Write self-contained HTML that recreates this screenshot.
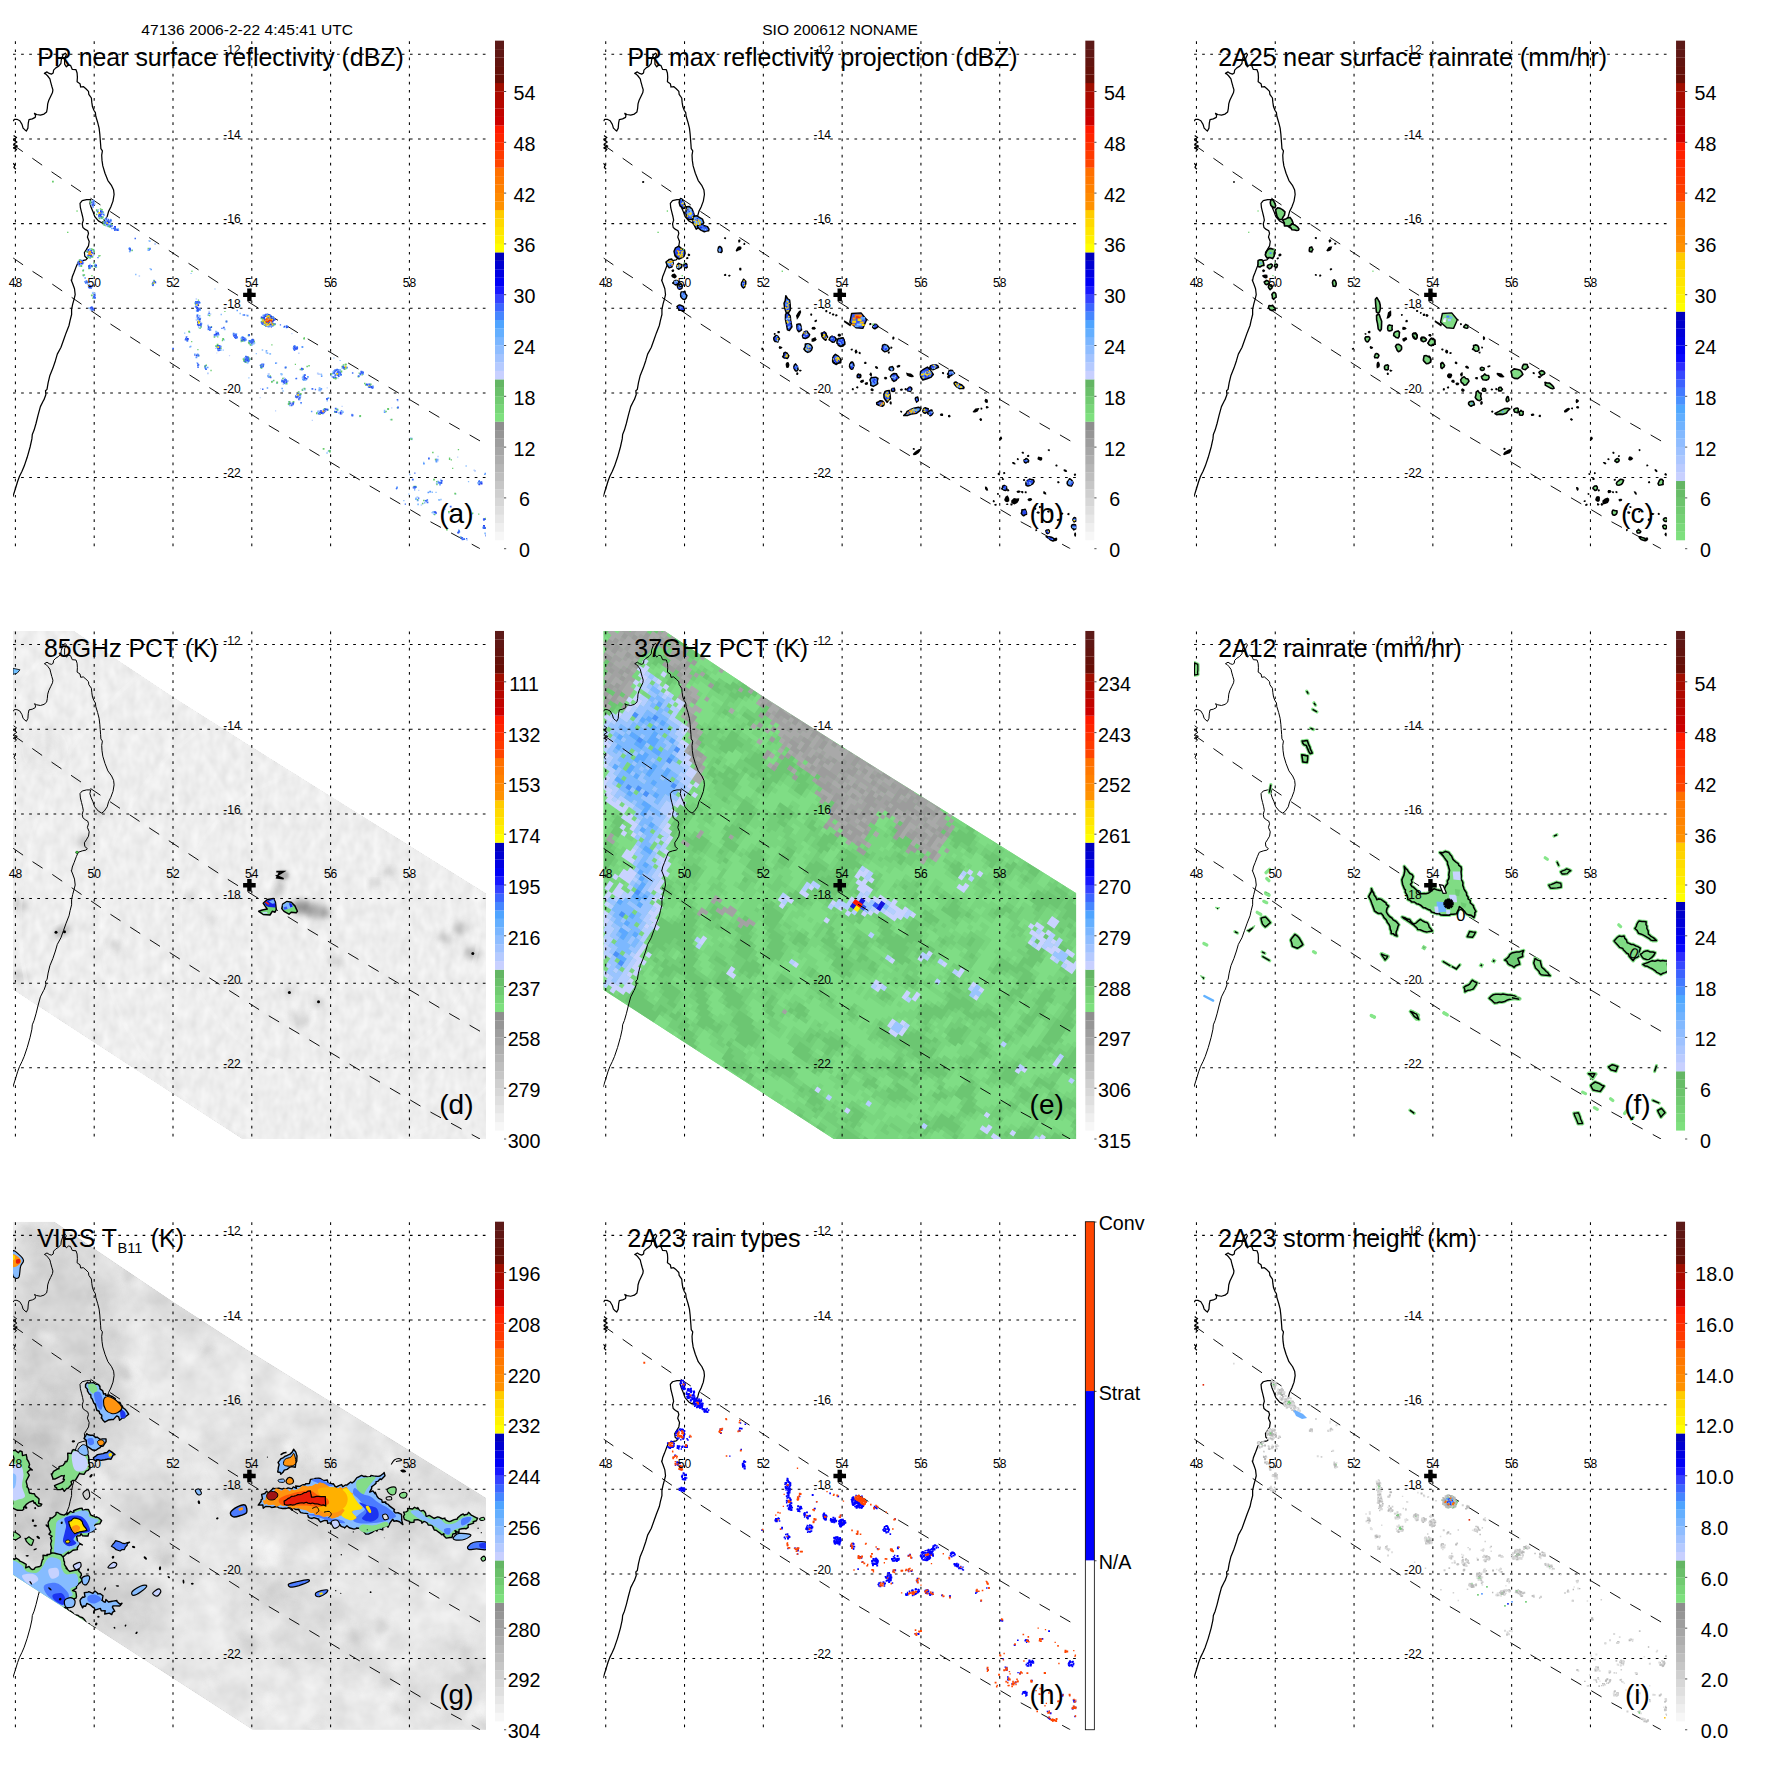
<!DOCTYPE html>
<html><head><meta charset="utf-8"><title>TRMM overpass 47136</title>
<style>
html,body{margin:0;padding:0;background:#fff}
svg{display:block}
text{font-family:"Liberation Sans",Arial,Helvetica,sans-serif;fill:#000}
.ti{font-size:24.9px}
.sub{font-size:14.6px}
.tk{font-size:19.7px}
.ax{font-size:12px}
.pl{font-size:28px}
.hd{font-size:13.9px}
.gr{fill:none;stroke:#000;stroke-width:1.05;stroke-dasharray:2.7 5.4}
.co{fill:none;stroke:#000;stroke-linejoin:round}
.da{fill:none;stroke:#000;stroke-width:0.95}
</style></head><body>
<svg xmlns="http://www.w3.org/2000/svg" width="1771" height="1771" viewBox="0 0 1771 1771">
<rect width="1771" height="1771" fill="#fff"/>
<defs><clipPath id="cp"><rect x="13.0" y="40.7" width="473.0" height="508.0"/></clipPath></defs>

<text class="hd" x="141.3" y="34.7" textLength="211.7" lengthAdjust="spacingAndGlyphs">47136 2006-2-22 4:45:41 UTC</text>
<text class="hd" x="762.2" y="34.7" textLength="155.6" lengthAdjust="spacingAndGlyphs">SIO 200612 NONAME</text>
<g transform="translate(0.00 0.00)">
<g clip-path="url(#cp)">

</g>
<path d="M15.4 41.3V548.7 M94.2 41.3V548.7 M173.0 41.3V548.7 M251.8 41.3V548.7 M330.6 41.3V548.7 M409.4 41.3V548.7" class="gr" stroke-dashoffset="0"/>
<path d="M13.0 54.3H486.0 M13.0 138.9H486.0 M13.0 223.6H486.0 M13.0 308.2H486.0 M13.0 392.9H486.0 M13.0 477.5H486.0" class="gr"/>
<g clip-path="url(#cp)">
<path d="M13.2 121.1 L14.3 119.3 L16.9 119.3 L19.8 120.7 L22.0 124.4 L23.1 128.1 L25.0 129.9 L26.4 131.0 L27.9 128.1 L28.3 122.9 L29.0 119.6 L32.3 118.9 L35.2 117.4 L35.6 115.6 L34.5 113.4 L36.7 114.5 L40.4 115.2 L44.0 114.1 L46.6 111.9 L47.3 108.3 L47.7 103.9 L48.8 100.2 L50.6 96.5 L52.5 92.5 L52.9 89.9 L51.8 86.2 L50.6 81.8 L49.9 78.9 L47.7 76.0 L45.9 74.1 L44.4 73.4 L47.0 71.9 L49.2 73.4 L51.4 74.1 L53.2 73.0 L53.6 70.1 L55.8 67.9 L58.7 66.1 L60.9 63.5 L61.3 59.8 L63.1 54.7 L65.3 53.2 L66.4 54.7 L64.6 58.4 L64.6 64.2 L66.4 66.8 L68.3 65.0 L70.5 65.3 L72.3 69.4 L76.0 69.7 L77.1 73.0 L77.4 77.4 L77.1 81.8 L80.0 83.7 L80.7 87.0 L83.3 86.6 L85.9 88.8 L88.5 91.4 L88.8 94.3 L91.4 98.0 L91.8 102.4 L92.5 106.8 L94.0 110.5 L95.4 112.7 L95.8 116.3 L97.6 122.2 L99.1 128.1 L99.8 134.0 L100.2 139.1 L100.6 144.2 L100.9 148.6 L102.4 150.8 L101.7 155.2 L102.0 160.4 L102.8 165.9 L105.0 173.2 L107.9 180.6 L111.6 185.7 L113.6 190.1 L114.1 194.5 L113.0 201.1 L110.8 207.0 L108.6 211.4 L107.2 216.5 L104.2 220.9 L101.7 222.8 L98.4 220.9 L94.7 216.5 L92.9 211.4 L91.0 207.0 L89.9 203.3 L90.7 199.6 L86.6 199.6 L82.2 200.7 L80.0 203.3 L80.4 207.7 L81.5 212.1 L82.6 216.5 L83.3 220.2 L82.2 223.9 L82.9 227.5 L85.2 229.4 L87.7 230.8 L88.5 233.4 L87.4 237.1 L89.2 241.5 L88.5 245.9 L86.3 249.6 L84.4 252.5 L84.8 256.2 L87.4 258.4 L85.9 259.8 L82.2 260.6 L78.2 262.0 L76.3 266.4 L74.1 272.3 L72.3 276.7 L71.6 280.4 L71.2 280.0 L72.7 283.7 L74.5 288.8 L75.2 294.7 L74.1 299.1 L72.7 304.2 L71.6 309.4 L71.6 314.5 L70.1 320.4 L69.0 325.5 L66.1 332.9 L63.5 340.2 L60.9 347.5 L57.3 354.1 L55.4 360.7 L52.9 368.1 L49.9 375.4 L48.1 382.8 L47.0 389.4 L45.5 390.8 L45.9 394.5 L44.0 399.7 L43.7 400.0 L40.4 406.6 L38.2 414.7 L36.0 423.5 L34.1 430.1 L32.3 434.5 L31.9 438.9 L30.1 447.0 L27.2 457.3 L24.2 466.1 L22.0 471.2 L19.5 476.3 L17.6 481.5 L15.4 488.8 L12.8 496.9 M13.6 135.4 L16.5 137.6 L13.2 139.8 L16.9 142.0 L13.6 144.2 L17.3 146.1 L13.2 147.9 L16.5 149.4 L14.7 151.6 M12.8 163.3 L15.0 165.1 L13.9 167.3 L15.8 169.2" class="co" stroke-width="1.25"/>
<path d="M13.0 144.8 L32.3 158.2 L51.4 171.7 L110.3 211.6 L149.9 238.0 L227.9 289.1 L287.7 326.4 L308.1 339.1 L449.2 423.2 L469.6 434.9 L486.0 444.4" class="da" stroke-dasharray="12.00 11.53"/>
<path d="M13.2 258.0 L32.3 271.2 L52.1 284.0 L110.3 323.9 L149.9 349.6 L189.6 375.0 L229.2 400.2 L268.8 425.5 L309.5 449.6 L369.7 485.9 L409.9 509.5 L430.7 521.9 L471.8 544.2 L480.0 548.7" class="da" stroke-dasharray="11.99 11.52"/>
<g fill="none">
<path stroke="#1C34F0" stroke-width="1.3" d="M91.9 205.2h1.3M92.5 205.3h1.3M90.9 202.6h1.3M100.3 214.5h1.3M101.1 213.8h1.3M99.7 215.8h1.3M106.4 224.8h1.3M109.1 222.4h1.3M106.4 222.9h1.3M106.9 222.4h1.3M114.4 229.2h1.3M88.5 255.2h1.3M87.8 255.6h1.3M89.1 251.6h1.3M81.3 263.8h1.3M78.9 264.4h1.3M78.7 263h1.3M80.8 263.7h1.3M88.2 266.6h1.3M85.7 282.4h1.3M89.5 287.6h1.3M89.8 285.9h1.3M93.5 296.3h1.3M91.8 308.5h1.3M197.1 304.2h1.3M195.4 303.5h1.3M209.5 327.6h1.3M208.3 327.3h1.3M215.8 333.2h1.3M218.6 348.3h1.3M216.9 346.5h1.3M217 349h1.3M196.2 355.8h1.3M195.7 355.2h1.3M233.9 335.3h1.3M247.7 361.3h1.3M248.2 359.8h1.3M303.6 378.3h1.3M336.3 373.3h1.3M343.8 367.3h1.3M366.9 385h1.3M319.1 389.4h1.3M296.1 397h1.3M298.2 395.8h1.3M297.3 396h1.3M291.6 403.2h1.3M291.6 403.7h1.3M326 398.9h1.3M320.1 412.1h1.3M320.6 411h1.3M438.7 482.6h1.3M479.2 483.1h1.3M478.9 483.3h1.3M483.8 527.2h1.3M265.6 319.4h1.3M268.8 314.6h1.3M261.9 324h1.3M270.7 326.8h1.3M272.5 320.5h1.3M270.8 324.5h1.3M274.5 319.5h1.3M266.2 316.4h1.3M272.3 317h1.3M265 322.3h1.3M265.3 325.7h1.3M265.4 316.3h1.3M274.5 324.2h1.3M267.7 324.1h1.3M269.6 318.5h1.3M261.7 317.8h1.3M263 318.2h1.3M263.8 317.6h1.3M272.7 320.1h1.3M269.2 316.6h1.3M266.2 314.9h1.3M271.6 320.4h1.3M263.6 323.1h1.3M268.1 316.4h1.3M265.6 322.4h1.3M268.4 316.1h1.3M271.3 322.2h1.3M267.8 320.5h1.3M264.9 323.8h1.3"/>
<path stroke="#1C34F0" stroke-width="1.8" d="M92.9 203.5h1.8M98.6 214.3h1.8M100 211.2h1.8M98.8 213.4h1.8M106.8 222.6h1.8M106.6 221.1h1.8M114.1 226.9h1.8M89.4 255.7h1.8M88.8 253.4h1.8M90.5 255.7h1.8M87.2 252h1.8M78.7 263.5h1.8M95.2 265.4h1.8M90.4 307.7h1.8M197.4 308.9h1.8M196.6 307.7h1.8M197.1 322.3h1.8M198.6 321.5h1.8M207.8 328.4h1.8M215.8 333.9h1.8M217.6 347.5h1.8M218.9 348.4h1.8M186.9 339h1.8M186.4 338.9h1.8M185.2 339h1.8M242.1 339.9h1.8M246.7 361.2h1.8M247 359.9h1.8M293.9 349h1.8M293.8 347.3h1.8M295.6 348.7h1.8M296.3 347.6h1.8M235.1 335.7h1.8M243 340h1.8M252.6 341.9h1.8M246.4 361.2h1.8M283.8 379.2h1.8M283.7 380.8h1.8M303.1 376.9h1.8M337.5 371.5h1.8M360.6 372.5h1.8M368.8 385.8h1.8M319.4 389.8h1.8M297.2 394.4h1.8M289 403.3h1.8M320.4 413.1h1.8M339.8 412.5h1.8M340 413.6h1.8M339.5 413.4h1.8M435.6 459.6h1.8M480.7 483.5h1.8M484 519.2h1.8M483 525.9h1.8M458.1 531.1h1.8M463 539h1.8M461.1 538h1.8M265.9 321.9h1.8M269.3 316.6h1.8M268.5 322.2h1.8M262.6 320.6h1.8M273.1 319.8h1.8M267.8 323.6h1.8M272.4 323.8h1.8M270.8 318.2h1.8M264.2 316.1h1.8M263.2 317.2h1.8M270.9 324h1.8M272.5 319.1h1.8M264 321.7h1.8M268.9 324.5h1.8M260.8 321.8h1.8M267.3 317.4h1.8M269.5 324.4h1.8M267.6 323.2h1.8M268.8 317.9h1.8M265.9 322.7h1.8M266.6 324h1.8M260.8 317.3h1.8M265.2 316.1h1.8"/>
<path stroke="#1C34F0" stroke-width="1.5" d="M91 202.2h1.5M92.5 203.8h1.5M93.2 203.8h1.5M100.8 212.6h1.5M99.4 212.7h1.5M99.6 215.2h1.5M107.8 221.3h1.5M106.3 224.1h1.5M108 222.5h1.5M90.3 255.7h1.5M90.7 252.5h1.5M91.9 253h1.5M77.6 263.8h1.5M81.4 263.1h1.5M86.7 282.5h1.5M91 307.2h1.5M153.6 282.1h1.5M195.9 303.1h1.5M197.2 305h1.5M197.6 305.3h1.5M198.5 321.7h1.5M197.1 318.1h1.5M207.8 326.7h1.5M213.9 335.2h1.5M216.2 334.3h1.5M216.2 335h1.5M214.7 334.6h1.5M217.1 346h1.5M217.7 347.6h1.5M234.6 335.7h1.5M251.7 341.9h1.5M245.9 359.1h1.5M296.3 347.9h1.5M233.2 335.8h1.5M244.2 339.8h1.5M250.3 340.7h1.5M300.9 368.5h1.5M302 368.9h1.5M283.9 380.2h1.5M282.9 382.1h1.5M283.5 383h1.5M304.6 378h1.5M336.6 374.8h1.5M337.9 374.6h1.5M336.8 372.5h1.5M342.4 367.5h1.5M361.7 373.1h1.5M298.3 398.3h1.5M296.1 397.5h1.5M326.5 399h1.5M319.1 412.5h1.5M322.3 412.3h1.5M323.4 410.7h1.5M320.9 412.8h1.5M323 410.1h1.5M437.8 482.4h1.5M433.5 512h1.5M262.5 322.7h1.5M269.9 316.2h1.5M269.2 316.6h1.5M272 321.7h1.5M268.1 326.6h1.5M269.2 318.4h1.5M271 319.3h1.5M265.2 314.5h1.5M267.5 323.3h1.5M265.8 314.5h1.5M263.7 320h1.5M271.9 320.1h1.5M263.7 323.5h1.5M263.9 319.4h1.5M263.1 318.8h1.5M271.8 324.9h1.5M265.2 326.1h1.5M262 322.3h1.5M263.4 320.4h1.5M263.5 320.9h1.5"/>
<path stroke="#B8D0FF" stroke-width="1.3" d="M93.5 202.2h1.3M100.8 218.7h1.3M101.2 218.6h1.3M109 226h1.3M110.8 220.6h1.3M106.6 217.7h1.3M88.2 257.3h1.3M81.1 260.5h1.3M82.8 276.4h1.3M148.3 240.7h1.3M194.4 302.4h1.3M195.8 317.7h1.3M207.6 325.5h1.3M186.8 336.6h1.3M253 340.1h1.3M245.6 315.1h1.3M235.1 334.6h1.3M280.7 374.9h1.3M306.8 378.6h1.3M321 375.6h1.3M317.9 390.5h1.3M300 395.4h1.3M300.4 403.5h1.3M317.1 411.8h1.3M337.3 410.2h1.3M391.1 407.9h1.3M351.4 414.2h1.3M389.8 419.6h1.3M437.5 460.8h1.3M439.7 484.6h1.3M418.1 490.3h1.3M428.8 491.8h1.3M455.1 494h1.3M423.8 502.9h1.3M439.1 500.3h1.3"/>
<path stroke="#B8D0FF" stroke-width="1.5" d="M97.7 217.4h1.5M108.7 226.7h1.5M109 225.8h1.5M82.7 262.6h1.5M92.4 292.5h1.5M94.3 293.2h1.5M91.9 310.2h1.5M87.9 307.8h1.5M138.6 276.1h1.5M195.6 299.1h1.5M196.3 316.5h1.5M199.4 327.8h1.5M195.9 320.3h1.5M209.8 313.9h1.5M208.4 311.6h1.5M260.9 366.2h1.5M265.5 352.5h1.5M298.1 353.2h1.5M262.7 363.8h1.5M268.2 374h1.5M320.3 374.3h1.5M337.2 378h1.5M301.9 389h1.5M397 400.8h1.5M396.9 399.8h1.5M329.1 451.6h1.5M352.3 414.9h1.5M411.1 439.5h1.5M437.3 456.6h1.5M448.9 459h1.5M473.5 470.3h1.5M440 479.5h1.5M412.5 487.1h1.5M420.6 505.1h1.5M448.2 513.2h1.5M458.4 512h1.5M482.7 519.2h1.5M466.3 539.9h1.5"/>
<path stroke="#B8D0FF" stroke-width="1.8" d="M109.7 225.1h1.8M86.3 256.2h1.8M93.3 251.5h1.8M82.5 275h1.8M154.3 244h1.8M151.8 284.5h1.8M198.9 302.6h1.8M196.7 315h1.8M195.6 319.7h1.8M196.9 325.4h1.8M209.7 330.2h1.8M213.6 336.5h1.8M197.6 356h1.8M207 373.4h1.8M247.9 335.8h1.8M275.4 363h1.8M267.6 374.2h1.8M271.6 381.1h1.8M287 381h1.8M283.3 378.1h1.8M316.9 373.5h1.8M318.1 374.2h1.8M331 376.5h1.8M298.3 392.3h1.8M298.9 399.5h1.8M326.7 409.1h1.8M338.3 413.2h1.8M437.3 459.7h1.8M474.1 470.9h1.8M416.5 497.1h1.8M417.6 498.7h1.8"/>
<path stroke="#B8D0FF" stroke-width="1.2" d="M259.6 397.6h1.2M291.3 333.7h1.2M275 410.9h1.2M457.1 457.1h1.2M304.9 388.5h1.2M326.6 387.9h1.2M311.7 420.3h1.2M341.5 406.4h1.2"/>
<path stroke="#5C9CFF" stroke-width="1.3" d="M92.6 202.6h1.3M105.4 222h1.3M104.1 223.4h1.3M87.5 256.9h1.3M90.2 249.9h1.3M89 265.5h1.3M86.7 281.5h1.3M88.8 284.7h1.3M94.4 297.2h1.3M128.9 251.5h1.3M155 282.8h1.3M196 306.1h1.3M217.4 334h1.3M185.7 338.9h1.3M205 369.4h1.3M232.9 333.8h1.3M244.7 361.7h1.3M246.2 361.6h1.3M245.1 340h1.3M241.8 340.6h1.3M248.4 340.6h1.3M260.3 365.4h1.3M261.1 367.7h1.3M259.6 365.3h1.3M285.2 379.7h1.3M284.5 382.8h1.3M281 381.5h1.3M295.3 378.7h1.3M332.9 371.2h1.3M337.7 372.9h1.3M334.8 378.2h1.3M333.5 378.1h1.3M332.1 376.8h1.3M338.9 370.2h1.3M337.6 371.8h1.3M359.9 374.8h1.3M367.9 387.2h1.3M369.3 387.4h1.3M302.1 390.3h1.3M296.2 394.4h1.3M288.7 404.7h1.3M318.8 414.1h1.3M317.5 411.2h1.3M435.5 460.8h1.3M484.1 474.3h1.3M440.3 480.4h1.3M478.7 480.6h1.3M395.8 488.7h1.3M414 489.8h1.3M431.6 512.7h1.3M444.2 509.1h1.3M471.2 514.3h1.3M461.6 539.2h1.3M273.7 318.9h1.3M270.2 315.6h1.3M266.9 314.2h1.3M271.8 325.6h1.3M263.2 316h1.3M262.1 323.7h1.3M266.1 315.4h1.3M271.3 326.4h1.3M274.3 324.2h1.3"/>
<path stroke="#5C9CFF" stroke-width="1.8" d="M92.5 200.7h1.8M101.4 217.5h1.8M104.5 223.6h1.8M104.6 219.5h1.8M107.2 226h1.8M105.5 220.9h1.8M110.1 224.7h1.8M117.3 230.2h1.8M92.8 250.2h1.8M87.2 255.4h1.8M79.6 260.1h1.8M78.5 265.6h1.8M95.3 266.9h1.8M93 297.9h1.8M128.3 248.7h1.8M148 250.2h1.8M149.1 248.7h1.8M198.9 309.5h1.8M195.9 310.9h1.8M200.5 323.6h1.8M197.2 319.2h1.8M197.2 318.5h1.8M209.1 327.8h1.8M217.7 334.7h1.8M215.2 335.6h1.8M216.1 346.9h1.8M186.5 340.8h1.8M195.5 357.4h1.8M196.7 354.3h1.8M204.5 366.9h1.8M232.7 334.7h1.8M241 338.4h1.8M241.5 337.6h1.8M241.7 337.2h1.8M248.4 358.7h1.8M246.7 362.3h1.8M244.2 359.8h1.8M267.1 376.2h1.8M246.7 315.6h1.8M285.8 325.9h1.8M293.8 345.8h1.8M301.5 347h1.8M235.3 337.7h1.8M235.9 337.7h1.8M245 339.6h1.8M250.8 344.9h1.8M248.6 359.1h1.8M244.4 358.9h1.8M284.3 380.2h1.8M303.2 380h1.8M307 376.9h1.8M301.8 377.7h1.8M332.6 372h1.8M334.2 375.5h1.8M337.7 369.9h1.8M333.1 373.3h1.8M346.2 367.6h1.8M372 386.5h1.8M367.9 386.9h1.8M366.3 384.9h1.8M318.6 389.4h1.8M320.4 388.8h1.8M298.8 394.2h1.8M288.4 401.8h1.8M327.5 398.1h1.8M383.8 412.1h1.8M435.8 460h1.8M435.6 461.7h1.8M423 463.6h1.8M484.6 473.6h1.8M440.5 481.3h1.8M477.5 482.9h1.8M396.2 487.5h1.8M415.1 487.1h1.8M429.3 491.6h1.8M416.8 500.3h1.8M415 498.8h1.8M433.5 511.8h1.8M483.9 528h1.8M457.9 532.4h1.8M262.5 315.7h1.8M268.7 326.1h1.8M262.7 315.3h1.8M272 317.1h1.8M266.1 315.4h1.8M270.7 325.9h1.8M267.1 326.4h1.8M273.8 324.1h1.8M266.7 315.1h1.8M267.7 326.4h1.8"/>
<path stroke="#5C9CFF" stroke-width="1.5" d="M100.9 213.2h1.5M100.4 216.9h1.5M96.9 211.7h1.5M104.7 219.2h1.5M108 224.7h1.5M117.3 229.1h1.5M109.5 226.6h1.5M113.6 227.8h1.5M111.2 228.5h1.5M115.2 229h1.5M87.6 251.8h1.5M87.4 255.4h1.5M88.3 249.7h1.5M77.3 262.9h1.5M94.4 264.4h1.5M84.4 277.9h1.5M84.1 281.8h1.5M92.8 296.6h1.5M129 248h1.5M153.2 280.6h1.5M150.4 269.4h1.5M199 302.8h1.5M197 311.2h1.5M196.7 315.1h1.5M198.7 320.3h1.5M208.5 328.2h1.5M209.6 329.2h1.5M215.8 332.2h1.5M220.2 346.6h1.5M189.9 346.5h1.5M207 367.5h1.5M205 368.2h1.5M241.8 337h1.5M251.1 339.7h1.5M249.8 341.9h1.5M244.6 361.2h1.5M236.5 310.5h1.5M242.5 315h1.5M292.7 348.1h1.5M296.4 346.7h1.5M241.6 338.6h1.5M248.2 342.2h1.5M252.1 343.6h1.5M265.8 350.7h1.5M243.4 361.2h1.5M248.2 359.3h1.5M248 360.7h1.5M248 357.9h1.5M275 363.2h1.5M267.3 376.3h1.5M276.2 383h1.5M281.4 388.6h1.5M266.7 388.1h1.5M305 379.8h1.5M302.1 379.5h1.5M303 375.7h1.5M320.9 376.3h1.5M331.8 373.5h1.5M337.2 374.6h1.5M339.5 373.9h1.5M362.2 374.2h1.5M299.4 395.6h1.5M298.8 395.6h1.5M326.8 409.8h1.5M322.8 409.8h1.5M322.9 412.9h1.5M310.9 411.6h1.5M342.1 412.2h1.5M340.7 410.8h1.5M437.3 481.5h1.5M438.1 482.7h1.5M439.2 484.8h1.5M479.1 481.7h1.5M427.5 492.6h1.5M433.8 514.3h1.5M469.2 519.5h1.5M458 530.2h1.5M463.6 538.9h1.5M272.4 325.8h1.5M265.1 326.1h1.5M273.4 323.8h1.5"/>
<path stroke="#8CC0FF" stroke-width="1.3" d="M90.6 201.2h1.3M102.2 216.6h1.3M101.9 212.4h1.3M99.1 217.1h1.3M109.9 219.3h1.3M111.6 225.2h1.3M90.5 257.2h1.3M92.4 250.8h1.3M80.7 261.4h1.3M82.9 270h1.3M86.7 283.5h1.3M87.7 286.6h1.3M94 293.3h1.3M91.6 306.9h1.3M129.6 251.5h1.3M149.5 268.7h1.3M197.6 301.9h1.3M194.7 306.7h1.3M200.3 327.3h1.3M198.1 327.5h1.3M207.6 314.1h1.3M215.3 348.4h1.3M187 340.4h1.3M184 333.2h1.3M194.3 353.9h1.3M194 354.4h1.3M196.3 362.8h1.3M223.4 340h1.3M223.3 339.3h1.3M235.1 334.3h1.3M250.2 344.6h1.3M253.3 341.4h1.3M252.2 340.2h1.3M248.1 341.7h1.3M265.6 351.2h1.3M260.7 367.4h1.3M282.6 384.1h1.3M284.6 383.9h1.3M302.7 375.2h1.3M302 377h1.3M333.1 371.2h1.3M335.9 370.4h1.3M340.5 372h1.3M338.5 376.3h1.3M370.6 387.8h1.3M368 384.1h1.3M298.7 399.1h1.3M292.7 402.9h1.3M337 410.4h1.3M341.5 413.6h1.3M359.3 416.5h1.3M329.6 450.1h1.3M423 462.3h1.3M465.5 466h1.3M441 483.3h1.3M478.1 481.9h1.3M467.9 481.6h1.3M435.4 492.3h1.3M408.2 494.1h1.3M422.3 503.7h1.3M403.2 500.6h1.3M435.1 513.6h1.3M432.4 512.6h1.3M459 531.9h1.3"/>
<path stroke="#8CC0FF" stroke-width="1.8" d="M90.3 204.3h1.8M93.8 203.9h1.8M102.8 214.5h1.8M103.2 215.2h1.8M103.1 222.1h1.8M105.3 225.5h1.8M110.1 219.9h1.8M116.7 229.3h1.8M89.1 248.9h1.8M88.8 257.3h1.8M91.9 293.2h1.8M89.8 309.5h1.8M148.8 241.2h1.8M199.1 310.1h1.8M195.1 305h1.8M198.4 309.5h1.8M198.7 315.8h1.8M200 323.4h1.8M207.3 329.4h1.8M215.1 331.6h1.8M217.2 349.8h1.8M219.8 350h1.8M197.4 355.6h1.8M223.8 329.4h1.8M235.4 333.9h1.8M235 338.2h1.8M232.7 333.5h1.8M252.8 343.7h1.8M250.9 340.1h1.8M249 341.2h1.8M246.6 362.7h1.8M266.5 353.1h1.8M267 376.4h1.8M283.1 327.1h1.8M293.5 349.4h1.8M243.6 341.1h1.8M249 343.5h1.8M269.3 353.8h1.8M243.6 360h1.8M245.6 356.8h1.8M284.9 367.1h1.8M268.3 376.7h1.8M281 374.4h1.8M280.3 373.9h1.8M304.4 379.8h1.8M330.2 375.4h1.8M339.3 370h1.8M339.7 375.2h1.8M319.3 390.5h1.8M318.7 387.8h1.8M299.5 396.5h1.8M336.3 409.3h1.8M336 409.4h1.8M341.6 411.7h1.8M409.9 438.4h1.8M410.9 438.7h1.8M435.9 483.5h1.8M477.8 483.6h1.8M478.3 484.2h1.8M415.1 498.3h1.8M417.2 504.3h1.8M438.1 499.9h1.8M469 519.8h1.8M482.4 527.5h1.8M484.2 533.3h1.8"/>
<path stroke="#8CC0FF" stroke-width="1.5" d="M92.4 206.2h1.5M98.6 216.9h1.5M96.2 211.1h1.5M97.5 210h1.5M101.9 211.9h1.5M109.2 224.5h1.5M105.2 219.7h1.5M109.9 222.9h1.5M103 224.4h1.5M92.8 254.9h1.5M79.1 265.9h1.5M89.4 264.5h1.5M85.7 280.9h1.5M86.9 284h1.5M88.8 308.3h1.5M131.5 250.2h1.5M147.2 249.9h1.5M152.3 285.5h1.5M135 274.6h1.5M195.2 302.8h1.5M199.7 318.3h1.5M207.5 315.2h1.5M207.2 325.6h1.5M216.9 332.5h1.5M217.1 335.3h1.5M185.6 337.3h1.5M188.9 332.3h1.5M189.1 347h1.5M204.2 367.4h1.5M220.5 314.5h1.5M235.7 337.7h1.5M244.7 338.6h1.5M240.3 338.2h1.5M253.8 342.9h1.5M239.4 313.4h1.5M285.8 327.7h1.5M253.7 343h1.5M261.7 350.1h1.5M248.7 358.8h1.5M243.8 357.7h1.5M246.1 362.1h1.5M246.1 361.9h1.5M282.3 391h1.5M304.2 380.3h1.5M320.7 374.4h1.5M339 371.1h1.5M333.6 376.9h1.5M336 370.2h1.5M341.5 368.2h1.5M304.2 389.7h1.5M299 393.7h1.5M288.9 405.5h1.5M292.6 402.9h1.5M300.5 403h1.5M326.5 400.8h1.5M318.6 411.5h1.5M317 412.2h1.5M338.4 412.7h1.5M383.8 410.4h1.5M327.7 451.2h1.5M326.3 453h1.5M409 474.6h1.5M477.5 483.1h1.5M431.5 492.3h1.5M425.6 500.5h1.5M424 502.7h1.5M440.2 499.6h1.5M432.1 512h1.5M433.2 514.2h1.5M486 519.4h1.5M459.4 536.8h1.5M462.3 538.4h1.5"/>
<path stroke="#8CC0FF" stroke-width="1.2" d="M214.4 289h1.2M248.3 377.8h1.2M190.5 273.5h1.2M255.7 353.7h1.2M339.5 360.5h1.2M222.6 350.2h1.2M333.3 358h1.2"/>
<path stroke="#68CC6C" stroke-width="1.8" d="M89.7 202.6h1.8M98.7 218.3h1.8M101.6 217.6h1.8M102.6 222.6h1.8M103.3 224.6h1.8M93.2 251.4h1.8M91.5 256.9h1.8M85.9 251.6h1.8M87.3 256.8h1.8M80.4 266h1.8M78.8 260.1h1.8M88.1 268.3h1.8M91.2 266.3h1.8M82.2 270.6h1.8M90.9 295.3h1.8M151.7 283.8h1.8M194.5 303.4h1.8M215.2 346.2h1.8M216.7 344.7h1.8M188.2 331.6h1.8M204.1 366.4h1.8M222.2 339h1.8M241.9 340.8h1.8M260.1 366.3h1.8M52 181.7h1.8M303.2 338.6h1.8M240.5 340.2h1.8M247.7 335.3h1.8M243.1 360.4h1.8M242.7 359.2h1.8M244.7 362.1h1.8M260.5 367.9h1.8M271 381.8h1.8M276.3 382.5h1.8M285.7 383.5h1.8M340.5 371.5h1.8M334.7 378.5h1.8M343.7 369.2h1.8M341.4 366.6h1.8M344.6 364.6h1.8M357.6 376.7h1.8M369.8 384.5h1.8M303.5 388.6h1.8M299.8 394h1.8M292.6 401.9h1.8M288.5 401.9h1.8M287.8 404h1.8M334.2 412h1.8M387.3 409h1.8M390.7 419.7h1.8M329 451.5h1.8M328.9 450.9h1.8M322.7 448.9h1.8M359.3 416h1.8M410.5 439.1h1.8M433.1 479.6h1.8M413.4 486.7h1.8M454.3 493.7h1.8M448 511.9h1.8M446 529.7h1.8"/>
<path stroke="#68CC6C" stroke-width="1.3" d="M89.7 201.3h1.3M102.8 212.1h1.3M102.2 217.1h1.3M104.3 225.4h1.3M102.9 219.6h1.3M109 225.8h1.3M109.2 227h1.3M99.3 255.7h1.3M92.1 298.2h1.3M131.4 250.5h1.3M147.6 248.4h1.3M197.8 300.2h1.3M199.4 328.3h1.3M209 315.5h1.3M208.6 315.4h1.3M217.1 336.8h1.3M220.6 348.2h1.3M210.4 370.5h1.3M221.8 340.5h1.3M252.8 339.9h1.3M247.9 342.5h1.3M249.3 358.9h1.3M261.4 366h1.3M261.3 366.8h1.3M269.6 376h1.3M269.7 376.4h1.3M303.7 338h1.3M253.7 341.7h1.3M249 359.7h1.3M285 367.6h1.3M345.4 368.6h1.3M358.5 373.2h1.3M361.5 374.9h1.3M294.9 396.9h1.3M319.6 414.3h1.3M328.4 450.6h1.3M457.8 449.7h1.3M434.8 459.5h1.3M448.9 459.4h1.3M448.9 458.1h1.3M450.7 459.8h1.3M436.3 484.5h1.3M436.1 481.7h1.3M415.1 486.4h1.3M416.9 499.7h1.3M421.9 503.5h1.3M434 514.7h1.3M478.1 514.2h1.3M485.1 518.5h1.3M485.4 528.1h1.3M460.6 537.3h1.3"/>
<path stroke="#68CC6C" stroke-width="1.5" d="M95.9 210h1.5M95.9 214.5h1.5M101.3 209.8h1.5M96.1 210.5h1.5M100.8 218.1h1.5M99.8 209.1h1.5M107.7 226.5h1.5M110.8 224.5h1.5M87.7 257.4h1.5M91 248.9h1.5M92.5 249.8h1.5M89.4 257.9h1.5M93.6 265.8h1.5M94.8 267.2h1.5M98.2 255.9h1.5M82.6 275.2h1.5M83.6 274.9h1.5M153.6 280.8h1.5M200.3 326.8h1.5M210.7 327.1h1.5M213.7 337h1.5M197.8 355.5h1.5M205.5 365.3h1.5M225.7 321.6h1.5M249.8 344.9h1.5M248.1 335.1h1.5M247.6 357.3h1.5M243.8 361.2h1.5M248.2 342.9h1.5M248.6 343.6h1.5M299.6 369.4h1.5M302.5 369.2h1.5M306.4 366.5h1.5M308.3 365.7h1.5M273 380.4h1.5M282.1 378.5h1.5M335.3 378.1h1.5M334.6 378.3h1.5M330.7 374h1.5M332.9 377.9h1.5M345.2 364.6h1.5M342.7 365h1.5M364 383.6h1.5M365 385.1h1.5M301.5 390h1.5M297.8 392.1h1.5M327.1 410.1h1.5M323.7 408.7h1.5M316 413.4h1.5M316 412.9h1.5M336.8 409.4h1.5M387.3 409.1h1.5M385.3 411.4h1.5M396.7 407.7h1.5M432.1 452.5h1.5M423.1 500.5h1.5M471.9 513.2h1.5"/>
<path stroke="#68CC6C" stroke-width="1.2" d="M294.8 364.3h1.2M197.3 349.6h1.2M271.3 344.9h1.2M452.1 468.3h1.2M191.1 341.6h1.2M240.6 341.7h1.2M336.4 409.8h1.2M224.3 311.5h1.2"/>
<path stroke="#2C50F0" stroke-width="1.3" d="M91.8 204.9h1.3M97.3 211.9h1.3M106 224.4h1.3M114.5 228h1.3M109.6 226.1h1.3M116.2 229.9h1.3M113.1 228.5h1.3M90.4 256.5h1.3M94.3 266.4h1.3M85.6 281.1h1.3M152.2 285.4h1.3M208.3 329.3h1.3M219.2 347.7h1.3M186.5 340.5h1.3M185.8 337.1h1.3M252.7 340.7h1.3M251 341.4h1.3M244.5 361.5h1.3M244.3 361.7h1.3M293.1 348.9h1.3M293.5 346.5h1.3M234.1 337.3h1.3M233.2 333.9h1.3M235 334.8h1.3M251.2 342h1.3M249.5 341.1h1.3M251 341.6h1.3M246.2 357.8h1.3M260.1 365.2h1.3M285.9 381.7h1.3M304.4 378.2h1.3M304.2 375.1h1.3M334.9 377.3h1.3M338.2 371.8h1.3M335.8 370.6h1.3M339.5 372.5h1.3M342.5 366.6h1.3M343.3 368.7h1.3M361 371.6h1.3M295.1 396h1.3M299.3 394.9h1.3M295.9 397.1h1.3M292.8 403h1.3M292.5 404.5h1.3M326.7 409.8h1.3M319.8 410.8h1.3M439.3 482.6h1.3M478.3 481.5h1.3M413.6 486.9h1.3M483 519.2h1.3M261.9 318.7h1.3M267.7 315.5h1.3M264 321.7h1.3M264.8 321.4h1.3M265.5 323.9h1.3M270.1 317.9h1.3M269.8 317.6h1.3"/>
<path stroke="#2C50F0" stroke-width="1.5" d="M100.4 216.5h1.5M98.2 216.3h1.5M105.6 218.9h1.5M108 221.4h1.5M104.4 221.9h1.5M88.6 286.7h1.5M94.1 295h1.5M91.9 308h1.5M90 307.9h1.5M91.9 308.1h1.5M129.5 249.9h1.5M152.3 282.6h1.5M196 308.6h1.5M195.3 306.9h1.5M196.6 316h1.5M197.3 322h1.5M197.9 325.6h1.5M210.5 327.2h1.5M217.4 333.8h1.5M217.3 333.1h1.5M234.5 337.5h1.5M251.8 340.2h1.5M252.8 340.5h1.5M283.9 326.4h1.5M283.9 326.4h1.5M241.2 340.4h1.5M243 337.8h1.5M246.1 357.1h1.5M247 357.2h1.5M285.7 382.3h1.5M305.8 378.7h1.5M332.8 377.2h1.5M334.3 371.2h1.5M345 367.3h1.5M368.8 387.2h1.5M326.1 409.5h1.5M441.1 480.7h1.5M480 482.8h1.5M435.4 512.9h1.5M483.5 525.8h1.5M485.2 527.9h1.5M271.1 320.4h1.5M267.1 316.9h1.5M272.2 319.1h1.5M267.8 317.9h1.5M268.5 316.5h1.5M266.8 316.9h1.5"/>
<path stroke="#2C50F0" stroke-width="1.8" d="M109.9 226.3h1.8M116.5 230.1h1.8M87.8 255.2h1.8M90.3 250.8h1.8M87.4 250h1.8M81.2 261h1.8M81.7 263.4h1.8M90.6 265.8h1.8M88.2 265.8h1.8M90.9 286.3h1.8M89 287.5h1.8M93.4 297.1h1.8M92.6 309.4h1.8M91.3 309.7h1.8M129.2 249.2h1.8M154.3 282.2h1.8M196.3 301.9h1.8M197 309.7h1.8M197.1 310.7h1.8M198.1 302.3h1.8M199 319.2h1.8M199.1 325.2h1.8M197 324.3h1.8M199.9 324.1h1.8M217.1 345.8h1.8M243.6 339.8h1.8M244.6 359.6h1.8M286.4 327h1.8M285.9 327.1h1.8M235.5 337.3h1.8M251.9 340.6h1.8M251.7 339.7h1.8M247.2 359.2h1.8M282.5 381.3h1.8M337.4 375.1h1.8M365.9 384.4h1.8M370.5 387h1.8M371.6 387.8h1.8M324.6 409.2h1.8M335.5 412h1.8M440.4 482.8h1.8M478.5 484.4h1.8M414.3 487.2h1.8M434.4 512.1h1.8M483.1 519.6h1.8M483.3 528h1.8M457.2 532.7h1.8M262.9 318.4h1.8M267.5 316.6h1.8M268.5 316.2h1.8"/>
<path stroke="#3C6CF8" stroke-width="1.8" d="M92.6 201.6h1.8M101.1 211.7h1.8M109.5 220.3h1.8M114 230.1h1.8M114.2 229h1.8M88.9 268h1.8M88.8 268h1.8M94.1 297.8h1.8M93.6 295.4h1.8M152.8 282.9h1.8M197.3 302.5h1.8M198.6 309.4h1.8M195 301.9h1.8M200 325.4h1.8M218.7 346h1.8M217.6 350.4h1.8M197.4 355.3h1.8M197.5 364.8h1.8M222.9 327.7h1.8M225.6 321.5h1.8M235.9 337.2h1.8M234.8 334.8h1.8M241.6 337.8h1.8M249.4 341.9h1.8M248.2 335h1.8M245.6 358.7h1.8M247.7 360.8h1.8M172.2 348.7h1.8M234.8 336.8h1.8M250.7 342.7h1.8M251.8 340.8h1.8M245 356.6h1.8M262.5 364.6h1.8M260.3 367.1h1.8M262.2 366.4h1.8M284.6 367.6h1.8M269.7 377.3h1.8M284.8 380.2h1.8M281.5 381.3h1.8M281.5 380.9h1.8M304 375.2h1.8M340.2 374.7h1.8M334.3 370.4h1.8M333.4 373h1.8M333.5 372.9h1.8M334.5 370.2h1.8M337.4 374.2h1.8M336.3 369.7h1.8M342.4 366.6h1.8M362.2 372.4h1.8M361.8 372.9h1.8M359.5 374h1.8M360.5 371.7h1.8M357.8 376.2h1.8M368.5 384.3h1.8M311.5 388.9h1.8M298.9 397.9h1.8M295.3 396.9h1.8M290.6 405.4h1.8M321.8 413.4h1.8M317.8 413.7h1.8M334.8 408.7h1.8M351.5 415.5h1.8M397.1 407.5h1.8M428 458.5h1.8M411.9 479.6h1.8M413.9 487.8h1.8M426.6 502.3h1.8M449.8 506.6h1.8M482.9 527.5h1.8M485.4 535.5h1.8M461.7 539.3h1.8M261.5 323.5h1.8M260.9 322.8h1.8M264 315.4h1.8"/>
<path stroke="#3C6CF8" stroke-width="1.3" d="M92.4 207.2h1.3M102.6 214.3h1.3M103.8 223.4h1.3M111.7 225.8h1.3M87.9 251.8h1.3M77.8 261.3h1.3M90.4 266.7h1.3M97.3 257.7h1.3M88.1 287.7h1.3M93 297h1.3M92.2 309.6h1.3M129.4 248.6h1.3M149.3 249.1h1.3M152.7 284.6h1.3M198.3 302h1.3M196.3 301.9h1.3M196.2 308.7h1.3M198.1 317.4h1.3M209.2 330.3h1.3M194.2 355.1h1.3M197.1 363.5h1.3M204.7 365.8h1.3M204.6 368.1h1.3M221.3 328.4h1.3M233 335.9h1.3M235 338.3h1.3M251.1 340.3h1.3M250.6 341.8h1.3M248.9 340.6h1.3M247.5 359.3h1.3M261.1 364.3h1.3M268.3 377.2h1.3M243.8 315h1.3M286.6 326.7h1.3M279.8 324.8h1.3M294.5 346.8h1.3M293.4 349.1h1.3M293.2 346.7h1.3M294.2 349.3h1.3M234.8 334.4h1.3M246.6 357.8h1.3M261.4 364.1h1.3M281.3 380.2h1.3M371.9 387.5h1.3M314.8 389.5h1.3M298.1 399.6h1.3M291.3 404.9h1.3M300.4 402.7h1.3M326.7 398.6h1.3M326.2 398.7h1.3M323.8 412.3h1.3M414.2 473.2h1.3M439.7 482.7h1.3M438.8 482.5h1.3M480.2 482.4h1.3M395.9 488.5h1.3M412.7 487.8h1.3M418 498.1h1.3M425.8 501h1.3M404.7 504.2h1.3M483.1 519.8h1.3M482.7 527.9h1.3M463.8 539.4h1.3M466 538.7h1.3M272 325.2h1.3M262.4 324.2h1.3"/>
<path stroke="#3C6CF8" stroke-width="1.5" d="M98 215.4h1.5M107.5 219.6h1.5M110 220.9h1.5M81.9 261.7h1.5M88.5 267.2h1.5M85.7 282.2h1.5M85 283.1h1.5M90.5 288.1h1.5M134.5 238.6h1.5M195 303.8h1.5M208.4 313.2h1.5M213.8 334.8h1.5M218.4 345.7h1.5M218.8 350.3h1.5M184.7 339.8h1.5M197.3 367.3h1.5M197.1 365.6h1.5M205.4 369.3h1.5M244.1 338.4h1.5M245.6 360.5h1.5M293.8 350.2h1.5M296 348.9h1.5M243.7 338.8h1.5M252.3 341.2h1.5M301.2 369.8h1.5M301.4 368.7h1.5M285.4 380.2h1.5M285.7 381h1.5M283.9 383h1.5M262 389.3h1.5M303.6 379.1h1.5M295.7 378.5h1.5M335 375.1h1.5M339.6 373.8h1.5M337.3 372.1h1.5M337.9 376.2h1.5M351.9 372.9h1.5M324.7 411h1.5M334 411.5h1.5M351.3 415h1.5M396.7 399.8h1.5M439.7 482.9h1.5M480.8 482h1.5M424.8 500.8h1.5M426.6 500.1h1.5M458.4 531.7h1.5M460.6 537.6h1.5M269.1 315h1.5M272.4 324.6h1.5"/>
<path stroke="#FFE000" stroke-width="1.3" d="M99.4 212.8h1.3M197.7 321.1h1.3M368.5 385.9h1.3"/>
<path stroke="#FFE000" stroke-width="1.8" d="M98.2 212.9h1.8M217.3 347.1h1.8M336.3 373.8h1.8M344.6 366.9h1.8M297.3 394.9h1.8"/>
<path stroke="#FFE000" stroke-width="1.5" d="M106.5 223h1.5M153.3 283.1h1.5M196.2 304.7h1.5M198.6 322.2h1.5M197.9 323h1.5M197.9 322.5h1.5"/>
<path stroke="#FFD800" stroke-width="1.3" d="M88.1 252.1h1.3M266.6 316.3h1.3M265.6 320.1h1.3M262.1 321.6h1.3M267.8 320.7h1.3M266.4 324h1.3M266.7 323.9h1.3M267.4 319.1h1.3M265.2 323.5h1.3M271.1 323.2h1.3M266.3 317h1.3M269 323.5h1.3"/>
<path stroke="#FFD800" stroke-width="1.8" d="M89.1 252.9h1.8M271.6 324.5h1.8M267.9 316.1h1.8M271.3 319.6h1.8M262.5 320.1h1.8M267.6 324.7h1.8M263.9 321.6h1.8M263.9 322h1.8"/>
<path stroke="#FFD800" stroke-width="1.5" d="M79.6 262.1h1.5M267.4 316.4h1.5M269 318.1h1.5M265.9 319.1h1.5M263.6 323h1.5M269.7 319.5h1.5M265.7 325.4h1.5"/>
<path stroke="#FF9C00" stroke-width="1.8" d="M88.1 254.1h1.8M89.3 251.9h1.8M80.1 262.2h1.8M322.4 411.3h1.8"/>
<path stroke="#FF9C00" stroke-width="1.5" d="M88.8 254.1h1.5M90.6 254.6h1.5"/>
<path stroke="#FF9C00" stroke-width="1.3" d="M80.4 262.2h1.3"/>
<path stroke="#FF8C00" stroke-width="1.8" d="M270.4 320h1.8"/>
<path stroke="#FF8C00" stroke-width="1.3" d="M267.3 322.2h1.3"/>
<path stroke="#60C864" stroke-width="1.3" d="M263.7 325.4h1.3M261 321.4h1.3M261.8 318.9h1.3"/>
<path stroke="#60C864" stroke-width="1.5" d="M260.6 318.5h1.5"/>
<path stroke="#60C864" stroke-width="1.8" d="M273.5 324.6h1.8"/>
<path stroke="#F03000" stroke-width="1.5" d="M270.4 320.8h1.5M265.4 319.4h1.5M269 320.2h1.5M266.3 321.5h1.5"/>
<path stroke="#F03000" stroke-width="1.8" d="M267.5 321.1h1.8"/>
<path stroke="#FF5A00" stroke-width="1.3" d="M266.6 318.8h1.3M265.2 321.3h1.3M268.4 319.2h1.3"/>
<path stroke="#FF5A00" stroke-width="1.5" d="M270.6 321.5h1.5M266.2 319.1h1.5M266.1 319.5h1.5"/>
<path stroke="#C8D4FF" stroke-width="1.2" d="M260 388.6h1.2M228.9 355.7h1.2M216.2 353h1.2"/>
</g>
<rect x="76.4" y="210.4" width="1.3" height="1.3" fill="#60D060"/>
<rect x="67.1" y="231.7" width="1.3" height="1.3" fill="#60D060"/>
<rect x="92.5" y="248.9" width="1.3" height="1.3" fill="#60D060"/>
<rect x="191.3" y="270.6" width="1.3" height="1.3" fill="#60D060"/>
<rect x="93.1" y="262.5" width="1.3" height="1.3" fill="#60D060"/>
<rect x="91.3" y="275.0" width="1.3" height="1.3" fill="#60D060"/>
</g>
<g transform="translate(0 0.0)">
<text class="ax" x="15.4" y="286.6" text-anchor="middle">48</text>
<text class="ax" x="94.2" y="286.6" text-anchor="middle">50</text>
<text class="ax" x="173.0" y="286.6" text-anchor="middle">52</text>
<text class="ax" x="251.8" y="286.6" text-anchor="middle">54</text>
<text class="ax" x="330.6" y="286.6" text-anchor="middle">56</text>
<text class="ax" x="409.4" y="286.6" text-anchor="middle">58</text>
<text class="ax" x="240.6" y="54.0" text-anchor="end">-12</text>
<text class="ax" x="240.6" y="138.6" text-anchor="end">-14</text>
<text class="ax" x="240.6" y="223.3" text-anchor="end">-16</text>
<text class="ax" x="240.6" y="307.9" text-anchor="end">-18</text>
<text class="ax" x="240.6" y="392.6" text-anchor="end">-20</text>
<text class="ax" x="240.6" y="477.2" text-anchor="end">-22</text>
<text class="ti" x="37.2" y="65.9">PR near surface reflectivity (dBZ)</text>
<text class="pl" x="456.4" y="522.6" text-anchor="middle">(a)</text>
</g>
<path d="M243.1 294.9h12.6M249.4 288.6v12.6" stroke="#000" stroke-width="4.4"/>
<rect x="495.0" y="531.72" width="9.0" height="8.57" fill="#F7F7F7"/>
<rect x="495.0" y="523.25" width="9.0" height="8.57" fill="#EFEFEF"/>
<rect x="495.0" y="514.78" width="9.0" height="8.57" fill="#E7E7E7"/>
<rect x="495.0" y="506.32" width="9.0" height="8.57" fill="#DFDFDF"/>
<rect x="495.0" y="497.85" width="9.0" height="8.57" fill="#D7D7D7"/>
<rect x="495.0" y="489.38" width="9.0" height="8.57" fill="#CFCFCF"/>
<rect x="495.0" y="480.92" width="9.0" height="8.57" fill="#C6C6C6"/>
<rect x="495.0" y="472.45" width="9.0" height="8.57" fill="#BEBEBE"/>
<rect x="495.0" y="463.98" width="9.0" height="8.57" fill="#B6B6B6"/>
<rect x="495.0" y="455.52" width="9.0" height="8.57" fill="#AEAEAE"/>
<rect x="495.0" y="447.05" width="9.0" height="8.57" fill="#A6A6A6"/>
<rect x="495.0" y="438.58" width="9.0" height="8.57" fill="#9E9E9E"/>
<rect x="495.0" y="430.12" width="9.0" height="8.57" fill="#969696"/>
<rect x="495.0" y="421.65" width="9.0" height="8.57" fill="#8E8E8E"/>
<rect x="495.0" y="413.18" width="9.0" height="8.57" fill="#7EE07E"/>
<rect x="495.0" y="404.72" width="9.0" height="8.57" fill="#78D678"/>
<rect x="495.0" y="396.25" width="9.0" height="8.57" fill="#71CB71"/>
<rect x="495.0" y="387.78" width="9.0" height="8.57" fill="#6AC06A"/>
<rect x="495.0" y="379.32" width="9.0" height="8.57" fill="#64B664"/>
<rect x="495.0" y="370.85" width="9.0" height="8.57" fill="#C8D0FF"/>
<rect x="495.0" y="362.38" width="9.0" height="8.57" fill="#B5CAFF"/>
<rect x="495.0" y="353.92" width="9.0" height="8.57" fill="#A2C3FF"/>
<rect x="495.0" y="345.45" width="9.0" height="8.57" fill="#8FBDFF"/>
<rect x="495.0" y="336.98" width="9.0" height="8.57" fill="#7BB6FF"/>
<rect x="495.0" y="328.52" width="9.0" height="8.57" fill="#64AFFF"/>
<rect x="495.0" y="320.05" width="9.0" height="8.57" fill="#4FA4FF"/>
<rect x="495.0" y="311.58" width="9.0" height="8.57" fill="#4686FF"/>
<rect x="495.0" y="303.12" width="9.0" height="8.57" fill="#3D65FF"/>
<rect x="495.0" y="294.65" width="9.0" height="8.57" fill="#3542FF"/>
<rect x="495.0" y="286.18" width="9.0" height="8.57" fill="#1818FF"/>
<rect x="495.0" y="277.72" width="9.0" height="8.57" fill="#0000F6"/>
<rect x="495.0" y="269.25" width="9.0" height="8.57" fill="#0000E3"/>
<rect x="495.0" y="260.78" width="9.0" height="8.57" fill="#0000D1"/>
<rect x="495.0" y="252.32" width="9.0" height="8.57" fill="#0000BE"/>
<rect x="495.0" y="243.85" width="9.0" height="8.57" fill="#FFFF00"/>
<rect x="495.0" y="235.38" width="9.0" height="8.57" fill="#FFF200"/>
<rect x="495.0" y="226.92" width="9.0" height="8.57" fill="#FFE600"/>
<rect x="495.0" y="218.45" width="9.0" height="8.57" fill="#FFD900"/>
<rect x="495.0" y="209.98" width="9.0" height="8.57" fill="#FFCC00"/>
<rect x="495.0" y="201.52" width="9.0" height="8.57" fill="#FF9200"/>
<rect x="495.0" y="193.05" width="9.0" height="8.57" fill="#FF8A00"/>
<rect x="495.0" y="184.58" width="9.0" height="8.57" fill="#FF8100"/>
<rect x="495.0" y="176.12" width="9.0" height="8.57" fill="#FF7800"/>
<rect x="495.0" y="167.65" width="9.0" height="8.57" fill="#FF7000"/>
<rect x="495.0" y="159.18" width="9.0" height="8.57" fill="#FF4500"/>
<rect x="495.0" y="150.72" width="9.0" height="8.57" fill="#FF3A00"/>
<rect x="495.0" y="142.25" width="9.0" height="8.57" fill="#FF3000"/>
<rect x="495.0" y="133.78" width="9.0" height="8.57" fill="#FF2500"/>
<rect x="495.0" y="125.32" width="9.0" height="8.57" fill="#FF1A00"/>
<rect x="495.0" y="116.85" width="9.0" height="8.57" fill="#CC0000"/>
<rect x="495.0" y="108.38" width="9.0" height="8.57" fill="#C10400"/>
<rect x="495.0" y="99.92" width="9.0" height="8.57" fill="#B60700"/>
<rect x="495.0" y="91.45" width="9.0" height="8.57" fill="#AB0A00"/>
<rect x="495.0" y="82.98" width="9.0" height="8.57" fill="#A00E00"/>
<rect x="495.0" y="74.52" width="9.0" height="8.57" fill="#680E06"/>
<rect x="495.0" y="66.05" width="9.0" height="8.57" fill="#65110A"/>
<rect x="495.0" y="57.58" width="9.0" height="8.57" fill="#62140F"/>
<rect x="495.0" y="49.12" width="9.0" height="8.57" fill="#5F1714"/>
<rect x="495.0" y="40.65" width="9.0" height="8.57" fill="#5C1A18"/>
<path d="M504.0 548.7h2.2" stroke="#000" stroke-width="0.7"/>
<text class="tk" x="524.5" y="557.2" text-anchor="middle">0</text>
<path d="M504.0 497.9h2.2" stroke="#000" stroke-width="0.7"/>
<text class="tk" x="524.5" y="506.4" text-anchor="middle">6</text>
<path d="M504.0 447.1h2.2" stroke="#000" stroke-width="0.7"/>
<text class="tk" x="524.5" y="455.6" text-anchor="middle">12</text>
<path d="M504.0 396.3h2.2" stroke="#000" stroke-width="0.7"/>
<text class="tk" x="524.5" y="404.8" text-anchor="middle">18</text>
<path d="M504.0 345.5h2.2" stroke="#000" stroke-width="0.7"/>
<text class="tk" x="524.5" y="354.0" text-anchor="middle">24</text>
<path d="M504.0 294.7h2.2" stroke="#000" stroke-width="0.7"/>
<text class="tk" x="524.5" y="303.2" text-anchor="middle">30</text>
<path d="M504.0 243.9h2.2" stroke="#000" stroke-width="0.7"/>
<text class="tk" x="524.5" y="252.4" text-anchor="middle">36</text>
<path d="M504.0 193.1h2.2" stroke="#000" stroke-width="0.7"/>
<text class="tk" x="524.5" y="201.6" text-anchor="middle">42</text>
<path d="M504.0 142.3h2.2" stroke="#000" stroke-width="0.7"/>
<text class="tk" x="524.5" y="150.8" text-anchor="middle">48</text>
<path d="M504.0 91.5h2.2" stroke="#000" stroke-width="0.7"/>
<text class="tk" x="524.5" y="100.0" text-anchor="middle">54</text>
</g>
<g transform="translate(590.33 0.00)">
<g clip-path="url(#cp)">

</g>
<path d="M15.4 41.3V548.7 M94.2 41.3V548.7 M173.0 41.3V548.7 M251.8 41.3V548.7 M330.6 41.3V548.7 M409.4 41.3V548.7" class="gr" stroke-dashoffset="0"/>
<path d="M13.0 54.3H486.0 M13.0 138.9H486.0 M13.0 223.6H486.0 M13.0 308.2H486.0 M13.0 392.9H486.0 M13.0 477.5H486.0" class="gr"/>
<g clip-path="url(#cp)">
<path d="M13.2 121.1 L14.3 119.3 L16.9 119.3 L19.8 120.7 L22.0 124.4 L23.1 128.1 L25.0 129.9 L26.4 131.0 L27.9 128.1 L28.3 122.9 L29.0 119.6 L32.3 118.9 L35.2 117.4 L35.6 115.6 L34.5 113.4 L36.7 114.5 L40.4 115.2 L44.0 114.1 L46.6 111.9 L47.3 108.3 L47.7 103.9 L48.8 100.2 L50.6 96.5 L52.5 92.5 L52.9 89.9 L51.8 86.2 L50.6 81.8 L49.9 78.9 L47.7 76.0 L45.9 74.1 L44.4 73.4 L47.0 71.9 L49.2 73.4 L51.4 74.1 L53.2 73.0 L53.6 70.1 L55.8 67.9 L58.7 66.1 L60.9 63.5 L61.3 59.8 L63.1 54.7 L65.3 53.2 L66.4 54.7 L64.6 58.4 L64.6 64.2 L66.4 66.8 L68.3 65.0 L70.5 65.3 L72.3 69.4 L76.0 69.7 L77.1 73.0 L77.4 77.4 L77.1 81.8 L80.0 83.7 L80.7 87.0 L83.3 86.6 L85.9 88.8 L88.5 91.4 L88.8 94.3 L91.4 98.0 L91.8 102.4 L92.5 106.8 L94.0 110.5 L95.4 112.7 L95.8 116.3 L97.6 122.2 L99.1 128.1 L99.8 134.0 L100.2 139.1 L100.6 144.2 L100.9 148.6 L102.4 150.8 L101.7 155.2 L102.0 160.4 L102.8 165.9 L105.0 173.2 L107.9 180.6 L111.6 185.7 L113.6 190.1 L114.1 194.5 L113.0 201.1 L110.8 207.0 L108.6 211.4 L107.2 216.5 L104.2 220.9 L101.7 222.8 L98.4 220.9 L94.7 216.5 L92.9 211.4 L91.0 207.0 L89.9 203.3 L90.7 199.6 L86.6 199.6 L82.2 200.7 L80.0 203.3 L80.4 207.7 L81.5 212.1 L82.6 216.5 L83.3 220.2 L82.2 223.9 L82.9 227.5 L85.2 229.4 L87.7 230.8 L88.5 233.4 L87.4 237.1 L89.2 241.5 L88.5 245.9 L86.3 249.6 L84.4 252.5 L84.8 256.2 L87.4 258.4 L85.9 259.8 L82.2 260.6 L78.2 262.0 L76.3 266.4 L74.1 272.3 L72.3 276.7 L71.6 280.4 L71.2 280.0 L72.7 283.7 L74.5 288.8 L75.2 294.7 L74.1 299.1 L72.7 304.2 L71.6 309.4 L71.6 314.5 L70.1 320.4 L69.0 325.5 L66.1 332.9 L63.5 340.2 L60.9 347.5 L57.3 354.1 L55.4 360.7 L52.9 368.1 L49.9 375.4 L48.1 382.8 L47.0 389.4 L45.5 390.8 L45.9 394.5 L44.0 399.7 L43.7 400.0 L40.4 406.6 L38.2 414.7 L36.0 423.5 L34.1 430.1 L32.3 434.5 L31.9 438.9 L30.1 447.0 L27.2 457.3 L24.2 466.1 L22.0 471.2 L19.5 476.3 L17.6 481.5 L15.4 488.8 L12.8 496.9 M13.6 135.4 L16.5 137.6 L13.2 139.8 L16.9 142.0 L13.6 144.2 L17.3 146.1 L13.2 147.9 L16.5 149.4 L14.7 151.6 M12.8 163.3 L15.0 165.1 L13.9 167.3 L15.8 169.2" class="co" stroke-width="1.25"/>
<path d="M13.0 144.8 L32.3 158.2 L51.4 171.7 L110.3 211.6 L149.9 238.0 L227.9 289.1 L287.7 326.4 L308.1 339.1 L449.2 423.2 L469.6 434.9 L486.0 444.4" class="da" stroke-dasharray="12.00 11.53"/>
<path d="M13.2 258.0 L32.3 271.2 L52.1 284.0 L110.3 323.9 L149.9 349.6 L189.6 375.0 L229.2 400.2 L268.8 425.5 L309.5 449.6 L369.7 485.9 L409.9 509.5 L430.7 521.9 L471.8 544.2 L480.0 548.7" class="da" stroke-dasharray="11.99 11.52"/>
<path d="M93.9 203.0 L95.0 205.9 L94.3 208.2 L92.9 208.6 L91.4 207.2 L89.7 205.9 L88.8 202.6 L89.3 200.1 L90.2 198.6 L91.7 199.3 L92.9 201.1Z" fill="#2C50F0" stroke="#000" stroke-width="1.50" stroke-linejoin="round"/>
<rect x="91.5" y="203.2" width="1.3" height="1.1" fill="#FFD800"/>
<rect x="92.1" y="202.3" width="1.6" height="1.4" fill="#8CC0FF"/>
<path d="M103.0 212.2 L103.9 215.3 L104.0 219.4 L100.8 219.3 L98.1 219.4 L96.1 216.4 L95.5 213.3 L95.8 210.7 L96.1 206.7 L99.1 206.4 L101.7 209.1Z" fill="#5C9CFF" stroke="#000" stroke-width="1.50" stroke-linejoin="round"/>
<rect x="99.0" y="212.6" width="2.3" height="2.0" fill="#FFD800"/>
<rect x="99.6" y="211.3" width="1.6" height="1.4" fill="#8CC0FF"/>
<path d="M112.1 219.1 L113.5 222.8 L111.1 225.5 L108.9 227.1 L105.9 229.1 L104.0 225.4 L102.7 223.0 L102.7 220.5 L102.7 216.8 L105.9 215.7 L109.0 217.3Z" fill="#5C9CFF" stroke="#000" stroke-width="1.50" stroke-linejoin="round"/>
<rect x="105.8" y="219.3" width="2.7" height="2.2" fill="#FFD800"/>
<rect x="105.6" y="221.7" width="1.6" height="1.4" fill="#8CC0FF"/>
<path d="M118.3 230.8 L116.1 231.0 L114.0 231.7 L110.6 230.1 L107.7 227.6 L106.7 225.2 L109.6 225.1 L110.6 223.9 L113.5 225.5 L117.1 226.6 L118.7 229.1Z" fill="#3C6CF8" stroke="#000" stroke-width="1.50" stroke-linejoin="round"/>
<rect x="111.6" y="228.7" width="1.6" height="1.4" fill="#8CC0FF"/>
<path d="M94.7 253.2 L93.7 256.3 L91.3 257.9 L88.7 259.1 L86.3 257.2 L84.5 254.8 L83.7 251.3 L85.2 247.8 L88.5 246.2 L91.3 248.6 L94.1 249.9Z" fill="#2C50F0" stroke="#000" stroke-width="1.50" stroke-linejoin="round"/>
<rect x="87.1" y="253.3" width="2.7" height="2.2" fill="#FFD800"/>
<rect x="87.7" y="251.4" width="2.7" height="2.2" fill="#FF8C00"/>
<rect x="88.3" y="251.2" width="1.6" height="1.4" fill="#8CC0FF"/>
<path d="M82.9 263.2 L82.3 265.0 L81.3 267.1 L78.8 267.8 L77.2 265.8 L76.4 264.1 L75.6 262.0 L77.4 260.7 L78.9 259.4 L81.4 259.0 L82.4 261.3Z" fill="#5C9CFF" stroke="#000" stroke-width="1.50" stroke-linejoin="round"/>
<rect x="79.0" y="262.3" width="2.0" height="1.7" fill="#FFD800"/>
<rect x="78.8" y="262.0" width="2.0" height="1.7" fill="#FF8C00"/>
<rect x="78.6" y="263.2" width="1.6" height="1.4" fill="#8CC0FF"/>
<path d="M91.5 266.3 L91.1 267.5 L89.9 268.2 L88.3 269.3 L86.9 268.1 L86.3 266.9 L86.6 265.7 L87.1 264.6 L88.3 263.3 L90.0 264.2 L91.6 264.8Z" fill="#3C6CF8" stroke="#000" stroke-width="1.50" stroke-linejoin="round"/>
<rect x="88.4" y="266.4" width="1.3" height="1.1" fill="#FFD800"/>
<path d="M96.5 265.7 L96.9 267.1 L95.9 267.9 L94.8 267.5 L94.1 267.0 L93.7 266.1 L93.5 265.1 L93.9 264.1 L94.8 263.8 L95.8 263.5 L96.6 264.4Z" fill="#2C50F0" stroke="#000" stroke-width="1.50" stroke-linejoin="round"/>
<path d="M100.0 255.1 L99.3 256.1 L98.1 256.2 L97.2 255.1 L97.8 253.5 L99.4 254.0Z" fill="#000"/>
<path d="M98.3 258.2 L97.4 259.0 L96.2 259.2 L95.7 258.2 L96.2 257.2 L97.6 257.1Z" fill="#000"/>
<path d="M86.5 276.2 L85.9 277.6 L84.4 278.6 L82.7 277.8 L81.4 276.9 L80.9 275.4 L82.2 274.0 L84.4 273.5 L85.7 275.0Z" fill="#000"/>
<path d="M84.0 270.6 L83.2 271.9 L81.8 272.1 L81.0 270.6 L82.0 269.5 L83.2 269.3Z" fill="#000"/>
<path d="M89.4 282.4 L88.1 283.5 L87.0 284.5 L85.2 284.9 L83.9 283.9 L82.4 283.1 L83.5 282.0 L83.9 280.9 L85.3 280.6 L86.9 280.6 L87.9 281.4Z" fill="#2C50F0" stroke="#000" stroke-width="1.50" stroke-linejoin="round"/>
<path d="M91.9 286.8 L91.5 288.4 L90.2 289.0 L89.1 289.3 L88.1 288.7 L87.4 287.5 L87.0 285.8 L87.7 284.1 L89.2 284.6 L90.5 283.6 L91.6 284.9Z" fill="#5C9CFF" stroke="#000" stroke-width="1.50" stroke-linejoin="round"/>
<path d="M96.6 295.5 L95.9 297.9 L94.5 299.4 L92.8 299.2 L91.5 298.0 L90.4 296.6 L90.3 294.3 L90.9 291.9 L92.8 292.1 L94.6 291.3 L95.1 293.8Z" fill="#5C9CFF" stroke="#000" stroke-width="1.50" stroke-linejoin="round"/>
<rect x="92.6" y="294.6" width="1.6" height="1.4" fill="#8CC0FF"/>
<path d="M94.0 309.8 L93.2 311.3 L90.8 310.2 L88.6 310.2 L88.1 308.2 L86.6 306.5 L87.9 305.5 L89.4 304.9 L91.4 305.7 L93.2 306.7 L93.4 308.2Z" fill="#3C6CF8" stroke="#000" stroke-width="1.50" stroke-linejoin="round"/>
<path d="M131.6 249.5 L131.8 251.2 L130.9 252.6 L129.5 252.1 L128.1 252.0 L127.6 250.3 L128.0 248.8 L128.2 247.2 L129.5 246.5 L130.6 247.1 L131.4 248.2Z" fill="#3C6CF8" stroke="#000" stroke-width="1.50" stroke-linejoin="round"/>
<path d="M150.9 246.8 L151.3 248.2 L150.1 250.0 L148.3 250.6 L146.2 251.8 L145.3 250.5 L146.2 248.7 L147.5 246.8 L149.5 246.3Z" fill="#000"/>
<path d="M150.2 240.8 L149.7 242.3 L148.3 242.7 L147.7 240.8 L148.5 239.6 L149.6 239.5Z" fill="#000"/>
<path d="M155.0 243.9 L154.6 245.0 L153.4 245.0 L152.9 243.9 L153.5 243.0 L154.7 242.7Z" fill="#000"/>
<path d="M135.9 238.1 L135.4 239.2 L134.2 239.0 L133.5 238.1 L134.3 237.2 L135.3 237.2Z" fill="#000"/>
<path d="M155.4 283.7 L154.9 285.4 L154.2 287.1 L153.1 288.0 L151.9 286.8 L151.0 285.0 L151.3 282.5 L152.3 281.3 L153.1 279.2 L154.3 280.2 L155.4 281.2Z" fill="#5C9CFF" stroke="#000" stroke-width="1.50" stroke-linejoin="round"/>
<rect x="152.9" y="283.3" width="1.3" height="1.1" fill="#FFD800"/>
<path d="M151.2 269.1 L150.9 270.5 L149.3 270.4 L148.7 269.1 L149.2 267.7 L150.8 267.7Z" fill="#000"/>
<path d="M136.1 275.0 L135.4 276.1 L134.2 275.9 L133.4 275.0 L134.3 274.1 L135.4 273.8Z" fill="#000"/>
<path d="M140.4 275.6 L139.5 276.4 L138.5 276.7 L137.7 275.6 L138.7 274.8 L139.6 274.8Z" fill="#000"/>
<path d="M199.9 305.1 L200.0 310.0 L198.6 312.2 L197.2 315.1 L195.5 311.6 L194.3 307.9 L193.7 303.3 L194.9 300.6 L195.5 295.7 L197.4 298.9 L199.3 300.1Z" fill="#3C6CF8" stroke="#000" stroke-width="1.50" stroke-linejoin="round"/>
<rect x="195.9" y="304.1" width="1.5" height="1.2" fill="#FFD800"/>
<rect x="196.2" y="307.5" width="1.6" height="1.4" fill="#8CC0FF"/>
<path d="M200.4 321.2 L201.6 326.8 L200.2 328.9 L199.0 330.6 L197.1 329.9 L196.1 324.1 L195.1 319.4 L195.2 314.6 L196.4 312.5 L198.1 313.7 L199.9 316.0Z" fill="#2C50F0" stroke="#000" stroke-width="1.50" stroke-linejoin="round"/>
<rect x="197.7" y="318.1" width="1.3" height="1.1" fill="#FFD800"/>
<rect x="198.4" y="318.1" width="1.6" height="1.4" fill="#8CC0FF"/>
<path d="M209.6 315.3 L208.3 317.4 L206.6 319.8 L206.2 317.6 L205.6 315.7 L207.2 313.1 L208.5 311.2 L210.1 310.1 L210.9 311.9Z" fill="#000"/>
<path d="M210.9 327.8 L211.2 329.9 L209.8 331.0 L208.3 331.7 L207.2 330.0 L206.7 328.6 L206.6 326.9 L206.5 324.4 L208.3 324.0 L209.9 324.1 L210.6 326.1Z" fill="#3C6CF8" stroke="#000" stroke-width="1.50" stroke-linejoin="round"/>
<rect x="209.4" y="327.2" width="1.6" height="1.4" fill="#8CC0FF"/>
<path d="M219.3 334.6 L218.4 336.7 L216.8 337.8 L215.0 338.6 L212.8 338.0 L212.1 335.7 L213.0 333.8 L213.6 332.1 L215.1 331.3 L216.9 331.3 L217.8 333.0Z" fill="#2C50F0" stroke="#000" stroke-width="1.50" stroke-linejoin="round"/>
<rect x="215.1" y="333.4" width="1.7" height="1.4" fill="#FFD800"/>
<rect x="215.6" y="333.7" width="1.6" height="1.4" fill="#8CC0FF"/>
<path d="M222.0 347.6 L221.2 349.9 L219.7 351.6 L217.4 352.4 L215.2 351.1 L213.5 349.1 L214.9 346.7 L215.0 343.9 L217.5 343.8 L219.5 344.2 L221.1 345.5Z" fill="#5C9CFF" stroke="#000" stroke-width="1.50" stroke-linejoin="round"/>
<rect x="217.5" y="346.9" width="1.9" height="1.6" fill="#FFD800"/>
<rect x="219.2" y="346.2" width="1.6" height="1.4" fill="#8CC0FF"/>
<path d="M189.2 338.9 L188.1 340.3 L187.5 342.0 L186.0 341.6 L184.6 341.4 L183.6 339.9 L183.4 337.9 L184.5 336.4 L185.9 335.5 L187.4 336.1 L188.3 337.5Z" fill="#2C50F0" stroke="#000" stroke-width="1.50" stroke-linejoin="round"/>
<rect x="186.4" y="338.6" width="1.3" height="1.1" fill="#FFD800"/>
<path d="M189.8 332.1 L189.0 333.3 L187.3 333.3 L186.9 332.1 L187.5 331.1 L188.9 331.0Z" fill="#000"/>
<path d="M185.4 334.0 L184.9 334.8 L183.8 335.1 L183.3 334.0 L183.8 332.9 L185.0 333.0Z" fill="#000"/>
<path d="M192.3 347.6 L190.8 348.8 L189.1 349.0 L188.3 347.6 L189.0 346.1 L190.8 346.5Z" fill="#000"/>
<path d="M198.5 355.7 L197.9 357.2 L196.9 358.4 L195.3 358.1 L193.8 357.9 L192.3 356.7 L193.5 355.1 L193.4 353.1 L195.1 352.3 L196.8 353.2 L197.5 354.5Z" fill="#2C50F0" stroke="#000" stroke-width="1.50" stroke-linejoin="round"/>
<rect x="195.2" y="355.8" width="1.3" height="1.1" fill="#FFD800"/>
<path d="M199.1 365.0 L198.5 367.5 L197.1 367.9 L196.0 367.8 L195.5 366.0 L195.3 363.9 L196.1 362.6 L197.2 362.0 L198.5 362.5Z" fill="#000"/>
<path d="M207.3 367.5 L207.8 369.5 L206.7 370.9 L205.2 370.9 L204.3 369.5 L203.7 368.3 L203.5 366.7 L204.1 365.1 L205.2 363.9 L206.3 365.4 L207.0 366.2Z" fill="#5C9CFF" stroke="#000" stroke-width="1.50" stroke-linejoin="round"/>
<path d="M211.5 370.6 L210.4 371.4 L209.4 371.5 L208.5 370.6 L209.3 369.7 L210.5 369.8Z" fill="#000"/>
<path d="M208.2 373.7 L207.4 375.0 L206.1 375.1 L205.9 373.7 L206.2 372.6 L207.5 372.3Z" fill="#000"/>
<path d="M225.7 328.4 L224.1 329.8 L222.0 329.6 L221.1 328.4 L221.9 327.1 L224.2 326.8Z" fill="#000"/>
<path d="M226.8 320.9 L226.0 321.8 L224.7 322.2 L223.8 320.9 L224.9 320.0 L226.3 319.5Z" fill="#000"/>
<path d="M221.9 314.7 L221.5 315.8 L220.3 315.7 L219.9 314.7 L220.2 313.6 L221.6 313.5Z" fill="#000"/>
<path d="M225.6 338.4 L226.5 339.5 L225.0 341.0 L223.1 341.8 L221.3 341.7 L221.2 340.3 L221.2 338.8 L223.1 337.9 L225.1 337.0Z" fill="#000"/>
<path d="M236.2 335.1 L237.3 337.2 L235.8 338.1 L235.3 340.2 L233.7 338.4 L232.3 337.6 L231.5 335.7 L231.0 333.2 L232.8 333.0 L233.9 331.8 L235.5 333.0Z" fill="#3C6CF8" stroke="#000" stroke-width="1.50" stroke-linejoin="round"/>
<rect x="233.0" y="336.3" width="1.3" height="1.1" fill="#FFD800"/>
<path d="M245.7 338.9 L244.6 340.2 L243.5 341.4 L241.7 341.7 L240.6 340.5 L238.7 339.8 L239.4 338.3 L240.2 337.0 L241.7 336.0 L243.2 337.2 L244.5 337.7Z" fill="#2C50F0" stroke="#000" stroke-width="1.50" stroke-linejoin="round"/>
<path d="M254.4 342.0 L254.1 344.1 L252.7 346.0 L250.3 346.6 L248.0 345.4 L247.4 343.1 L247.4 341.0 L248.9 339.7 L250.4 338.2 L252.7 338.1 L253.6 340.3Z" fill="#5C9CFF" stroke="#000" stroke-width="1.50" stroke-linejoin="round"/>
<rect x="250.2" y="342.8" width="1.6" height="1.4" fill="#8CC0FF"/>
<path d="M250.6 335.2 L249.8 336.4 L248.4 336.3 L247.9 335.2 L248.5 334.3 L249.7 334.1Z" fill="#000"/>
<path d="M250.5 360.1 L250.4 362.7 L247.8 363.0 L246.0 364.5 L243.8 363.4 L242.3 361.4 L242.4 358.8 L243.7 356.6 L246.0 356.0 L248.1 356.5 L249.5 358.1Z" fill="#2C50F0" stroke="#000" stroke-width="1.50" stroke-linejoin="round"/>
<rect x="245.2" y="358.7" width="1.9" height="1.6" fill="#FFD800"/>
<rect x="247.2" y="360.8" width="1.6" height="1.4" fill="#8CC0FF"/>
<path d="M262.3 365.0 L262.0 366.9 L261.2 368.5 L260.1 367.5 L259.3 366.1 L259.5 364.1 L259.9 362.1 L261.2 361.2 L262.3 362.7Z" fill="#000"/>
<path d="M267.4 352.0 L266.3 353.2 L265.1 353.8 L264.5 352.0 L265.1 350.4 L266.4 350.6Z" fill="#000"/>
<path d="M269.9 376.2 L270.1 377.4 L269.0 377.8 L268.1 377.6 L267.1 377.6 L266.9 376.6 L266.8 375.8 L267.2 374.9 L268.0 374.1 L269.0 374.8 L270.0 375.1Z" fill="#2C50F0" stroke="#000" stroke-width="1.50" stroke-linejoin="round"/>
<path d="M237.2 311.0 L236.7 312.2 L235.3 312.2 L234.8 311.0 L235.5 310.1 L236.6 310.0Z" fill="#000"/>
<path d="M240.7 312.9 L240.2 313.7 L239.1 314.0 L238.6 312.9 L239.3 312.1 L240.3 311.9Z" fill="#000"/>
<path d="M244.1 314.7 L243.4 315.6 L242.3 315.6 L241.4 314.7 L242.1 313.4 L243.6 313.4Z" fill="#000"/>
<path d="M247.4 315.3 L246.5 316.3 L245.2 316.6 L244.8 315.3 L245.4 314.3 L246.6 314.3Z" fill="#000"/>
<path d="M173.1 348.9 L172.6 349.7 L171.2 350.1 L171.0 348.9 L171.2 347.7 L172.8 347.8Z" fill="#000"/>
<path d="M54.1 182.0 L53.2 182.9 L52.1 183.1 L51.8 182.0 L52.2 181.0 L53.3 181.1Z" fill="#000"/>
<path d="M288.0 326.5 L286.7 327.5 L285.7 328.0 L284.6 328.8 L283.3 328.2 L282.3 327.2 L283.0 326.0 L283.4 325.0 L284.6 324.2 L286.1 324.5 L286.9 325.5Z" fill="#2C50F0" stroke="#000" stroke-width="1.50" stroke-linejoin="round"/>
<path d="M281.3 324.0 L280.6 325.1 L279.3 325.2 L278.8 324.0 L279.5 323.1 L280.6 322.9Z" fill="#000"/>
<path d="M304.3 338.1 L303.5 339.5 L302.3 339.8 L301.8 338.1 L302.4 336.7 L303.6 336.5Z" fill="#000"/>
<path d="M299.1 348.3 L298.0 350.3 L296.3 351.3 L294.4 351.8 L292.8 350.7 L291.5 349.3 L292.0 347.4 L292.3 345.2 L294.3 344.4 L296.3 345.2 L297.8 346.4Z" fill="#5C9CFF" stroke="#000" stroke-width="1.50" stroke-linejoin="round"/>
<rect x="293.8" y="347.6" width="1.6" height="1.4" fill="#8CC0FF"/>
<path d="M302.2 347.6 L301.6 348.4 L300.4 348.9 L300.0 347.6 L300.5 346.6 L301.6 346.8Z" fill="#000"/>
<path d="M299.5 352.6 L299.1 353.4 L298.0 353.7 L297.3 352.6 L298.0 351.5 L299.3 351.4Z" fill="#000"/>
<path d="M235.6 334.9 L235.9 336.4 L236.0 337.8 L235.8 339.7 L234.1 339.4 L232.7 337.7 L231.7 336.1 L232.1 334.7 L231.9 332.9 L233.3 333.0 L234.7 333.1Z" fill="#3C6CF8" stroke="#000" stroke-width="1.50" stroke-linejoin="round"/>
<rect x="233.8" y="336.0" width="1.3" height="1.1" fill="#FFD800"/>
<path d="M245.8 339.6 L244.8 340.7 L244.0 341.9 L242.3 342.2 L241.0 341.2 L240.0 340.2 L239.7 338.8 L240.6 337.5 L242.3 337.4 L244.2 336.9 L245.3 338.2Z" fill="#5C9CFF" stroke="#000" stroke-width="1.50" stroke-linejoin="round"/>
<path d="M254.1 342.0 L254.5 344.4 L252.1 344.9 L250.2 346.3 L248.8 344.4 L246.6 343.3 L246.7 340.8 L247.8 338.6 L250.3 338.5 L252.7 337.8 L253.8 340.1Z" fill="#3C6CF8" stroke="#000" stroke-width="1.50" stroke-linejoin="round"/>
<rect x="249.7" y="341.1" width="1.6" height="1.4" fill="#8CC0FF"/>
<path d="M250.7 335.2 L249.9 336.6 L248.1 336.4 L247.1 335.2 L248.0 333.8 L249.9 333.8Z" fill="#000"/>
<path d="M266.8 351.4 L266.4 352.9 L265.1 352.7 L264.2 351.4 L265.0 349.7 L266.4 349.6Z" fill="#000"/>
<path d="M270.4 353.0 L270.1 354.2 L268.9 353.9 L268.2 353.0 L268.7 351.8 L270.0 352.0Z" fill="#000"/>
<path d="M262.6 349.5 L261.9 350.5 L260.7 350.6 L260.1 349.5 L260.9 348.7 L262.0 348.4Z" fill="#000"/>
<path d="M248.5 357.9 L250.6 359.9 L249.4 362.2 L247.5 363.5 L245.4 362.7 L242.9 362.7 L242.6 360.1 L242.4 358.0 L243.3 356.1 L245.1 354.3 L247.5 355.8Z" fill="#3C6CF8" stroke="#000" stroke-width="1.50" stroke-linejoin="round"/>
<rect x="246.2" y="358.1" width="1.9" height="1.6" fill="#FFD800"/>
<rect x="244.4" y="360.2" width="1.6" height="1.4" fill="#8CC0FF"/>
<path d="M263.7 365.4 L263.1 367.1 L262.4 369.1 L261.0 369.3 L259.9 368.1 L259.2 366.4 L259.4 364.5 L260.2 363.2 L261.1 362.4 L262.3 362.0 L263.2 363.6Z" fill="#3C6CF8" stroke="#000" stroke-width="1.50" stroke-linejoin="round"/>
<path d="M276.4 362.9 L275.7 364.1 L274.3 364.1 L273.5 362.9 L274.4 361.8 L275.7 361.7Z" fill="#000"/>
<path d="M287.9 368.5 L286.4 368.9 L284.9 368.0 L284.6 366.6 L285.9 365.9 L287.5 367.0Z" fill="#000"/>
<path d="M303.4 368.8 L303.0 370.0 L301.9 370.5 L300.9 370.5 L299.8 370.2 L298.8 369.4 L298.8 368.1 L299.6 367.1 L300.8 366.9 L302.1 366.6 L302.8 367.7Z" fill="#5C9CFF" stroke="#000" stroke-width="1.50" stroke-linejoin="round"/>
<path d="M310.1 365.5 L309.6 367.0 L307.2 367.7 L306.3 366.9 L306.4 365.7 L308.7 364.8Z" fill="#000"/>
<path d="M271.3 375.6 L270.9 377.6 L269.2 378.2 L267.6 378.0 L266.6 376.5 L267.2 374.9 L267.9 373.8 L269.1 373.7 L270.6 373.8Z" fill="#000"/>
<path d="M273.8 381.2 L272.7 382.4 L270.6 383.0 L269.5 381.2 L271.1 380.0 L273.1 379.5Z" fill="#000"/>
<path d="M277.7 383.7 L277.0 384.8 L275.3 385.1 L274.1 383.7 L275.4 382.3 L277.3 382.0Z" fill="#000"/>
<path d="M281.6 374.3 L281.4 376.7 L280.0 376.0 L279.2 374.3 L280.0 372.6 L281.2 372.7Z" fill="#000"/>
<path d="M286.9 381.2 L287.4 383.7 L285.4 385.2 L283.0 386.4 L280.4 385.2 L280.5 382.2 L279.6 379.9 L280.9 377.7 L283.2 377.4 L285.4 377.2 L287.6 378.5Z" fill="#5C9CFF" stroke="#000" stroke-width="1.50" stroke-linejoin="round"/>
<rect x="284.0" y="381.3" width="1.6" height="1.4" fill="#8CC0FF"/>
<path d="M283.6 389.9 L282.6 391.3 L281.2 391.1 L280.0 389.9 L281.0 388.2 L282.5 388.5Z" fill="#000"/>
<path d="M268.1 387.4 L267.6 388.5 L266.5 388.2 L265.5 387.4 L266.3 386.4 L267.6 386.3Z" fill="#000"/>
<path d="M263.6 389.3 L263.2 390.3 L262.0 390.3 L261.3 389.3 L261.9 388.1 L263.2 388.2Z" fill="#000"/>
<path d="M308.6 377.5 L306.7 378.9 L305.7 380.3 L303.6 381.4 L301.8 379.9 L301.4 378.2 L300.1 376.4 L301.5 374.6 L303.6 373.5 L306.1 373.7 L307.0 375.8Z" fill="#2C50F0" stroke="#000" stroke-width="1.50" stroke-linejoin="round"/>
<rect x="303.1" y="376.3" width="1.6" height="1.4" fill="#8CC0FF"/>
<path d="M297.0 378.1 L296.3 379.2 L294.6 379.5 L293.5 378.1 L294.5 376.7 L296.2 377.0Z" fill="#000"/>
<path d="M323.5 377.0 L321.3 377.2 L319.0 376.8 L316.5 375.6 L316.2 374.2 L315.6 372.6 L318.2 373.2 L320.6 373.6 L322.9 375.2Z" fill="#000"/>
<path d="M341.1 371.8 L343.0 374.5 L340.4 377.4 L336.7 378.8 L332.5 380.0 L330.5 377.2 L330.0 374.5 L330.3 371.5 L333.2 369.3 L337.1 367.1 L339.8 369.6Z" fill="#2C50F0" stroke="#000" stroke-width="1.50" stroke-linejoin="round"/>
<rect x="334.3" y="372.8" width="2.8" height="2.3" fill="#FFD800"/>
<rect x="335.0" y="374.8" width="1.6" height="1.4" fill="#8CC0FF"/>
<path d="M347.4 365.6 L348.2 367.3 L345.9 368.4 L344.3 369.1 L342.4 369.7 L341.0 368.8 L339.4 367.5 L340.3 365.6 L342.7 364.9 L344.4 364.7 L345.9 364.9Z" fill="#2C50F0" stroke="#000" stroke-width="1.50" stroke-linejoin="round"/>
<rect x="344.4" y="366.3" width="1.3" height="1.1" fill="#FFD800"/>
<rect x="343.3" y="367.5" width="1.6" height="1.4" fill="#8CC0FF"/>
<path d="M364.2 373.1 L362.7 374.1 L361.7 374.9 L360.2 376.0 L358.3 375.4 L357.2 374.0 L358.4 372.5 L358.6 371.0 L360.2 370.2 L362.2 370.5 L362.7 372.1Z" fill="#3C6CF8" stroke="#000" stroke-width="1.50" stroke-linejoin="round"/>
<path d="M359.9 376.8 L359.2 378.2 L357.3 378.3 L356.6 376.8 L357.5 375.7 L359.0 375.8Z" fill="#000"/>
<path d="M353.9 373.1 L353.3 374.3 L352.2 373.9 L351.5 373.1 L352.0 372.0 L353.2 372.1Z" fill="#000"/>
<path d="M373.3 388.5 L371.0 388.2 L369.4 388.7 L366.4 386.9 L364.7 385.1 L363.8 383.6 L364.0 382.5 L365.5 382.0 L368.4 383.8 L371.5 385.0 L373.7 387.2Z" fill="#3C6CF8" stroke="#000" stroke-width="1.50" stroke-linejoin="round"/>
<rect x="366.1" y="384.8" width="1.3" height="1.1" fill="#FFD800"/>
<rect x="366.8" y="386.1" width="1.6" height="1.4" fill="#8CC0FF"/>
<path d="M304.4 389.9 L304.3 390.8 L303.6 391.3 L302.7 391.4 L301.7 391.3 L301.1 390.4 L301.2 389.4 L301.9 388.6 L302.7 388.4 L303.8 388.1 L304.2 389.1Z" fill="#2C50F0" stroke="#000" stroke-width="1.50" stroke-linejoin="round"/>
<path d="M312.6 389.5 L311.8 390.7 L310.2 390.7 L309.5 389.5 L310.5 388.7 L311.8 388.4Z" fill="#000"/>
<path d="M316.8 389.3 L316.1 390.7 L314.9 390.2 L314.0 389.3 L314.8 388.1 L315.9 388.2Z" fill="#000"/>
<path d="M321.6 389.3 L320.7 390.3 L320.2 391.6 L318.9 391.0 L317.6 391.1 L317.3 389.8 L317.2 388.7 L318.0 388.0 L318.8 387.3 L320.1 387.1 L321.2 387.9Z" fill="#2C50F0" stroke="#000" stroke-width="1.50" stroke-linejoin="round"/>
<path d="M299.9 396.1 L300.1 398.8 L298.5 399.8 L296.8 402.3 L295.2 400.0 L293.7 397.8 L293.5 394.3 L294.8 391.4 L296.9 390.7 L299.0 390.4 L299.6 393.9Z" fill="#3C6CF8" stroke="#000" stroke-width="1.50" stroke-linejoin="round"/>
<rect x="297.2" y="394.8" width="1.7" height="1.4" fill="#FFD800"/>
<rect x="296.4" y="394.6" width="1.6" height="1.4" fill="#8CC0FF"/>
<path d="M294.0 403.5 L293.6 405.0 L292.3 406.3 L290.1 405.7 L288.4 405.3 L286.5 404.4 L286.3 402.6 L288.4 401.7 L290.0 400.7 L292.1 400.9 L293.3 402.2Z" fill="#2C50F0" stroke="#000" stroke-width="1.50" stroke-linejoin="round"/>
<rect x="289.0" y="402.8" width="1.3" height="1.1" fill="#FFD800"/>
<rect x="290.1" y="402.7" width="1.3" height="1.1" fill="#FF8C00"/>
<rect x="290.5" y="403.4" width="1.6" height="1.4" fill="#8CC0FF"/>
<path d="M301.5 402.9 L301.1 404.6 L299.9 404.5 L299.1 402.9 L299.9 401.2 L301.0 401.4Z" fill="#000"/>
<path d="M327.8 399.2 L328.0 400.7 L327.1 401.0 L326.3 402.2 L325.8 400.7 L325.2 399.9 L325.0 398.4 L325.6 397.4 L326.4 397.2 L327.2 396.9 L327.7 398.0Z" fill="#3C6CF8" stroke="#000" stroke-width="1.50" stroke-linejoin="round"/>
<path d="M330.6 408.3 L329.7 410.6 L326.3 413.2 L321.5 413.9 L317.5 415.4 L313.4 415.6 L316.0 413.0 L316.8 411.4 L319.9 409.8 L323.6 408.3 L328.2 407.3Z" fill="#5C9CFF" stroke="#000" stroke-width="1.50" stroke-linejoin="round"/>
<rect x="321.4" y="410.8" width="1.3" height="1.1" fill="#FFD800"/>
<rect x="318.8" y="410.6" width="1.3" height="1.1" fill="#FF8C00"/>
<rect x="323.8" y="411.5" width="1.6" height="1.4" fill="#8CC0FF"/>
<path d="M311.9 411.6 L311.6 412.7 L310.5 412.5 L309.7 411.6 L310.4 410.5 L311.5 410.9Z" fill="#000"/>
<path d="M337.6 410.4 L337.0 411.5 L336.2 412.4 L334.8 413.3 L333.3 412.6 L332.4 411.2 L332.9 409.7 L333.5 408.4 L334.9 407.8 L336.2 408.3 L337.9 408.7Z" fill="#3C6CF8" stroke="#000" stroke-width="1.50" stroke-linejoin="round"/>
<rect x="335.2" y="410.4" width="1.3" height="1.1" fill="#FFD800"/>
<path d="M342.7 412.9 L342.0 414.0 L341.2 415.1 L339.8 415.8 L338.9 414.4 L337.4 413.7 L337.2 412.0 L338.8 411.2 L339.9 410.3 L341.5 410.0 L342.0 411.7Z" fill="#3C6CF8" stroke="#000" stroke-width="1.50" stroke-linejoin="round"/>
<path d="M352.8 414.7 L352.3 415.9 L350.5 415.9 L349.9 414.7 L350.5 413.6 L352.4 413.5Z" fill="#000"/>
<path d="M360.1 416.0 L359.4 416.8 L358.4 416.8 L357.9 416.0 L358.3 415.0 L359.5 414.8Z" fill="#000"/>
<path d="M389.1 407.9 L388.3 409.7 L387.3 411.5 L384.9 412.6 L383.3 412.6 L382.2 412.0 L383.5 410.2 L385.1 408.4 L387.1 408.2Z" fill="#000"/>
<path d="M392.2 408.5 L391.8 409.6 L390.5 409.7 L390.1 408.5 L390.5 407.4 L391.6 407.7Z" fill="#000"/>
<path d="M398.6 407.3 L397.5 408.3 L395.8 408.6 L395.4 407.3 L395.8 405.9 L397.4 406.3Z" fill="#000"/>
<path d="M397.7 401.1 L397.1 403.1 L395.3 402.7 L394.1 401.1 L395.0 398.8 L397.0 399.2Z" fill="#000"/>
<path d="M391.8 419.7 L391.2 420.8 L389.8 420.9 L389.5 419.7 L389.9 418.6 L391.2 418.5Z" fill="#000"/>
<path d="M330.8 449.0 L330.0 451.0 L328.4 453.1 L325.4 455.1 L323.2 455.2 L322.4 454.1 L324.3 452.0 L326.3 450.4 L328.7 449.1Z" fill="#000"/>
<path d="M324.6 448.9 L324.0 449.9 L323.0 449.7 L322.2 448.9 L323.0 448.1 L323.9 448.1Z" fill="#000"/>
<path d="M411.7 438.3 L410.9 439.4 L409.9 439.6 L409.3 438.3 L409.8 436.7 L411.1 436.6Z" fill="#000"/>
<path d="M352.9 414.9 L352.3 415.9 L350.8 415.7 L349.4 414.9 L350.5 413.7 L352.3 413.9Z" fill="#000"/>
<path d="M360.0 416.3 L359.4 417.4 L358.1 417.3 L357.7 416.3 L357.9 414.9 L359.5 414.9Z" fill="#000"/>
<path d="M391.3 419.4 L391.0 420.6 L389.8 420.2 L388.9 419.4 L389.7 418.3 L390.9 418.5Z" fill="#000"/>
<path d="M411.3 438.8 L410.7 440.3 L409.6 440.3 L408.8 438.8 L409.7 437.4 L410.9 436.9Z" fill="#000"/>
<path d="M459.7 450.1 L459.1 451.2 L458.1 450.9 L457.2 450.1 L458.0 449.3 L459.1 449.2Z" fill="#000"/>
<path d="M433.8 452.8 L433.0 454.1 L431.9 453.6 L431.2 452.8 L431.7 451.8 L433.0 451.7Z" fill="#000"/>
<path d="M439.2 456.0 L438.4 457.1 L437.2 456.9 L436.5 456.0 L437.2 455.0 L438.4 454.8Z" fill="#000"/>
<path d="M428.7 459.2 L427.9 460.2 L426.9 460.0 L426.4 459.2 L426.8 458.1 L427.9 458.2Z" fill="#000"/>
<path d="M438.3 460.5 L438.1 461.9 L436.6 462.0 L435.6 463.0 L434.3 462.4 L433.8 461.2 L433.7 459.9 L434.9 459.3 L435.7 458.5 L436.7 458.9 L437.5 459.5Z" fill="#5C9CFF" stroke="#000" stroke-width="1.50" stroke-linejoin="round"/>
<path d="M425.4 464.2 L424.0 464.6 L422.1 463.8 L421.8 462.1 L423.5 461.9 L424.8 462.9Z" fill="#000"/>
<path d="M452.0 458.7 L451.6 460.2 L449.9 460.7 L448.5 460.1 L447.3 459.4 L447.2 458.0 L448.0 456.6 L449.9 456.9 L451.7 457.2Z" fill="#000"/>
<path d="M467.3 465.5 L466.8 466.5 L465.6 466.5 L464.9 465.5 L465.6 464.5 L466.7 464.6Z" fill="#000"/>
<path d="M476.9 471.7 L475.1 471.9 L473.3 470.9 L473.3 469.6 L474.5 469.3 L476.2 470.0Z" fill="#000"/>
<path d="M485.8 474.5 L485.3 475.7 L484.0 475.9 L483.6 474.5 L484.2 473.4 L485.2 473.6Z" fill="#000"/>
<path d="M409.8 474.1 L409.1 475.4 L407.9 475.1 L407.2 474.1 L407.7 472.8 L409.1 472.7Z" fill="#000"/>
<path d="M415.1 473.2 L414.3 474.1 L413.2 474.3 L412.9 473.2 L413.1 472.0 L414.4 472.1Z" fill="#000"/>
<path d="M413.9 479.0 L413.1 480.1 L411.8 480.1 L411.3 479.0 L411.9 478.0 L412.9 478.2Z" fill="#000"/>
<path d="M435.0 479.9 L434.3 481.0 L433.1 480.9 L432.6 479.9 L433.1 479.0 L434.2 479.0Z" fill="#000"/>
<path d="M443.2 479.8 L443.8 481.7 L442.4 483.9 L440.1 485.2 L437.6 486.1 L435.7 485.2 L435.5 483.4 L435.9 481.7 L437.4 480.3 L439.3 479.0 L441.0 479.6Z" fill="#2C50F0" stroke="#000" stroke-width="1.50" stroke-linejoin="round"/>
<rect x="438.8" y="481.9" width="1.6" height="1.4" fill="#8CC0FF"/>
<path d="M482.8 482.7 L482.0 484.4 L481.1 486.1 L479.4 485.7 L477.8 485.2 L476.8 483.6 L477.0 481.7 L478.2 480.6 L479.3 478.7 L480.9 479.9 L482.0 481.0Z" fill="#5C9CFF" stroke="#000" stroke-width="1.50" stroke-linejoin="round"/>
<rect x="480.8" y="481.4" width="1.6" height="1.4" fill="#8CC0FF"/>
<path d="M469.4 482.2 L468.6 483.3 L467.4 483.2 L466.8 482.2 L467.4 481.1 L468.5 481.3Z" fill="#000"/>
<path d="M397.2 488.1 L397.9 490.6 L396.2 490.8 L394.7 489.1 L394.6 486.5 L396.2 486.7Z" fill="#000"/>
<path d="M416.2 488.1 L416.8 489.5 L415.4 490.4 L413.9 490.3 L412.9 489.5 L411.4 488.8 L412.4 487.6 L412.3 486.1 L413.8 485.3 L415.3 486.1 L416.2 486.9Z" fill="#2C50F0" stroke="#000" stroke-width="1.50" stroke-linejoin="round"/>
<path d="M418.8 490.3 L418.4 491.3 L417.2 491.4 L416.9 490.3 L417.2 489.2 L418.5 489.2Z" fill="#000"/>
<path d="M430.6 491.7 L429.0 492.8 L427.4 493.0 L426.0 491.7 L427.5 490.5 L429.1 490.5Z" fill="#000"/>
<path d="M433.2 492.1 L432.6 493.4 L431.4 493.0 L430.4 492.1 L431.2 491.0 L432.5 491.1Z" fill="#000"/>
<path d="M436.4 492.1 L436.2 493.3 L434.9 493.2 L434.1 492.1 L435.0 491.3 L436.0 491.2Z" fill="#000"/>
<path d="M455.5 492.5 L456.1 494.5 L454.8 494.5 L453.1 493.8 L452.8 491.6 L454.1 491.2Z" fill="#000"/>
<path d="M408.7 493.9 L408.1 495.1 L407.0 494.8 L406.6 493.9 L406.9 493.0 L408.0 493.1Z" fill="#000"/>
<path d="M419.0 498.9 L418.9 501.3 L417.0 502.3 L415.1 501.7 L413.8 500.1 L414.5 498.1 L415.4 496.6 L417.1 495.3 L418.3 497.1Z" fill="#000"/>
<path d="M428.9 498.2 L428.6 500.6 L427.0 503.0 L424.1 504.5 L422.2 503.8 L420.9 502.8 L420.9 500.5 L423.6 498.1 L426.1 498.6Z" fill="#000"/>
<path d="M418.2 504.3 L417.5 505.1 L416.5 505.1 L415.4 504.3 L416.5 503.6 L417.5 503.5Z" fill="#000"/>
<path d="M422.4 504.3 L421.8 505.6 L420.3 505.6 L420.0 504.3 L420.4 503.2 L421.5 503.5Z" fill="#000"/>
<path d="M441.9 499.8 L440.4 501.0 L438.6 501.2 L437.0 499.8 L438.3 498.2 L440.9 498.0Z" fill="#000"/>
<path d="M404.6 501.2 L404.0 502.2 L402.8 502.2 L402.3 501.2 L402.8 500.1 L404.0 500.2Z" fill="#000"/>
<path d="M406.4 504.8 L405.9 505.7 L404.6 505.7 L403.7 504.8 L404.7 504.0 L405.9 503.8Z" fill="#000"/>
<path d="M436.1 512.5 L436.2 514.4 L434.6 514.9 L433.3 515.8 L432.0 514.8 L430.9 513.4 L431.5 511.7 L431.6 509.7 L433.3 509.7 L434.9 509.3 L435.6 511.0Z" fill="#2C50F0" stroke="#000" stroke-width="1.50" stroke-linejoin="round"/>
<path d="M449.6 512.5 L448.7 513.7 L446.9 513.5 L446.0 512.5 L447.0 511.6 L448.5 511.4Z" fill="#000"/>
<path d="M446.0 508.9 L445.5 509.8 L444.4 509.8 L443.9 508.9 L444.5 508.0 L445.7 507.6Z" fill="#000"/>
<path d="M450.9 507.0 L450.1 508.1 L448.8 508.2 L448.5 507.0 L448.9 506.0 L450.1 506.0Z" fill="#000"/>
<path d="M459.4 511.6 L458.8 512.8 L457.5 512.4 L456.6 511.6 L457.5 510.6 L458.8 510.5Z" fill="#000"/>
<path d="M473.2 513.8 L472.0 514.7 L470.1 515.0 L469.4 513.8 L470.2 512.8 L472.2 512.6Z" fill="#000"/>
<path d="M479.3 514.0 L478.8 515.2 L477.3 514.9 L476.8 514.0 L477.4 513.2 L478.8 512.8Z" fill="#000"/>
<path d="M469.8 519.7 L468.9 520.8 L467.0 521.0 L466.2 519.7 L467.4 518.9 L468.8 518.6Z" fill="#000"/>
<path d="M486.3 519.7 L486.4 520.9 L485.1 521.2 L483.9 522.0 L483.1 520.9 L482.6 520.1 L482.6 519.3 L483.1 518.5 L483.9 517.4 L485.3 517.9 L486.2 518.7Z" fill="#3C6CF8" stroke="#000" stroke-width="1.50" stroke-linejoin="round"/>
<rect x="483.1" y="519.6" width="1.3" height="1.1" fill="#FFD800"/>
<path d="M486.4 526.9 L486.3 528.5 L484.8 529.0 L483.4 529.9 L482.5 528.5 L481.4 527.6 L481.1 526.1 L481.9 524.7 L483.5 524.5 L484.8 524.8 L486.2 525.4Z" fill="#3C6CF8" stroke="#000" stroke-width="1.50" stroke-linejoin="round"/>
<path d="M486.0 534.6 L485.5 536.7 L484.1 536.2 L483.8 534.6 L484.1 532.8 L485.5 532.5Z" fill="#000"/>
<path d="M459.1 531.4 L458.9 532.2 L458.4 533.1 L457.3 533.7 L456.2 533.0 L455.9 531.9 L455.4 530.8 L456.4 530.1 L457.4 530.0 L458.4 529.8 L458.9 530.6Z" fill="#3C6CF8" stroke="#000" stroke-width="1.50" stroke-linejoin="round"/>
<rect x="457.4" y="530.7" width="1.3" height="1.1" fill="#FFD800"/>
<path d="M465.0 540.4 L463.8 540.5 L462.7 541.0 L459.9 539.7 L458.3 538.3 L455.8 536.7 L457.8 536.7 L459.1 536.7 L461.2 537.2 L463.2 538.4 L464.3 539.4Z" fill="#2C50F0" stroke="#000" stroke-width="1.50" stroke-linejoin="round"/>
<path d="M467.1 539.1 L466.3 540.9 L464.6 540.4 L463.2 539.1 L464.6 537.9 L466.3 537.4Z" fill="#000"/>
<path d="M447.0 530.1 L446.5 531.1 L445.2 531.3 L445.0 530.1 L445.4 529.3 L446.4 529.2Z" fill="#000"/>
<path fill="none" stroke="#2C50F0" stroke-width="1.4" d="M92.1 202.3h1.5M91.6 204.0h1.5M90.5 203.2h1.5M101.8 212.2h1.5M96.8 215.0h1.5M95.3 213.0h1.5M98.2 211.3h1.5M106.3 220.8h1.5M104.3 219.8h1.5M103.4 221.3h1.5M106.2 220.8h1.5M103.6 224.5h1.5M115.1 230.0h1.5M111.7 225.5h1.5M109.4 227.8h1.5M111.0 228.1h1.5M111.2 229.2h1.5M91.1 255.9h1.5M91.7 255.9h1.5M88.7 255.6h1.5M89.7 253.4h1.5M90.1 252.7h1.5M80.0 262.7h1.5M86.7 265.6h1.5M87.5 287.9h1.5M92.5 293.7h1.5M91.5 296.1h1.5M90.4 309.1h1.5M88.1 307.8h1.5M152.5 283.0h1.5M196.1 303.5h1.5M197.4 301.3h1.5M198.1 322.8h1.5M196.1 324.8h1.5M195.5 318.8h1.5M199.5 325.2h1.5M199.3 322.2h1.5M207.0 327.1h1.5M209.3 328.0h1.5M207.0 328.8h1.5M207.0 327.6h1.5M214.6 335.6h1.5M214.7 333.4h1.5M219.3 348.4h1.5M218.2 350.3h1.5M217.7 350.3h1.5M216.4 348.2h1.5M185.4 340.1h1.5M185.2 338.5h1.5M194.0 356.9h1.5M204.8 368.1h1.5M233.7 337.4h1.5M241.0 340.2h1.5M240.9 337.3h1.5M248.4 344.0h1.5M251.2 341.5h1.5M244.7 362.2h1.5M244.5 360.0h1.5M267.6 376.3h1.5M232.6 334.0h1.5M242.6 338.3h1.5M241.0 339.2h1.5M242.2 339.8h1.5M239.9 339.5h1.5M251.2 341.4h1.5M246.3 357.1h1.5M300.3 369.7h1.5M283.4 380.0h1.5M283.5 379.9h1.5M282.3 378.9h1.5M285.3 380.3h1.5M284.0 379.5h1.5M302.7 378.8h1.5M304.3 376.4h1.5M303.1 378.6h1.5M302.8 376.8h1.5M336.1 376.3h1.5M333.6 373.5h1.5M330.0 375.2h1.5M332.1 371.3h1.5M335.9 370.4h1.5M332.1 377.0h1.5M337.9 372.3h1.5M342.6 365.3h1.5M343.6 365.3h1.5M341.4 367.4h1.5M358.5 372.4h1.5M366.9 383.8h1.5M301.7 389.2h1.5M295.8 399.0h1.5M295.7 398.4h1.5M295.6 397.5h1.5M296.6 393.6h1.5M288.8 402.7h1.5M322.0 412.5h1.5M320.1 409.9h1.5M324.5 411.8h1.5M434.7 461.3h1.5M433.8 460.6h1.5M438.2 483.6h1.5M439.7 481.6h1.5M478.1 481.9h1.5M481.0 481.9h1.5M479.9 484.5h1.5M433.4 512.4h1.5M434.1 511.2h1.5M433.4 511.1h1.5M434.6 513.0h1.5M484.4 526.9h1.5M455.9 531.5h1.5M458.0 538.1h1.5M457.8 537.4h1.5"/>
<path fill="none" stroke="#5C9CFF" stroke-width="1.4" d="M90.2 199.9h1.5M90.4 203.6h1.5M96.9 216.9h1.5M97.3 214.2h1.5M105.9 222.3h1.5M106.2 218.3h1.5M111.3 228.9h1.5M114.8 227.4h1.5M90.2 253.4h1.5M91.2 251.5h1.5M80.4 263.4h1.5M81.0 265.1h1.5M89.1 266.2h1.5M94.1 266.3h1.5M86.2 282.0h1.5M88.5 287.1h1.5M93.2 295.9h1.5M91.9 297.2h1.5M91.2 294.4h1.5M91.4 293.3h1.5M92.6 297.2h1.5M128.6 248.9h1.5M129.2 249.6h1.5M127.9 249.9h1.5M151.8 283.5h1.5M196.6 300.5h1.5M196.9 301.5h1.5M195.4 306.0h1.5M196.3 305.1h1.5M196.5 300.5h1.5M195.2 304.2h1.5M197.7 321.6h1.5M198.2 326.5h1.5M196.5 322.3h1.5M215.2 332.1h1.5M185.7 336.8h1.5M206.1 366.7h1.5M235.2 337.1h1.5M240.1 338.5h1.5M250.7 342.4h1.5M249.9 344.5h1.5M245.2 360.7h1.5M247.3 357.6h1.5M284.7 325.5h1.5M282.6 326.6h1.5M293.2 346.7h1.5M295.1 346.1h1.5M241.2 338.4h1.5M252.0 342.0h1.5M250.2 340.2h1.5M249.2 342.4h1.5M248.9 340.8h1.5M243.4 358.6h1.5M247.8 359.7h1.5M261.9 366.4h1.5M260.1 364.9h1.5M280.8 381.0h1.5M284.4 381.4h1.5M333.1 377.0h1.5M339.0 375.7h1.5M332.1 372.1h1.5M339.8 372.9h1.5M341.5 368.5h1.5M362.2 373.2h1.5M361.9 373.9h1.5M368.4 387.1h1.5M325.6 399.6h1.5M322.6 410.0h1.5M338.5 414.3h1.5M340.5 412.7h1.5M439.3 480.6h1.5M439.4 483.5h1.5M478.4 481.3h1.5M478.7 482.7h1.5M412.6 488.6h1.5M414.4 487.0h1.5M483.1 519.7h1.5M481.8 527.2h1.5M483.3 527.5h1.5M461.2 539.4h1.5"/>
<path fill="none" stroke="#8CC0FF" stroke-width="1.4" d="M91.9 202.3h1.5M98.9 210.0h1.5M98.8 215.9h1.5M99.6 209.8h1.5M104.6 221.8h1.5M107.3 224.3h1.5M108.8 223.0h1.5M103.6 218.6h1.5M105.5 223.6h1.5M103.2 220.7h1.5M103.8 220.5h1.5M110.8 227.1h1.5M114.4 229.8h1.5M91.0 252.8h1.5M79.4 260.8h1.5M81.2 263.3h1.5M86.4 267.2h1.5M84.0 283.1h1.5M85.7 281.2h1.5M83.9 281.5h1.5M89.5 286.7h1.5M89.9 308.1h1.5M128.5 251.0h1.5M195.4 309.0h1.5M198.2 318.7h1.5M197.5 327.2h1.5M195.4 319.3h1.5M196.4 318.5h1.5M197.0 322.9h1.5M207.6 328.4h1.5M208.7 326.7h1.5M212.9 336.2h1.5M217.4 347.4h1.5M216.9 344.9h1.5M215.9 349.9h1.5M186.4 340.7h1.5M195.5 355.5h1.5M251.3 340.1h1.5M248.6 342.7h1.5M246.0 357.5h1.5M292.7 348.6h1.5M248.1 342.0h1.5M249.3 343.0h1.5M242.4 358.7h1.5M260.2 365.0h1.5M300.7 369.8h1.5M284.2 378.8h1.5M300.9 377.2h1.5M303.8 378.0h1.5M301.8 377.5h1.5M304.3 376.4h1.5M338.7 371.8h1.5M330.8 374.0h1.5M334.4 372.3h1.5M332.7 374.1h1.5M337.8 372.6h1.5M332.5 374.8h1.5M334.1 373.5h1.5M343.6 365.5h1.5M358.8 372.5h1.5M361.2 372.2h1.5M370.6 387.1h1.5M369.3 387.0h1.5M318.9 390.0h1.5M295.4 395.0h1.5M289.4 405.3h1.5M322.7 409.3h1.5M322.4 409.5h1.5M341.0 412.1h1.5M435.9 481.7h1.5M439.1 484.0h1.5M478.7 480.7h1.5M484.1 527.6h1.5"/>
<path fill="none" stroke="#FFD800" stroke-width="1.4" d="M93.0 205.8h1.5M91.2 203.5h1.5M91.7 203.6h1.5M96.4 216.3h1.5M96.9 209.3h1.5M96.1 209.5h1.5M101.3 217.2h1.5M99.5 213.2h1.5M97.0 214.1h1.5M98.9 214.4h1.5M99.5 213.3h1.5M107.7 220.9h1.5M103.1 220.4h1.5M109.2 222.0h1.5M108.9 224.7h1.5M103.4 224.0h1.5M104.9 225.3h1.5M105.5 221.7h1.5M108.5 223.0h1.5M105.6 224.2h1.5M89.1 256.8h1.5M88.0 254.8h1.5M91.2 254.9h1.5M91.6 251.4h1.5M90.4 254.1h1.5M91.0 256.7h1.5M87.1 251.6h1.5M89.7 255.4h1.5M91.2 251.8h1.5M90.0 249.3h1.5M89.7 252.6h1.5M87.7 252.6h1.5M90.9 254.2h1.5M80.9 261.4h1.5M77.2 262.2h1.5M79.9 262.3h1.5M77.4 262.4h1.5M88.9 265.3h1.5M86.3 265.8h1.5M153.0 281.0h1.5M153.7 285.5h1.5M194.7 307.6h1.5M196.9 306.9h1.5M196.1 310.9h1.5M196.3 301.7h1.5M197.0 310.6h1.5M197.9 303.4h1.5M196.3 307.8h1.5M196.6 305.0h1.5M196.7 322.5h1.5M197.7 316.7h1.5M196.1 321.2h1.5M199.0 321.5h1.5M214.9 332.9h1.5M213.0 332.7h1.5M215.2 348.9h1.5M217.6 346.4h1.5M217.9 349.7h1.5M186.6 338.7h1.5M195.8 356.5h1.5M195.8 354.9h1.5M194.8 356.4h1.5M233.4 335.6h1.5M234.9 338.0h1.5M233.5 334.9h1.5M247.5 360.2h1.5M244.3 358.8h1.5M247.9 360.3h1.5M246.0 360.9h1.5M246.4 357.8h1.5M233.8 337.6h1.5M232.8 334.5h1.5M232.3 336.6h1.5M246.5 360.8h1.5M247.7 358.5h1.5M245.9 360.5h1.5M242.7 359.6h1.5M335.0 373.8h1.5M332.2 377.5h1.5M330.6 374.8h1.5M338.3 370.8h1.5M336.8 374.1h1.5M339.1 373.8h1.5M336.0 375.6h1.5M331.2 374.9h1.5M336.2 372.0h1.5M332.2 373.9h1.5M337.4 374.4h1.5M342.3 365.4h1.5M369.6 387.4h1.5M364.6 383.8h1.5M367.3 384.5h1.5M366.0 385.7h1.5M370.1 386.8h1.5M294.8 394.8h1.5M296.9 399.8h1.5M295.2 395.8h1.5M296.1 392.5h1.5M295.0 394.5h1.5M296.6 396.6h1.5M297.0 396.7h1.5M298.0 394.7h1.5M290.4 404.2h1.5M292.5 403.8h1.5M319.8 410.5h1.5M323.0 412.3h1.5M319.5 411.3h1.5M320.3 412.5h1.5M325.1 410.1h1.5M321.7 409.7h1.5M333.2 409.4h1.5M333.2 411.4h1.5M483.3 520.6h1.5"/>
<path fill="none" stroke="#1C34F0" stroke-width="1.4" d="M100.0 217.5h1.5M102.2 214.3h1.5M96.6 209.9h1.5M98.0 217.3h1.5M96.7 209.4h1.5M97.3 217.2h1.5M106.4 218.7h1.5M109.9 227.2h1.5M114.8 227.6h1.5M110.6 227.4h1.5M86.0 253.0h1.5M89.1 252.8h1.5M79.4 265.5h1.5M95.1 265.7h1.5M88.8 287.9h1.5M90.5 308.9h1.5M91.9 309.3h1.5M88.1 307.0h1.5M152.7 282.3h1.5M152.4 284.7h1.5M196.3 309.5h1.5M195.7 306.7h1.5M199.3 321.6h1.5M207.0 328.6h1.5M214.1 332.1h1.5M216.6 335.6h1.5M212.6 335.3h1.5M218.3 348.5h1.5M203.5 367.7h1.5M205.9 366.1h1.5M233.0 333.3h1.5M242.8 340.1h1.5M242.2 337.3h1.5M248.3 343.7h1.5M250.9 342.9h1.5M248.5 341.0h1.5M251.8 339.9h1.5M244.6 361.4h1.5M284.2 325.4h1.5M294.6 349.4h1.5M292.5 346.8h1.5M292.8 348.9h1.5M292.0 348.1h1.5M295.0 348.8h1.5M234.1 337.2h1.5M251.6 340.2h1.5M250.4 342.4h1.5M249.8 341.2h1.5M243.4 359.1h1.5M243.7 360.3h1.5M243.2 358.2h1.5M247.5 360.7h1.5M260.6 367.7h1.5M260.9 367.1h1.5M283.5 382.7h1.5M282.5 381.4h1.5M282.7 381.7h1.5M282.2 381.0h1.5M283.6 379.3h1.5M306.1 378.0h1.5M334.5 376.0h1.5M336.0 373.1h1.5M341.1 366.1h1.5M318.4 388.2h1.5M317.2 390.0h1.5M289.4 404.1h1.5M325.9 400.3h1.5M317.9 412.7h1.5M335.8 410.3h1.5M336.2 410.9h1.5M339.5 414.0h1.5M437.6 480.3h1.5M436.7 481.3h1.5M439.4 481.6h1.5M481.0 483.4h1.5M413.8 486.7h1.5M433.4 513.1h1.5M457.2 532.6h1.5M459.9 539.1h1.5"/>
<path fill="none" stroke="#FF8C00" stroke-width="1.4" d="M86.6 250.6h1.5M79.3 261.3h1.5M81.1 264.6h1.5M292.1 402.8h1.5M289.7 405.4h1.5M319.1 410.8h1.5M317.0 413.0h1.5M322.8 412.5h1.5"/>
<path d="M254.0 320.2 L261.0 324.6 L260.0 326.5 L253.5 322.0Z" fill="#000"/>
<path d="M261.3 313.5 L270.7 312.9 L276.3 319.7 L272.5 328.4 L265.7 327.8 L259.5 322.2Z" fill="#3458F4" stroke="#000" stroke-width="1.4" stroke-linejoin="round"/>
<rect x="264.3" y="314.5" width="7.0" height="3.0" fill="#FF7800"/>
<rect x="265.8" y="316.0" width="5.0" height="2.6" fill="#F03000"/>
<rect x="267.3" y="318.5" width="4.0" height="2.5" fill="#FFD800"/>
<rect x="261.8" y="320.5" width="4.0" height="2.4" fill="#FFD800"/>
<rect x="269.3" y="321.5" width="4.0" height="2.2" fill="#FFC000"/>
<rect x="270.3" y="317.0" width="4.5" height="2.6" fill="#5CA4FF"/>
<rect x="266.3" y="323.5" width="5.0" height="2.2" fill="#8CC4FF"/>
<rect x="262.3" y="317.5" width="3.0" height="2.2" fill="#FF9000"/>
<rect x="271.3" y="324.0" width="3.0" height="2.0" fill="#FFD800"/>
<rect x="261.3" y="323.5" width="3.5" height="2.0" fill="#FF9800"/>
<rect x="268.3" y="315.0" width="3.0" height="1.6" fill="#FF9800"/>
<rect x="264.3" y="325.3" width="4.0" height="1.8" fill="#5CA4FF"/>
<rect x="76.4" y="210.4" width="1.3" height="1.3" fill="#60D060"/>
<rect x="67.1" y="231.7" width="1.3" height="1.3" fill="#60D060"/>
<rect x="92.5" y="248.9" width="1.3" height="1.3" fill="#60D060"/>
<rect x="191.3" y="270.6" width="1.3" height="1.3" fill="#60D060"/>
<rect x="93.1" y="262.5" width="1.3" height="1.3" fill="#60D060"/>
<rect x="91.3" y="275.0" width="1.3" height="1.3" fill="#60D060"/>
<rect x="282" y="323.5" width="1.8" height="1.5" fill="#60D060"/>
</g>
<g transform="translate(0 0.0)">
<text class="ax" x="15.4" y="286.6" text-anchor="middle">48</text>
<text class="ax" x="94.2" y="286.6" text-anchor="middle">50</text>
<text class="ax" x="173.0" y="286.6" text-anchor="middle">52</text>
<text class="ax" x="251.8" y="286.6" text-anchor="middle">54</text>
<text class="ax" x="330.6" y="286.6" text-anchor="middle">56</text>
<text class="ax" x="409.4" y="286.6" text-anchor="middle">58</text>
<text class="ax" x="240.6" y="54.0" text-anchor="end">-12</text>
<text class="ax" x="240.6" y="138.6" text-anchor="end">-14</text>
<text class="ax" x="240.6" y="223.3" text-anchor="end">-16</text>
<text class="ax" x="240.6" y="307.9" text-anchor="end">-18</text>
<text class="ax" x="240.6" y="392.6" text-anchor="end">-20</text>
<text class="ax" x="240.6" y="477.2" text-anchor="end">-22</text>
<text class="ti" x="37.2" y="65.9">PR max reflectivity projection (dBZ)</text>
<text class="pl" x="456.4" y="522.6" text-anchor="middle">(b)</text>
</g>
<path d="M243.1 294.9h12.6M249.4 288.6v12.6" stroke="#000" stroke-width="4.4"/>
<rect x="495.0" y="531.72" width="9.0" height="8.57" fill="#F7F7F7"/>
<rect x="495.0" y="523.25" width="9.0" height="8.57" fill="#EFEFEF"/>
<rect x="495.0" y="514.78" width="9.0" height="8.57" fill="#E7E7E7"/>
<rect x="495.0" y="506.32" width="9.0" height="8.57" fill="#DFDFDF"/>
<rect x="495.0" y="497.85" width="9.0" height="8.57" fill="#D7D7D7"/>
<rect x="495.0" y="489.38" width="9.0" height="8.57" fill="#CFCFCF"/>
<rect x="495.0" y="480.92" width="9.0" height="8.57" fill="#C6C6C6"/>
<rect x="495.0" y="472.45" width="9.0" height="8.57" fill="#BEBEBE"/>
<rect x="495.0" y="463.98" width="9.0" height="8.57" fill="#B6B6B6"/>
<rect x="495.0" y="455.52" width="9.0" height="8.57" fill="#AEAEAE"/>
<rect x="495.0" y="447.05" width="9.0" height="8.57" fill="#A6A6A6"/>
<rect x="495.0" y="438.58" width="9.0" height="8.57" fill="#9E9E9E"/>
<rect x="495.0" y="430.12" width="9.0" height="8.57" fill="#969696"/>
<rect x="495.0" y="421.65" width="9.0" height="8.57" fill="#8E8E8E"/>
<rect x="495.0" y="413.18" width="9.0" height="8.57" fill="#7EE07E"/>
<rect x="495.0" y="404.72" width="9.0" height="8.57" fill="#78D678"/>
<rect x="495.0" y="396.25" width="9.0" height="8.57" fill="#71CB71"/>
<rect x="495.0" y="387.78" width="9.0" height="8.57" fill="#6AC06A"/>
<rect x="495.0" y="379.32" width="9.0" height="8.57" fill="#64B664"/>
<rect x="495.0" y="370.85" width="9.0" height="8.57" fill="#C8D0FF"/>
<rect x="495.0" y="362.38" width="9.0" height="8.57" fill="#B5CAFF"/>
<rect x="495.0" y="353.92" width="9.0" height="8.57" fill="#A2C3FF"/>
<rect x="495.0" y="345.45" width="9.0" height="8.57" fill="#8FBDFF"/>
<rect x="495.0" y="336.98" width="9.0" height="8.57" fill="#7BB6FF"/>
<rect x="495.0" y="328.52" width="9.0" height="8.57" fill="#64AFFF"/>
<rect x="495.0" y="320.05" width="9.0" height="8.57" fill="#4FA4FF"/>
<rect x="495.0" y="311.58" width="9.0" height="8.57" fill="#4686FF"/>
<rect x="495.0" y="303.12" width="9.0" height="8.57" fill="#3D65FF"/>
<rect x="495.0" y="294.65" width="9.0" height="8.57" fill="#3542FF"/>
<rect x="495.0" y="286.18" width="9.0" height="8.57" fill="#1818FF"/>
<rect x="495.0" y="277.72" width="9.0" height="8.57" fill="#0000F6"/>
<rect x="495.0" y="269.25" width="9.0" height="8.57" fill="#0000E3"/>
<rect x="495.0" y="260.78" width="9.0" height="8.57" fill="#0000D1"/>
<rect x="495.0" y="252.32" width="9.0" height="8.57" fill="#0000BE"/>
<rect x="495.0" y="243.85" width="9.0" height="8.57" fill="#FFFF00"/>
<rect x="495.0" y="235.38" width="9.0" height="8.57" fill="#FFF200"/>
<rect x="495.0" y="226.92" width="9.0" height="8.57" fill="#FFE600"/>
<rect x="495.0" y="218.45" width="9.0" height="8.57" fill="#FFD900"/>
<rect x="495.0" y="209.98" width="9.0" height="8.57" fill="#FFCC00"/>
<rect x="495.0" y="201.52" width="9.0" height="8.57" fill="#FF9200"/>
<rect x="495.0" y="193.05" width="9.0" height="8.57" fill="#FF8A00"/>
<rect x="495.0" y="184.58" width="9.0" height="8.57" fill="#FF8100"/>
<rect x="495.0" y="176.12" width="9.0" height="8.57" fill="#FF7800"/>
<rect x="495.0" y="167.65" width="9.0" height="8.57" fill="#FF7000"/>
<rect x="495.0" y="159.18" width="9.0" height="8.57" fill="#FF4500"/>
<rect x="495.0" y="150.72" width="9.0" height="8.57" fill="#FF3A00"/>
<rect x="495.0" y="142.25" width="9.0" height="8.57" fill="#FF3000"/>
<rect x="495.0" y="133.78" width="9.0" height="8.57" fill="#FF2500"/>
<rect x="495.0" y="125.32" width="9.0" height="8.57" fill="#FF1A00"/>
<rect x="495.0" y="116.85" width="9.0" height="8.57" fill="#CC0000"/>
<rect x="495.0" y="108.38" width="9.0" height="8.57" fill="#C10400"/>
<rect x="495.0" y="99.92" width="9.0" height="8.57" fill="#B60700"/>
<rect x="495.0" y="91.45" width="9.0" height="8.57" fill="#AB0A00"/>
<rect x="495.0" y="82.98" width="9.0" height="8.57" fill="#A00E00"/>
<rect x="495.0" y="74.52" width="9.0" height="8.57" fill="#680E06"/>
<rect x="495.0" y="66.05" width="9.0" height="8.57" fill="#65110A"/>
<rect x="495.0" y="57.58" width="9.0" height="8.57" fill="#62140F"/>
<rect x="495.0" y="49.12" width="9.0" height="8.57" fill="#5F1714"/>
<rect x="495.0" y="40.65" width="9.0" height="8.57" fill="#5C1A18"/>
<path d="M504.0 548.7h2.2" stroke="#000" stroke-width="0.7"/>
<text class="tk" x="524.5" y="557.2" text-anchor="middle">0</text>
<path d="M504.0 497.9h2.2" stroke="#000" stroke-width="0.7"/>
<text class="tk" x="524.5" y="506.4" text-anchor="middle">6</text>
<path d="M504.0 447.1h2.2" stroke="#000" stroke-width="0.7"/>
<text class="tk" x="524.5" y="455.6" text-anchor="middle">12</text>
<path d="M504.0 396.3h2.2" stroke="#000" stroke-width="0.7"/>
<text class="tk" x="524.5" y="404.8" text-anchor="middle">18</text>
<path d="M504.0 345.5h2.2" stroke="#000" stroke-width="0.7"/>
<text class="tk" x="524.5" y="354.0" text-anchor="middle">24</text>
<path d="M504.0 294.7h2.2" stroke="#000" stroke-width="0.7"/>
<text class="tk" x="524.5" y="303.2" text-anchor="middle">30</text>
<path d="M504.0 243.9h2.2" stroke="#000" stroke-width="0.7"/>
<text class="tk" x="524.5" y="252.4" text-anchor="middle">36</text>
<path d="M504.0 193.1h2.2" stroke="#000" stroke-width="0.7"/>
<text class="tk" x="524.5" y="201.6" text-anchor="middle">42</text>
<path d="M504.0 142.3h2.2" stroke="#000" stroke-width="0.7"/>
<text class="tk" x="524.5" y="150.8" text-anchor="middle">48</text>
<path d="M504.0 91.5h2.2" stroke="#000" stroke-width="0.7"/>
<text class="tk" x="524.5" y="100.0" text-anchor="middle">54</text>
</g>
<g transform="translate(1181.05 0.00)">
<g clip-path="url(#cp)">

</g>
<path d="M15.4 41.3V548.7 M94.2 41.3V548.7 M173.0 41.3V548.7 M251.8 41.3V548.7 M330.6 41.3V548.7 M409.4 41.3V548.7" class="gr" stroke-dashoffset="0"/>
<path d="M13.0 54.3H486.0 M13.0 138.9H486.0 M13.0 223.6H486.0 M13.0 308.2H486.0 M13.0 392.9H486.0 M13.0 477.5H486.0" class="gr"/>
<g clip-path="url(#cp)">
<path d="M13.2 121.1 L14.3 119.3 L16.9 119.3 L19.8 120.7 L22.0 124.4 L23.1 128.1 L25.0 129.9 L26.4 131.0 L27.9 128.1 L28.3 122.9 L29.0 119.6 L32.3 118.9 L35.2 117.4 L35.6 115.6 L34.5 113.4 L36.7 114.5 L40.4 115.2 L44.0 114.1 L46.6 111.9 L47.3 108.3 L47.7 103.9 L48.8 100.2 L50.6 96.5 L52.5 92.5 L52.9 89.9 L51.8 86.2 L50.6 81.8 L49.9 78.9 L47.7 76.0 L45.9 74.1 L44.4 73.4 L47.0 71.9 L49.2 73.4 L51.4 74.1 L53.2 73.0 L53.6 70.1 L55.8 67.9 L58.7 66.1 L60.9 63.5 L61.3 59.8 L63.1 54.7 L65.3 53.2 L66.4 54.7 L64.6 58.4 L64.6 64.2 L66.4 66.8 L68.3 65.0 L70.5 65.3 L72.3 69.4 L76.0 69.7 L77.1 73.0 L77.4 77.4 L77.1 81.8 L80.0 83.7 L80.7 87.0 L83.3 86.6 L85.9 88.8 L88.5 91.4 L88.8 94.3 L91.4 98.0 L91.8 102.4 L92.5 106.8 L94.0 110.5 L95.4 112.7 L95.8 116.3 L97.6 122.2 L99.1 128.1 L99.8 134.0 L100.2 139.1 L100.6 144.2 L100.9 148.6 L102.4 150.8 L101.7 155.2 L102.0 160.4 L102.8 165.9 L105.0 173.2 L107.9 180.6 L111.6 185.7 L113.6 190.1 L114.1 194.5 L113.0 201.1 L110.8 207.0 L108.6 211.4 L107.2 216.5 L104.2 220.9 L101.7 222.8 L98.4 220.9 L94.7 216.5 L92.9 211.4 L91.0 207.0 L89.9 203.3 L90.7 199.6 L86.6 199.6 L82.2 200.7 L80.0 203.3 L80.4 207.7 L81.5 212.1 L82.6 216.5 L83.3 220.2 L82.2 223.9 L82.9 227.5 L85.2 229.4 L87.7 230.8 L88.5 233.4 L87.4 237.1 L89.2 241.5 L88.5 245.9 L86.3 249.6 L84.4 252.5 L84.8 256.2 L87.4 258.4 L85.9 259.8 L82.2 260.6 L78.2 262.0 L76.3 266.4 L74.1 272.3 L72.3 276.7 L71.6 280.4 L71.2 280.0 L72.7 283.7 L74.5 288.8 L75.2 294.7 L74.1 299.1 L72.7 304.2 L71.6 309.4 L71.6 314.5 L70.1 320.4 L69.0 325.5 L66.1 332.9 L63.5 340.2 L60.9 347.5 L57.3 354.1 L55.4 360.7 L52.9 368.1 L49.9 375.4 L48.1 382.8 L47.0 389.4 L45.5 390.8 L45.9 394.5 L44.0 399.7 L43.7 400.0 L40.4 406.6 L38.2 414.7 L36.0 423.5 L34.1 430.1 L32.3 434.5 L31.9 438.9 L30.1 447.0 L27.2 457.3 L24.2 466.1 L22.0 471.2 L19.5 476.3 L17.6 481.5 L15.4 488.8 L12.8 496.9 M13.6 135.4 L16.5 137.6 L13.2 139.8 L16.9 142.0 L13.6 144.2 L17.3 146.1 L13.2 147.9 L16.5 149.4 L14.7 151.6 M12.8 163.3 L15.0 165.1 L13.9 167.3 L15.8 169.2" class="co" stroke-width="1.25"/>
<path d="M13.0 144.8 L32.3 158.2 L51.4 171.7 L110.3 211.6 L149.9 238.0 L227.9 289.1 L287.7 326.4 L308.1 339.1 L449.2 423.2 L469.6 434.9 L486.0 444.4" class="da" stroke-dasharray="12.00 11.53"/>
<path d="M13.2 258.0 L32.3 271.2 L52.1 284.0 L110.3 323.9 L149.9 349.6 L189.6 375.0 L229.2 400.2 L268.8 425.5 L309.5 449.6 L369.7 485.9 L409.9 509.5 L430.7 521.9 L471.8 544.2 L480.0 548.7" class="da" stroke-dasharray="11.99 11.52"/>
<path d="M93.7 203.1 L94.6 205.6 L94.0 207.5 L92.8 207.9 L91.5 206.7 L89.9 205.6 L89.2 202.8 L89.6 200.6 L90.4 199.3 L91.7 199.9 L92.8 201.4Z" fill="#78D47C" stroke="#000" stroke-width="1.60" stroke-linejoin="round"/>
<path d="M103.9 211.8 L103.4 215.1 L102.1 216.9 L100.9 219.5 L98.1 219.4 L96.0 216.5 L95.3 213.3 L94.5 209.7 L96.6 207.8 L99.2 208.4 L101.4 209.6Z" fill="#78D47C" stroke="#000" stroke-width="1.60" stroke-linejoin="round"/>
<path d="M110.8 219.9 L111.9 222.7 L111.0 225.4 L109.2 227.8 L106.3 225.8 L103.4 226.0 L103.3 222.9 L101.6 220.1 L104.5 219.1 L106.3 218.1 L109.0 217.4Z" fill="#78D47C" stroke="#000" stroke-width="1.60" stroke-linejoin="round"/>
<path d="M117.4 230.3 L115.6 230.5 L113.6 230.0 L110.9 229.8 L109.7 227.7 L107.9 225.7 L109.7 225.2 L110.6 223.8 L113.7 224.9 L116.3 226.8 L117.9 228.9Z" fill="#80DC84" stroke="#000" stroke-width="1.60" stroke-linejoin="round"/>
<path d="M93.1 253.2 L93.2 255.9 L91.6 258.6 L88.9 257.5 L85.8 257.9 L84.2 254.9 L85.3 251.9 L86.7 249.7 L88.8 248.4 L91.2 248.9 L94.2 249.8Z" fill="#78D47C" stroke="#000" stroke-width="1.60" stroke-linejoin="round"/>
<rect x="88.6" y="252.4" width="1.8" height="1.6" fill="#5C9CFF"/>
<path d="M82.5 263.2 L82.9 265.4 L80.7 265.8 L78.9 267.0 L76.7 266.4 L77.0 263.9 L76.9 262.4 L77.1 260.4 L79.0 259.7 L81.0 259.9 L82.1 261.5Z" fill="#80DC84" stroke="#000" stroke-width="1.60" stroke-linejoin="round"/>
<rect x="78.7" y="262.4" width="1.8" height="1.6" fill="#5C9CFF"/>
<path d="M91.0 266.3 L90.6 267.3 L89.8 268.1 L88.3 268.9 L87.2 267.8 L86.2 266.9 L86.5 265.7 L87.4 264.9 L88.5 264.6 L90.1 264.0 L91.3 264.9Z" fill="#78D47C" stroke="#000" stroke-width="1.60" stroke-linejoin="round"/>
<path d="M96.3 265.7 L96.0 266.4 L95.7 267.4 L94.8 267.7 L94.1 266.9 L93.2 266.3 L93.8 265.2 L93.9 264.1 L94.8 264.2 L95.6 264.1 L96.3 264.6Z" fill="#80DC84" stroke="#000" stroke-width="1.60" stroke-linejoin="round"/>
<path d="M100.7 255.1 L99.4 256.3 L97.9 256.5 L97.2 255.1 L98.0 253.8 L99.6 253.5Z" fill="#000"/>
<path d="M97.9 258.2 L97.5 259.1 L96.1 259.4 L95.4 258.2 L96.4 257.4 L97.5 257.3Z" fill="#000"/>
<path d="M86.5 276.2 L86.4 277.9 L84.4 278.5 L82.7 277.8 L81.6 276.8 L80.9 275.4 L82.7 274.7 L84.2 274.4 L86.2 274.7Z" fill="#000"/>
<path d="M84.2 270.6 L83.3 272.0 L81.8 272.3 L81.0 270.6 L82.0 269.3 L83.1 269.5Z" fill="#000"/>
<path d="M88.1 282.4 L88.2 283.6 L86.8 284.1 L85.2 284.7 L84.0 283.8 L83.6 282.9 L83.1 281.9 L84.3 281.3 L85.3 280.4 L86.7 280.8 L87.5 281.6Z" fill="#80DC84" stroke="#000" stroke-width="1.60" stroke-linejoin="round"/>
<path d="M91.1 286.8 L90.9 288.0 L90.1 288.7 L89.1 289.7 L88.2 288.5 L87.4 287.5 L87.4 286.0 L88.0 284.7 L89.2 284.8 L90.1 285.0 L90.9 285.5Z" fill="#80DC84" stroke="#000" stroke-width="1.60" stroke-linejoin="round"/>
<path d="M95.0 295.5 L95.1 297.2 L94.0 297.9 L92.7 299.3 L91.4 298.1 L91.3 296.2 L90.8 294.5 L91.7 293.2 L92.8 292.3 L94.0 292.9 L94.8 294.0Z" fill="#80DC84" stroke="#000" stroke-width="1.60" stroke-linejoin="round"/>
<path d="M94.0 309.8 L92.2 309.9 L90.9 310.6 L89.0 309.8 L87.8 308.3 L87.6 306.9 L88.0 305.5 L89.9 305.9 L91.5 305.3 L92.7 306.9 L94.2 308.3Z" fill="#78D47C" stroke="#000" stroke-width="1.60" stroke-linejoin="round"/>
<path d="M131.9 249.5 L131.1 250.6 L130.7 251.9 L129.6 251.6 L128.4 251.5 L128.2 250.1 L128.4 249.0 L128.6 247.8 L129.6 247.3 L130.7 246.9 L131.2 248.3Z" fill="#78D47C" stroke="#000" stroke-width="1.60" stroke-linejoin="round"/>
<path d="M151.3 246.5 L150.5 248.4 L150.1 250.0 L148.3 251.1 L146.4 251.5 L145.2 250.6 L146.4 248.7 L147.6 247.0 L149.5 246.4Z" fill="#000"/>
<path d="M150.4 240.8 L149.6 242.1 L148.3 242.7 L147.4 240.8 L148.4 239.3 L149.7 239.4Z" fill="#000"/>
<path d="M155.5 243.9 L154.5 244.7 L153.6 244.7 L153.1 243.9 L153.4 242.8 L154.7 242.8Z" fill="#000"/>
<path d="M136.0 238.1 L135.4 239.2 L134.3 238.9 L133.5 238.1 L134.2 237.0 L135.4 237.0Z" fill="#000"/>
<path d="M155.2 283.7 L154.9 285.4 L154.1 286.4 L153.2 286.3 L152.2 286.2 L151.8 284.5 L151.4 282.6 L152.0 280.6 L153.1 279.8 L154.2 280.6 L154.8 282.0Z" fill="#78D47C" stroke="#000" stroke-width="1.60" stroke-linejoin="round"/>
<path d="M151.3 269.1 L150.6 270.1 L149.2 270.5 L148.6 269.1 L149.5 268.2 L150.6 268.2Z" fill="#000"/>
<path d="M135.8 275.0 L135.4 276.0 L134.3 275.8 L133.6 275.0 L134.2 273.9 L135.4 273.9Z" fill="#000"/>
<path d="M140.4 275.6 L139.7 276.6 L138.4 276.7 L138.1 275.6 L138.5 274.6 L139.7 274.6Z" fill="#000"/>
<path d="M199.2 305.2 L199.3 308.9 L198.5 311.9 L197.1 313.2 L195.4 312.1 L194.9 307.3 L194.6 303.9 L194.3 299.2 L195.8 297.6 L197.3 300.2 L198.4 302.0Z" fill="#78D47C" stroke="#000" stroke-width="1.60" stroke-linejoin="round"/>
<path d="M200.6 321.2 L200.5 325.1 L200.3 329.2 L199.0 331.0 L197.2 329.0 L196.5 323.6 L195.6 319.8 L195.5 315.5 L196.8 314.5 L198.1 314.2 L199.3 317.8Z" fill="#80DC84" stroke="#000" stroke-width="1.60" stroke-linejoin="round"/>
<path d="M210.2 315.5 L208.3 317.7 L206.9 318.6 L205.4 318.8 L206.3 315.5 L206.9 312.4 L208.5 311.2 L210.0 310.3 L210.2 312.6Z" fill="#000"/>
<path d="M210.9 327.8 L211.2 329.9 L209.7 330.7 L208.3 330.9 L207.0 330.4 L206.6 328.6 L206.7 327.0 L207.2 325.4 L208.4 324.9 L209.5 325.3 L211.2 325.6Z" fill="#80DC84" stroke="#000" stroke-width="1.60" stroke-linejoin="round"/>
<path d="M218.2 334.6 L218.1 336.5 L217.0 338.1 L215.1 337.6 L214.0 336.5 L212.6 335.6 L212.8 333.7 L213.6 332.2 L215.1 331.5 L217.0 330.9 L218.5 332.4Z" fill="#80DC84" stroke="#000" stroke-width="1.60" stroke-linejoin="round"/>
<path d="M220.6 347.6 L220.5 349.3 L219.3 350.7 L217.4 351.7 L216.0 350.1 L215.4 348.4 L214.4 346.5 L215.5 344.6 L217.5 344.2 L219.0 345.2 L220.3 346.1Z" fill="#78D47C" stroke="#000" stroke-width="1.60" stroke-linejoin="round"/>
<path d="M188.9 338.9 L187.9 340.2 L187.3 341.4 L186.0 342.0 L184.8 341.0 L184.2 339.7 L183.9 338.1 L184.8 336.8 L186.1 336.9 L187.2 336.6 L188.5 337.3Z" fill="#80DC84" stroke="#000" stroke-width="1.60" stroke-linejoin="round"/>
<path d="M189.5 332.1 L189.0 333.3 L187.4 333.3 L186.6 332.1 L187.4 331.0 L189.0 330.8Z" fill="#000"/>
<path d="M185.7 334.0 L184.9 334.8 L184.0 334.8 L183.4 334.0 L183.8 332.9 L184.9 333.2Z" fill="#000"/>
<path d="M192.2 347.6 L191.0 349.1 L189.3 348.8 L188.6 347.6 L189.0 346.0 L190.9 346.4Z" fill="#000"/>
<path d="M197.9 355.7 L197.3 356.8 L196.7 358.0 L195.3 357.8 L193.8 357.8 L193.4 356.4 L193.9 355.2 L194.3 354.1 L195.3 353.5 L196.5 353.8 L197.4 354.6Z" fill="#80DC84" stroke="#000" stroke-width="1.60" stroke-linejoin="round"/>
<path d="M198.9 365.0 L198.3 367.3 L197.1 367.7 L195.8 368.5 L195.4 366.0 L195.5 364.1 L196.0 362.3 L197.2 361.6 L198.4 362.7Z" fill="#000"/>
<path d="M207.1 367.5 L207.3 369.1 L206.4 369.9 L205.3 369.7 L204.1 369.8 L203.5 368.4 L203.4 366.6 L204.2 365.4 L205.3 365.3 L206.5 364.8 L207.5 365.8Z" fill="#80DC84" stroke="#000" stroke-width="1.60" stroke-linejoin="round"/>
<path d="M211.6 370.6 L210.6 371.6 L209.1 371.8 L208.3 370.6 L209.1 369.5 L210.4 369.9Z" fill="#000"/>
<path d="M207.9 373.7 L207.4 375.0 L206.2 375.0 L205.5 373.7 L206.2 372.5 L207.3 372.8Z" fill="#000"/>
<path d="M225.7 328.4 L224.1 329.8 L221.6 330.0 L221.1 328.4 L221.6 326.7 L224.1 327.0Z" fill="#000"/>
<path d="M227.0 320.9 L226.2 322.2 L224.6 322.3 L224.2 320.9 L224.9 320.0 L226.1 319.8Z" fill="#000"/>
<path d="M221.8 314.7 L221.4 315.7 L220.2 315.9 L219.8 314.7 L220.4 313.9 L221.3 314.0Z" fill="#000"/>
<path d="M225.9 338.2 L226.2 339.5 L224.6 340.6 L223.1 341.8 L221.9 341.2 L221.5 340.2 L221.1 338.7 L223.1 337.7 L225.1 337.0Z" fill="#000"/>
<path d="M236.2 335.1 L236.0 336.7 L235.8 338.0 L234.9 338.9 L233.6 338.8 L232.2 337.6 L231.6 335.7 L231.8 333.9 L232.9 333.3 L234.0 332.9 L235.2 333.7Z" fill="#78D47C" stroke="#000" stroke-width="1.60" stroke-linejoin="round"/>
<path d="M244.8 338.9 L243.9 339.9 L243.5 341.3 L241.9 340.8 L240.3 340.8 L239.9 339.5 L239.8 338.3 L240.7 337.4 L241.9 337.2 L243.2 337.2 L244.0 338.0Z" fill="#80DC84" stroke="#000" stroke-width="1.60" stroke-linejoin="round"/>
<path d="M254.0 342.0 L253.0 343.4 L252.4 345.3 L250.4 345.4 L248.7 344.6 L247.0 343.2 L248.3 341.3 L249.1 339.9 L250.4 338.4 L252.5 338.6 L253.6 340.3Z" fill="#80DC84" stroke="#000" stroke-width="1.60" stroke-linejoin="round"/>
<path d="M250.1 335.2 L249.9 336.6 L248.5 336.2 L247.8 335.2 L248.4 334.1 L249.7 334.0Z" fill="#000"/>
<path d="M249.7 360.1 L249.6 362.1 L247.6 362.5 L246.2 363.1 L244.9 362.2 L243.2 361.1 L243.1 359.0 L244.5 357.5 L246.2 357.3 L248.2 356.3 L249.4 358.1Z" fill="#78D47C" stroke="#000" stroke-width="1.60" stroke-linejoin="round"/>
<path d="M263.1 365.0 L262.0 366.8 L261.1 368.1 L259.9 368.2 L259.4 366.0 L258.8 363.7 L260.0 362.4 L261.2 361.3 L262.1 363.0Z" fill="#000"/>
<path d="M267.0 352.0 L266.4 353.3 L265.1 353.6 L264.3 352.0 L265.2 350.6 L266.6 350.2Z" fill="#000"/>
<path d="M269.7 376.2 L269.7 377.1 L268.9 377.5 L268.1 377.5 L267.5 377.2 L267.1 376.6 L266.7 375.7 L267.3 375.1 L268.1 375.0 L269.1 374.5 L269.7 375.3Z" fill="#80DC84" stroke="#000" stroke-width="1.60" stroke-linejoin="round"/>
<path d="M237.4 311.0 L236.5 311.9 L235.4 312.1 L234.9 311.0 L235.4 310.0 L236.6 310.0Z" fill="#000"/>
<path d="M240.8 312.9 L240.2 313.6 L239.0 314.1 L238.8 312.9 L239.2 311.9 L240.3 311.9Z" fill="#000"/>
<path d="M244.3 314.7 L243.6 316.0 L242.1 315.9 L241.5 314.7 L242.3 313.7 L243.6 313.4Z" fill="#000"/>
<path d="M247.6 315.3 L246.7 316.7 L245.2 316.7 L244.3 315.3 L245.2 314.0 L246.6 314.3Z" fill="#000"/>
<path d="M173.1 348.9 L172.5 349.6 L171.4 349.8 L170.6 348.9 L171.4 348.0 L172.9 347.7Z" fill="#000"/>
<path d="M53.9 182.0 L53.3 182.9 L52.3 182.8 L51.8 182.0 L52.3 181.2 L53.4 181.0Z" fill="#000"/>
<path d="M286.8 326.5 L286.9 327.6 L285.9 328.3 L284.7 328.0 L283.8 327.7 L282.6 327.1 L283.1 326.1 L283.9 325.4 L284.6 324.4 L285.7 325.0 L286.9 325.5Z" fill="#80DC84" stroke="#000" stroke-width="1.60" stroke-linejoin="round"/>
<path d="M281.0 324.0 L280.6 325.1 L279.3 325.2 L278.8 324.0 L279.4 323.0 L280.4 323.3Z" fill="#000"/>
<path d="M304.2 338.1 L303.6 339.7 L302.2 340.3 L301.7 338.1 L302.2 336.0 L303.5 336.7Z" fill="#000"/>
<path d="M297.8 348.3 L297.8 350.2 L296.3 351.3 L294.5 351.3 L293.3 350.1 L291.5 349.3 L292.7 347.6 L292.5 345.5 L294.4 344.9 L296.2 345.3 L297.4 346.6Z" fill="#80DC84" stroke="#000" stroke-width="1.60" stroke-linejoin="round"/>
<path d="M302.1 347.6 L301.6 348.6 L300.5 348.6 L300.1 347.6 L300.4 346.4 L301.6 346.7Z" fill="#000"/>
<path d="M299.5 352.6 L299.2 353.6 L298.0 353.6 L297.3 352.6 L298.1 351.8 L299.3 351.5Z" fill="#000"/>
<path d="M235.5 335.0 L236.1 336.4 L235.8 337.5 L235.3 338.7 L234.1 338.9 L233.1 337.1 L231.8 336.0 L231.5 334.3 L232.3 333.4 L233.5 333.7 L234.7 333.2Z" fill="#80DC84" stroke="#000" stroke-width="1.60" stroke-linejoin="round"/>
<path d="M245.4 339.6 L244.8 340.7 L243.6 341.3 L242.3 341.7 L241.2 341.1 L240.4 340.1 L240.6 339.0 L240.6 337.6 L242.4 337.5 L243.6 337.9 L244.4 338.7Z" fill="#80DC84" stroke="#000" stroke-width="1.60" stroke-linejoin="round"/>
<path d="M253.5 342.0 L254.2 344.2 L251.8 344.3 L250.3 345.7 L248.3 344.9 L246.9 343.2 L248.1 341.2 L248.8 339.8 L250.2 338.3 L251.9 339.5 L253.8 340.1Z" fill="#80DC84" stroke="#000" stroke-width="1.60" stroke-linejoin="round"/>
<path d="M250.7 335.2 L249.7 336.4 L248.2 336.3 L247.0 335.2 L248.0 333.9 L249.6 334.3Z" fill="#000"/>
<path d="M267.2 351.4 L266.5 353.2 L265.0 353.1 L264.0 351.4 L264.9 349.5 L266.3 350.0Z" fill="#000"/>
<path d="M270.9 353.0 L269.9 353.9 L268.9 353.9 L268.0 353.0 L268.9 352.2 L270.0 352.0Z" fill="#000"/>
<path d="M262.6 349.5 L261.9 350.4 L260.8 350.4 L260.0 349.5 L260.7 348.5 L262.0 348.4Z" fill="#000"/>
<path d="M249.0 357.6 L249.8 359.9 L249.2 362.1 L247.5 363.4 L245.3 363.7 L243.6 361.9 L242.3 360.2 L242.6 358.1 L243.1 355.8 L245.3 355.6 L247.1 356.5Z" fill="#78D47C" stroke="#000" stroke-width="1.60" stroke-linejoin="round"/>
<path d="M263.5 365.4 L262.9 367.0 L262.0 367.5 L261.1 368.6 L260.0 367.9 L259.8 366.1 L259.9 364.7 L260.1 363.2 L261.1 363.1 L262.1 363.0 L262.7 364.1Z" fill="#78D47C" stroke="#000" stroke-width="1.60" stroke-linejoin="round"/>
<path d="M276.5 362.9 L275.8 364.3 L274.4 364.0 L273.5 362.9 L274.2 361.5 L275.7 361.7Z" fill="#000"/>
<path d="M287.9 368.5 L286.4 368.8 L284.6 368.1 L284.0 366.2 L285.9 365.4 L287.8 366.9Z" fill="#000"/>
<path d="M303.2 368.8 L302.9 369.9 L301.8 370.2 L300.9 370.4 L299.9 370.1 L299.3 369.3 L299.3 368.2 L300.1 367.6 L300.9 367.3 L301.7 367.5 L302.8 367.7Z" fill="#80DC84" stroke="#000" stroke-width="1.60" stroke-linejoin="round"/>
<path d="M309.5 365.7 L309.2 366.8 L307.3 367.4 L306.0 367.0 L306.7 365.8 L308.5 365.3Z" fill="#000"/>
<path d="M271.3 375.6 L270.2 377.0 L269.2 378.2 L267.7 377.9 L266.4 376.6 L266.4 374.6 L267.6 373.2 L269.1 373.5 L270.7 373.7Z" fill="#000"/>
<path d="M273.7 381.2 L273.2 383.1 L270.9 382.6 L270.0 381.2 L271.0 379.8 L273.0 379.7Z" fill="#000"/>
<path d="M278.4 383.7 L277.3 385.3 L275.2 385.2 L274.2 383.7 L275.5 382.5 L277.1 382.4Z" fill="#000"/>
<path d="M281.8 374.3 L281.3 376.2 L279.8 376.6 L278.9 374.3 L280.1 372.8 L281.4 372.0Z" fill="#000"/>
<path d="M287.9 381.2 L286.6 383.1 L285.3 384.8 L283.1 385.3 L281.8 383.5 L280.2 382.3 L279.6 379.9 L281.0 377.9 L283.1 376.8 L284.8 378.5 L286.9 379.0Z" fill="#78D47C" stroke="#000" stroke-width="1.60" stroke-linejoin="round"/>
<path d="M283.8 389.9 L282.8 391.8 L280.9 391.7 L279.9 389.9 L281.0 388.2 L282.4 388.7Z" fill="#000"/>
<path d="M268.2 387.4 L267.7 388.6 L266.4 388.4 L265.7 387.4 L266.5 386.6 L267.6 386.2Z" fill="#000"/>
<path d="M264.0 389.3 L263.3 390.5 L261.9 390.5 L261.7 389.3 L262.0 388.3 L263.3 388.0Z" fill="#000"/>
<path d="M308.1 377.5 L307.3 379.3 L305.5 380.1 L303.8 380.0 L302.0 379.7 L300.9 378.3 L300.3 376.4 L302.3 375.5 L303.6 373.9 L305.3 375.3 L307.5 375.5Z" fill="#78D47C" stroke="#000" stroke-width="1.60" stroke-linejoin="round"/>
<path d="M297.1 378.1 L296.4 379.4 L294.8 379.2 L293.7 378.1 L294.8 377.0 L296.3 376.9Z" fill="#000"/>
<path d="M323.6 377.0 L321.6 377.5 L319.0 377.3 L316.6 375.5 L315.4 373.9 L315.9 372.8 L318.1 373.0 L320.6 373.6 L322.1 375.2Z" fill="#000"/>
<path d="M340.7 372.0 L341.8 374.4 L339.4 376.6 L336.7 378.6 L333.4 378.4 L331.0 376.9 L330.7 374.4 L329.9 371.3 L333.0 368.9 L336.7 369.5 L339.2 370.2Z" fill="#80DC84" stroke="#000" stroke-width="1.60" stroke-linejoin="round"/>
<path d="M346.4 366.0 L347.3 367.2 L345.7 368.3 L344.4 369.6 L342.6 369.2 L341.2 368.6 L341.2 367.3 L341.6 366.0 L342.5 364.4 L344.5 364.2 L346.2 364.6Z" fill="#80DC84" stroke="#000" stroke-width="1.60" stroke-linejoin="round"/>
<path d="M363.8 373.1 L363.0 374.3 L361.6 374.7 L360.3 375.8 L359.3 374.5 L358.8 373.6 L357.9 372.4 L359.0 371.4 L360.3 370.6 L361.9 371.0 L363.1 371.8Z" fill="#78D47C" stroke="#000" stroke-width="1.60" stroke-linejoin="round"/>
<path d="M360.2 376.8 L359.2 378.2 L357.5 377.9 L356.6 376.8 L357.6 375.9 L358.9 375.8Z" fill="#000"/>
<path d="M353.9 373.1 L353.4 374.3 L352.1 374.1 L351.3 373.1 L352.0 372.0 L353.2 372.2Z" fill="#000"/>
<path d="M373.0 388.3 L371.6 388.8 L369.1 387.9 L366.8 386.6 L364.2 385.1 L364.3 383.8 L363.9 382.4 L366.3 383.0 L368.6 383.1 L370.9 385.1 L372.4 386.8Z" fill="#78D47C" stroke="#000" stroke-width="1.60" stroke-linejoin="round"/>
<path d="M304.7 389.9 L304.6 390.9 L303.5 391.1 L302.8 391.2 L302.0 391.0 L301.2 390.4 L301.7 389.5 L301.8 388.5 L302.8 388.6 L303.6 388.4 L304.4 388.9Z" fill="#80DC84" stroke="#000" stroke-width="1.60" stroke-linejoin="round"/>
<path d="M312.1 389.5 L311.6 390.3 L310.3 390.6 L309.5 389.5 L310.3 388.5 L311.6 388.7Z" fill="#000"/>
<path d="M316.8 389.3 L315.9 390.3 L314.9 390.3 L314.1 389.3 L314.7 387.8 L315.9 388.3Z" fill="#000"/>
<path d="M321.4 389.3 L320.6 390.2 L319.9 391.1 L318.9 390.8 L317.7 390.9 L317.4 389.8 L317.6 388.8 L317.8 387.7 L318.8 387.3 L320.0 387.3 L320.4 388.4Z" fill="#78D47C" stroke="#000" stroke-width="1.60" stroke-linejoin="round"/>
<path d="M299.6 396.1 L300.4 399.1 L298.8 400.8 L297.0 400.2 L295.5 399.3 L294.2 397.5 L294.9 395.0 L295.1 392.1 L296.9 390.7 L298.3 392.9 L300.2 393.3Z" fill="#78D47C" stroke="#000" stroke-width="1.60" stroke-linejoin="round"/>
<path d="M293.2 403.5 L293.3 404.9 L291.6 405.3 L290.0 406.3 L288.5 405.3 L287.6 404.2 L287.5 402.9 L288.4 401.7 L290.1 401.4 L292.0 401.2 L292.7 402.5Z" fill="#80DC84" stroke="#000" stroke-width="1.60" stroke-linejoin="round"/>
<rect x="289.7" y="402.7" width="1.8" height="1.6" fill="#5C9CFF"/>
<path d="M301.9 402.9 L301.0 404.4 L299.7 405.1 L299.0 402.9 L299.9 401.2 L301.1 401.0Z" fill="#000"/>
<path d="M327.8 399.2 L327.9 400.6 L327.1 401.1 L326.3 401.7 L325.5 401.2 L325.1 399.9 L325.3 398.6 L325.7 397.7 L326.3 396.5 L327.2 396.8 L327.5 398.2Z" fill="#78D47C" stroke="#000" stroke-width="1.60" stroke-linejoin="round"/>
<path d="M328.9 409.0 L326.7 411.0 L325.5 412.9 L321.5 414.4 L319.0 414.1 L315.5 414.6 L313.9 413.5 L317.9 411.4 L320.2 410.1 L323.4 408.6 L326.8 408.2Z" fill="#78D47C" stroke="#000" stroke-width="1.60" stroke-linejoin="round"/>
<rect x="320.8" y="410.8" width="1.8" height="1.6" fill="#5C9CFF"/>
<path d="M312.4 411.6 L311.7 412.8 L310.5 412.5 L310.0 411.6 L310.5 410.7 L311.7 410.5Z" fill="#000"/>
<path d="M337.1 410.4 L337.2 411.6 L336.4 412.8 L335.0 412.2 L333.7 412.1 L333.1 411.0 L332.7 409.6 L333.8 408.7 L334.9 408.2 L336.4 408.0 L337.3 409.0Z" fill="#80DC84" stroke="#000" stroke-width="1.60" stroke-linejoin="round"/>
<path d="M342.0 412.9 L342.2 414.1 L341.3 415.3 L339.9 415.3 L338.5 414.9 L338.4 413.4 L337.8 412.1 L339.0 411.4 L339.9 410.3 L340.9 411.3 L342.2 411.6Z" fill="#80DC84" stroke="#000" stroke-width="1.60" stroke-linejoin="round"/>
<path d="M352.6 414.7 L352.2 415.8 L350.6 415.8 L349.6 414.7 L350.6 413.7 L352.4 413.5Z" fill="#000"/>
<path d="M359.9 416.0 L359.3 416.8 L358.3 417.0 L357.8 416.0 L358.1 414.7 L359.6 414.8Z" fill="#000"/>
<path d="M388.7 408.2 L388.8 409.6 L386.8 411.2 L385.0 412.5 L383.4 412.5 L382.8 411.7 L383.5 410.2 L385.2 408.8 L387.3 407.8Z" fill="#000"/>
<path d="M392.0 408.5 L391.7 409.5 L390.7 409.3 L389.7 408.5 L390.6 407.5 L391.8 407.5Z" fill="#000"/>
<path d="M398.2 407.3 L397.6 408.6 L395.9 408.6 L394.8 407.3 L395.9 406.1 L397.5 406.2Z" fill="#000"/>
<path d="M398.1 401.1 L396.8 402.5 L395.1 403.2 L394.5 401.1 L395.1 398.9 L396.9 399.5Z" fill="#000"/>
<path d="M391.7 419.7 L391.0 420.5 L390.1 420.5 L389.5 419.7 L389.9 418.5 L391.1 418.7Z" fill="#000"/>
<path d="M330.5 449.3 L330.7 450.7 L328.7 453.2 L325.7 454.3 L323.0 455.3 L322.0 454.3 L323.3 452.0 L326.2 450.2 L328.8 449.0Z" fill="#000"/>
<path d="M324.8 448.9 L324.0 449.8 L322.9 449.9 L322.2 448.9 L322.8 447.7 L324.0 448.0Z" fill="#000"/>
<path d="M411.7 438.3 L410.9 439.5 L409.9 439.5 L409.3 438.3 L409.8 436.8 L411.0 436.8Z" fill="#000"/>
<path d="M353.6 414.9 L352.2 415.7 L350.6 415.9 L349.8 414.9 L350.7 414.0 L352.5 413.7Z" fill="#000"/>
<path d="M359.7 416.3 L359.3 417.2 L358.2 417.1 L357.4 416.3 L358.0 415.1 L359.2 415.3Z" fill="#000"/>
<path d="M391.7 419.4 L390.9 420.5 L389.8 420.3 L388.9 419.4 L389.6 418.2 L390.8 418.5Z" fill="#000"/>
<path d="M411.7 438.8 L410.7 440.2 L409.6 440.4 L409.0 438.8 L409.4 436.7 L410.8 437.3Z" fill="#000"/>
<path d="M459.6 450.1 L459.0 451.0 L457.9 451.3 L457.6 450.1 L457.8 449.0 L459.1 449.2Z" fill="#000"/>
<path d="M433.5 452.8 L433.0 454.0 L431.8 453.7 L431.2 452.8 L431.7 451.8 L432.9 451.8Z" fill="#000"/>
<path d="M438.8 456.0 L438.4 457.1 L437.2 456.9 L436.8 456.0 L437.3 455.3 L438.4 455.0Z" fill="#000"/>
<path d="M428.6 459.2 L428.0 460.3 L426.9 460.0 L426.1 459.2 L426.8 458.2 L427.9 458.2Z" fill="#000"/>
<path d="M438.1 460.5 L437.5 461.5 L436.7 462.1 L435.7 462.5 L434.9 461.7 L433.8 461.1 L434.2 460.0 L435.0 459.5 L435.7 458.7 L436.9 458.5 L437.9 459.3Z" fill="#78D47C" stroke="#000" stroke-width="1.60" stroke-linejoin="round"/>
<path d="M425.3 464.1 L424.0 464.6 L422.6 463.6 L421.7 462.0 L423.5 462.0 L425.0 462.8Z" fill="#000"/>
<path d="M452.2 458.7 L451.0 459.8 L449.9 460.5 L448.3 460.4 L447.1 459.4 L447.4 458.1 L448.0 456.6 L450.0 456.4 L451.2 457.5Z" fill="#000"/>
<path d="M467.5 465.5 L466.7 466.3 L465.6 466.6 L465.2 465.5 L465.6 464.4 L466.7 464.6Z" fill="#000"/>
<path d="M476.6 471.5 L475.2 472.2 L473.7 470.8 L473.4 469.6 L474.5 469.1 L475.9 470.1Z" fill="#000"/>
<path d="M485.9 474.5 L485.4 475.8 L484.2 475.6 L483.2 474.5 L484.0 473.1 L485.3 473.4Z" fill="#000"/>
<path d="M409.4 474.1 L408.9 475.0 L407.9 475.1 L407.2 474.1 L407.9 473.1 L408.8 473.2Z" fill="#000"/>
<path d="M414.9 473.2 L414.3 474.1 L413.2 474.2 L412.8 473.2 L413.2 472.1 L414.3 472.3Z" fill="#000"/>
<path d="M413.9 479.0 L413.0 480.1 L411.8 480.1 L411.0 479.0 L411.7 477.8 L413.1 477.9Z" fill="#000"/>
<path d="M435.0 479.9 L434.1 480.7 L433.2 480.8 L432.4 479.9 L433.1 479.0 L434.4 478.7Z" fill="#000"/>
<path d="M442.6 480.2 L442.0 481.9 L441.3 483.3 L439.9 484.6 L437.9 485.2 L436.0 485.0 L435.3 483.5 L436.1 481.8 L437.8 480.7 L439.3 479.4 L441.1 479.5Z" fill="#80DC84" stroke="#000" stroke-width="1.60" stroke-linejoin="round"/>
<path d="M481.9 482.7 L482.1 484.4 L480.6 484.7 L479.5 485.0 L477.8 485.2 L477.0 483.6 L477.7 482.0 L478.3 480.7 L479.3 479.3 L481.1 479.4 L482.2 480.8Z" fill="#80DC84" stroke="#000" stroke-width="1.60" stroke-linejoin="round"/>
<path d="M469.0 482.2 L468.6 483.2 L467.4 483.3 L467.1 482.2 L467.4 481.2 L468.7 481.1Z" fill="#000"/>
<path d="M397.6 488.0 L397.5 490.1 L396.2 491.1 L395.2 488.9 L395.0 487.1 L396.2 486.9Z" fill="#000"/>
<path d="M416.3 488.1 L416.1 489.1 L415.3 490.1 L413.9 490.4 L413.0 489.4 L411.9 488.7 L412.1 487.5 L412.9 486.7 L413.9 486.0 L415.4 485.9 L416.2 486.9Z" fill="#80DC84" stroke="#000" stroke-width="1.60" stroke-linejoin="round"/>
<path d="M418.9 490.3 L418.4 491.3 L417.2 491.5 L416.5 490.3 L417.2 489.2 L418.4 489.4Z" fill="#000"/>
<path d="M430.6 491.7 L429.1 492.9 L427.2 493.2 L426.4 491.7 L427.1 489.9 L429.4 490.0Z" fill="#000"/>
<path d="M433.1 492.1 L432.5 493.3 L431.3 493.1 L430.8 492.1 L431.4 491.3 L432.4 491.2Z" fill="#000"/>
<path d="M436.5 492.1 L436.1 493.3 L435.0 493.0 L434.1 492.1 L434.9 491.1 L436.0 491.2Z" fill="#000"/>
<path d="M455.3 492.5 L455.9 494.3 L454.9 495.0 L453.6 493.6 L452.6 491.4 L454.1 491.2Z" fill="#000"/>
<path d="M408.6 493.9 L408.0 494.8 L406.9 494.9 L406.5 493.9 L406.8 492.8 L407.9 493.2Z" fill="#000"/>
<path d="M418.9 498.9 L418.6 501.0 L417.0 501.9 L415.3 501.3 L414.1 500.0 L414.6 498.1 L415.3 496.5 L417.0 496.0 L418.8 496.7Z" fill="#000"/>
<path d="M428.1 498.7 L428.2 500.6 L426.9 503.0 L424.2 503.9 L421.7 504.4 L421.3 502.6 L421.4 500.6 L423.8 498.6 L426.6 497.6Z" fill="#000"/>
<path d="M418.5 504.3 L417.7 505.5 L416.2 505.6 L415.9 504.3 L416.2 503.1 L417.6 503.4Z" fill="#000"/>
<path d="M422.2 504.3 L421.6 505.4 L420.3 505.7 L419.5 504.3 L420.3 503.1 L421.6 503.4Z" fill="#000"/>
<path d="M441.3 499.8 L440.5 501.1 L438.4 501.4 L437.2 499.8 L438.7 498.7 L440.4 498.7Z" fill="#000"/>
<path d="M404.9 501.2 L403.9 502.1 L403.0 501.9 L402.3 501.2 L403.0 500.4 L404.1 500.0Z" fill="#000"/>
<path d="M406.7 504.8 L406.0 505.8 L404.4 506.0 L404.1 504.8 L404.6 503.9 L406.0 503.6Z" fill="#000"/>
<path d="M436.0 512.5 L435.5 513.8 L434.5 514.7 L433.3 515.2 L431.9 514.9 L431.1 513.4 L431.1 511.6 L431.9 510.0 L433.4 510.4 L434.4 510.7 L435.9 510.8Z" fill="#80DC84" stroke="#000" stroke-width="1.60" stroke-linejoin="round"/>
<path d="M449.4 512.5 L448.7 513.8 L446.7 513.7 L446.2 512.5 L446.7 511.2 L448.4 511.5Z" fill="#000"/>
<path d="M446.4 508.9 L445.4 509.7 L444.5 509.7 L444.0 508.9 L444.5 508.0 L445.6 507.7Z" fill="#000"/>
<path d="M450.5 507.0 L450.0 508.0 L448.9 508.0 L448.1 507.0 L448.8 505.9 L450.0 506.2Z" fill="#000"/>
<path d="M459.2 511.6 L458.7 512.6 L457.6 512.4 L457.1 511.6 L457.6 510.7 L458.7 510.6Z" fill="#000"/>
<path d="M473.6 513.8 L472.2 515.0 L470.0 515.1 L469.0 513.8 L470.2 512.7 L472.0 512.9Z" fill="#000"/>
<path d="M479.0 514.0 L478.5 514.8 L477.2 515.1 L476.5 514.0 L477.1 512.8 L478.5 513.3Z" fill="#000"/>
<path d="M470.0 519.7 L468.7 520.6 L467.1 520.9 L466.5 519.7 L467.1 518.6 L469.0 518.5Z" fill="#000"/>
<path d="M486.7 519.7 L486.1 520.7 L485.2 521.5 L484.0 521.4 L483.1 520.8 L482.5 520.1 L482.3 519.2 L483.0 518.5 L484.0 517.9 L485.2 518.0 L486.3 518.6Z" fill="#78D47C" stroke="#000" stroke-width="1.60" stroke-linejoin="round"/>
<path d="M486.0 526.9 L485.3 527.9 L484.8 529.0 L483.6 528.7 L482.5 528.4 L482.2 527.4 L481.7 526.3 L482.4 525.3 L483.5 525.0 L484.6 525.2 L485.3 526.0Z" fill="#80DC84" stroke="#000" stroke-width="1.60" stroke-linejoin="round"/>
<path d="M485.7 534.6 L485.4 536.6 L484.2 535.9 L483.5 534.6 L484.0 532.7 L485.4 532.8Z" fill="#000"/>
<path d="M459.7 531.4 L459.3 532.5 L458.3 532.9 L457.4 533.0 L456.3 532.9 L455.9 532.0 L455.7 530.9 L456.7 530.4 L457.3 529.4 L458.2 530.2 L458.8 530.7Z" fill="#80DC84" stroke="#000" stroke-width="1.60" stroke-linejoin="round"/>
<path d="M465.2 540.5 L464.1 540.7 L462.2 540.2 L460.1 539.6 L459.1 538.4 L458.3 537.6 L458.3 536.9 L459.3 536.8 L461.2 537.6 L463.6 538.3 L464.4 539.5Z" fill="#78D47C" stroke="#000" stroke-width="1.60" stroke-linejoin="round"/>
<path d="M467.3 539.1 L466.3 540.8 L464.6 540.3 L464.0 539.1 L464.5 537.7 L466.4 537.3Z" fill="#000"/>
<path d="M446.7 530.1 L446.4 530.9 L445.2 531.3 L444.9 530.1 L445.3 529.1 L446.6 528.9Z" fill="#000"/>
<path d="M254.0 320.2 L261.0 324.6 L260.0 326.5 L253.5 322.0Z" fill="#000"/>
<path d="M261.3 313.5 L270.7 312.9 L276.3 319.7 L272.5 328.4 L265.7 327.8 L259.5 322.2Z" fill="#80DC84" stroke="#000" stroke-width="1.4" stroke-linejoin="round"/>
<rect x="265.3" y="315.5" width="3.0" height="2.2" fill="#4C84FF"/>
<rect x="268.8" y="316.5" width="2.5" height="2.0" fill="#6CB0FF"/>
<rect x="266.8" y="319.0" width="3.0" height="2.2" fill="#9CC8FF"/>
<rect x="262.8" y="318.0" width="2.5" height="2.0" fill="#C8D4FF"/>
<rect x="262.1" y="319.5" width="2.6" height="2.6" fill="#fff"/>
<rect x="88.5" y="252.4" width="1.8" height="1.6" fill="#4C84FF"/>
<rect x="76.4" y="210.4" width="1.2" height="1.2" fill="#60D060"/>
<rect x="67.1" y="231.7" width="1.2" height="1.2" fill="#60D060"/>
<rect x="92.5" y="248.9" width="1.2" height="1.2" fill="#60D060"/>
<rect x="191.3" y="270.6" width="1.2" height="1.2" fill="#60D060"/>
<rect x="93.1" y="262.5" width="1.2" height="1.2" fill="#60D060"/>
<rect x="91.3" y="275.0" width="1.2" height="1.2" fill="#60D060"/>
</g>
<g transform="translate(0 0.0)">
<text class="ax" x="15.4" y="286.6" text-anchor="middle">48</text>
<text class="ax" x="94.2" y="286.6" text-anchor="middle">50</text>
<text class="ax" x="173.0" y="286.6" text-anchor="middle">52</text>
<text class="ax" x="251.8" y="286.6" text-anchor="middle">54</text>
<text class="ax" x="330.6" y="286.6" text-anchor="middle">56</text>
<text class="ax" x="409.4" y="286.6" text-anchor="middle">58</text>
<text class="ax" x="240.6" y="54.0" text-anchor="end">-12</text>
<text class="ax" x="240.6" y="138.6" text-anchor="end">-14</text>
<text class="ax" x="240.6" y="223.3" text-anchor="end">-16</text>
<text class="ax" x="240.6" y="307.9" text-anchor="end">-18</text>
<text class="ax" x="240.6" y="392.6" text-anchor="end">-20</text>
<text class="ax" x="240.6" y="477.2" text-anchor="end">-22</text>
<text class="ti" x="37.2" y="65.9">2A25 near surface rainrate (mm/hr)</text>
<text class="pl" x="456.4" y="522.6" text-anchor="middle">(c)</text>
</g>
<path d="M243.1 294.9h12.6M249.4 288.6v12.6" stroke="#000" stroke-width="4.4"/>
<rect x="495.0" y="531.72" width="9.0" height="8.57" fill="#7EE07E"/>
<rect x="495.0" y="523.25" width="9.0" height="8.57" fill="#7AD97A"/>
<rect x="495.0" y="514.78" width="9.0" height="8.57" fill="#75D275"/>
<rect x="495.0" y="506.32" width="9.0" height="8.57" fill="#71CB71"/>
<rect x="495.0" y="497.85" width="9.0" height="8.57" fill="#6DC46D"/>
<rect x="495.0" y="489.38" width="9.0" height="8.57" fill="#68BD68"/>
<rect x="495.0" y="480.92" width="9.0" height="8.57" fill="#64B664"/>
<rect x="495.0" y="472.45" width="9.0" height="8.57" fill="#C8D0FF"/>
<rect x="495.0" y="463.98" width="9.0" height="8.57" fill="#BACBFF"/>
<rect x="495.0" y="455.52" width="9.0" height="8.57" fill="#ACC7FF"/>
<rect x="495.0" y="447.05" width="9.0" height="8.57" fill="#9EC2FF"/>
<rect x="495.0" y="438.58" width="9.0" height="8.57" fill="#90BDFF"/>
<rect x="495.0" y="430.12" width="9.0" height="8.57" fill="#82B9FF"/>
<rect x="495.0" y="421.65" width="9.0" height="8.57" fill="#71B3FF"/>
<rect x="495.0" y="413.18" width="9.0" height="8.57" fill="#61AEFF"/>
<rect x="495.0" y="404.72" width="9.0" height="8.57" fill="#50A8FF"/>
<rect x="495.0" y="396.25" width="9.0" height="8.57" fill="#4991FF"/>
<rect x="495.0" y="387.78" width="9.0" height="8.57" fill="#437AFF"/>
<rect x="495.0" y="379.32" width="9.0" height="8.57" fill="#3C62FF"/>
<rect x="495.0" y="370.85" width="9.0" height="8.57" fill="#3648FF"/>
<rect x="495.0" y="362.38" width="9.0" height="8.57" fill="#2D2DFF"/>
<rect x="495.0" y="353.92" width="9.0" height="8.57" fill="#0909FF"/>
<rect x="495.0" y="345.45" width="9.0" height="8.57" fill="#0000F5"/>
<rect x="495.0" y="336.98" width="9.0" height="8.57" fill="#0000E7"/>
<rect x="495.0" y="328.52" width="9.0" height="8.57" fill="#0000D9"/>
<rect x="495.0" y="320.05" width="9.0" height="8.57" fill="#0000CC"/>
<rect x="495.0" y="311.58" width="9.0" height="8.57" fill="#0000BE"/>
<rect x="495.0" y="303.12" width="9.0" height="8.57" fill="#FFFF00"/>
<rect x="495.0" y="294.65" width="9.0" height="8.57" fill="#FFF600"/>
<rect x="495.0" y="286.18" width="9.0" height="8.57" fill="#FFEE00"/>
<rect x="495.0" y="277.72" width="9.0" height="8.57" fill="#FFE600"/>
<rect x="495.0" y="269.25" width="9.0" height="8.57" fill="#FFDD00"/>
<rect x="495.0" y="260.78" width="9.0" height="8.57" fill="#FFD400"/>
<rect x="495.0" y="252.32" width="9.0" height="8.57" fill="#FFCC00"/>
<rect x="495.0" y="243.85" width="9.0" height="8.57" fill="#FF9200"/>
<rect x="495.0" y="235.38" width="9.0" height="8.57" fill="#FF8B00"/>
<rect x="495.0" y="226.92" width="9.0" height="8.57" fill="#FF8400"/>
<rect x="495.0" y="218.45" width="9.0" height="8.57" fill="#FF7E00"/>
<rect x="495.0" y="209.98" width="9.0" height="8.57" fill="#FF7700"/>
<rect x="495.0" y="201.52" width="9.0" height="8.57" fill="#FF7000"/>
<rect x="495.0" y="193.05" width="9.0" height="8.57" fill="#FF4500"/>
<rect x="495.0" y="184.58" width="9.0" height="8.57" fill="#FF3E00"/>
<rect x="495.0" y="176.12" width="9.0" height="8.57" fill="#FF3700"/>
<rect x="495.0" y="167.65" width="9.0" height="8.57" fill="#FF3000"/>
<rect x="495.0" y="159.18" width="9.0" height="8.57" fill="#FF2800"/>
<rect x="495.0" y="150.72" width="9.0" height="8.57" fill="#FF2100"/>
<rect x="495.0" y="142.25" width="9.0" height="8.57" fill="#FF1A00"/>
<rect x="495.0" y="133.78" width="9.0" height="8.57" fill="#CC0000"/>
<rect x="495.0" y="125.32" width="9.0" height="8.57" fill="#C50200"/>
<rect x="495.0" y="116.85" width="9.0" height="8.57" fill="#BD0500"/>
<rect x="495.0" y="108.38" width="9.0" height="8.57" fill="#B60700"/>
<rect x="495.0" y="99.92" width="9.0" height="8.57" fill="#AF0900"/>
<rect x="495.0" y="91.45" width="9.0" height="8.57" fill="#A70C00"/>
<rect x="495.0" y="82.98" width="9.0" height="8.57" fill="#A00E00"/>
<rect x="495.0" y="74.52" width="9.0" height="8.57" fill="#680E06"/>
<rect x="495.0" y="66.05" width="9.0" height="8.57" fill="#65110A"/>
<rect x="495.0" y="57.58" width="9.0" height="8.57" fill="#62140F"/>
<rect x="495.0" y="49.12" width="9.0" height="8.57" fill="#5F1714"/>
<rect x="495.0" y="40.65" width="9.0" height="8.57" fill="#5C1A18"/>
<path d="M504.0 548.7h2.2" stroke="#000" stroke-width="0.7"/>
<text class="tk" x="524.5" y="557.2" text-anchor="middle">0</text>
<path d="M504.0 497.9h2.2" stroke="#000" stroke-width="0.7"/>
<text class="tk" x="524.5" y="506.4" text-anchor="middle">6</text>
<path d="M504.0 447.1h2.2" stroke="#000" stroke-width="0.7"/>
<text class="tk" x="524.5" y="455.6" text-anchor="middle">12</text>
<path d="M504.0 396.3h2.2" stroke="#000" stroke-width="0.7"/>
<text class="tk" x="524.5" y="404.8" text-anchor="middle">18</text>
<path d="M504.0 345.5h2.2" stroke="#000" stroke-width="0.7"/>
<text class="tk" x="524.5" y="354.0" text-anchor="middle">24</text>
<path d="M504.0 294.7h2.2" stroke="#000" stroke-width="0.7"/>
<text class="tk" x="524.5" y="303.2" text-anchor="middle">30</text>
<path d="M504.0 243.9h2.2" stroke="#000" stroke-width="0.7"/>
<text class="tk" x="524.5" y="252.4" text-anchor="middle">36</text>
<path d="M504.0 193.1h2.2" stroke="#000" stroke-width="0.7"/>
<text class="tk" x="524.5" y="201.6" text-anchor="middle">42</text>
<path d="M504.0 142.3h2.2" stroke="#000" stroke-width="0.7"/>
<text class="tk" x="524.5" y="150.8" text-anchor="middle">48</text>
<path d="M504.0 91.5h2.2" stroke="#000" stroke-width="0.7"/>
<text class="tk" x="524.5" y="100.0" text-anchor="middle">54</text>
</g>
<g transform="translate(0.00 590.30)">
<g clip-path="url(#cp)">
<defs><filter id="bld" x="-50%" y="-50%" width="200%" height="200%"><feGaussianBlur stdDeviation="3"/></filter><filter id="bsd" x="-50%" y="-50%" width="200%" height="200%"><feGaussianBlur stdDeviation="1.4"/></filter><filter id="bbd" x="-50%" y="-50%" width="200%" height="200%"><feGaussianBlur stdDeviation="12"/></filter><filter id="nzd" x="0" y="0" width="100%" height="100%" color-interpolation-filters="sRGB"><feTurbulence type="fractalNoise" baseFrequency="0.11 0.07" numOctaves="2" seed="4" result="n"/><feColorMatrix in="n" type="matrix" values="1 0 0 0 0 1 0 0 0 0 1 0 0 0 0 0 0 0 0 1" result="g"/><feComposite in="SourceGraphic" in2="g" operator="arithmetic" k1="0" k2="1" k3="0.100" k4="-0.047" result="c"/><feComposite in="c" in2="SourceGraphic" operator="in"/></filter><clipPath id="swd"><path d="M13.0 40.7 L74.3 40.7 L173.4 106.6 L251.9 156.5 L486.0 303.0 L486.0 548.7 L242.0 548.7 L13.0 399.5Z"/></clipPath></defs>
<g filter="url(#nzd)"><g clip-path="url(#swd)">
<path d="M13.0 40.7 L74.3 40.7 L173.4 106.6 L251.9 156.5 L486.0 303.0 L486.0 548.7 L242.0 548.7 L13.0 399.5Z" fill="#EDEDED"/>
<ellipse cx="313.0" cy="320.0" rx="18.0" ry="7.0" fill="#9C9C9C" transform="rotate(12 313.0 320.0)" filter="url(#bld)" opacity="0.90"/>
<ellipse cx="300.0" cy="316.0" rx="10.0" ry="6.0" fill="#8A8A8A" filter="url(#bld)" opacity="0.70"/>
<ellipse cx="279.0" cy="299.0" rx="4.0" ry="10.0" fill="#B8B8B8" transform="rotate(8 279.0 299.0)" filter="url(#bld)" opacity="0.90"/>
<ellipse cx="283.0" cy="285.0" rx="6.0" ry="5.0" fill="#A8A8A8" filter="url(#bsd)" opacity="0.90"/>
<ellipse cx="62.0" cy="341.0" rx="9.0" ry="4.0" fill="#A8A8A8" transform="rotate(-20 62.0 341.0)" filter="url(#bld)" opacity="0.90"/>
<ellipse cx="20.0" cy="315.0" rx="8.0" ry="6.0" fill="#C4C4C4" filter="url(#bld)" opacity="0.90"/>
<ellipse cx="472.0" cy="363.0" rx="8.0" ry="5.0" fill="#B0B0B0" transform="rotate(20 472.0 363.0)" filter="url(#bld)" opacity="0.90"/>
<ellipse cx="460.0" cy="338.0" rx="7.0" ry="7.0" fill="#C0C0C0" filter="url(#bld)" opacity="0.90"/>
<ellipse cx="445.0" cy="348.0" rx="8.0" ry="5.0" fill="#C4C4C4" transform="rotate(30 445.0 348.0)" filter="url(#bld)" opacity="0.90"/>
<ellipse cx="289.0" cy="402.0" rx="5.0" ry="4.0" fill="#C0C0C0" filter="url(#bld)" opacity="0.90"/>
<ellipse cx="318.0" cy="412.0" rx="5.0" ry="4.0" fill="#B8B8B8" filter="url(#bld)" opacity="0.90"/>
<ellipse cx="85.0" cy="252.0" rx="6.0" ry="7.0" fill="#C4C4C4" filter="url(#bld)" opacity="0.90"/>
<ellipse cx="100.0" cy="222.0" rx="7.0" ry="5.0" fill="#C8C8C8" filter="url(#bld)" opacity="0.90"/>
<ellipse cx="116.0" cy="355.0" rx="6.0" ry="5.0" fill="#CCCCCC" filter="url(#bld)" opacity="0.90"/>
<ellipse cx="20.0" cy="385.0" rx="8.0" ry="6.0" fill="#C8C8C8" filter="url(#bld)" opacity="0.90"/>
<ellipse cx="388.0" cy="282.0" rx="6.0" ry="4.0" fill="#C8C8C8" filter="url(#bld)" opacity="0.90"/>
<ellipse cx="376.0" cy="293.0" rx="5.0" ry="3.0" fill="#C8C8C8" filter="url(#bld)" opacity="0.90"/>
<ellipse cx="335.0" cy="370.0" rx="7.0" ry="6.0" fill="#D0D0D0" filter="url(#bld)" opacity="0.90"/>
<ellipse cx="300.0" cy="430.0" rx="10.0" ry="8.0" fill="#D6D6D6" filter="url(#bld)" opacity="0.90"/>
<ellipse cx="45.0" cy="160.0" rx="14.0" ry="12.0" fill="#DDDDDD" filter="url(#bbd)" opacity="0.90"/>
<ellipse cx="190.0" cy="306.0" rx="5.0" ry="4.0" fill="#D0D0D0" filter="url(#bld)" opacity="0.90"/>
<ellipse cx="210.0" cy="330.0" rx="5.0" ry="4.0" fill="#D2D2D2" filter="url(#bld)" opacity="0.90"/>
<circle cx="330" cy="330" r="150" fill="none" stroke="#F2F2F2" stroke-width="4" opacity="0.4"/>
<circle cx="330" cy="330" r="230" fill="none" stroke="#F2F2F2" stroke-width="4" opacity="0.4"/>
<circle cx="330" cy="330" r="310" fill="none" stroke="#F2F2F2" stroke-width="4" opacity="0.4"/>
<circle cx="330" cy="330" r="390" fill="none" stroke="#F2F2F2" stroke-width="4" opacity="0.4"/>
</g></g>
</g>
<path d="M15.4 41.3V548.7 M94.2 41.3V548.7 M173.0 41.3V548.7 M251.8 41.3V548.7 M330.6 41.3V548.7 M409.4 41.3V548.7" class="gr" stroke-dashoffset="0"/>
<path d="M13.0 54.3H486.0 M13.0 138.9H486.0 M13.0 223.6H486.0 M13.0 308.2H486.0 M13.0 392.9H486.0 M13.0 477.5H486.0" class="gr"/>
<g clip-path="url(#cp)">
<path d="M13.2 121.1 L14.3 119.3 L16.9 119.3 L19.8 120.7 L22.0 124.4 L23.1 128.1 L25.0 129.9 L26.4 131.0 L27.9 128.1 L28.3 122.9 L29.0 119.6 L32.3 118.9 L35.2 117.4 L35.6 115.6 L34.5 113.4 L36.7 114.5 L40.4 115.2 L44.0 114.1 L46.6 111.9 L47.3 108.3 L47.7 103.9 L48.8 100.2 L50.6 96.5 L52.5 92.5 L52.9 89.9 L51.8 86.2 L50.6 81.8 L49.9 78.9 L47.7 76.0 L45.9 74.1 L44.4 73.4 L47.0 71.9 L49.2 73.4 L51.4 74.1 L53.2 73.0 L53.6 70.1 L55.8 67.9 L58.7 66.1 L60.9 63.5 L61.3 59.8 L63.1 54.7 L65.3 53.2 L66.4 54.7 L64.6 58.4 L64.6 64.2 L66.4 66.8 L68.3 65.0 L70.5 65.3 L72.3 69.4 L76.0 69.7 L77.1 73.0 L77.4 77.4 L77.1 81.8 L80.0 83.7 L80.7 87.0 L83.3 86.6 L85.9 88.8 L88.5 91.4 L88.8 94.3 L91.4 98.0 L91.8 102.4 L92.5 106.8 L94.0 110.5 L95.4 112.7 L95.8 116.3 L97.6 122.2 L99.1 128.1 L99.8 134.0 L100.2 139.1 L100.6 144.2 L100.9 148.6 L102.4 150.8 L101.7 155.2 L102.0 160.4 L102.8 165.9 L105.0 173.2 L107.9 180.6 L111.6 185.7 L113.6 190.1 L114.1 194.5 L113.0 201.1 L110.8 207.0 L108.6 211.4 L107.2 216.5 L104.2 220.9 L101.7 222.8 L98.4 220.9 L94.7 216.5 L92.9 211.4 L91.0 207.0 L89.9 203.3 L90.7 199.6 L86.6 199.6 L82.2 200.7 L80.0 203.3 L80.4 207.7 L81.5 212.1 L82.6 216.5 L83.3 220.2 L82.2 223.9 L82.9 227.5 L85.2 229.4 L87.7 230.8 L88.5 233.4 L87.4 237.1 L89.2 241.5 L88.5 245.9 L86.3 249.6 L84.4 252.5 L84.8 256.2 L87.4 258.4 L85.9 259.8 L82.2 260.6 L78.2 262.0 L76.3 266.4 L74.1 272.3 L72.3 276.7 L71.6 280.4 L71.2 280.0 L72.7 283.7 L74.5 288.8 L75.2 294.7 L74.1 299.1 L72.7 304.2 L71.6 309.4 L71.6 314.5 L70.1 320.4 L69.0 325.5 L66.1 332.9 L63.5 340.2 L60.9 347.5 L57.3 354.1 L55.4 360.7 L52.9 368.1 L49.9 375.4 L48.1 382.8 L47.0 389.4 L45.5 390.8 L45.9 394.5 L44.0 399.7 L43.7 400.0 L40.4 406.6 L38.2 414.7 L36.0 423.5 L34.1 430.1 L32.3 434.5 L31.9 438.9 L30.1 447.0 L27.2 457.3 L24.2 466.1 L22.0 471.2 L19.5 476.3 L17.6 481.5 L15.4 488.8 L12.8 496.9 M13.6 135.4 L16.5 137.6 L13.2 139.8 L16.9 142.0 L13.6 144.2 L17.3 146.1 L13.2 147.9 L16.5 149.4 L14.7 151.6 M12.8 163.3 L15.0 165.1 L13.9 167.3 L15.8 169.2" class="co" stroke-width="1.00"/>
<path d="M13.0 144.8 L32.3 158.2 L51.4 171.7 L110.3 211.6 L149.9 238.0 L227.9 289.1 L287.7 326.4 L308.1 339.1 L449.2 423.2 L469.6 434.9 L486.0 444.4" class="da" stroke-dasharray="12.00 11.53"/>
<path d="M13.2 258.0 L32.3 271.2 L52.1 284.0 L110.3 323.9 L149.9 349.6 L189.6 375.0 L229.2 400.2 L268.8 425.5 L309.5 449.6 L369.7 485.9 L409.9 509.5 L430.7 521.9 L471.8 544.2 L480.0 548.7" class="da" stroke-dasharray="11.99 11.52"/>
<path d="M263.2 312.9 L267.3 309.3 L273.6 308.2 L275.4 312.0 L276.3 319.2 L275.0 321.9 L272.3 321.0 L270.0 324.7 L263.2 324.2 L258.7 321.0 L262.3 319.7 L267.3 318.8 L265.0 315.6Z" fill="#74D878" stroke="#000" stroke-width="1.50" stroke-linejoin="round"/>
<path d="M264.3 312.5 L267.8 310.0 L273.6 308.8 L275.2 312.9 L275.4 317.2 L268.7 316.7 L265.8 315.4Z" fill="#1020E8"/>
<path d="M268.7 311.1 L273.6 309.3 L274.8 312.9 L272.3 313.4Z" fill="#70B0FF"/>
<path d="M264.9 312.0 L266.4 311.3 L269.6 313.6 L268.2 314.5Z" fill="#FF2000"/>
<path d="M262.3 321.9 L266.9 321.5 L267.8 323.3 L263.2 323.3Z" fill="#C8D4FF"/>
<path d="M281.8 318.3 L282.7 313.8 L286.7 311.3 L291.2 312.0 L294.9 315.6 L297.4 321.0 L296.2 322.4 L291.2 321.9 L289.0 323.9 L284.0 321.0Z" fill="#74D878" stroke="#000" stroke-width="1.50" stroke-linejoin="round"/>
<path d="M282.7 314.7 L286.7 312.0 L291.1 312.6 L293.1 316.5 L289.4 318.5 L283.6 319.4Z" fill="#80B8FF"/>
<path d="M289.0 312.9 L291.2 312.9 L292.9 316.3 L290.3 317.2Z" fill="#1020E8"/>
<path d="M283.6 317.0 L286.7 316.1 L287.6 318.8 L284.0 319.4Z" fill="#3858F8"/>
<path d="M276.3 281.3 L283.6 281.3 L276.8 285.4 L283.6 288.5 L276.8 287.6 L279.5 282.2" fill="none" stroke="#000" stroke-width="1.6"/>
<circle cx="289.4" cy="402.3" r="1.5" fill="#000"/>
<circle cx="318.5" cy="411.5" r="1.5" fill="#000"/>
<circle cx="64.5" cy="341.5" r="1.5" fill="#000"/>
<circle cx="56.0" cy="342.0" r="1.5" fill="#000"/>
<circle cx="472.8" cy="363.2" r="1.5" fill="#000"/>
<circle cx="77.0" cy="262.0" r="1.5" fill="#000"/>
<circle cx="77" cy="262" r="1.2" fill="#40C040"/>
<path d="M13.0 78.0 L20.0 79.5 L17.0 83.0 L13.0 84.0Z" fill="#70C0FF" stroke="#000" stroke-width="0.80" stroke-linejoin="round"/>
</g>
<g transform="translate(0 0.9)">
<text class="ax" x="15.4" y="286.6" text-anchor="middle">48</text>
<text class="ax" x="94.2" y="286.6" text-anchor="middle">50</text>
<text class="ax" x="173.0" y="286.6" text-anchor="middle">52</text>
<text class="ax" x="251.8" y="286.6" text-anchor="middle">54</text>
<text class="ax" x="330.6" y="286.6" text-anchor="middle">56</text>
<text class="ax" x="409.4" y="286.6" text-anchor="middle">58</text>
<text class="ax" x="240.6" y="54.0" text-anchor="end">-12</text>
<text class="ax" x="240.6" y="138.6" text-anchor="end">-14</text>
<text class="ax" x="240.6" y="223.3" text-anchor="end">-16</text>
<text class="ax" x="240.6" y="307.9" text-anchor="end">-18</text>
<text class="ax" x="240.6" y="392.6" text-anchor="end">-20</text>
<text class="ax" x="240.6" y="477.2" text-anchor="end">-22</text>
<text class="ti" x="44.0" y="65.9">85GHz PCT (K)</text>
<text class="pl" x="456.4" y="522.6" text-anchor="middle">(d)</text>
</g>
<path d="M243.1 294.9h12.6M249.4 288.6v12.6" stroke="#000" stroke-width="4.4"/>
<rect x="495.0" y="531.72" width="9.0" height="8.57" fill="#F7F7F7"/>
<rect x="495.0" y="523.25" width="9.0" height="8.57" fill="#EFEFEF"/>
<rect x="495.0" y="514.78" width="9.0" height="8.57" fill="#E7E7E7"/>
<rect x="495.0" y="506.32" width="9.0" height="8.57" fill="#DFDFDF"/>
<rect x="495.0" y="497.85" width="9.0" height="8.57" fill="#D7D7D7"/>
<rect x="495.0" y="489.38" width="9.0" height="8.57" fill="#CFCFCF"/>
<rect x="495.0" y="480.92" width="9.0" height="8.57" fill="#C6C6C6"/>
<rect x="495.0" y="472.45" width="9.0" height="8.57" fill="#BEBEBE"/>
<rect x="495.0" y="463.98" width="9.0" height="8.57" fill="#B6B6B6"/>
<rect x="495.0" y="455.52" width="9.0" height="8.57" fill="#AEAEAE"/>
<rect x="495.0" y="447.05" width="9.0" height="8.57" fill="#A6A6A6"/>
<rect x="495.0" y="438.58" width="9.0" height="8.57" fill="#9E9E9E"/>
<rect x="495.0" y="430.12" width="9.0" height="8.57" fill="#969696"/>
<rect x="495.0" y="421.65" width="9.0" height="8.57" fill="#8E8E8E"/>
<rect x="495.0" y="413.18" width="9.0" height="8.57" fill="#7EE07E"/>
<rect x="495.0" y="404.72" width="9.0" height="8.57" fill="#78D678"/>
<rect x="495.0" y="396.25" width="9.0" height="8.57" fill="#71CB71"/>
<rect x="495.0" y="387.78" width="9.0" height="8.57" fill="#6AC06A"/>
<rect x="495.0" y="379.32" width="9.0" height="8.57" fill="#64B664"/>
<rect x="495.0" y="370.85" width="9.0" height="8.57" fill="#C8D0FF"/>
<rect x="495.0" y="362.38" width="9.0" height="8.57" fill="#B5CAFF"/>
<rect x="495.0" y="353.92" width="9.0" height="8.57" fill="#A2C3FF"/>
<rect x="495.0" y="345.45" width="9.0" height="8.57" fill="#8FBDFF"/>
<rect x="495.0" y="336.98" width="9.0" height="8.57" fill="#7BB6FF"/>
<rect x="495.0" y="328.52" width="9.0" height="8.57" fill="#64AFFF"/>
<rect x="495.0" y="320.05" width="9.0" height="8.57" fill="#4FA4FF"/>
<rect x="495.0" y="311.58" width="9.0" height="8.57" fill="#4686FF"/>
<rect x="495.0" y="303.12" width="9.0" height="8.57" fill="#3D65FF"/>
<rect x="495.0" y="294.65" width="9.0" height="8.57" fill="#3542FF"/>
<rect x="495.0" y="286.18" width="9.0" height="8.57" fill="#1818FF"/>
<rect x="495.0" y="277.72" width="9.0" height="8.57" fill="#0000F6"/>
<rect x="495.0" y="269.25" width="9.0" height="8.57" fill="#0000E3"/>
<rect x="495.0" y="260.78" width="9.0" height="8.57" fill="#0000D1"/>
<rect x="495.0" y="252.32" width="9.0" height="8.57" fill="#0000BE"/>
<rect x="495.0" y="243.85" width="9.0" height="8.57" fill="#FFFF00"/>
<rect x="495.0" y="235.38" width="9.0" height="8.57" fill="#FFF200"/>
<rect x="495.0" y="226.92" width="9.0" height="8.57" fill="#FFE600"/>
<rect x="495.0" y="218.45" width="9.0" height="8.57" fill="#FFD900"/>
<rect x="495.0" y="209.98" width="9.0" height="8.57" fill="#FFCC00"/>
<rect x="495.0" y="201.52" width="9.0" height="8.57" fill="#FF9200"/>
<rect x="495.0" y="193.05" width="9.0" height="8.57" fill="#FF8A00"/>
<rect x="495.0" y="184.58" width="9.0" height="8.57" fill="#FF8100"/>
<rect x="495.0" y="176.12" width="9.0" height="8.57" fill="#FF7800"/>
<rect x="495.0" y="167.65" width="9.0" height="8.57" fill="#FF7000"/>
<rect x="495.0" y="159.18" width="9.0" height="8.57" fill="#FF4500"/>
<rect x="495.0" y="150.72" width="9.0" height="8.57" fill="#FF3A00"/>
<rect x="495.0" y="142.25" width="9.0" height="8.57" fill="#FF3000"/>
<rect x="495.0" y="133.78" width="9.0" height="8.57" fill="#FF2500"/>
<rect x="495.0" y="125.32" width="9.0" height="8.57" fill="#FF1A00"/>
<rect x="495.0" y="116.85" width="9.0" height="8.57" fill="#CC0000"/>
<rect x="495.0" y="108.38" width="9.0" height="8.57" fill="#C10400"/>
<rect x="495.0" y="99.92" width="9.0" height="8.57" fill="#B60700"/>
<rect x="495.0" y="91.45" width="9.0" height="8.57" fill="#AB0A00"/>
<rect x="495.0" y="82.98" width="9.0" height="8.57" fill="#A00E00"/>
<rect x="495.0" y="74.52" width="9.0" height="8.57" fill="#680E06"/>
<rect x="495.0" y="66.05" width="9.0" height="8.57" fill="#65110A"/>
<rect x="495.0" y="57.58" width="9.0" height="8.57" fill="#62140F"/>
<rect x="495.0" y="49.12" width="9.0" height="8.57" fill="#5F1714"/>
<rect x="495.0" y="40.65" width="9.0" height="8.57" fill="#5C1A18"/>
<path d="M504.0 548.7h2.2" stroke="#000" stroke-width="0.7"/>
<text class="tk" x="524.1" y="557.8" text-anchor="middle">300</text>
<path d="M504.0 497.9h2.2" stroke="#000" stroke-width="0.7"/>
<text class="tk" x="524.1" y="507.0" text-anchor="middle">279</text>
<path d="M504.0 447.1h2.2" stroke="#000" stroke-width="0.7"/>
<text class="tk" x="524.1" y="456.2" text-anchor="middle">258</text>
<path d="M504.0 396.3h2.2" stroke="#000" stroke-width="0.7"/>
<text class="tk" x="524.1" y="405.4" text-anchor="middle">237</text>
<path d="M504.0 345.5h2.2" stroke="#000" stroke-width="0.7"/>
<text class="tk" x="524.1" y="354.6" text-anchor="middle">216</text>
<path d="M504.0 294.7h2.2" stroke="#000" stroke-width="0.7"/>
<text class="tk" x="524.1" y="303.8" text-anchor="middle">195</text>
<path d="M504.0 243.9h2.2" stroke="#000" stroke-width="0.7"/>
<text class="tk" x="524.1" y="253.0" text-anchor="middle">174</text>
<path d="M504.0 193.1h2.2" stroke="#000" stroke-width="0.7"/>
<text class="tk" x="524.1" y="202.2" text-anchor="middle">153</text>
<path d="M504.0 142.3h2.2" stroke="#000" stroke-width="0.7"/>
<text class="tk" x="524.1" y="151.4" text-anchor="middle">132</text>
<path d="M504.0 91.5h2.2" stroke="#000" stroke-width="0.7"/>
<text class="tk" x="524.1" y="100.6" text-anchor="middle">111</text>
</g>
<g transform="translate(590.33 590.30)">
<g clip-path="url(#cp)">
<defs><clipPath id="swe"><path d="M13.0 40.7 L74.3 40.7 L173.4 106.6 L251.9 156.5 L486.0 303.0 L486.0 548.7 L243.5 548.7 L13.0 399.5Z"/></clipPath></defs>
<path d="M13.0 40.7 L74.3 40.7 L173.4 106.6 L251.9 156.5 L486.0 303.0 L486.0 548.7 L243.5 548.7 L13.0 399.5Z" fill="#7CDA81"/>
<g clip-path="url(#swe)"><g transform="rotate(35.0)" fill="none" stroke-width="4.80">
<path stroke="#A2A2A2" d="M515.5 -31.7h4.8M340 -22.7h4.8M349 -22.7h4.8M389.5 -22.7h18.2M277 -18.2h4.8M317.5 -18.2h9.2M331 -18.2h4.8M358 -18.2h13.8M376 -18.2h9.2M389.5 -18.2h9.2M407.5 -18.2h4.8M416.5 -18.2h4.8M425.5 -18.2h4.8M128.5 -13.7h4.8M187 -13.7h4.8M218.5 -13.7h9.2M245.5 -13.7h4.8M259 -13.7h4.8M268 -13.7h4.8M277 -13.7h4.8M295 -13.7h4.8M304 -13.7h9.2M317.5 -13.7h9.2M335.5 -13.7h4.8M344.5 -13.7h4.8M362.5 -13.7h4.8M385 -13.7h4.8M394 -13.7h4.8M416.5 -13.7h9.2M430 -13.7h4.8M92.5 -9.2h4.8M128.5 -9.2h4.8M151 -9.2h4.8M187 -9.2h4.8M200.5 -9.2h9.2M250 -9.2h9.2M272.5 -9.2h4.8M304 -9.2h9.2M322 -9.2h4.8M340 -9.2h4.8M349 -9.2h18.2M376 -9.2h4.8M407.5 -9.2h4.8M416.5 -9.2h9.2M430 -9.2h4.8M79 -4.7h4.8M88 -4.7h9.2M101.5 -4.7h4.8M178 -4.7h4.8M218.5 -4.7h4.8M227.5 -4.7h4.8M236.5 -4.7h4.8M250 -4.7h4.8M263.5 -4.7h4.8M272.5 -4.7h4.8M308.5 -4.7h9.2M326.5 -4.7h4.8M344.5 -4.7h4.8M371.5 -4.7h4.8M88 -0.2h4.8M97 -0.2h4.8M115 -0.2h4.8M223 -0.2h18.2M254.5 -0.2h4.8M272.5 -0.2h4.8M281.5 -0.2h4.8M290.5 -0.2h4.8M299.5 -0.2h13.8M322 -0.2h22.8M349 -0.2h4.8M358 -0.2h9.2M385 -0.2h4.8M398.5 -0.2h9.2M412 -0.2h4.8M421 -0.2h4.8M83.5 4.3h9.2M101.5 4.3h4.8M137.5 4.3h4.8M223 4.3h4.8M250 4.3h9.2M268 4.3h4.8M277 4.3h4.8M286 4.3h4.8M299.5 4.3h9.2M313 4.3h4.8M326.5 4.3h4.8M340 4.3h4.8M358 4.3h4.8M385 4.3h4.8M394 4.3h9.2M407.5 4.3h4.8M56.5 8.8h4.8M65.5 8.8h4.8M83.5 8.8h4.8M97 8.8h4.8M115 8.8h4.8M133 8.8h4.8M241 8.8h9.2M268 8.8h4.8M299.5 8.8h9.2M317.5 8.8h4.8M331 8.8h4.8M353.5 8.8h13.8M380.5 8.8h4.8M403 8.8h9.2M416.5 8.8h4.8M430 8.8h4.8M439 8.8h4.8M47.5 13.3h13.8M79 13.3h4.8M110.5 13.3h4.8M128.5 13.3h4.8M245.5 13.3h4.8M268 13.3h4.8M286 13.3h4.8M308.5 13.3h4.8M340 13.3h4.8M358 13.3h4.8M398.5 13.3h4.8M407.5 13.3h4.8M70 17.8h4.8M245.5 17.8h4.8M259 17.8h4.8M286 17.8h4.8M299.5 17.8h9.2M317.5 17.8h9.2M335.5 17.8h4.8M344.5 17.8h4.8M358 17.8h4.8M367 17.8h4.8M416.5 17.8h13.8M52 22.3h4.8M61 22.3h4.8M70 22.3h4.8M128.5 22.3h4.8M155.5 22.3h4.8M268 22.3h4.8M277 22.3h9.2M295 22.3h9.2M308.5 22.3h13.8M326.5 22.3h4.8M340 22.3h9.2M362.5 22.3h4.8M61 26.8h4.8M128.5 26.8h4.8M137.5 26.8h4.8M290.5 26.8h4.8M313 26.8h4.8M326.5 26.8h4.8M335.5 26.8h9.2M353.5 26.8h9.2M425.5 26.8h4.8M47.5 31.3h4.8M56.5 31.3h4.8M70 31.3h4.8M137.5 31.3h9.2M322 31.3h9.2M335.5 31.3h4.8M344.5 31.3h4.8M358 31.3h4.8M407.5 31.3h4.8M38.5 35.8h4.8M47.5 35.8h4.8M65.5 35.8h4.8M250 35.8h4.8M299.5 35.8h9.2M326.5 35.8h22.8M362.5 35.8h4.8M56.5 40.3h9.2M74.5 40.3h4.8M308.5 40.3h4.8M344.5 40.3h9.2M56.5 44.8h4.8M70 44.8h4.8M79 44.8h4.8M151 44.8h4.8M335.5 44.8h4.8M61 49.3h9.2M79 49.3h9.2M326.5 49.3h4.8M358 49.3h13.8M56.5 53.8h4.8M65.5 53.8h9.2M79 53.8h4.8M155.5 53.8h4.8M164.5 53.8h4.8M326.5 53.8h9.2M358 53.8h4.8M52 58.3h4.8M65.5 58.3h4.8M79 58.3h4.8M160 58.3h13.8M65.5 62.8h4.8M79 62.8h4.8M56.5 67.3h4.8M65.5 67.3h4.8M74.5 67.3h4.8M88 67.3h4.8M169 67.3h4.8M169 71.8h9.2M187 71.8h4.8M83.5 76.3h4.8M187 76.3h4.8M178 80.8h4.8M191.5 80.8h4.8M254.5 121.3h4.8M227.5 134.8h4.8M227.5 139.3h4.8M218.5 152.8h9.2M277 179.8h9.2M295 179.8h9.2M317.5 179.8h9.2M277 184.3h4.8M290.5 184.3h13.8M308.5 184.3h13.8M155.5 188.8h4.8M286 188.8h9.2M313 188.8h4.8M155.5 193.3h9.2M272.5 197.8h9.2M272.5 202.3h4.8M398.5 233.8h4.8"/>
<path stroke="#73CE79" d="M520 -31.7h9.2M556 -31.7h4.8M430 -27.2h4.8M475 -27.2h4.8M511 -27.2h4.8M547 -27.2h4.8M556 -27.2h9.2M569.5 -27.2h4.8M344.5 -22.7h4.8M479.5 -22.7h9.2M511 -22.7h9.2M542.5 -22.7h9.2M565 -22.7h4.8M290.5 -18.2h4.8M430 -18.2h18.2M479.5 -18.2h9.2M506.5 -18.2h9.2M520 -18.2h9.2M547 -18.2h13.8M565 -18.2h4.8M583 -18.2h4.8M101.5 -13.7h13.8M151 -13.7h4.8M178 -13.7h4.8M425.5 -13.7h4.8M457 -13.7h4.8M470.5 -13.7h9.2M515.5 -13.7h4.8M524.5 -13.7h4.8M542.5 -13.7h4.8M565 -13.7h4.8M79 -9.2h4.8M124 -9.2h4.8M173.5 -9.2h4.8M457 -9.2h9.2M470.5 -9.2h4.8M488.5 -9.2h4.8M520 -9.2h4.8M565 -9.2h9.2M587.5 -9.2h4.8M70 -4.7h4.8M434.5 -4.7h4.8M448 -4.7h9.2M461.5 -4.7h4.8M479.5 -4.7h4.8M493 -4.7h13.8M533.5 -4.7h4.8M556 -4.7h9.2M569.5 -4.7h4.8M578.5 -4.7h9.2M592 -4.7h4.8M70 -0.2h4.8M92.5 -0.2h4.8M119.5 -0.2h4.8M137.5 -0.2h4.8M155.5 -0.2h9.2M173.5 -0.2h4.8M205 -0.2h4.8M439 -0.2h4.8M551.5 -0.2h4.8M569.5 -0.2h13.8M587.5 -0.2h9.2M97 4.3h4.8M133 4.3h4.8M146.5 4.3h9.2M160 4.3h13.8M205 4.3h4.8M214 4.3h4.8M542.5 4.3h4.8M551.5 4.3h4.8M574 4.3h9.2M587.5 4.3h4.8M52 8.8h4.8M128.5 8.8h4.8M164.5 8.8h4.8M173.5 8.8h9.2M196 8.8h22.8M497.5 8.8h9.2M520 8.8h4.8M547 8.8h9.2M574 8.8h4.8M587.5 8.8h9.2M88 13.3h4.8M133 13.3h4.8M173.5 13.3h4.8M236.5 13.3h4.8M452.5 13.3h4.8M461.5 13.3h4.8M484 13.3h9.2M533.5 13.3h4.8M551.5 13.3h4.8M565 13.3h9.2M592 13.3h4.8M173.5 17.8h9.2M236.5 17.8h4.8M250 17.8h4.8M443.5 17.8h9.2M484 17.8h18.2M520 17.8h9.2M533.5 17.8h4.8M587.5 17.8h13.8M83.5 22.3h9.2M110.5 22.3h4.8M173.5 22.3h4.8M182.5 22.3h9.2M200.5 22.3h4.8M232 22.3h4.8M380.5 22.3h4.8M412 22.3h4.8M452.5 22.3h4.8M493 22.3h4.8M529 22.3h9.2M34 26.8h4.8M88 26.8h4.8M110.5 26.8h4.8M119.5 26.8h4.8M173.5 26.8h4.8M196 26.8h9.2M268 26.8h4.8M277 26.8h4.8M286 26.8h4.8M385 26.8h4.8M430 26.8h4.8M493 26.8h4.8M529 26.8h13.8M605.5 26.8h4.8M200.5 31.3h4.8M214 31.3h4.8M250 31.3h4.8M272.5 31.3h4.8M286 31.3h9.2M299.5 31.3h4.8M362.5 31.3h9.2M380.5 31.3h4.8M389.5 31.3h4.8M403 31.3h4.8M412 31.3h13.8M511 31.3h4.8M520 31.3h4.8M538 31.3h13.8M205 35.8h18.2M227.5 35.8h4.8M268 35.8h4.8M290.5 35.8h4.8M367 35.8h4.8M394 35.8h4.8M403 35.8h4.8M412 35.8h9.2M511 35.8h9.2M538 35.8h4.8M547 35.8h4.8M614.5 35.8h4.8M178 40.3h13.8M214 40.3h13.8M263.5 40.3h4.8M277 40.3h4.8M313 40.3h4.8M367 40.3h4.8M398.5 40.3h4.8M412 40.3h9.2M542.5 40.3h4.8M578.5 40.3h4.8M601 40.3h27.2M173.5 44.8h13.8M191.5 44.8h4.8M209.5 44.8h9.2M223 44.8h4.8M241 44.8h4.8M263.5 44.8h4.8M277 44.8h4.8M308.5 44.8h9.2M367 44.8h4.8M398.5 44.8h9.2M452.5 44.8h4.8M461.5 44.8h13.8M479.5 44.8h4.8M493 44.8h4.8M614.5 44.8h4.8M623.5 44.8h4.8M164.5 49.3h9.2M178 49.3h13.8M250 49.3h4.8M394 49.3h9.2M434.5 49.3h4.8M452.5 49.3h9.2M470.5 49.3h4.8M484 49.3h9.2M497.5 49.3h4.8M556 49.3h13.8M605.5 49.3h4.8M47.5 53.8h9.2M173.5 53.8h13.8M191.5 53.8h4.8M218.5 53.8h22.8M371.5 53.8h4.8M380.5 53.8h4.8M389.5 53.8h4.8M430 53.8h4.8M470.5 53.8h4.8M488.5 53.8h4.8M614.5 53.8h4.8M623.5 53.8h4.8M178 58.3h22.8M218.5 58.3h9.2M232 58.3h4.8M241 58.3h4.8M259 58.3h4.8M308.5 58.3h9.2M380.5 58.3h4.8M421 58.3h18.2M569.5 58.3h9.2M56.5 62.8h4.8M200.5 62.8h4.8M218.5 62.8h4.8M227.5 62.8h4.8M250 62.8h4.8M259 62.8h4.8M286 62.8h4.8M308.5 62.8h4.8M322 62.8h4.8M362.5 62.8h18.2M421 62.8h4.8M430 62.8h9.2M484 62.8h9.2M506.5 62.8h18.2M551.5 62.8h4.8M560.5 62.8h4.8M583 62.8h4.8M601 62.8h4.8M637 62.8h4.8M196 67.3h4.8M209.5 67.3h4.8M227.5 67.3h4.8M254.5 67.3h4.8M295 67.3h4.8M308.5 67.3h4.8M322 67.3h4.8M344.5 67.3h4.8M353.5 67.3h4.8M371.5 67.3h4.8M398.5 67.3h4.8M416.5 67.3h4.8M430 67.3h9.2M443.5 67.3h4.8M461.5 67.3h4.8M506.5 67.3h4.8M515.5 67.3h9.2M569.5 67.3h4.8M610 67.3h4.8M623.5 67.3h4.8M196 71.8h4.8M218.5 71.8h4.8M227.5 71.8h4.8M277 71.8h4.8M317.5 71.8h13.8M340 71.8h4.8M353.5 71.8h9.2M394 71.8h9.2M434.5 71.8h13.8M479.5 71.8h4.8M502 71.8h9.2M515.5 71.8h9.2M560.5 71.8h13.8M583 71.8h4.8M596.5 71.8h4.8M628 71.8h4.8M637 71.8h4.8M196 76.3h4.8M205 76.3h4.8M290.5 76.3h4.8M317.5 76.3h4.8M326.5 76.3h4.8M353.5 76.3h4.8M398.5 76.3h4.8M457 76.3h4.8M470.5 76.3h4.8M493 76.3h4.8M502 76.3h22.8M556 76.3h4.8M628 76.3h4.8M641.5 76.3h4.8M70 80.8h4.8M88 80.8h4.8M209.5 80.8h9.2M245.5 80.8h9.2M272.5 80.8h13.8M295 80.8h9.2M317.5 80.8h4.8M326.5 80.8h9.2M358 80.8h4.8M371.5 80.8h9.2M385 80.8h4.8M403 80.8h4.8M461.5 80.8h9.2M475 80.8h4.8M488.5 80.8h13.8M515.5 80.8h4.8M524.5 80.8h4.8M542.5 80.8h4.8M583 80.8h4.8M596.5 80.8h4.8M610 80.8h4.8M628 80.8h4.8M70 85.3h4.8M200.5 85.3h4.8M214 85.3h31.8M259 85.3h4.8M277 85.3h13.8M295 85.3h9.2M335.5 85.3h4.8M358 85.3h4.8M371.5 85.3h9.2M461.5 85.3h4.8M484 85.3h4.8M493 85.3h4.8M515.5 85.3h13.8M601 85.3h4.8M623.5 85.3h4.8M641.5 85.3h4.8M214 89.8h18.2M277 89.8h13.8M299.5 89.8h13.8M335.5 89.8h18.2M358 89.8h4.8M371.5 89.8h9.2M385 89.8h4.8M448 89.8h4.8M461.5 89.8h4.8M488.5 89.8h4.8M524.5 89.8h4.8M578.5 89.8h4.8M592 89.8h4.8M601 89.8h4.8M614.5 89.8h13.8M218.5 94.3h9.2M232 94.3h4.8M281.5 94.3h4.8M304 94.3h13.8M335.5 94.3h4.8M353.5 94.3h9.2M385 94.3h4.8M448 94.3h4.8M569.5 94.3h4.8M601 94.3h4.8M623.5 94.3h4.8M245.5 98.8h9.2M304 98.8h4.8M349 98.8h9.2M380.5 98.8h9.2M430 98.8h4.8M452.5 98.8h4.8M511 98.8h9.2M569.5 98.8h13.8M596.5 98.8h4.8M641.5 98.8h4.8M655 98.8h4.8M83.5 103.3h4.8M250 103.3h13.8M308.5 103.3h4.8M349 103.3h4.8M416.5 103.3h9.2M466 103.3h4.8M569.5 103.3h13.8M596.5 103.3h4.8M610 103.3h4.8M655 103.3h4.8M218.5 107.8h4.8M250 107.8h4.8M259 107.8h4.8M281.5 107.8h4.8M317.5 107.8h4.8M335.5 107.8h9.2M353.5 107.8h4.8M425.5 107.8h4.8M443.5 107.8h4.8M461.5 107.8h13.8M488.5 107.8h4.8M511 107.8h4.8M520 107.8h4.8M578.5 107.8h4.8M601 107.8h9.2M637 107.8h4.8M646 107.8h13.8M88 112.3h4.8M317.5 112.3h4.8M340 112.3h9.2M358 112.3h4.8M367 112.3h13.8M430 112.3h4.8M466 112.3h4.8M475 112.3h4.8M524.5 112.3h4.8M538 112.3h4.8M560.5 112.3h9.2M596.5 112.3h4.8M628 112.3h9.2M641.5 112.3h9.2M205 116.8h13.8M223 116.8h9.2M281.5 116.8h4.8M290.5 116.8h4.8M308.5 116.8h9.2M358 116.8h4.8M367 116.8h4.8M398.5 116.8h9.2M434.5 116.8h4.8M466 116.8h4.8M515.5 116.8h9.2M533.5 116.8h18.2M560.5 116.8h4.8M578.5 116.8h4.8M601 116.8h9.2M637 116.8h4.8M668.5 116.8h9.2M200.5 121.3h13.8M223 121.3h9.2M259 121.3h4.8M295 121.3h4.8M308.5 121.3h4.8M349 121.3h13.8M371.5 121.3h4.8M380.5 121.3h4.8M389.5 121.3h18.2M443.5 121.3h4.8M475 121.3h9.2M524.5 121.3h13.8M551.5 121.3h9.2M569.5 121.3h13.8M596.5 121.3h4.8M655 121.3h4.8M677.5 121.3h4.8M209.5 125.8h4.8M277 125.8h4.8M299.5 125.8h4.8M317.5 125.8h4.8M353.5 125.8h4.8M385 125.8h4.8M412 125.8h22.8M439 125.8h4.8M475 125.8h13.8M502 125.8h4.8M520 125.8h4.8M551.5 125.8h4.8M565 125.8h18.2M592 125.8h4.8M601 125.8h4.8M637 125.8h4.8M659.5 125.8h4.8M209.5 130.3h4.8M272.5 130.3h4.8M299.5 130.3h4.8M317.5 130.3h13.8M353.5 130.3h9.2M385 130.3h4.8M412 130.3h4.8M421 130.3h4.8M461.5 130.3h4.8M475 130.3h4.8M484 130.3h9.2M497.5 130.3h9.2M524.5 130.3h4.8M542.5 130.3h4.8M560.5 130.3h4.8M574 130.3h4.8M619 130.3h4.8M628 130.3h9.2M655 130.3h9.2M209.5 134.8h4.8M254.5 134.8h9.2M317.5 134.8h9.2M353.5 134.8h4.8M385 134.8h4.8M430 134.8h4.8M448 134.8h4.8M466 134.8h4.8M475 134.8h4.8M538 134.8h4.8M551.5 134.8h4.8M560.5 134.8h4.8M569.5 134.8h9.2M655 134.8h9.2M223 139.3h4.8M241 139.3h4.8M259 139.3h4.8M313 139.3h13.8M344.5 139.3h4.8M380.5 139.3h9.2M416.5 139.3h18.2M479.5 139.3h4.8M493 139.3h4.8M524.5 139.3h4.8M533.5 139.3h4.8M547 139.3h4.8M619 139.3h4.8M650.5 139.3h9.2M686.5 139.3h9.2M209.5 143.8h4.8M223 143.8h4.8M241 143.8h4.8M254.5 143.8h9.2M286 143.8h18.2M380.5 143.8h4.8M398.5 143.8h4.8M416.5 143.8h4.8M425.5 143.8h4.8M439 143.8h4.8M448 143.8h4.8M470.5 143.8h4.8M484 143.8h4.8M515.5 143.8h4.8M533.5 143.8h4.8M547 143.8h9.2M560.5 143.8h4.8M574 143.8h4.8M583 143.8h4.8M614.5 143.8h4.8M664 143.8h9.2M677.5 143.8h4.8M695.5 143.8h4.8M200.5 148.3h4.8M209.5 148.3h4.8M241 148.3h4.8M259 148.3h4.8M295 148.3h4.8M340 148.3h4.8M380.5 148.3h4.8M389.5 148.3h4.8M403 148.3h13.8M434.5 148.3h9.2M542.5 148.3h9.2M560.5 148.3h4.8M574 148.3h4.8M587.5 148.3h4.8M610 148.3h9.2M650.5 148.3h4.8M209.5 152.8h4.8M227.5 152.8h4.8M236.5 152.8h4.8M268 152.8h4.8M290.5 152.8h9.2M322 152.8h4.8M331 152.8h13.8M380.5 152.8h4.8M421 152.8h31.8M506.5 152.8h4.8M524.5 152.8h4.8M542.5 152.8h4.8M560.5 152.8h4.8M578.5 152.8h4.8M592 152.8h4.8M646 152.8h4.8M664 152.8h4.8M686.5 152.8h18.2M119.5 157.3h4.8M209.5 157.3h4.8M227.5 157.3h9.2M241 157.3h4.8M268 157.3h4.8M290.5 157.3h9.2M371.5 157.3h4.8M394 157.3h13.8M430 157.3h9.2M542.5 157.3h4.8M578.5 157.3h13.8M605.5 157.3h9.2M641.5 157.3h9.2M686.5 157.3h4.8M214 161.8h4.8M232 161.8h13.8M268 161.8h4.8M322 161.8h4.8M349 161.8h9.2M362.5 161.8h4.8M376 161.8h4.8M403 161.8h9.2M430 161.8h4.8M466 161.8h4.8M479.5 161.8h4.8M511 161.8h9.2M524.5 161.8h4.8M547 161.8h4.8M578.5 161.8h9.2M601 161.8h4.8M610 161.8h4.8M628 161.8h4.8M650.5 161.8h4.8M668.5 161.8h4.8M682 161.8h4.8M700 161.8h4.8M232 166.3h9.2M250 166.3h4.8M272.5 166.3h4.8M317.5 166.3h4.8M326.5 166.3h4.8M344.5 166.3h4.8M358 166.3h9.2M466 166.3h4.8M475 166.3h4.8M520 166.3h4.8M529 166.3h4.8M574 166.3h4.8M583 166.3h4.8M605.5 166.3h18.2M637 166.3h4.8M650.5 166.3h13.8M668.5 166.3h4.8M677.5 166.3h4.8M704.5 166.3h4.8M146.5 170.8h4.8M218.5 170.8h4.8M250 170.8h4.8M268 170.8h13.8M344.5 170.8h13.8M362.5 170.8h4.8M371.5 170.8h9.2M416.5 170.8h9.2M524.5 170.8h4.8M542.5 170.8h4.8M569.5 170.8h4.8M605.5 170.8h9.2M637 170.8h13.8M668.5 170.8h9.2M709 170.8h4.8M250 175.3h4.8M268 175.3h4.8M335.5 175.3h4.8M376 175.3h4.8M434.5 175.3h4.8M515.5 175.3h4.8M538 175.3h9.2M569.5 175.3h9.2M583 175.3h4.8M605.5 175.3h4.8M641.5 175.3h4.8M664 175.3h13.8M695.5 175.3h4.8M151 179.8h4.8M241 179.8h13.8M340 179.8h4.8M362.5 179.8h4.8M511 179.8h4.8M533.5 179.8h9.2M556 179.8h9.2M583 179.8h9.2M668.5 179.8h4.8M700 179.8h4.8M245.5 184.3h4.8M254.5 184.3h4.8M281.5 184.3h9.2M344.5 184.3h4.8M362.5 184.3h4.8M394 184.3h4.8M403 184.3h4.8M551.5 184.3h13.8M587.5 184.3h4.8M596.5 184.3h4.8M637 184.3h9.2M668.5 184.3h4.8M682 184.3h9.2M236.5 188.8h9.2M277 188.8h4.8M308.5 188.8h4.8M326.5 188.8h4.8M394 188.8h4.8M403 188.8h9.2M452.5 188.8h4.8M488.5 188.8h4.8M538 188.8h4.8M547 188.8h4.8M556 188.8h4.8M565 188.8h4.8M587.5 188.8h4.8M628 188.8h9.2M664 188.8h4.8M227.5 193.3h9.2M245.5 193.3h9.2M277 193.3h4.8M304 193.3h9.2M349 193.3h4.8M412 193.3h9.2M457 193.3h4.8M484 193.3h4.8M520 193.3h9.2M601 193.3h4.8M628 193.3h9.2M659.5 193.3h4.8M164.5 197.8h4.8M236.5 197.8h4.8M254.5 197.8h9.2M290.5 197.8h9.2M304 197.8h4.8M317.5 197.8h4.8M335.5 197.8h4.8M349 197.8h4.8M407.5 197.8h9.2M421 197.8h9.2M461.5 197.8h4.8M484 197.8h4.8M502 197.8h18.2M524.5 197.8h9.2M538 197.8h4.8M565 197.8h4.8M605.5 197.8h4.8M628 197.8h9.2M673 197.8h4.8M151 202.3h4.8M169 202.3h4.8M241 202.3h4.8M250 202.3h13.8M268 202.3h4.8M286 202.3h9.2M299.5 202.3h4.8M317.5 202.3h4.8M340 202.3h4.8M421 202.3h4.8M430 202.3h9.2M457 202.3h4.8M484 202.3h9.2M497.5 202.3h9.2M515.5 202.3h9.2M542.5 202.3h4.8M551.5 202.3h9.2M565 202.3h9.2M583 202.3h4.8M596.5 202.3h4.8M610 202.3h13.8M628 202.3h4.8M637 202.3h4.8M650.5 202.3h4.8M155.5 206.8h4.8M173.5 206.8h4.8M232 206.8h4.8M272.5 206.8h4.8M286 206.8h9.2M340 206.8h9.2M389.5 206.8h4.8M412 206.8h4.8M484 206.8h4.8M515.5 206.8h4.8M524.5 206.8h4.8M542.5 206.8h9.2M574 206.8h13.8M596.5 206.8h4.8M655 206.8h13.8M173.5 211.3h4.8M317.5 211.3h9.2M340 211.3h4.8M353.5 211.3h4.8M385 211.3h9.2M547 211.3h4.8M610 211.3h4.8M646 211.3h13.8M232 215.8h4.8M277 215.8h4.8M308.5 215.8h4.8M326.5 215.8h13.8M376 215.8h13.8M511 215.8h9.2M538 215.8h4.8M601 215.8h9.2M650.5 215.8h4.8M164.5 220.3h4.8M173.5 220.3h4.8M259 220.3h4.8M326.5 220.3h13.8M353.5 220.3h4.8M403 220.3h4.8M416.5 220.3h4.8M502 220.3h4.8M533.5 220.3h4.8M547 220.3h4.8M574 220.3h4.8M601 220.3h4.8M632.5 220.3h4.8M178 224.8h4.8M254.5 224.8h4.8M281.5 224.8h4.8M308.5 224.8h13.8M331 224.8h9.2M344.5 224.8h4.8M371.5 224.8h13.8M398.5 224.8h9.2M434.5 224.8h4.8M448 224.8h13.8M470.5 224.8h4.8M479.5 224.8h9.2M502 224.8h4.8M511 224.8h4.8M520 224.8h13.8M601 224.8h9.2M628 224.8h13.8M308.5 229.3h4.8M326.5 229.3h4.8M340 229.3h4.8M376 229.3h4.8M385 229.3h4.8M407.5 229.3h4.8M416.5 229.3h9.2M439 229.3h13.8M466 229.3h4.8M479.5 229.3h4.8M493 229.3h9.2M506.5 229.3h4.8M529 229.3h4.8M547 229.3h13.8M610 229.3h4.8M178 233.8h4.8M290.5 233.8h4.8M308.5 233.8h22.8M358 233.8h4.8M371.5 233.8h4.8M385 233.8h4.8M430 233.8h9.2M443.5 233.8h4.8M466 233.8h4.8M497.5 233.8h4.8M533.5 233.8h4.8M583 233.8h4.8M610 233.8h4.8M182.5 238.3h4.8M268 238.3h4.8M295 238.3h4.8M317.5 238.3h9.2M353.5 238.3h9.2M398.5 238.3h4.8M430 238.3h4.8M439 238.3h4.8M452.5 238.3h4.8M461.5 238.3h4.8M484 238.3h4.8M497.5 238.3h13.8M547 238.3h4.8M574 238.3h4.8M583 238.3h4.8M596.5 238.3h13.8M268 242.8h13.8M322 242.8h4.8M344.5 242.8h4.8M353.5 242.8h9.2M380.5 242.8h4.8M430 242.8h4.8M439 242.8h4.8M452.5 242.8h4.8M461.5 242.8h4.8M488.5 242.8h4.8M502 242.8h4.8M524.5 242.8h9.2M542.5 242.8h4.8M574 242.8h4.8M583 242.8h4.8M592 242.8h4.8M263.5 247.3h9.2M322 247.3h4.8M358 247.3h4.8M389.5 247.3h13.8M421 247.3h22.8M457 247.3h9.2M488.5 247.3h4.8M511 247.3h4.8M520 247.3h18.2M574 247.3h4.8M587.5 247.3h4.8M187 251.8h4.8M245.5 251.8h4.8M268 251.8h4.8M281.5 251.8h4.8M304 251.8h18.2M326.5 251.8h13.8M362.5 251.8h4.8M394 251.8h13.8M421 251.8h9.2M443.5 251.8h4.8M457 251.8h4.8M488.5 251.8h4.8M520 251.8h4.8M533.5 251.8h4.8M569.5 251.8h9.2M259 256.3h4.8M268 256.3h22.8M340 256.3h4.8M362.5 256.3h9.2M421 256.3h9.2M448 256.3h4.8M457 256.3h4.8M470.5 256.3h4.8M479.5 256.3h9.2M569.5 256.3h9.2M583 256.3h4.8M259 260.8h4.8M277 260.8h4.8M295 260.8h4.8M344.5 260.8h4.8M353.5 260.8h9.2M448 260.8h9.2M488.5 260.8h4.8M569.5 260.8h4.8M259 265.3h4.8M268 265.3h4.8M286 265.3h4.8M299.5 265.3h4.8M308.5 265.3h4.8M326.5 265.3h4.8M358 265.3h4.8M385 265.3h9.2M551.5 265.3h13.8M574 265.3h9.2M268 269.8h4.8M286 269.8h4.8M313 269.8h4.8M394 269.8h4.8M506.5 269.8h18.2M547 269.8h4.8M574 269.8h4.8M268 274.3h9.2M281.5 274.3h9.2M313 274.3h9.2M362.5 274.3h9.2M394 274.3h4.8M425.5 274.3h9.2M506.5 274.3h4.8M524.5 274.3h4.8M547 274.3h9.2M569.5 274.3h4.8M277 278.8h9.2M304 278.8h4.8M340 278.8h4.8M353.5 278.8h9.2M371.5 278.8h4.8M394 278.8h4.8M421 278.8h4.8M443.5 278.8h4.8M511 278.8h4.8M560.5 278.8h4.8M259 283.3h4.8M281.5 283.3h4.8M304 283.3h4.8M326.5 283.3h4.8M349 283.3h4.8M358 283.3h4.8M443.5 283.3h4.8M457 283.3h9.2M475 283.3h9.2M493 283.3h4.8M511 283.3h4.8M524.5 283.3h4.8M286 287.8h4.8M304 287.8h4.8M331 287.8h4.8M358 287.8h4.8M371.5 287.8h4.8M434.5 287.8h22.8M461.5 287.8h9.2M484 287.8h4.8M497.5 287.8h4.8M506.5 287.8h4.8M515.5 287.8h4.8M290.5 292.3h9.2M313 292.3h4.8M344.5 292.3h4.8M353.5 292.3h13.8M376 292.3h18.2M425.5 292.3h4.8M457 292.3h9.2M479.5 292.3h4.8M493 292.3h13.8M515.5 292.3h18.2M542.5 292.3h4.8M263.5 296.8h13.8M290.5 296.8h18.2M317.5 296.8h4.8M331 296.8h9.2M362.5 296.8h9.2M380.5 296.8h18.2M470.5 296.8h9.2M484 296.8h4.8M493 296.8h22.8M277 301.3h4.8M290.5 301.3h4.8M304 301.3h4.8M317.5 301.3h4.8M335.5 301.3h4.8M385 301.3h9.2M403 301.3h4.8M484 301.3h4.8M511 301.3h4.8M290.5 305.8h4.8M299.5 305.8h4.8M313 305.8h9.2M326.5 305.8h4.8M340 305.8h4.8M403 305.8h4.8M466 305.8h9.2M493 305.8h9.2M511 305.8h4.8M259 310.3h4.8M313 310.3h13.8M398.5 310.3h4.8M412 310.3h4.8M421 310.3h4.8M466 310.3h4.8M475 310.3h9.2M515.5 310.3h4.8M254.5 314.8h9.2M403 314.8h4.8M439 314.8h4.8M448 314.8h9.2M461.5 314.8h4.8M241 319.3h4.8M250 319.3h13.8M331 319.3h4.8M353.5 319.3h4.8"/>
<path stroke="#7FDD85" d="M529 -31.7h9.2M560.5 -31.7h9.2M457 -27.2h13.8M484 -27.2h9.2M533.5 -27.2h9.2M574 -27.2h4.8M367 -22.7h9.2M380.5 -22.7h4.8M457 -22.7h18.2M502 -22.7h4.8M533.5 -22.7h9.2M461.5 -18.2h9.2M493 -18.2h4.8M533.5 -18.2h9.2M133 -13.7h4.8M155.5 -13.7h18.2M133 -9.2h9.2M155.5 -9.2h13.8M196 -9.2h4.8M511 -9.2h4.8M128.5 -4.7h18.2M151 -4.7h18.2M196 -4.7h4.8M466 -4.7h9.2M511 -4.7h9.2M524.5 -4.7h9.2M128.5 -0.2h4.8M146.5 -0.2h9.2M191.5 -0.2h13.8M452.5 -0.2h4.8M466 -0.2h13.8M484 -0.2h9.2M506.5 -0.2h27.2M565 -0.2h4.8M187 4.3h18.2M227.5 4.3h4.8M457 4.3h31.8M524.5 4.3h18.2M187 8.8h4.8M223 8.8h4.8M232 8.8h4.8M434.5 8.8h4.8M448 8.8h4.8M461.5 8.8h4.8M470.5 8.8h9.2M511 8.8h4.8M529 8.8h4.8M142 13.3h13.8M187 13.3h4.8M227.5 13.3h4.8M367 13.3h4.8M376 13.3h4.8M434.5 13.3h9.2M466 13.3h4.8M475 13.3h4.8M502 13.3h4.8M515.5 13.3h4.8M529 13.3h4.8M556 13.3h4.8M601 13.3h4.8M43 17.8h4.8M137.5 17.8h18.2M160 17.8h13.8M191.5 17.8h4.8M223 17.8h4.8M362.5 17.8h4.8M371.5 17.8h4.8M439 17.8h4.8M502 17.8h18.2M601 17.8h9.2M101.5 22.3h9.2M133 22.3h4.8M151 22.3h4.8M160 22.3h4.8M209.5 22.3h4.8M223 22.3h9.2M367 22.3h9.2M439 22.3h9.2M470.5 22.3h13.8M502 22.3h13.8M542.5 22.3h9.2M605.5 22.3h4.8M97 26.8h9.2M124 26.8h4.8M151 26.8h18.2M182.5 26.8h4.8M205 26.8h18.2M227.5 26.8h4.8M241 26.8h4.8M367 26.8h13.8M439 26.8h13.8M466 26.8h9.2M479.5 26.8h9.2M497.5 26.8h9.2M542.5 26.8h4.8M551.5 26.8h4.8M38.5 31.3h4.8M92.5 31.3h9.2M106 31.3h4.8M124 31.3h9.2M151 31.3h22.8M178 31.3h13.8M223 31.3h4.8M245.5 31.3h4.8M434.5 31.3h36.2M479.5 31.3h13.8M524.5 31.3h9.2M551.5 31.3h9.2M110.5 35.8h4.8M124 35.8h9.2M146.5 35.8h4.8M160 35.8h13.8M182.5 35.8h4.8M241 35.8h9.2M389.5 35.8h4.8M430 35.8h49.8M484 35.8h9.2M502 35.8h4.8M520 35.8h13.8M556 35.8h4.8M583 35.8h4.8M38.5 40.3h9.2M155.5 40.3h18.2M295 40.3h9.2M389.5 40.3h4.8M425.5 40.3h22.8M457 40.3h13.8M488.5 40.3h4.8M497.5 40.3h9.2M520 40.3h18.2M583 40.3h18.2M133 44.8h4.8M160 44.8h9.2M295 44.8h13.8M317.5 44.8h4.8M385 44.8h4.8M416.5 44.8h18.2M443.5 44.8h4.8M506.5 44.8h31.8M583 44.8h18.2M92.5 49.3h4.8M142 49.3h4.8M209.5 49.3h9.2M268 49.3h9.2M290.5 49.3h13.8M317.5 49.3h9.2M416.5 49.3h13.8M443.5 49.3h4.8M506.5 49.3h4.8M520 49.3h22.8M583 49.3h18.2M88 53.8h4.8M97 53.8h4.8M142 53.8h13.8M205 53.8h13.8M263.5 53.8h40.8M317.5 53.8h9.2M340 53.8h4.8M407.5 53.8h13.8M443.5 53.8h9.2M457 53.8h4.8M502 53.8h13.8M520 53.8h31.8M578.5 53.8h18.2M92.5 58.3h4.8M205 58.3h13.8M268 58.3h18.2M295 58.3h9.2M349 58.3h4.8M398.5 58.3h4.8M407.5 58.3h13.8M443.5 58.3h22.8M493 58.3h9.2M506.5 58.3h4.8M529 58.3h13.8M556 58.3h4.8M587.5 58.3h13.8M92.5 62.8h4.8M160 62.8h4.8M209.5 62.8h4.8M232 62.8h4.8M263.5 62.8h22.8M299.5 62.8h4.8M326.5 62.8h4.8M349 62.8h9.2M385 62.8h31.8M443.5 62.8h22.8M493 62.8h13.8M529 62.8h9.2M587.5 62.8h9.2M97 67.3h4.8M160 67.3h4.8M182.5 67.3h4.8M232 67.3h9.2M263.5 67.3h13.8M299.5 67.3h9.2M380.5 67.3h13.8M403 67.3h13.8M493 67.3h9.2M529 67.3h13.8M592 67.3h4.8M641.5 67.3h4.8M92.5 71.8h4.8M232 71.8h18.2M254.5 71.8h22.8M349 71.8h4.8M407.5 71.8h9.2M421 71.8h4.8M488.5 71.8h4.8M524.5 71.8h18.2M619 71.8h4.8M191.5 76.3h4.8M236.5 76.3h13.8M259 76.3h18.2M299.5 76.3h9.2M344.5 76.3h9.2M407.5 76.3h9.2M425.5 76.3h13.8M443.5 76.3h4.8M529 76.3h13.8M565 76.3h4.8M587.5 76.3h4.8M614.5 76.3h9.2M646 76.3h4.8M236.5 80.8h9.2M259 80.8h9.2M304 80.8h4.8M344.5 80.8h9.2M407.5 80.8h18.2M430 80.8h4.8M511 80.8h4.8M529 80.8h13.8M556 80.8h18.2M614.5 80.8h9.2M646 80.8h9.2M317.5 85.3h9.2M344.5 85.3h9.2M407.5 85.3h4.8M470.5 85.3h13.8M502 85.3h9.2M529 85.3h18.2M560.5 85.3h4.8M646 85.3h13.8M200.5 89.8h9.2M268 89.8h4.8M322 89.8h9.2M403 89.8h4.8M475 89.8h9.2M497.5 89.8h18.2M529 89.8h18.2M556 89.8h13.8M587.5 89.8h4.8M646 89.8h13.8M200.5 94.3h9.2M241 94.3h4.8M295 94.3h4.8M322 94.3h4.8M443.5 94.3h4.8M475 94.3h4.8M497.5 94.3h18.2M533.5 94.3h18.2M556 94.3h9.2M587.5 94.3h13.8M614.5 94.3h4.8M641.5 94.3h13.8M200.5 98.8h13.8M272.5 98.8h4.8M317.5 98.8h13.8M439 98.8h13.8M497.5 98.8h13.8M533.5 98.8h31.8M583 98.8h9.2M614.5 98.8h9.2M646 98.8h4.8M209.5 103.3h9.2M232 103.3h13.8M263.5 103.3h18.2M299.5 103.3h4.8M322 103.3h13.8M443.5 103.3h9.2M506.5 103.3h4.8M529 103.3h4.8M551.5 103.3h13.8M587.5 103.3h9.2M614.5 103.3h9.2M196 107.8h4.8M236.5 107.8h9.2M272.5 107.8h9.2M295 107.8h9.2M322 107.8h13.8M380.5 107.8h9.2M497.5 107.8h9.2M551.5 107.8h22.8M587.5 107.8h9.2M614.5 107.8h9.2M223 112.3h4.8M232 112.3h13.8M268 112.3h13.8M290.5 112.3h13.8M322 112.3h18.2M412 112.3h18.2M493 112.3h18.2M551.5 112.3h9.2M583 112.3h13.8M614.5 112.3h9.2M92.5 116.8h4.8M196 116.8h4.8M232 116.8h13.8M268 116.8h9.2M299.5 116.8h4.8M326.5 116.8h13.8M389.5 116.8h4.8M412 116.8h22.8M488.5 116.8h18.2M511 116.8h4.8M587.5 116.8h9.2M610 116.8h13.8M641.5 116.8h4.8M97 121.3h4.8M236.5 121.3h9.2M268 121.3h9.2M299.5 121.3h9.2M331 121.3h9.2M407.5 121.3h18.2M488.5 121.3h9.2M511 121.3h4.8M610 121.3h13.8M646 121.3h4.8M214 125.8h4.8M227.5 125.8h22.8M268 125.8h4.8M331 125.8h9.2M362.5 125.8h9.2M488.5 125.8h9.2M506.5 125.8h13.8M610 125.8h4.8M641.5 125.8h13.8M664 125.8h9.2M214 130.3h9.2M236.5 130.3h13.8M308.5 130.3h4.8M362.5 130.3h18.2M398.5 130.3h4.8M434.5 130.3h18.2M578.5 130.3h9.2M605.5 130.3h9.2M637 130.3h18.2M664 130.3h18.2M214 134.8h13.8M241 134.8h13.8M268 134.8h9.2M362.5 134.8h18.2M398.5 134.8h13.8M497.5 134.8h27.2M578.5 134.8h18.2M605.5 134.8h9.2M628 134.8h22.8M664 134.8h18.2M115 139.3h4.8M196 139.3h4.8M214 139.3h9.2M268 139.3h18.2M304 139.3h4.8M358 139.3h22.8M403 139.3h13.8M452.5 139.3h13.8M497.5 139.3h22.8M556 139.3h4.8M587.5 139.3h27.2M628 139.3h18.2M668.5 139.3h9.2M196 143.8h4.8M272.5 143.8h13.8M304 143.8h4.8M313 143.8h4.8M344.5 143.8h9.2M362.5 143.8h4.8M371.5 143.8h4.8M403 143.8h13.8M452.5 143.8h4.8M488.5 143.8h9.2M502 143.8h9.2M538 143.8h4.8M592 143.8h13.8M632.5 143.8h9.2M115 148.3h4.8M272.5 148.3h18.2M304 148.3h4.8M313 148.3h4.8M326.5 148.3h4.8M344.5 148.3h4.8M358 148.3h18.2M457 148.3h4.8M466 148.3h4.8M479.5 148.3h9.2M493 148.3h4.8M502 148.3h4.8M538 148.3h4.8M601 148.3h4.8M628 148.3h13.8M245.5 152.8h18.2M272.5 152.8h18.2M308.5 152.8h9.2M344.5 152.8h4.8M353.5 152.8h27.2M457 152.8h9.2M470.5 152.8h18.2M497.5 152.8h9.2M538 152.8h4.8M569.5 152.8h9.2M632.5 152.8h13.8M659.5 152.8h4.8M124 157.3h4.8M155.5 157.3h9.2M250 157.3h18.2M272.5 157.3h13.8M308.5 157.3h4.8M344.5 157.3h4.8M362.5 157.3h4.8M376 157.3h4.8M452.5 157.3h4.8M484 157.3h22.8M529 157.3h4.8M592 157.3h4.8M632.5 157.3h4.8M659.5 157.3h4.8M124 161.8h4.8M155.5 161.8h4.8M227.5 161.8h4.8M254.5 161.8h13.8M277 161.8h22.8M317.5 161.8h4.8M389.5 161.8h4.8M439 161.8h18.2M484 161.8h4.8M493 161.8h9.2M533.5 161.8h4.8M542.5 161.8h4.8M560.5 161.8h4.8M592 161.8h4.8M691 161.8h9.2M128.5 166.3h18.2M209.5 166.3h4.8M254.5 166.3h9.2M281.5 166.3h22.8M385 166.3h18.2M407.5 166.3h4.8M439 166.3h18.2M461.5 166.3h4.8M484 166.3h13.8M511 166.3h4.8M556 166.3h9.2M592 166.3h9.2M628 166.3h4.8M682 166.3h22.8M128.5 170.8h18.2M223 170.8h4.8M254.5 170.8h9.2M286 170.8h9.2M299.5 170.8h4.8M385 170.8h27.2M439 170.8h9.2M452.5 170.8h4.8M479.5 170.8h13.8M502 170.8h4.8M511 170.8h9.2M551.5 170.8h18.2M592 170.8h13.8M623.5 170.8h13.8M677.5 170.8h27.2M133 175.3h13.8M169 175.3h4.8M209.5 175.3h4.8M223 175.3h13.8M254.5 175.3h13.8M281.5 175.3h22.8M326.5 175.3h9.2M398.5 175.3h31.8M443.5 175.3h4.8M452.5 175.3h4.8M461.5 175.3h31.8M497.5 175.3h4.8M551.5 175.3h13.8M592 175.3h9.2M614.5 175.3h22.8M646 175.3h13.8M677.5 175.3h9.2M709 175.3h4.8M137.5 179.8h13.8M178 179.8h4.8M223 179.8h18.2M259 179.8h9.2M286 179.8h9.2M304 179.8h4.8M326.5 179.8h13.8M371.5 179.8h9.2M385 179.8h4.8M403 179.8h31.8M439 179.8h49.8M551.5 179.8h4.8M569.5 179.8h4.8M601 179.8h31.8M650.5 179.8h13.8M673 179.8h13.8M142 184.3h9.2M164.5 184.3h18.2M227.5 184.3h9.2M259 184.3h18.2M331 184.3h9.2M376 184.3h13.8M412 184.3h72.2M574 184.3h4.8M605.5 184.3h22.8M646 184.3h18.2M142 188.8h9.2M164.5 188.8h18.2M227.5 188.8h4.8M259 188.8h18.2M295 188.8h9.2M335.5 188.8h9.2M385 188.8h4.8M416.5 188.8h36.2M466 188.8h13.8M574 188.8h13.8M605.5 188.8h22.8M646 188.8h13.8M677.5 188.8h4.8M146.5 193.3h4.8M169 193.3h4.8M187 193.3h4.8M254.5 193.3h4.8M263.5 193.3h13.8M335.5 193.3h13.8M371.5 193.3h22.8M398.5 193.3h4.8M434.5 193.3h13.8M466 193.3h13.8M574 193.3h13.8M605.5 193.3h18.2M641.5 193.3h18.2M245.5 197.8h4.8M268 197.8h4.8M340 197.8h4.8M371.5 197.8h31.8M439 197.8h13.8M466 197.8h4.8M569.5 197.8h13.8M610 197.8h9.2M641.5 197.8h9.2M677.5 197.8h4.8M182.5 202.3h4.8M277 202.3h4.8M344.5 202.3h9.2M362.5 202.3h13.8M394 202.3h13.8M466 202.3h4.8M475 202.3h4.8M533.5 202.3h9.2M574 202.3h4.8M641.5 202.3h4.8M178 206.8h4.8M187 206.8h4.8M250 206.8h4.8M308.5 206.8h9.2M349 206.8h4.8M358 206.8h13.8M394 206.8h13.8M416.5 206.8h9.2M457 206.8h27.2M493 206.8h4.8M502 206.8h13.8M529 206.8h4.8M556 206.8h9.2M587.5 206.8h9.2M619 206.8h13.8M182.5 211.3h4.8M250 211.3h9.2M281.5 211.3h4.8M304 211.3h4.8M358 211.3h13.8M394 211.3h18.2M416.5 211.3h99.2M551.5 211.3h18.2M587.5 211.3h9.2M619 211.3h13.8M245.5 215.8h13.8M286 215.8h13.8M367 215.8h9.2M394 215.8h4.8M412 215.8h94.8M551.5 215.8h13.8M587.5 215.8h13.8M614.5 215.8h13.8M187 220.3h4.8M196 220.3h4.8M241 220.3h13.8M286 220.3h4.8M295 220.3h9.2M358 220.3h9.2M389.5 220.3h9.2M421 220.3h18.2M443.5 220.3h9.2M470.5 220.3h9.2M488.5 220.3h13.8M560.5 220.3h4.8M578.5 220.3h18.2M610 220.3h18.2M245.5 224.8h4.8M295 224.8h4.8M358 224.8h4.8M389.5 224.8h4.8M425.5 224.8h4.8M443.5 224.8h4.8M493 224.8h4.8M578.5 224.8h9.2M614.5 224.8h13.8M286 229.3h4.8M295 229.3h4.8M389.5 229.3h9.2M425.5 229.3h4.8M470.5 229.3h4.8M520 229.3h9.2M560.5 229.3h13.8M578.5 229.3h4.8M614.5 229.3h13.8M299.5 233.8h9.2M362.5 233.8h4.8M407.5 233.8h4.8M416.5 233.8h13.8M470.5 233.8h9.2M515.5 233.8h13.8M560.5 233.8h22.8M619 233.8h9.2M299.5 238.3h13.8M344.5 238.3h9.2M403 238.3h27.2M470.5 238.3h9.2M520 238.3h4.8M556 238.3h13.8M619 238.3h4.8M304 242.8h13.8M367 242.8h13.8M403 242.8h13.8M466 242.8h13.8M556 242.8h13.8M596.5 242.8h4.8M277 247.3h4.8M308.5 247.3h9.2M367 247.3h18.2M412 247.3h4.8M448 247.3h9.2M470.5 247.3h13.8M493 247.3h9.2M547 247.3h13.8M565 247.3h9.2M592 247.3h18.2M277 251.8h4.8M371.5 251.8h22.8M412 251.8h4.8M470.5 251.8h9.2M511 251.8h9.2M538 251.8h31.8M592 251.8h13.8M245.5 256.3h4.8M326.5 256.3h13.8M376 256.3h9.2M412 256.3h9.2M475 256.3h4.8M506.5 256.3h4.8M520 256.3h13.8M538 256.3h13.8M331 260.8h9.2M394 260.8h36.2M466 260.8h9.2M506.5 260.8h9.2M524.5 260.8h9.2M542.5 260.8h4.8M196 265.3h4.8M250 265.3h4.8M331 265.3h18.2M398.5 265.3h36.2M466 265.3h18.2M488.5 265.3h22.8M515.5 265.3h18.2M542.5 265.3h4.8M254.5 269.8h4.8M290.5 269.8h9.2M335.5 269.8h18.2M403 269.8h36.2M443.5 269.8h63.2M538 269.8h4.8M565 269.8h4.8M263.5 274.3h4.8M340 274.3h9.2M403 274.3h22.8M443.5 274.3h27.2M475 274.3h27.2M538 274.3h4.8M205 278.8h4.8M254.5 278.8h4.8M263.5 278.8h4.8M272.5 278.8h4.8M448 278.8h18.2M479.5 278.8h4.8M488.5 278.8h4.8M497.5 278.8h9.2M529 278.8h13.8M263.5 283.3h13.8M317.5 283.3h4.8M394 283.3h4.8M502 283.3h4.8M529 283.3h18.2M268 287.8h13.8M322 287.8h9.2M389.5 287.8h4.8M398.5 287.8h9.2M533.5 287.8h13.8M272.5 292.3h9.2M322 292.3h9.2M398.5 292.3h13.8M434.5 292.3h18.2M218.5 296.8h4.8M286 296.8h4.8M344.5 296.8h9.2M403 296.8h4.8M416.5 296.8h40.8M461.5 296.8h9.2M223 301.3h4.8M344.5 301.3h13.8M412 301.3h49.8M488.5 301.3h4.8M250 305.8h4.8M344.5 305.8h31.8M425.5 305.8h13.8M448 305.8h4.8M484 305.8h9.2M232 310.3h4.8M299.5 310.3h13.8M349 310.3h31.8M425.5 310.3h13.8M452.5 310.3h4.8M506.5 310.3h4.8M232 314.8h4.8M299.5 314.8h13.8M322 314.8h4.8M353.5 314.8h27.2M421 314.8h13.8M299.5 319.3h31.8"/>
<path stroke="#79D67F" d="M538 -31.7h18.2M569.5 -31.7h4.8M434.5 -27.2h9.2M452.5 -27.2h4.8M470.5 -27.2h4.8M479.5 -27.2h4.8M493 -27.2h18.2M529 -27.2h4.8M542.5 -27.2h4.8M551.5 -27.2h4.8M565 -27.2h4.8M362.5 -22.7h4.8M385 -22.7h4.8M412 -22.7h9.2M425.5 -22.7h18.2M452.5 -22.7h4.8M475 -22.7h4.8M488.5 -22.7h13.8M506.5 -22.7h4.8M529 -22.7h4.8M574 -22.7h4.8M421 -18.2h4.8M457 -18.2h4.8M470.5 -18.2h9.2M488.5 -18.2h4.8M497.5 -18.2h4.8M515.5 -18.2h4.8M529 -18.2h4.8M542.5 -18.2h4.8M137.5 -13.7h13.8M434.5 -13.7h4.8M461.5 -13.7h9.2M493 -13.7h4.8M506.5 -13.7h9.2M529 -13.7h13.8M88 -9.2h4.8M142 -9.2h9.2M169 -9.2h4.8M466 -9.2h4.8M493 -9.2h9.2M506.5 -9.2h4.8M515.5 -9.2h4.8M524.5 -9.2h13.8M124 -4.7h4.8M146.5 -4.7h4.8M191.5 -4.7h4.8M475 -4.7h4.8M488.5 -4.7h4.8M506.5 -4.7h4.8M520 -4.7h4.8M565 -4.7h4.8M587.5 -4.7h4.8M133 -0.2h4.8M142 -0.2h4.8M187 -0.2h4.8M434.5 -0.2h4.8M448 -0.2h4.8M457 -0.2h9.2M479.5 -0.2h4.8M493 -0.2h13.8M533.5 -0.2h4.8M556 -0.2h9.2M56.5 4.3h4.8M124 4.3h9.2M182.5 4.3h4.8M218.5 4.3h4.8M434.5 4.3h22.8M488.5 4.3h9.2M506.5 4.3h18.2M556 4.3h9.2M583 4.3h4.8M596.5 4.3h4.8M88 8.8h9.2M137.5 8.8h13.8M169 8.8h4.8M182.5 8.8h4.8M191.5 8.8h4.8M218.5 8.8h4.8M443.5 8.8h4.8M452.5 8.8h9.2M466 8.8h4.8M484 8.8h13.8M506.5 8.8h4.8M515.5 8.8h4.8M524.5 8.8h4.8M533.5 8.8h13.8M556 8.8h9.2M583 8.8h4.8M596.5 8.8h9.2M43 13.3h4.8M83.5 13.3h4.8M92.5 13.3h4.8M137.5 13.3h4.8M155.5 13.3h18.2M178 13.3h9.2M191.5 13.3h4.8M209.5 13.3h4.8M218.5 13.3h4.8M232 13.3h4.8M443.5 13.3h9.2M479.5 13.3h4.8M493 13.3h9.2M506.5 13.3h9.2M520 13.3h9.2M538 13.3h13.8M560.5 13.3h4.8M574 13.3h18.2M596.5 13.3h4.8M83.5 17.8h4.8M133 17.8h4.8M155.5 17.8h4.8M187 17.8h4.8M196 17.8h9.2M214 17.8h9.2M227.5 17.8h4.8M241 17.8h4.8M272.5 17.8h4.8M376 17.8h9.2M470.5 17.8h4.8M479.5 17.8h4.8M529 17.8h4.8M538 17.8h18.2M565 17.8h4.8M578.5 17.8h4.8M79 22.3h4.8M97 22.3h4.8M146.5 22.3h4.8M164.5 22.3h9.2M191.5 22.3h9.2M205 22.3h4.8M214 22.3h9.2M236.5 22.3h9.2M250 22.3h4.8M263.5 22.3h4.8M376 22.3h4.8M425.5 22.3h4.8M448 22.3h4.8M484 22.3h9.2M497.5 22.3h4.8M515.5 22.3h4.8M538 22.3h4.8M556 22.3h4.8M610 22.3h4.8M38.5 26.8h4.8M79 26.8h4.8M92.5 26.8h4.8M169 26.8h4.8M178 26.8h4.8M187 26.8h9.2M232 26.8h9.2M245.5 26.8h4.8M380.5 26.8h4.8M416.5 26.8h4.8M434.5 26.8h4.8M452.5 26.8h13.8M488.5 26.8h4.8M506.5 26.8h9.2M524.5 26.8h4.8M547 26.8h4.8M614.5 26.8h4.8M34 31.3h4.8M79 31.3h9.2M101.5 31.3h4.8M110.5 31.3h4.8M119.5 31.3h4.8M173.5 31.3h4.8M191.5 31.3h9.2M205 31.3h9.2M218.5 31.3h4.8M227.5 31.3h9.2M295 31.3h4.8M371.5 31.3h9.2M385 31.3h4.8M430 31.3h4.8M493 31.3h18.2M533.5 31.3h4.8M614.5 31.3h4.8M34 35.8h4.8M119.5 35.8h4.8M173.5 35.8h9.2M187 35.8h9.2M223 35.8h4.8M295 35.8h4.8M376 35.8h13.8M398.5 35.8h4.8M407.5 35.8h4.8M421 35.8h9.2M479.5 35.8h4.8M493 35.8h9.2M506.5 35.8h4.8M533.5 35.8h4.8M542.5 35.8h4.8M551.5 35.8h4.8M578.5 35.8h4.8M596.5 35.8h4.8M83.5 40.3h4.8M101.5 40.3h4.8M115 40.3h4.8M128.5 40.3h4.8M173.5 40.3h4.8M191.5 40.3h4.8M241 40.3h4.8M268 40.3h9.2M290.5 40.3h4.8M304 40.3h4.8M371.5 40.3h18.2M394 40.3h4.8M421 40.3h4.8M448 40.3h9.2M470.5 40.3h18.2M493 40.3h4.8M506.5 40.3h13.8M538 40.3h4.8M547 40.3h13.8M43 44.8h4.8M83.5 44.8h9.2M142 44.8h4.8M169 44.8h4.8M187 44.8h4.8M218.5 44.8h4.8M268 44.8h9.2M290.5 44.8h4.8M371.5 44.8h13.8M389.5 44.8h9.2M412 44.8h4.8M434.5 44.8h9.2M448 44.8h4.8M457 44.8h4.8M484 44.8h9.2M497.5 44.8h9.2M538 44.8h27.2M601 44.8h9.2M619 44.8h4.8M128.5 49.3h4.8M173.5 49.3h4.8M218.5 49.3h4.8M263.5 49.3h4.8M277 49.3h13.8M304 49.3h13.8M331 49.3h4.8M376 49.3h18.2M403 49.3h13.8M430 49.3h4.8M439 49.3h4.8M448 49.3h4.8M466 49.3h4.8M502 49.3h4.8M511 49.3h9.2M542.5 49.3h13.8M578.5 49.3h4.8M601 49.3h4.8M614.5 49.3h9.2M101.5 53.8h9.2M133 53.8h4.8M187 53.8h4.8M259 53.8h4.8M304 53.8h13.8M367 53.8h4.8M376 53.8h4.8M385 53.8h4.8M394 53.8h13.8M421 53.8h9.2M439 53.8h4.8M452.5 53.8h4.8M461.5 53.8h9.2M493 53.8h9.2M515.5 53.8h4.8M551.5 53.8h13.8M596.5 53.8h18.2M619 53.8h4.8M119.5 58.3h4.8M200.5 58.3h4.8M245.5 58.3h4.8M263.5 58.3h4.8M286 58.3h9.2M304 58.3h4.8M317.5 58.3h9.2M331 58.3h9.2M344.5 58.3h4.8M358 58.3h9.2M385 58.3h13.8M403 58.3h4.8M439 58.3h4.8M466 58.3h4.8M488.5 58.3h4.8M502 58.3h4.8M511 58.3h18.2M542.5 58.3h13.8M560.5 58.3h4.8M578.5 58.3h9.2M601 58.3h27.2M182.5 62.8h18.2M205 62.8h4.8M214 62.8h4.8M223 62.8h4.8M236.5 62.8h13.8M290.5 62.8h9.2M304 62.8h4.8M317.5 62.8h4.8M331 62.8h4.8M344.5 62.8h4.8M358 62.8h4.8M380.5 62.8h4.8M416.5 62.8h4.8M466 62.8h18.2M524.5 62.8h4.8M538 62.8h13.8M556 62.8h4.8M596.5 62.8h4.8M610 62.8h18.2M142 67.3h4.8M164.5 67.3h4.8M178 67.3h4.8M187 67.3h9.2M205 67.3h4.8M241 67.3h9.2M259 67.3h4.8M326.5 67.3h4.8M349 67.3h4.8M376 67.3h4.8M394 67.3h4.8M421 67.3h9.2M448 67.3h13.8M466 67.3h27.2M502 67.3h4.8M524.5 67.3h4.8M542.5 67.3h4.8M587.5 67.3h4.8M596.5 67.3h4.8M614.5 67.3h9.2M637 67.3h4.8M191.5 71.8h4.8M200.5 71.8h13.8M250 71.8h4.8M295 71.8h22.8M344.5 71.8h4.8M403 71.8h4.8M416.5 71.8h4.8M425.5 71.8h9.2M448 71.8h9.2M475 71.8h4.8M484 71.8h4.8M493 71.8h9.2M542.5 71.8h4.8M587.5 71.8h9.2M614.5 71.8h4.8M623.5 71.8h4.8M641.5 71.8h9.2M124 76.3h4.8M142 76.3h4.8M232 76.3h4.8M250 76.3h9.2M277 76.3h4.8M295 76.3h4.8M308.5 76.3h9.2M322 76.3h4.8M376 76.3h4.8M403 76.3h4.8M416.5 76.3h9.2M439 76.3h4.8M448 76.3h9.2M475 76.3h18.2M497.5 76.3h4.8M524.5 76.3h4.8M542.5 76.3h4.8M560.5 76.3h4.8M569.5 76.3h4.8M592 76.3h9.2M610 76.3h4.8M623.5 76.3h4.8M65.5 80.8h4.8M92.5 80.8h4.8M106 80.8h4.8M196 80.8h4.8M232 80.8h4.8M254.5 80.8h4.8M268 80.8h4.8M308.5 80.8h9.2M322 80.8h4.8M340 80.8h4.8M353.5 80.8h4.8M434.5 80.8h4.8M452.5 80.8h9.2M470.5 80.8h4.8M479.5 80.8h9.2M502 80.8h9.2M551.5 80.8h4.8M574 80.8h4.8M587.5 80.8h9.2M623.5 80.8h4.8M88 85.3h4.8M115 85.3h4.8M182.5 85.3h4.8M196 85.3h4.8M205 85.3h4.8M263.5 85.3h13.8M290.5 85.3h4.8M304 85.3h13.8M326.5 85.3h9.2M340 85.3h4.8M353.5 85.3h4.8M380.5 85.3h4.8M403 85.3h4.8M448 85.3h4.8M466 85.3h4.8M497.5 85.3h4.8M511 85.3h4.8M547 85.3h13.8M565 85.3h9.2M587.5 85.3h13.8M614.5 85.3h9.2M146.5 89.8h4.8M169 89.8h4.8M209.5 89.8h4.8M232 89.8h13.8M263.5 89.8h4.8M272.5 89.8h4.8M290.5 89.8h9.2M313 89.8h9.2M331 89.8h4.8M353.5 89.8h4.8M380.5 89.8h4.8M443.5 89.8h4.8M466 89.8h9.2M484 89.8h4.8M493 89.8h4.8M515.5 89.8h9.2M547 89.8h9.2M569.5 89.8h4.8M583 89.8h4.8M596.5 89.8h4.8M641.5 89.8h4.8M137.5 94.3h4.8M209.5 94.3h9.2M236.5 94.3h4.8M263.5 94.3h18.2M286 94.3h9.2M299.5 94.3h4.8M317.5 94.3h4.8M326.5 94.3h9.2M380.5 94.3h4.8M439 94.3h4.8M470.5 94.3h4.8M479.5 94.3h18.2M515.5 94.3h18.2M551.5 94.3h4.8M565 94.3h4.8M583 94.3h4.8M610 94.3h4.8M619 94.3h4.8M655 94.3h4.8M83.5 98.8h4.8M151 98.8h4.8M191.5 98.8h4.8M214 98.8h31.8M263.5 98.8h9.2M277 98.8h27.2M331 98.8h4.8M389.5 98.8h4.8M421 98.8h9.2M434.5 98.8h4.8M470.5 98.8h9.2M488.5 98.8h9.2M524.5 98.8h9.2M565 98.8h4.8M592 98.8h4.8M610 98.8h4.8M623.5 98.8h4.8M650.5 98.8h4.8M92.5 103.3h4.8M196 103.3h13.8M218.5 103.3h13.8M245.5 103.3h4.8M281.5 103.3h18.2M304 103.3h4.8M317.5 103.3h4.8M376 103.3h13.8M439 103.3h4.8M452.5 103.3h4.8M470.5 103.3h4.8M493 103.3h4.8M511 103.3h4.8M524.5 103.3h4.8M533.5 103.3h4.8M565 103.3h4.8M583 103.3h4.8M623.5 103.3h4.8M641.5 103.3h13.8M88 107.8h4.8M97 107.8h4.8M124 107.8h4.8M173.5 107.8h4.8M205 107.8h13.8M223 107.8h13.8M245.5 107.8h4.8M263.5 107.8h9.2M286 107.8h9.2M304 107.8h4.8M376 107.8h4.8M412 107.8h13.8M493 107.8h4.8M506.5 107.8h4.8M524.5 107.8h13.8M574 107.8h4.8M583 107.8h4.8M596.5 107.8h4.8M610 107.8h4.8M623.5 107.8h4.8M641.5 107.8h4.8M668.5 107.8h4.8M128.5 112.3h4.8M196 112.3h27.2M227.5 112.3h4.8M245.5 112.3h4.8M263.5 112.3h4.8M281.5 112.3h9.2M304 112.3h4.8M362.5 112.3h4.8M470.5 112.3h4.8M488.5 112.3h4.8M511 112.3h4.8M529 112.3h9.2M569.5 112.3h13.8M610 112.3h4.8M623.5 112.3h4.8M668.5 112.3h9.2M119.5 116.8h4.8M187 116.8h4.8M200.5 116.8h4.8M218.5 116.8h4.8M263.5 116.8h4.8M277 116.8h4.8M295 116.8h4.8M304 116.8h4.8M317.5 116.8h9.2M340 116.8h4.8M362.5 116.8h4.8M470.5 116.8h18.2M506.5 116.8h4.8M551.5 116.8h9.2M583 116.8h4.8M596.5 116.8h4.8M623.5 116.8h4.8M646 116.8h4.8M128.5 121.3h4.8M214 121.3h9.2M232 121.3h4.8M245.5 121.3h4.8M263.5 121.3h4.8M277 121.3h4.8M313 121.3h18.2M340 121.3h4.8M362.5 121.3h9.2M385 121.3h4.8M430 121.3h4.8M484 121.3h4.8M497.5 121.3h9.2M515.5 121.3h9.2M583 121.3h13.8M601 121.3h9.2M637 121.3h9.2M668.5 121.3h9.2M97 125.8h9.2M128.5 125.8h4.8M218.5 125.8h9.2M272.5 125.8h4.8M304 125.8h13.8M322 125.8h9.2M340 125.8h4.8M358 125.8h4.8M371.5 125.8h13.8M389.5 125.8h22.8M434.5 125.8h4.8M443.5 125.8h13.8M470.5 125.8h4.8M497.5 125.8h4.8M583 125.8h9.2M605.5 125.8h4.8M614.5 125.8h9.2M655 125.8h4.8M677.5 125.8h4.8M101.5 130.3h4.8M191.5 130.3h4.8M223 130.3h13.8M250 130.3h4.8M268 130.3h4.8M277 130.3h9.2M304 130.3h4.8M313 130.3h4.8M331 130.3h9.2M380.5 130.3h4.8M389.5 130.3h9.2M403 130.3h9.2M430 130.3h4.8M466 130.3h9.2M479.5 130.3h4.8M493 130.3h4.8M506.5 130.3h18.2M565 130.3h9.2M587.5 130.3h9.2M601 130.3h4.8M614.5 130.3h4.8M682 130.3h9.2M106 134.8h4.8M133 134.8h4.8M232 134.8h9.2M263.5 134.8h4.8M277 134.8h9.2M299.5 134.8h18.2M326.5 134.8h9.2M358 134.8h4.8M389.5 134.8h9.2M412 134.8h4.8M434.5 134.8h13.8M452.5 134.8h13.8M470.5 134.8h4.8M493 134.8h4.8M524.5 134.8h4.8M542.5 134.8h9.2M556 134.8h4.8M565 134.8h4.8M601 134.8h4.8M614.5 134.8h13.8M650.5 134.8h4.8M682 134.8h9.2M110.5 139.3h4.8M151 139.3h4.8M209.5 139.3h4.8M245.5 139.3h9.2M263.5 139.3h4.8M286 139.3h18.2M308.5 139.3h4.8M326.5 139.3h4.8M349 139.3h9.2M394 139.3h9.2M434.5 139.3h18.2M466 139.3h13.8M520 139.3h4.8M538 139.3h9.2M551.5 139.3h4.8M560.5 139.3h27.2M614.5 139.3h4.8M623.5 139.3h4.8M646 139.3h4.8M664 139.3h4.8M677.5 139.3h9.2M115 143.8h4.8M133 143.8h4.8M214 143.8h9.2M245.5 143.8h9.2M268 143.8h4.8M308.5 143.8h4.8M317.5 143.8h13.8M340 143.8h4.8M353.5 143.8h9.2M367 143.8h4.8M376 143.8h4.8M385 143.8h4.8M421 143.8h4.8M457 143.8h13.8M475 143.8h9.2M511 143.8h4.8M542.5 143.8h4.8M565 143.8h9.2M578.5 143.8h4.8M587.5 143.8h4.8M605.5 143.8h9.2M641.5 143.8h4.8M673 143.8h4.8M214 148.3h4.8M245.5 148.3h13.8M263.5 148.3h9.2M299.5 148.3h4.8M308.5 148.3h4.8M317.5 148.3h9.2M331 148.3h4.8M349 148.3h9.2M376 148.3h4.8M385 148.3h4.8M421 148.3h9.2M452.5 148.3h4.8M461.5 148.3h4.8M470.5 148.3h9.2M506.5 148.3h4.8M533.5 148.3h4.8M565 148.3h9.2M592 148.3h9.2M605.5 148.3h4.8M641.5 148.3h4.8M655 148.3h9.2M691 148.3h9.2M214 152.8h4.8M241 152.8h4.8M263.5 152.8h4.8M299.5 152.8h9.2M317.5 152.8h4.8M349 152.8h4.8M385 152.8h4.8M452.5 152.8h4.8M466 152.8h4.8M529 152.8h9.2M565 152.8h4.8M596.5 152.8h13.8M628 152.8h4.8M650.5 152.8h9.2M146.5 157.3h4.8M214 157.3h13.8M236.5 157.3h4.8M245.5 157.3h4.8M286 157.3h4.8M299.5 157.3h9.2M313 157.3h9.2M349 157.3h13.8M367 157.3h4.8M380.5 157.3h13.8M439 157.3h13.8M470.5 157.3h13.8M506.5 157.3h4.8M524.5 157.3h4.8M533.5 157.3h9.2M565 157.3h13.8M596.5 157.3h9.2M628 157.3h4.8M637 157.3h4.8M650.5 157.3h9.2M664 157.3h4.8M691 157.3h9.2M128.5 161.8h4.8M164.5 161.8h4.8M187 161.8h4.8M196 161.8h4.8M209.5 161.8h4.8M218.5 161.8h9.2M245.5 161.8h9.2M272.5 161.8h4.8M299.5 161.8h18.2M344.5 161.8h4.8M358 161.8h4.8M380.5 161.8h9.2M394 161.8h9.2M434.5 161.8h4.8M488.5 161.8h4.8M502 161.8h9.2M529 161.8h4.8M538 161.8h4.8M565 161.8h13.8M587.5 161.8h4.8M596.5 161.8h4.8M632.5 161.8h4.8M655 161.8h13.8M686.5 161.8h4.8M146.5 166.3h9.2M200.5 166.3h4.8M214 166.3h18.2M263.5 166.3h9.2M277 166.3h4.8M304 166.3h13.8M322 166.3h4.8M349 166.3h9.2M380.5 166.3h4.8M403 166.3h4.8M434.5 166.3h4.8M457 166.3h4.8M479.5 166.3h4.8M497.5 166.3h13.8M515.5 166.3h4.8M533.5 166.3h22.8M565 166.3h9.2M587.5 166.3h4.8M601 166.3h4.8M623.5 166.3h4.8M632.5 166.3h4.8M664 166.3h4.8M160 170.8h9.2M196 170.8h4.8M214 170.8h4.8M227.5 170.8h4.8M263.5 170.8h4.8M281.5 170.8h4.8M295 170.8h4.8M304 170.8h27.2M358 170.8h4.8M380.5 170.8h4.8M412 170.8h4.8M430 170.8h9.2M448 170.8h4.8M457 170.8h22.8M493 170.8h9.2M506.5 170.8h4.8M520 170.8h4.8M529 170.8h9.2M547 170.8h4.8M583 170.8h9.2M614.5 170.8h9.2M650.5 170.8h18.2M704.5 170.8h4.8M713.5 170.8h4.8M146.5 175.3h4.8M164.5 175.3h4.8M182.5 175.3h4.8M196 175.3h4.8M205 175.3h4.8M218.5 175.3h4.8M236.5 175.3h4.8M272.5 175.3h9.2M304 175.3h22.8M358 175.3h18.2M380.5 175.3h18.2M430 175.3h4.8M439 175.3h4.8M448 175.3h4.8M457 175.3h4.8M493 175.3h4.8M511 175.3h4.8M547 175.3h4.8M565 175.3h4.8M587.5 175.3h4.8M601 175.3h4.8M610 175.3h4.8M637 175.3h4.8M659.5 175.3h4.8M686.5 175.3h9.2M700 175.3h9.2M169 179.8h9.2M254.5 179.8h4.8M268 179.8h9.2M308.5 179.8h4.8M367 179.8h4.8M380.5 179.8h4.8M389.5 179.8h13.8M434.5 179.8h4.8M488.5 179.8h4.8M547 179.8h4.8M565 179.8h4.8M574 179.8h9.2M592 179.8h9.2M632.5 179.8h4.8M646 179.8h4.8M664 179.8h4.8M686.5 179.8h4.8M704.5 179.8h4.8M151 184.3h4.8M205 184.3h4.8M223 184.3h4.8M236.5 184.3h9.2M250 184.3h4.8M304 184.3h4.8M326.5 184.3h4.8M340 184.3h4.8M367 184.3h9.2M389.5 184.3h4.8M407.5 184.3h4.8M484 184.3h9.2M547 184.3h4.8M565 184.3h9.2M578.5 184.3h9.2M601 184.3h4.8M628 184.3h9.2M664 184.3h4.8M673 184.3h9.2M151 188.8h4.8M160 188.8h4.8M209.5 188.8h4.8M232 188.8h4.8M250 188.8h9.2M304 188.8h4.8M331 188.8h4.8M344.5 188.8h4.8M367 188.8h9.2M389.5 188.8h4.8M412 188.8h4.8M457 188.8h9.2M479.5 188.8h4.8M493 188.8h4.8M569.5 188.8h4.8M601 188.8h4.8M637 188.8h9.2M659.5 188.8h4.8M673 188.8h4.8M151 193.3h4.8M164.5 193.3h4.8M173.5 193.3h4.8M223 193.3h4.8M236.5 193.3h9.2M259 193.3h4.8M295 193.3h9.2M331 193.3h4.8M367 193.3h4.8M394 193.3h4.8M403 193.3h4.8M421 193.3h13.8M448 193.3h4.8M461.5 193.3h4.8M479.5 193.3h4.8M569.5 193.3h4.8M623.5 193.3h4.8M637 193.3h4.8M673 193.3h4.8M682 193.3h4.8M151 197.8h4.8M169 197.8h9.2M227.5 197.8h4.8M241 197.8h4.8M250 197.8h4.8M263.5 197.8h4.8M281.5 197.8h4.8M299.5 197.8h4.8M308.5 197.8h9.2M344.5 197.8h4.8M362.5 197.8h9.2M403 197.8h4.8M434.5 197.8h4.8M470.5 197.8h13.8M520 197.8h4.8M533.5 197.8h4.8M583 197.8h4.8M619 197.8h9.2M650.5 197.8h9.2M173.5 202.3h9.2M187 202.3h9.2M245.5 202.3h4.8M281.5 202.3h4.8M304 202.3h13.8M353.5 202.3h9.2M376 202.3h18.2M407.5 202.3h13.8M425.5 202.3h4.8M439 202.3h18.2M461.5 202.3h4.8M470.5 202.3h4.8M479.5 202.3h4.8M493 202.3h4.8M506.5 202.3h9.2M524.5 202.3h9.2M560.5 202.3h4.8M578.5 202.3h4.8M632.5 202.3h4.8M646 202.3h4.8M182.5 206.8h4.8M236.5 206.8h13.8M254.5 206.8h4.8M277 206.8h9.2M295 206.8h13.8M317.5 206.8h4.8M353.5 206.8h4.8M371.5 206.8h4.8M407.5 206.8h4.8M425.5 206.8h31.8M488.5 206.8h4.8M497.5 206.8h4.8M533.5 206.8h9.2M551.5 206.8h4.8M565 206.8h4.8M614.5 206.8h4.8M632.5 206.8h18.2M178 211.3h4.8M223 211.3h4.8M236.5 211.3h13.8M277 211.3h4.8M286 211.3h18.2M308.5 211.3h9.2M371.5 211.3h4.8M412 211.3h4.8M515.5 211.3h4.8M529 211.3h13.8M569.5 211.3h4.8M583 211.3h4.8M596.5 211.3h4.8M614.5 211.3h4.8M637 211.3h9.2M173.5 215.8h13.8M241 215.8h4.8M259 215.8h4.8M281.5 215.8h4.8M299.5 215.8h9.2M313 215.8h13.8M358 215.8h9.2M389.5 215.8h4.8M398.5 215.8h13.8M506.5 215.8h4.8M565 215.8h4.8M578.5 215.8h9.2M610 215.8h4.8M637 215.8h4.8M178 220.3h4.8M191.5 220.3h4.8M205 220.3h4.8M227.5 220.3h4.8M254.5 220.3h4.8M281.5 220.3h4.8M304 220.3h22.8M367 220.3h22.8M398.5 220.3h4.8M439 220.3h4.8M452.5 220.3h18.2M479.5 220.3h9.2M538 220.3h9.2M551.5 220.3h9.2M565 220.3h9.2M596.5 220.3h4.8M605.5 220.3h4.8M628 220.3h4.8M637 220.3h13.8M169 224.8h4.8M182.5 224.8h9.2M196 224.8h9.2M241 224.8h4.8M250 224.8h4.8M299.5 224.8h9.2M322 224.8h9.2M353.5 224.8h4.8M362.5 224.8h9.2M385 224.8h4.8M394 224.8h4.8M421 224.8h4.8M430 224.8h4.8M439 224.8h4.8M475 224.8h4.8M488.5 224.8h4.8M497.5 224.8h4.8M515.5 224.8h4.8M533.5 224.8h45.2M587.5 224.8h9.2M610 224.8h4.8M173.5 229.3h9.2M187 229.3h4.8M241 229.3h4.8M299.5 229.3h9.2M335.5 229.3h4.8M344.5 229.3h27.2M398.5 229.3h4.8M430 229.3h9.2M475 229.3h4.8M502 229.3h4.8M511 229.3h9.2M574 229.3h4.8M583 229.3h4.8M628 229.3h4.8M173.5 233.8h4.8M187 233.8h4.8M295 233.8h4.8M340 233.8h18.2M367 233.8h4.8M376 233.8h4.8M389.5 233.8h9.2M403 233.8h4.8M412 233.8h4.8M479.5 233.8h4.8M502 233.8h13.8M529 233.8h4.8M556 233.8h4.8M614.5 233.8h4.8M191.5 238.3h4.8M218.5 238.3h4.8M313 238.3h4.8M335.5 238.3h9.2M362.5 238.3h18.2M389.5 238.3h9.2M443.5 238.3h9.2M466 238.3h4.8M479.5 238.3h4.8M515.5 238.3h4.8M524.5 238.3h4.8M551.5 238.3h4.8M569.5 238.3h4.8M578.5 238.3h4.8M614.5 238.3h4.8M182.5 242.8h4.8M299.5 242.8h4.8M317.5 242.8h4.8M349 242.8h4.8M362.5 242.8h4.8M394 242.8h9.2M416.5 242.8h13.8M443.5 242.8h9.2M479.5 242.8h9.2M493 242.8h9.2M520 242.8h4.8M547 242.8h9.2M569.5 242.8h4.8M601 242.8h18.2M182.5 247.3h9.2M214 247.3h4.8M227.5 247.3h4.8M272.5 247.3h4.8M281.5 247.3h4.8M299.5 247.3h9.2M317.5 247.3h4.8M362.5 247.3h4.8M385 247.3h4.8M403 247.3h9.2M416.5 247.3h4.8M443.5 247.3h4.8M466 247.3h4.8M484 247.3h4.8M502 247.3h4.8M515.5 247.3h4.8M538 247.3h9.2M560.5 247.3h4.8M191.5 251.8h9.2M236.5 251.8h4.8M272.5 251.8h4.8M322 251.8h4.8M367 251.8h4.8M407.5 251.8h4.8M416.5 251.8h4.8M448 251.8h9.2M461.5 251.8h9.2M479.5 251.8h4.8M493 251.8h18.2M524.5 251.8h9.2M578.5 251.8h4.8M587.5 251.8h4.8M250 256.3h4.8M263.5 256.3h4.8M322 256.3h4.8M371.5 256.3h4.8M385 256.3h27.2M461.5 256.3h9.2M493 256.3h13.8M511 256.3h9.2M533.5 256.3h4.8M551.5 256.3h18.2M578.5 256.3h4.8M587.5 256.3h9.2M191.5 260.8h4.8M263.5 260.8h9.2M322 260.8h9.2M340 260.8h4.8M380.5 260.8h13.8M475 260.8h13.8M493 260.8h13.8M515.5 260.8h4.8M533.5 260.8h9.2M547 260.8h22.8M574 260.8h18.2M290.5 265.3h9.2M304 265.3h4.8M349 265.3h9.2M394 265.3h4.8M434.5 265.3h22.8M461.5 265.3h4.8M484 265.3h4.8M511 265.3h4.8M533.5 265.3h9.2M547 265.3h4.8M565 265.3h9.2M200.5 269.8h4.8M250 269.8h4.8M259 269.8h9.2M272.5 269.8h4.8M299.5 269.8h13.8M331 269.8h4.8M353.5 269.8h9.2M398.5 269.8h4.8M439 269.8h4.8M524.5 269.8h13.8M542.5 269.8h4.8M551.5 269.8h13.8M569.5 269.8h4.8M205 274.3h4.8M218.5 274.3h4.8M259 274.3h4.8M290.5 274.3h22.8M335.5 274.3h4.8M349 274.3h13.8M398.5 274.3h4.8M434.5 274.3h9.2M470.5 274.3h4.8M502 274.3h4.8M529 274.3h9.2M542.5 274.3h4.8M556 274.3h13.8M232 278.8h4.8M259 278.8h4.8M268 278.8h4.8M308.5 278.8h18.2M344.5 278.8h9.2M362.5 278.8h9.2M398.5 278.8h22.8M466 278.8h4.8M475 278.8h4.8M493 278.8h4.8M524.5 278.8h4.8M542.5 278.8h18.2M209.5 283.3h4.8M277 283.3h4.8M308.5 283.3h9.2M322 283.3h4.8M362.5 283.3h13.8M389.5 283.3h4.8M398.5 283.3h18.2M448 283.3h9.2M484 283.3h9.2M497.5 283.3h4.8M506.5 283.3h4.8M547 283.3h13.8M232 287.8h4.8M250 287.8h4.8M259 287.8h9.2M281.5 287.8h4.8M308.5 287.8h13.8M362.5 287.8h9.2M376 287.8h13.8M394 287.8h4.8M407.5 287.8h9.2M488.5 287.8h9.2M502 287.8h4.8M524.5 287.8h9.2M547 287.8h4.8M223 292.3h4.8M241 292.3h4.8M254.5 292.3h18.2M281.5 292.3h9.2M308.5 292.3h4.8M317.5 292.3h4.8M331 292.3h4.8M349 292.3h4.8M367 292.3h4.8M394 292.3h4.8M412 292.3h4.8M421 292.3h4.8M430 292.3h4.8M452.5 292.3h4.8M466 292.3h4.8M488.5 292.3h4.8M506.5 292.3h9.2M533.5 292.3h4.8M223 296.8h4.8M259 296.8h4.8M277 296.8h9.2M308.5 296.8h4.8M326.5 296.8h4.8M340 296.8h4.8M353.5 296.8h9.2M371.5 296.8h4.8M398.5 296.8h4.8M407.5 296.8h9.2M457 296.8h4.8M488.5 296.8h4.8M227.5 301.3h4.8M281.5 301.3h9.2M331 301.3h4.8M340 301.3h4.8M358 301.3h18.2M407.5 301.3h4.8M461.5 301.3h22.8M493 301.3h18.2M304 305.8h9.2M412 305.8h13.8M439 305.8h9.2M452.5 305.8h13.8M475 305.8h9.2M502 305.8h9.2M344.5 310.3h4.8M403 310.3h4.8M416.5 310.3h4.8M439 310.3h13.8M457 310.3h9.2M484 310.3h9.2M502 310.3h4.8M511 310.3h4.8M241 314.8h4.8M250 314.8h4.8M313 314.8h9.2M326.5 314.8h4.8M349 314.8h4.8M380.5 314.8h22.8M407.5 314.8h13.8M434.5 314.8h4.8M457 314.8h4.8M236.5 319.3h4.8M263.5 319.3h4.8M358 319.3h4.8"/>
<path stroke="#6CC672" d="M443.5 -27.2h9.2M515.5 -27.2h13.8M443.5 -22.7h9.2M520 -22.7h9.2M551.5 -22.7h13.8M569.5 -22.7h4.8M578.5 -22.7h4.8M254.5 -18.2h4.8M268 -18.2h9.2M281.5 -18.2h9.2M295 -18.2h4.8M448 -18.2h9.2M502 -18.2h4.8M560.5 -18.2h4.8M569.5 -18.2h13.8M115 -13.7h13.8M191.5 -13.7h4.8M439 -13.7h18.2M479.5 -13.7h13.8M497.5 -13.7h9.2M520 -13.7h4.8M547 -13.7h18.2M569.5 -13.7h18.2M97 -9.2h27.2M178 -9.2h9.2M191.5 -9.2h4.8M434.5 -9.2h22.8M475 -9.2h13.8M502 -9.2h4.8M538 -9.2h27.2M574 -9.2h13.8M74.5 -4.7h4.8M115 -4.7h9.2M169 -4.7h9.2M182.5 -4.7h9.2M209.5 -4.7h4.8M425.5 -4.7h4.8M439 -4.7h9.2M457 -4.7h4.8M484 -4.7h4.8M538 -4.7h18.2M574 -4.7h4.8M164.5 -0.2h9.2M178 -0.2h9.2M209.5 -0.2h4.8M443.5 -0.2h4.8M538 -0.2h13.8M583 -0.2h4.8M142 4.3h4.8M155.5 4.3h4.8M173.5 4.3h9.2M497.5 4.3h9.2M547 4.3h4.8M592 4.3h4.8M155.5 8.8h9.2M578.5 8.8h4.8M97 13.3h9.2M196 13.3h13.8M385 13.3h4.8M457 13.3h4.8M88 17.8h13.8M115 17.8h4.8M205 17.8h4.8M452.5 17.8h13.8M34 22.3h4.8M92.5 22.3h4.8M115 22.3h9.2M178 22.3h4.8M259 22.3h4.8M290.5 22.3h4.8M385 22.3h4.8M398.5 22.3h9.2M457 22.3h9.2M520 22.3h9.2M569.5 22.3h4.8M587.5 22.3h9.2M115 26.8h4.8M254.5 26.8h13.8M272.5 26.8h4.8M281.5 26.8h4.8M394 26.8h13.8M421 26.8h4.8M515.5 26.8h9.2M601 26.8h4.8M115 31.3h4.8M254.5 31.3h9.2M277 31.3h9.2M394 31.3h9.2M515.5 31.3h4.8M565 31.3h4.8M196 35.8h9.2M232 35.8h4.8M254.5 35.8h13.8M277 35.8h13.8M317.5 35.8h4.8M574 35.8h4.8M619 35.8h4.8M196 40.3h18.2M227.5 40.3h13.8M254.5 40.3h9.2M281.5 40.3h9.2M317.5 40.3h4.8M403 40.3h9.2M560.5 40.3h18.2M196 44.8h13.8M227.5 44.8h13.8M245.5 44.8h18.2M281.5 44.8h9.2M407.5 44.8h4.8M475 44.8h4.8M565 44.8h18.2M610 44.8h4.8M52 49.3h4.8M191.5 49.3h18.2M223 49.3h27.2M254.5 49.3h9.2M461.5 49.3h4.8M475 49.3h9.2M493 49.3h4.8M569.5 49.3h9.2M610 49.3h4.8M623.5 49.3h9.2M196 53.8h9.2M241 53.8h18.2M434.5 53.8h4.8M475 53.8h13.8M565 53.8h13.8M628 53.8h9.2M56.5 58.3h4.8M173.5 58.3h4.8M227.5 58.3h4.8M236.5 58.3h4.8M250 58.3h9.2M376 58.3h4.8M470.5 58.3h18.2M565 58.3h4.8M628 58.3h9.2M178 62.8h4.8M254.5 62.8h4.8M313 62.8h4.8M335.5 62.8h9.2M425.5 62.8h4.8M439 62.8h4.8M565 62.8h18.2M605.5 62.8h4.8M628 62.8h9.2M61 67.3h4.8M83.5 67.3h4.8M200.5 67.3h4.8M214 67.3h13.8M250 67.3h4.8M277 67.3h18.2M313 67.3h9.2M331 67.3h13.8M358 67.3h13.8M439 67.3h4.8M511 67.3h4.8M547 67.3h22.8M574 67.3h13.8M601 67.3h9.2M628 67.3h9.2M61 71.8h4.8M70 71.8h9.2M214 71.8h4.8M223 71.8h4.8M281.5 71.8h13.8M331 71.8h9.2M362.5 71.8h18.2M457 71.8h18.2M511 71.8h4.8M547 71.8h13.8M574 71.8h9.2M601 71.8h13.8M632.5 71.8h4.8M88 76.3h4.8M200.5 76.3h4.8M209.5 76.3h22.8M281.5 76.3h9.2M331 76.3h13.8M358 76.3h18.2M461.5 76.3h9.2M547 76.3h9.2M574 76.3h13.8M601 76.3h9.2M632.5 76.3h9.2M79 80.8h9.2M200.5 80.8h9.2M218.5 80.8h13.8M286 80.8h9.2M335.5 80.8h4.8M362.5 80.8h9.2M394 80.8h9.2M520 80.8h4.8M547 80.8h4.8M578.5 80.8h4.8M601 80.8h9.2M632.5 80.8h13.8M83.5 85.3h4.8M209.5 85.3h4.8M245.5 85.3h13.8M362.5 85.3h9.2M452.5 85.3h9.2M488.5 85.3h4.8M574 85.3h13.8M605.5 85.3h9.2M628 85.3h13.8M74.5 89.8h13.8M245.5 89.8h18.2M362.5 89.8h9.2M452.5 89.8h9.2M574 89.8h4.8M605.5 89.8h9.2M628 89.8h13.8M79 94.3h4.8M227.5 94.3h4.8M245.5 94.3h18.2M340 94.3h13.8M362.5 94.3h18.2M389.5 94.3h4.8M452.5 94.3h18.2M574 94.3h9.2M605.5 94.3h4.8M628 94.3h13.8M659.5 94.3h4.8M79 98.8h4.8M254.5 98.8h9.2M308.5 98.8h9.2M335.5 98.8h13.8M358 98.8h22.8M457 98.8h13.8M479.5 98.8h9.2M601 98.8h9.2M628 98.8h13.8M659.5 98.8h9.2M313 103.3h4.8M335.5 103.3h13.8M353.5 103.3h22.8M425.5 103.3h13.8M457 103.3h9.2M475 103.3h9.2M488.5 103.3h4.8M601 103.3h9.2M628 103.3h13.8M659.5 103.3h9.2M254.5 107.8h4.8M308.5 107.8h9.2M344.5 107.8h9.2M358 107.8h18.2M403 107.8h4.8M430 107.8h13.8M448 107.8h13.8M475 107.8h4.8M515.5 107.8h4.8M628 107.8h9.2M659.5 107.8h9.2M250 112.3h13.8M308.5 112.3h9.2M394 112.3h4.8M403 112.3h9.2M434.5 112.3h31.8M484 112.3h4.8M515.5 112.3h9.2M601 112.3h9.2M637 112.3h4.8M655 112.3h13.8M245.5 116.8h18.2M286 116.8h4.8M353.5 116.8h4.8M371.5 116.8h4.8M407.5 116.8h4.8M439 116.8h27.2M524.5 116.8h9.2M565 116.8h13.8M628 116.8h9.2M655 116.8h13.8M677.5 116.8h4.8M250 121.3h4.8M281.5 121.3h13.8M434.5 121.3h9.2M448 121.3h27.2M538 121.3h13.8M560.5 121.3h9.2M623.5 121.3h13.8M659.5 121.3h9.2M196 125.8h13.8M250 125.8h18.2M281.5 125.8h18.2M457 125.8h13.8M524.5 125.8h27.2M556 125.8h9.2M596.5 125.8h4.8M623.5 125.8h13.8M682 125.8h4.8M196 130.3h13.8M254.5 130.3h13.8M286 130.3h13.8M340 130.3h13.8M416.5 130.3h4.8M425.5 130.3h4.8M529 130.3h13.8M547 130.3h13.8M596.5 130.3h4.8M623.5 130.3h4.8M200.5 134.8h9.2M286 134.8h13.8M335.5 134.8h18.2M416.5 134.8h13.8M479.5 134.8h13.8M529 134.8h9.2M200.5 139.3h9.2M232 139.3h9.2M254.5 139.3h4.8M389.5 139.3h4.8M484 139.3h9.2M529 139.3h4.8M659.5 139.3h4.8M200.5 143.8h9.2M227.5 143.8h13.8M263.5 143.8h4.8M389.5 143.8h9.2M430 143.8h9.2M443.5 143.8h4.8M520 143.8h13.8M556 143.8h4.8M619 143.8h4.8M646 143.8h18.2M682 143.8h13.8M205 148.3h4.8M218.5 148.3h22.8M290.5 148.3h4.8M394 148.3h9.2M416.5 148.3h4.8M430 148.3h4.8M443.5 148.3h9.2M511 148.3h22.8M551.5 148.3h9.2M578.5 148.3h9.2M619 148.3h4.8M646 148.3h4.8M664 148.3h27.2M205 152.8h4.8M232 152.8h4.8M326.5 152.8h4.8M389.5 152.8h31.8M511 152.8h13.8M547 152.8h13.8M583 152.8h9.2M610 152.8h18.2M668.5 152.8h18.2M322 157.3h22.8M407.5 157.3h22.8M511 157.3h13.8M547 157.3h18.2M614.5 157.3h13.8M668.5 157.3h18.2M700 157.3h9.2M326.5 161.8h18.2M367 161.8h9.2M412 161.8h18.2M470.5 161.8h9.2M520 161.8h4.8M551.5 161.8h9.2M605.5 161.8h4.8M614.5 161.8h13.8M637 161.8h13.8M673 161.8h9.2M704.5 161.8h9.2M241 166.3h9.2M331 166.3h13.8M367 166.3h13.8M412 166.3h22.8M470.5 166.3h4.8M524.5 166.3h4.8M578.5 166.3h4.8M641.5 166.3h9.2M673 166.3h4.8M709 166.3h4.8M151 170.8h9.2M232 170.8h18.2M331 170.8h13.8M367 170.8h4.8M425.5 170.8h4.8M538 170.8h4.8M574 170.8h9.2M151 175.3h9.2M241 175.3h9.2M340 175.3h18.2M520 175.3h18.2M578.5 175.3h4.8M155.5 179.8h9.2M313 179.8h4.8M344.5 179.8h18.2M515.5 179.8h18.2M542.5 179.8h4.8M637 179.8h9.2M691 179.8h9.2M155.5 184.3h9.2M322 184.3h4.8M349 184.3h13.8M398.5 184.3h4.8M511 184.3h36.2M592 184.3h4.8M691 184.3h9.2M245.5 188.8h4.8M281.5 188.8h4.8M317.5 188.8h9.2M349 188.8h18.2M398.5 188.8h4.8M484 188.8h4.8M506.5 188.8h31.8M542.5 188.8h4.8M551.5 188.8h4.8M560.5 188.8h4.8M592 188.8h9.2M668.5 188.8h4.8M686.5 188.8h9.2M281.5 193.3h13.8M313 193.3h18.2M353.5 193.3h13.8M407.5 193.3h4.8M452.5 193.3h4.8M488.5 193.3h31.8M529 193.3h40.8M587.5 193.3h13.8M664 193.3h9.2M155.5 197.8h9.2M232 197.8h4.8M286 197.8h4.8M322 197.8h13.8M353.5 197.8h9.2M416.5 197.8h4.8M430 197.8h4.8M452.5 197.8h9.2M488.5 197.8h13.8M542.5 197.8h22.8M587.5 197.8h18.2M637 197.8h4.8M659.5 197.8h13.8M155.5 202.3h13.8M227.5 202.3h13.8M263.5 202.3h4.8M295 202.3h4.8M322 202.3h18.2M547 202.3h4.8M587.5 202.3h9.2M601 202.3h9.2M659.5 202.3h13.8M160 206.8h13.8M259 206.8h13.8M322 206.8h18.2M376 206.8h13.8M520 206.8h4.8M569.5 206.8h4.8M601 206.8h13.8M650.5 206.8h4.8M160 211.3h13.8M259 211.3h18.2M326.5 211.3h13.8M344.5 211.3h9.2M376 211.3h9.2M520 211.3h9.2M542.5 211.3h4.8M574 211.3h9.2M601 211.3h9.2M659.5 211.3h4.8M160 215.8h13.8M236.5 215.8h4.8M263.5 215.8h13.8M340 215.8h18.2M520 215.8h18.2M542.5 215.8h9.2M569.5 215.8h9.2M169 220.3h4.8M263.5 220.3h18.2M340 220.3h13.8M407.5 220.3h9.2M506.5 220.3h27.2M173.5 224.8h4.8M259 224.8h22.8M340 224.8h4.8M349 224.8h4.8M407.5 224.8h13.8M461.5 224.8h9.2M506.5 224.8h4.8M596.5 224.8h4.8M245.5 229.3h40.8M313 229.3h13.8M371.5 229.3h4.8M380.5 229.3h4.8M403 229.3h4.8M412 229.3h4.8M452.5 229.3h13.8M484 229.3h9.2M533.5 229.3h13.8M587.5 229.3h22.8M632.5 229.3h4.8M245.5 233.8h45.2M380.5 233.8h4.8M439 233.8h4.8M448 233.8h18.2M484 233.8h13.8M538 233.8h18.2M587.5 233.8h22.8M178 238.3h4.8M250 238.3h18.2M272.5 238.3h22.8M326.5 238.3h9.2M380.5 238.3h9.2M434.5 238.3h4.8M457 238.3h4.8M488.5 238.3h9.2M511 238.3h4.8M529 238.3h18.2M587.5 238.3h9.2M610 238.3h4.8M245.5 242.8h22.8M281.5 242.8h18.2M326.5 242.8h18.2M385 242.8h9.2M434.5 242.8h4.8M457 242.8h4.8M506.5 242.8h13.8M533.5 242.8h9.2M578.5 242.8h4.8M587.5 242.8h4.8M245.5 247.3h18.2M286 247.3h13.8M326.5 247.3h31.8M506.5 247.3h4.8M583 247.3h4.8M250 251.8h18.2M286 251.8h18.2M340 251.8h22.8M430 251.8h13.8M484 251.8h4.8M583 251.8h4.8M254.5 256.3h4.8M290.5 256.3h31.8M344.5 256.3h18.2M430 256.3h18.2M452.5 256.3h4.8M488.5 256.3h4.8M250 260.8h9.2M272.5 260.8h4.8M281.5 260.8h13.8M299.5 260.8h22.8M349 260.8h4.8M362.5 260.8h18.2M430 260.8h18.2M457 260.8h9.2M263.5 265.3h4.8M272.5 265.3h13.8M313 265.3h13.8M362.5 265.3h22.8M457 265.3h4.8M277 269.8h9.2M317.5 269.8h13.8M362.5 269.8h31.8M277 274.3h4.8M322 274.3h13.8M371.5 274.3h22.8M511 274.3h13.8M286 278.8h18.2M326.5 278.8h13.8M376 278.8h18.2M425.5 278.8h18.2M515.5 278.8h9.2M286 283.3h18.2M331 283.3h18.2M353.5 283.3h4.8M376 283.3h13.8M416.5 283.3h27.2M466 283.3h9.2M515.5 283.3h9.2M290.5 287.8h13.8M335.5 287.8h22.8M416.5 287.8h18.2M457 287.8h4.8M470.5 287.8h13.8M511 287.8h4.8M520 287.8h4.8M299.5 292.3h9.2M335.5 292.3h9.2M371.5 292.3h4.8M416.5 292.3h4.8M470.5 292.3h9.2M484 292.3h4.8M538 292.3h4.8M313 296.8h4.8M322 296.8h4.8M376 296.8h4.8M479.5 296.8h4.8M515.5 296.8h22.8M263.5 301.3h13.8M295 301.3h9.2M308.5 301.3h9.2M322 301.3h9.2M376 301.3h9.2M394 301.3h9.2M515.5 301.3h18.2M263.5 305.8h27.2M295 305.8h4.8M322 305.8h4.8M331 305.8h9.2M376 305.8h27.2M407.5 305.8h4.8M515.5 305.8h13.8M263.5 310.3h36.2M326.5 310.3h18.2M380.5 310.3h18.2M407.5 310.3h4.8M470.5 310.3h4.8M493 310.3h9.2M263.5 314.8h36.2M331 314.8h18.2M443.5 314.8h4.8M466 314.8h18.2M245.5 319.3h4.8M268 319.3h31.8M335.5 319.3h18.2"/>
<path stroke="#A9A9A9" d="M353.5 -22.7h9.2M421 -22.7h4.8M259 -18.2h9.2M299.5 -18.2h4.8M308.5 -18.2h4.8M335.5 -18.2h9.2M353.5 -18.2h4.8M398.5 -18.2h9.2M412 -18.2h4.8M182.5 -13.7h4.8M196 -13.7h4.8M209.5 -13.7h9.2M227.5 -13.7h9.2M281.5 -13.7h4.8M290.5 -13.7h4.8M299.5 -13.7h4.8M326.5 -13.7h9.2M349 -13.7h9.2M376 -13.7h4.8M412 -13.7h4.8M83.5 -9.2h4.8M214 -9.2h9.2M236.5 -9.2h4.8M245.5 -9.2h4.8M259 -9.2h4.8M268 -9.2h4.8M281.5 -9.2h22.8M317.5 -9.2h4.8M331 -9.2h4.8M344.5 -9.2h4.8M371.5 -9.2h4.8M389.5 -9.2h9.2M403 -9.2h4.8M412 -9.2h4.8M83.5 -4.7h4.8M97 -4.7h4.8M106 -4.7h4.8M200.5 -4.7h4.8M214 -4.7h4.8M232 -4.7h4.8M241 -4.7h9.2M254.5 -4.7h9.2M268 -4.7h4.8M281.5 -4.7h22.8M322 -4.7h4.8M331 -4.7h9.2M358 -4.7h9.2M398.5 -4.7h4.8M407.5 -4.7h13.8M65.5 -0.2h4.8M74.5 -0.2h9.2M101.5 -0.2h4.8M218.5 -0.2h4.8M245.5 -0.2h9.2M268 -0.2h4.8M277 -0.2h4.8M286 -0.2h4.8M344.5 -0.2h4.8M353.5 -0.2h4.8M389.5 -0.2h9.2M430 -0.2h4.8M61 4.3h9.2M74.5 4.3h4.8M92.5 4.3h4.8M115 4.3h4.8M232 4.3h18.2M259 4.3h4.8M272.5 4.3h4.8M295 4.3h4.8M317.5 4.3h9.2M331 4.3h9.2M349 4.3h4.8M367 4.3h4.8M376 4.3h9.2M403 4.3h4.8M412 4.3h9.2M425.5 4.3h9.2M61 8.8h4.8M79 8.8h4.8M101.5 8.8h13.8M124 8.8h4.8M236.5 8.8h4.8M259 8.8h4.8M272.5 8.8h4.8M281.5 8.8h4.8M290.5 8.8h9.2M308.5 8.8h4.8M322 8.8h4.8M340 8.8h4.8M376 8.8h4.8M385 8.8h4.8M394 8.8h9.2M425.5 8.8h4.8M65.5 13.3h4.8M74.5 13.3h4.8M106 13.3h4.8M119.5 13.3h9.2M223 13.3h4.8M241 13.3h4.8M250 13.3h4.8M263.5 13.3h4.8M281.5 13.3h4.8M317.5 13.3h4.8M326.5 13.3h13.8M362.5 13.3h4.8M380.5 13.3h4.8M394 13.3h4.8M416.5 13.3h4.8M425.5 13.3h9.2M38.5 17.8h4.8M47.5 17.8h4.8M56.5 17.8h13.8M124 17.8h9.2M182.5 17.8h4.8M209.5 17.8h4.8M254.5 17.8h4.8M263.5 17.8h9.2M277 17.8h4.8M308.5 17.8h9.2M326.5 17.8h4.8M340 17.8h4.8M353.5 17.8h4.8M394 17.8h4.8M407.5 17.8h9.2M434.5 17.8h4.8M38.5 22.3h13.8M56.5 22.3h4.8M65.5 22.3h4.8M137.5 22.3h9.2M245.5 22.3h4.8M272.5 22.3h4.8M286 22.3h4.8M322 22.3h4.8M331 22.3h9.2M358 22.3h4.8M394 22.3h4.8M407.5 22.3h4.8M421 22.3h4.8M434.5 22.3h4.8M43 26.8h4.8M52 26.8h9.2M65.5 26.8h9.2M142 26.8h9.2M223 26.8h4.8M331 26.8h4.8M344.5 26.8h4.8M61 31.3h4.8M74.5 31.3h4.8M133 31.3h4.8M241 31.3h4.8M268 31.3h4.8M304 31.3h13.8M331 31.3h4.8M353.5 31.3h4.8M425.5 31.3h4.8M56.5 35.8h9.2M70 35.8h4.8M133 35.8h4.8M142 35.8h4.8M151 35.8h9.2M313 35.8h4.8M349 35.8h4.8M371.5 35.8h4.8M47.5 40.3h9.2M65.5 40.3h9.2M79 40.3h4.8M146.5 40.3h9.2M245.5 40.3h4.8M326.5 40.3h13.8M353.5 40.3h9.2M61 44.8h9.2M322 44.8h4.8M340 44.8h4.8M362.5 44.8h4.8M47.5 49.3h4.8M74.5 49.3h4.8M146.5 49.3h4.8M160 49.3h4.8M335.5 49.3h4.8M349 49.3h4.8M371.5 49.3h4.8M83.5 53.8h4.8M160 53.8h4.8M169 53.8h4.8M335.5 53.8h4.8M61 58.3h4.8M70 58.3h9.2M83.5 58.3h9.2M353.5 58.3h4.8M61 62.8h4.8M70 62.8h4.8M83.5 62.8h9.2M164.5 62.8h9.2M173.5 67.3h4.8M83.5 71.8h9.2M65.5 76.3h4.8M74.5 76.3h4.8M169 76.3h4.8M182.5 76.3h4.8M79 85.3h4.8M191.5 85.3h4.8M191.5 89.8h9.2M191.5 94.3h9.2"/>
<path stroke="#9C9C9C" d="M376 -22.7h4.8M407.5 -22.7h4.8M250 -18.2h4.8M304 -18.2h4.8M313 -18.2h4.8M326.5 -18.2h4.8M344.5 -18.2h9.2M371.5 -18.2h4.8M385 -18.2h4.8M173.5 -13.7h4.8M200.5 -13.7h9.2M236.5 -13.7h9.2M250 -13.7h9.2M263.5 -13.7h4.8M272.5 -13.7h4.8M286 -13.7h4.8M313 -13.7h4.8M340 -13.7h4.8M358 -13.7h4.8M367 -13.7h9.2M380.5 -13.7h4.8M389.5 -13.7h4.8M398.5 -13.7h13.8M209.5 -9.2h4.8M223 -9.2h13.8M241 -9.2h4.8M263.5 -9.2h4.8M277 -9.2h4.8M313 -9.2h4.8M326.5 -9.2h4.8M335.5 -9.2h4.8M367 -9.2h4.8M380.5 -9.2h9.2M398.5 -9.2h4.8M425.5 -9.2h4.8M110.5 -4.7h4.8M205 -4.7h4.8M223 -4.7h4.8M277 -4.7h4.8M304 -4.7h4.8M317.5 -4.7h4.8M340 -4.7h4.8M349 -4.7h9.2M367 -4.7h4.8M376 -4.7h22.8M403 -4.7h4.8M421 -4.7h4.8M430 -4.7h4.8M83.5 -0.2h4.8M106 -0.2h9.2M124 -0.2h4.8M214 -0.2h4.8M241 -0.2h4.8M259 -0.2h9.2M295 -0.2h4.8M313 -0.2h9.2M367 -0.2h18.2M407.5 -0.2h4.8M416.5 -0.2h4.8M425.5 -0.2h4.8M70 4.3h4.8M79 4.3h4.8M106 4.3h9.2M119.5 4.3h4.8M209.5 4.3h4.8M263.5 4.3h4.8M281.5 4.3h4.8M290.5 4.3h4.8M308.5 4.3h4.8M344.5 4.3h4.8M353.5 4.3h4.8M362.5 4.3h4.8M371.5 4.3h4.8M389.5 4.3h4.8M421 4.3h4.8M70 8.8h9.2M119.5 8.8h4.8M151 8.8h4.8M227.5 8.8h4.8M250 8.8h9.2M263.5 8.8h4.8M277 8.8h4.8M286 8.8h4.8M313 8.8h4.8M326.5 8.8h4.8M335.5 8.8h4.8M344.5 8.8h9.2M367 8.8h9.2M389.5 8.8h4.8M412 8.8h4.8M421 8.8h4.8M61 13.3h4.8M70 13.3h4.8M115 13.3h4.8M214 13.3h4.8M254.5 13.3h9.2M272.5 13.3h9.2M290.5 13.3h18.2M313 13.3h4.8M322 13.3h4.8M344.5 13.3h13.8M371.5 13.3h4.8M389.5 13.3h4.8M403 13.3h4.8M412 13.3h4.8M421 13.3h4.8M52 17.8h4.8M74.5 17.8h9.2M101.5 17.8h13.8M119.5 17.8h4.8M232 17.8h4.8M281.5 17.8h4.8M290.5 17.8h9.2M331 17.8h4.8M349 17.8h4.8M385 17.8h9.2M398.5 17.8h9.2M430 17.8h4.8M74.5 22.3h4.8M124 22.3h4.8M254.5 22.3h4.8M304 22.3h4.8M349 22.3h9.2M389.5 22.3h4.8M416.5 22.3h4.8M430 22.3h4.8M47.5 26.8h4.8M74.5 26.8h4.8M133 26.8h4.8M250 26.8h4.8M295 26.8h18.2M317.5 26.8h9.2M349 26.8h4.8M362.5 26.8h4.8M389.5 26.8h4.8M407.5 26.8h9.2M43 31.3h4.8M52 31.3h4.8M65.5 31.3h4.8M146.5 31.3h4.8M236.5 31.3h4.8M263.5 31.3h4.8M317.5 31.3h4.8M340 31.3h4.8M349 31.3h4.8M43 35.8h4.8M52 35.8h4.8M74.5 35.8h9.2M137.5 35.8h4.8M236.5 35.8h4.8M272.5 35.8h4.8M308.5 35.8h4.8M322 35.8h4.8M353.5 35.8h9.2M142 40.3h4.8M250 40.3h4.8M322 40.3h4.8M340 40.3h4.8M362.5 40.3h4.8M47.5 44.8h9.2M74.5 44.8h4.8M146.5 44.8h4.8M155.5 44.8h4.8M326.5 44.8h9.2M344.5 44.8h18.2M56.5 49.3h4.8M70 49.3h4.8M151 49.3h9.2M340 49.3h9.2M353.5 49.3h4.8M61 53.8h4.8M74.5 53.8h4.8M344.5 53.8h13.8M362.5 53.8h4.8M326.5 58.3h4.8M340 58.3h4.8M367 58.3h9.2M74.5 62.8h4.8M173.5 62.8h4.8M70 67.3h4.8M79 67.3h4.8M65.5 71.8h4.8M79 71.8h4.8M178 71.8h9.2M70 76.3h4.8M79 76.3h4.8M92.5 76.3h4.8M173.5 76.3h9.2M74.5 80.8h4.8M182.5 80.8h9.2M74.5 85.3h4.8M187 85.3h4.8"/>
<path stroke="#C9D3FF" d="M565 4.3h9.2M479.5 8.8h4.8M565 8.8h9.2M470.5 13.3h4.8M556 17.8h9.2M569.5 17.8h4.8M466 22.3h4.8M551.5 22.3h4.8M565 22.3h4.8M578.5 22.3h4.8M596.5 22.3h9.2M83.5 26.8h4.8M106 26.8h4.8M475 26.8h4.8M556 26.8h18.2M583 26.8h9.2M610 26.8h4.8M88 31.3h4.8M470.5 31.3h9.2M569.5 31.3h4.8M578.5 31.3h9.2M601 31.3h13.8M83.5 35.8h9.2M106 35.8h4.8M115 35.8h4.8M560.5 35.8h4.8M569.5 35.8h4.8M587.5 35.8h4.8M605.5 35.8h9.2M88 40.3h9.2M119.5 40.3h4.8M133 40.3h9.2M92.5 44.8h4.8M137.5 44.8h4.8M88 49.3h4.8M92.5 53.8h4.8M97 58.3h4.8M151 58.3h9.2M97 62.8h9.2M155.5 62.8h4.8M92.5 67.3h4.8M101.5 67.3h4.8M97 71.8h4.8M160 71.8h9.2M385 71.8h4.8M97 76.3h4.8M380.5 76.3h9.2M394 76.3h4.8M173.5 80.8h4.8M380.5 80.8h4.8M389.5 80.8h4.8M425.5 80.8h4.8M439 80.8h4.8M448 80.8h4.8M92.5 85.3h4.8M173.5 85.3h9.2M385 85.3h18.2M412 85.3h9.2M425.5 85.3h18.2M182.5 89.8h9.2M389.5 89.8h9.2M407.5 89.8h9.2M434.5 89.8h9.2M83.5 94.3h9.2M182.5 94.3h9.2M398.5 94.3h9.2M425.5 94.3h13.8M196 98.8h4.8M416.5 98.8h4.8M520 98.8h4.8M191.5 103.3h4.8M389.5 103.3h4.8M412 103.3h4.8M484 103.3h4.8M502 103.3h4.8M520 103.3h4.8M538 103.3h4.8M547 103.3h4.8M200.5 107.8h4.8M407.5 107.8h4.8M92.5 112.3h9.2M479.5 112.3h4.8M547 112.3h4.8M97 116.8h9.2M191.5 116.8h4.8M349 116.8h4.8M376 116.8h4.8M385 116.8h4.8M394 116.8h4.8M650.5 116.8h4.8M191.5 121.3h9.2M650.5 121.3h4.8M106 125.8h4.8M191.5 125.8h4.8M344.5 125.8h9.2M457 130.3h4.8M110.5 134.8h4.8M191.5 134.8h4.8M380.5 134.8h4.8M191.5 139.3h4.8M335.5 139.3h9.2M110.5 143.8h4.8M119.5 143.8h4.8M331 143.8h4.8M497.5 143.8h4.8M628 143.8h4.8M119.5 148.3h4.8M196 148.3h4.8M335.5 148.3h4.8M488.5 148.3h4.8M497.5 148.3h4.8M623.5 148.3h4.8M119.5 152.8h13.8M196 152.8h9.2M488.5 152.8h4.8M128.5 157.3h9.2M142 157.3h4.8M151 157.3h4.8M205 157.3h4.8M457 157.3h9.2M133 161.8h22.8M160 161.8h4.8M205 161.8h4.8M461.5 161.8h4.8M155.5 166.3h18.2M169 170.8h4.8M209.5 170.8h4.8M160 175.3h4.8M173.5 175.3h4.8M214 175.3h4.8M502 175.3h4.8M164.5 179.8h4.8M209.5 179.8h13.8M493 179.8h4.8M506.5 179.8h4.8M214 184.3h9.2M493 184.3h4.8M506.5 184.3h4.8M182.5 188.8h4.8M218.5 188.8h9.2M380.5 188.8h4.8M497.5 188.8h9.2M682 188.8h4.8M178 193.3h9.2M218.5 193.3h4.8M178 197.8h13.8M223 197.8h4.8M223 202.3h4.8M623.5 202.3h4.8M655 202.3h4.8M191.5 206.8h9.2M223 206.8h9.2M187 211.3h13.8M232 211.3h4.8M632.5 211.3h4.8M187 215.8h13.8M227.5 215.8h4.8M628 215.8h9.2M641.5 215.8h9.2M182.5 220.3h4.8M232 220.3h9.2M290.5 220.3h4.8M191.5 224.8h4.8M236.5 224.8h4.8M290.5 224.8h4.8M182.5 229.3h4.8M191.5 229.3h9.2M232 229.3h9.2M331 229.3h4.8M182.5 233.8h4.8M191.5 233.8h9.2M236.5 233.8h9.2M331 233.8h9.2M187 238.3h4.8M241 238.3h9.2M187 242.8h4.8M236.5 242.8h4.8M191.5 247.3h4.8M191.5 256.3h9.2M196 260.8h9.2M245.5 260.8h4.8M200.5 265.3h4.8M245.5 265.3h4.8M254.5 265.3h4.8M245.5 269.8h4.8M245.5 274.3h13.8M209.5 278.8h4.8M250 278.8h4.8M470.5 278.8h4.8M506.5 278.8h4.8M214 283.3h4.8M250 283.3h9.2M214 287.8h4.8M254.5 287.8h4.8M214 292.3h9.2M250 292.3h4.8M254.5 296.8h4.8M254.5 301.3h9.2M223 305.8h13.8M254.5 305.8h9.2M227.5 310.3h4.8M241 310.3h18.2M245.5 314.8h4.8"/>
<path stroke="#B4CEFF" d="M466 17.8h4.8M475 17.8h4.8M574 17.8h4.8M583 17.8h4.8M560.5 22.3h4.8M574 22.3h4.8M583 22.3h4.8M574 26.8h9.2M560.5 31.3h4.8M574 31.3h4.8M92.5 35.8h4.8M101.5 35.8h4.8M565 35.8h4.8M592 35.8h4.8M601 35.8h4.8M97 40.3h4.8M110.5 40.3h4.8M124 40.3h4.8M97 44.8h4.8M119.5 44.8h4.8M128.5 44.8h4.8M97 49.3h9.2M133 49.3h9.2M137.5 53.8h4.8M101.5 58.3h9.2M137.5 58.3h13.8M106 62.8h4.8M151 62.8h4.8M151 67.3h9.2M101.5 71.8h4.8M155.5 71.8h4.8M380.5 71.8h4.8M389.5 71.8h4.8M101.5 76.3h4.8M160 76.3h9.2M389.5 76.3h4.8M97 80.8h9.2M164.5 80.8h9.2M443.5 80.8h4.8M97 85.3h9.2M164.5 85.3h9.2M421 85.3h4.8M443.5 85.3h4.8M88 89.8h9.2M173.5 89.8h9.2M398.5 89.8h4.8M425.5 89.8h9.2M92.5 94.3h4.8M394 94.3h4.8M421 94.3h4.8M88 98.8h4.8M178 98.8h13.8M394 98.8h4.8M412 98.8h4.8M88 103.3h4.8M182.5 103.3h9.2M497.5 103.3h4.8M515.5 103.3h4.8M92.5 107.8h4.8M191.5 107.8h4.8M389.5 107.8h4.8M479.5 107.8h9.2M538 107.8h4.8M101.5 112.3h4.8M187 112.3h9.2M349 112.3h9.2M380.5 112.3h13.8M398.5 112.3h4.8M650.5 112.3h4.8M344.5 116.8h4.8M380.5 116.8h4.8M101.5 121.3h4.8M344.5 121.3h4.8M376 121.3h4.8M425.5 121.3h4.8M506.5 121.3h4.8M110.5 125.8h4.8M187 125.8h4.8M673 125.8h4.8M106 130.3h9.2M182.5 130.3h9.2M452.5 130.3h4.8M115 134.8h9.2M182.5 134.8h9.2M196 134.8h4.8M596.5 134.8h4.8M119.5 139.3h9.2M182.5 139.3h9.2M331 139.3h4.8M124 143.8h4.8M191.5 143.8h4.8M335.5 143.8h4.8M623.5 143.8h4.8M124 148.3h13.8M191.5 148.3h4.8M133 152.8h4.8M142 152.8h18.2M191.5 152.8h4.8M493 152.8h4.8M137.5 157.3h4.8M196 157.3h9.2M466 157.3h4.8M169 161.8h4.8M200.5 161.8h4.8M457 161.8h4.8M196 166.3h4.8M205 166.3h4.8M178 170.8h4.8M205 170.8h4.8M200.5 175.3h4.8M506.5 175.3h4.8M205 179.8h4.8M182.5 184.3h4.8M209.5 184.3h4.8M214 188.8h4.8M376 188.8h4.8M214 193.3h4.8M677.5 193.3h4.8M214 197.8h9.2M218.5 202.3h4.8M218.5 206.8h4.8M200.5 211.3h4.8M218.5 211.3h4.8M227.5 211.3h4.8M200.5 220.3h4.8M205 224.8h4.8M232 224.8h4.8M286 224.8h4.8M200.5 229.3h9.2M290.5 229.3h4.8M200.5 233.8h4.8M232 233.8h4.8M196 238.3h4.8M232 238.3h9.2M241 242.8h4.8M196 247.3h4.8M236.5 247.3h9.2M578.5 247.3h4.8M241 251.8h4.8M200.5 256.3h4.8M241 256.3h4.8M205 260.8h4.8M520 260.8h4.8M205 265.3h9.2M205 269.8h9.2M209.5 274.3h9.2M241 274.3h4.8M214 278.8h4.8M245.5 278.8h4.8M484 278.8h4.8M218.5 283.3h4.8M245.5 283.3h4.8M218.5 287.8h9.2M245.5 287.8h4.8M245.5 292.3h4.8M227.5 296.8h4.8M236.5 296.8h4.8M245.5 296.8h9.2M245.5 301.3h9.2M236.5 305.8h4.8M245.5 305.8h4.8M236.5 310.3h4.8M236.5 314.8h4.8"/>
<path stroke="#9AC4FF" d="M592 26.8h9.2M587.5 31.3h13.8M97 35.8h4.8M106 40.3h4.8M101.5 44.8h4.8M115 44.8h4.8M124 44.8h4.8M106 49.3h9.2M124 49.3h4.8M115 53.8h4.8M124 53.8h4.8M110.5 58.3h4.8M128.5 58.3h9.2M110.5 62.8h13.8M137.5 62.8h13.8M106 67.3h9.2M146.5 67.3h4.8M106 71.8h9.2M128.5 71.8h4.8M146.5 71.8h9.2M110.5 76.3h4.8M155.5 76.3h4.8M110.5 80.8h4.8M119.5 80.8h4.8M137.5 80.8h4.8M146.5 80.8h9.2M106 85.3h4.8M151 85.3h4.8M160 85.3h4.8M97 89.8h13.8M124 89.8h4.8M97 94.3h4.8M110.5 94.3h4.8M133 94.3h4.8M164.5 94.3h18.2M407.5 94.3h4.8M92.5 98.8h18.2M160 98.8h18.2M403 98.8h9.2M97 103.3h4.8M110.5 103.3h4.8M133 103.3h4.8M146.5 103.3h4.8M160 103.3h4.8M178 103.3h4.8M407.5 103.3h4.8M542.5 103.3h4.8M101.5 107.8h4.8M128.5 107.8h4.8M182.5 107.8h9.2M542.5 107.8h9.2M106 112.3h4.8M119.5 112.3h4.8M146.5 112.3h4.8M164.5 112.3h4.8M182.5 112.3h4.8M542.5 112.3h4.8M106 116.8h4.8M115 116.8h4.8M133 116.8h4.8M142 116.8h4.8M106 121.3h13.8M146.5 121.3h4.8M182.5 121.3h9.2M115 125.8h9.2M137.5 125.8h4.8M146.5 125.8h9.2M164.5 125.8h4.8M178 125.8h9.2M115 130.3h4.8M124 130.3h4.8M178 130.3h4.8M124 134.8h4.8M155.5 134.8h4.8M164.5 134.8h9.2M178 134.8h4.8M146.5 139.3h4.8M160 139.3h22.8M128.5 143.8h4.8M187 143.8h4.8M137.5 148.3h9.2M155.5 148.3h4.8M173.5 148.3h18.2M137.5 152.8h4.8M160 152.8h9.2M173.5 152.8h4.8M182.5 152.8h9.2M164.5 157.3h9.2M191.5 157.3h4.8M178 161.8h4.8M191.5 161.8h4.8M173.5 166.3h4.8M191.5 166.3h4.8M173.5 170.8h4.8M182.5 170.8h4.8M191.5 170.8h4.8M200.5 170.8h4.8M178 175.3h4.8M182.5 179.8h4.8M200.5 179.8h4.8M497.5 179.8h9.2M187 184.3h4.8M200.5 184.3h4.8M497.5 184.3h9.2M187 188.8h9.2M200.5 188.8h9.2M191.5 193.3h4.8M209.5 193.3h4.8M191.5 197.8h4.8M209.5 197.8h4.8M196 202.3h4.8M205 202.3h13.8M200.5 206.8h4.8M214 206.8h4.8M205 211.3h4.8M214 211.3h4.8M200.5 215.8h4.8M214 215.8h4.8M223 215.8h4.8M223 220.3h4.8M218.5 224.8h13.8M223 229.3h9.2M209.5 233.8h22.8M227.5 238.3h4.8M191.5 242.8h9.2M232 242.8h4.8M232 247.3h4.8M200.5 251.8h4.8M214 251.8h4.8M205 256.3h4.8M218.5 256.3h9.2M236.5 256.3h4.8M209.5 260.8h9.2M232 260.8h4.8M241 260.8h4.8M214 265.3h4.8M232 265.3h4.8M241 265.3h4.8M214 269.8h9.2M236.5 269.8h9.2M218.5 278.8h9.2M236.5 278.8h9.2M223 283.3h4.8M241 283.3h4.8M227.5 287.8h4.8M241 287.8h4.8M227.5 292.3h9.2M232 296.8h4.8M241 296.8h4.8M232 301.3h13.8M241 305.8h4.8"/>
<path stroke="#7CB8FF" d="M106 44.8h9.2M115 49.3h9.2M110.5 53.8h4.8M128.5 53.8h4.8M115 58.3h4.8M124 58.3h4.8M124 62.8h13.8M115 67.3h9.2M128.5 67.3h4.8M137.5 67.3h4.8M115 71.8h4.8M124 71.8h4.8M133 71.8h13.8M119.5 76.3h4.8M133 76.3h9.2M146.5 76.3h4.8M115 80.8h4.8M124 80.8h9.2M142 80.8h4.8M155.5 80.8h4.8M110.5 85.3h4.8M119.5 85.3h13.8M142 85.3h9.2M155.5 85.3h4.8M110.5 89.8h13.8M128.5 89.8h4.8M142 89.8h4.8M151 89.8h9.2M164.5 89.8h4.8M421 89.8h4.8M101.5 94.3h9.2M151 94.3h9.2M110.5 98.8h13.8M133 98.8h18.2M155.5 98.8h4.8M101.5 103.3h4.8M115 103.3h18.2M142 103.3h4.8M151 103.3h9.2M169 103.3h9.2M106 107.8h18.2M142 107.8h9.2M155.5 107.8h9.2M169 107.8h4.8M178 107.8h4.8M115 112.3h4.8M124 112.3h4.8M137.5 112.3h9.2M155.5 112.3h9.2M169 112.3h9.2M110.5 116.8h4.8M124 116.8h9.2M137.5 116.8h4.8M146.5 116.8h4.8M155.5 116.8h31.8M119.5 121.3h9.2M137.5 121.3h9.2M151 121.3h9.2M164.5 121.3h18.2M124 125.8h4.8M155.5 125.8h9.2M169 125.8h9.2M128.5 130.3h40.8M173.5 130.3h4.8M128.5 134.8h4.8M137.5 134.8h13.8M173.5 134.8h4.8M137.5 139.3h4.8M155.5 139.3h4.8M137.5 143.8h9.2M151 143.8h13.8M173.5 143.8h13.8M146.5 148.3h9.2M160 148.3h9.2M178 152.8h4.8M173.5 157.3h9.2M187 157.3h4.8M173.5 161.8h4.8M182.5 161.8h4.8M182.5 166.3h9.2M187 170.8h4.8M187 175.3h9.2M187 179.8h4.8M191.5 184.3h9.2M196 188.8h4.8M196 193.3h4.8M205 193.3h4.8M196 197.8h13.8M209.5 206.8h4.8M205 215.8h4.8M218.5 215.8h4.8M214 220.3h4.8M209.5 229.3h9.2M205 233.8h4.8M205 238.3h13.8M223 238.3h4.8M200.5 242.8h18.2M223 242.8h9.2M200.5 247.3h9.2M218.5 247.3h9.2M205 251.8h9.2M223 251.8h13.8M209.5 256.3h9.2M227.5 256.3h4.8M227.5 260.8h4.8M236.5 260.8h4.8M218.5 265.3h4.8M227.5 265.3h4.8M236.5 265.3h4.8M223 269.8h13.8M223 274.3h18.2M227.5 278.8h4.8M236.5 292.3h4.8"/>
<path stroke="#5CA8FF" d="M119.5 53.8h4.8M133 67.3h4.8M119.5 71.8h4.8M115 76.3h4.8M128.5 76.3h4.8M151 76.3h4.8M133 80.8h4.8M133 85.3h9.2M133 89.8h9.2M160 89.8h4.8M115 94.3h9.2M128.5 94.3h4.8M142 94.3h9.2M124 98.8h9.2M106 103.3h4.8M137.5 103.3h4.8M164.5 103.3h4.8M133 107.8h9.2M151 107.8h4.8M164.5 107.8h4.8M110.5 112.3h4.8M133 112.3h4.8M151 112.3h4.8M151 116.8h4.8M133 121.3h4.8M160 121.3h4.8M133 125.8h4.8M142 125.8h4.8M119.5 130.3h4.8M169 130.3h4.8M128.5 139.3h9.2M146.5 143.8h4.8M164.5 143.8h9.2M169 148.3h4.8M169 152.8h4.8M182.5 157.3h4.8M178 166.3h4.8M191.5 179.8h9.2M200.5 193.3h4.8M200.5 202.3h4.8M205 206.8h4.8M209.5 211.3h4.8M209.5 215.8h4.8M218.5 220.3h4.8M209.5 224.8h9.2M218.5 229.3h4.8M200.5 238.3h4.8M218.5 242.8h4.8M218.5 251.8h4.8M232 256.3h4.8M218.5 260.8h9.2M223 265.3h4.8M232 283.3h9.2"/>
<path stroke="#4A90FA" d="M124 67.3h4.8M106 76.3h4.8M160 80.8h4.8M124 94.3h4.8M160 94.3h4.8M178 112.3h4.8M151 134.8h4.8M160 134.8h4.8M142 139.3h4.8M209.5 220.3h4.8M209.5 247.3h4.8M227.5 283.3h4.8M236.5 287.8h4.8"/>
<path stroke="#1414E0" d="M416.5 89.8h4.8M416.5 94.3h4.8M398.5 98.8h4.8M394 107.8h4.8"/>
<path stroke="#3050F8" d="M412 94.3h4.8M403 103.3h4.8"/>
<path stroke="#FF1800" d="M394 103.3h9.2"/>
<path stroke="#FFF000" d="M398.5 107.8h4.8"/>
</g></g>
</g>
<path d="M15.4 41.3V548.7 M94.2 41.3V548.7 M173.0 41.3V548.7 M251.8 41.3V548.7 M330.6 41.3V548.7 M409.4 41.3V548.7" class="gr" stroke-dashoffset="0"/>
<path d="M13.0 54.3H486.0 M13.0 138.9H486.0 M13.0 223.6H486.0 M13.0 308.2H486.0 M13.0 392.9H486.0 M13.0 477.5H486.0" class="gr"/>
<g clip-path="url(#cp)">
<path d="M13.2 121.1 L14.3 119.3 L16.9 119.3 L19.8 120.7 L22.0 124.4 L23.1 128.1 L25.0 129.9 L26.4 131.0 L27.9 128.1 L28.3 122.9 L29.0 119.6 L32.3 118.9 L35.2 117.4 L35.6 115.6 L34.5 113.4 L36.7 114.5 L40.4 115.2 L44.0 114.1 L46.6 111.9 L47.3 108.3 L47.7 103.9 L48.8 100.2 L50.6 96.5 L52.5 92.5 L52.9 89.9 L51.8 86.2 L50.6 81.8 L49.9 78.9 L47.7 76.0 L45.9 74.1 L44.4 73.4 L47.0 71.9 L49.2 73.4 L51.4 74.1 L53.2 73.0 L53.6 70.1 L55.8 67.9 L58.7 66.1 L60.9 63.5 L61.3 59.8 L63.1 54.7 L65.3 53.2 L66.4 54.7 L64.6 58.4 L64.6 64.2 L66.4 66.8 L68.3 65.0 L70.5 65.3 L72.3 69.4 L76.0 69.7 L77.1 73.0 L77.4 77.4 L77.1 81.8 L80.0 83.7 L80.7 87.0 L83.3 86.6 L85.9 88.8 L88.5 91.4 L88.8 94.3 L91.4 98.0 L91.8 102.4 L92.5 106.8 L94.0 110.5 L95.4 112.7 L95.8 116.3 L97.6 122.2 L99.1 128.1 L99.8 134.0 L100.2 139.1 L100.6 144.2 L100.9 148.6 L102.4 150.8 L101.7 155.2 L102.0 160.4 L102.8 165.9 L105.0 173.2 L107.9 180.6 L111.6 185.7 L113.6 190.1 L114.1 194.5 L113.0 201.1 L110.8 207.0 L108.6 211.4 L107.2 216.5 L104.2 220.9 L101.7 222.8 L98.4 220.9 L94.7 216.5 L92.9 211.4 L91.0 207.0 L89.9 203.3 L90.7 199.6 L86.6 199.6 L82.2 200.7 L80.0 203.3 L80.4 207.7 L81.5 212.1 L82.6 216.5 L83.3 220.2 L82.2 223.9 L82.9 227.5 L85.2 229.4 L87.7 230.8 L88.5 233.4 L87.4 237.1 L89.2 241.5 L88.5 245.9 L86.3 249.6 L84.4 252.5 L84.8 256.2 L87.4 258.4 L85.9 259.8 L82.2 260.6 L78.2 262.0 L76.3 266.4 L74.1 272.3 L72.3 276.7 L71.6 280.4 L71.2 280.0 L72.7 283.7 L74.5 288.8 L75.2 294.7 L74.1 299.1 L72.7 304.2 L71.6 309.4 L71.6 314.5 L70.1 320.4 L69.0 325.5 L66.1 332.9 L63.5 340.2 L60.9 347.5 L57.3 354.1 L55.4 360.7 L52.9 368.1 L49.9 375.4 L48.1 382.8 L47.0 389.4 L45.5 390.8 L45.9 394.5 L44.0 399.7 L43.7 400.0 L40.4 406.6 L38.2 414.7 L36.0 423.5 L34.1 430.1 L32.3 434.5 L31.9 438.9 L30.1 447.0 L27.2 457.3 L24.2 466.1 L22.0 471.2 L19.5 476.3 L17.6 481.5 L15.4 488.8 L12.8 496.9 M13.6 135.4 L16.5 137.6 L13.2 139.8 L16.9 142.0 L13.6 144.2 L17.3 146.1 L13.2 147.9 L16.5 149.4 L14.7 151.6 M12.8 163.3 L15.0 165.1 L13.9 167.3 L15.8 169.2" class="co" stroke-width="1.00"/>
<path d="M13.0 144.8 L32.3 158.2 L51.4 171.7 L110.3 211.6 L149.9 238.0 L227.9 289.1 L287.7 326.4 L308.1 339.1 L449.2 423.2 L469.6 434.9 L486.0 444.4" class="da" stroke-dasharray="12.00 11.53"/>
<path d="M13.2 258.0 L32.3 271.2 L52.1 284.0 L110.3 323.9 L149.9 349.6 L189.6 375.0 L229.2 400.2 L268.8 425.5 L309.5 449.6 L369.7 485.9 L409.9 509.5 L430.7 521.9 L471.8 544.2 L480.0 548.7" class="da" stroke-dasharray="11.99 11.52"/>

</g>
<g transform="translate(0 0.9)">
<text class="ax" x="15.4" y="286.6" text-anchor="middle">48</text>
<text class="ax" x="94.2" y="286.6" text-anchor="middle">50</text>
<text class="ax" x="173.0" y="286.6" text-anchor="middle">52</text>
<text class="ax" x="251.8" y="286.6" text-anchor="middle">54</text>
<text class="ax" x="330.6" y="286.6" text-anchor="middle">56</text>
<text class="ax" x="409.4" y="286.6" text-anchor="middle">58</text>
<text class="ax" x="240.6" y="54.0" text-anchor="end">-12</text>
<text class="ax" x="240.6" y="138.6" text-anchor="end">-14</text>
<text class="ax" x="240.6" y="223.3" text-anchor="end">-16</text>
<text class="ax" x="240.6" y="307.9" text-anchor="end">-18</text>
<text class="ax" x="240.6" y="392.6" text-anchor="end">-20</text>
<text class="ax" x="240.6" y="477.2" text-anchor="end">-22</text>
<text class="ti" x="44.0" y="65.9">37GHz PCT (K)</text>
<text class="pl" x="456.4" y="522.6" text-anchor="middle">(e)</text>
</g>
<path d="M243.1 294.9h12.6M249.4 288.6v12.6" stroke="#000" stroke-width="4.4"/>
<rect x="495.0" y="531.72" width="9.0" height="8.57" fill="#F7F7F7"/>
<rect x="495.0" y="523.25" width="9.0" height="8.57" fill="#EFEFEF"/>
<rect x="495.0" y="514.78" width="9.0" height="8.57" fill="#E7E7E7"/>
<rect x="495.0" y="506.32" width="9.0" height="8.57" fill="#DFDFDF"/>
<rect x="495.0" y="497.85" width="9.0" height="8.57" fill="#D7D7D7"/>
<rect x="495.0" y="489.38" width="9.0" height="8.57" fill="#CFCFCF"/>
<rect x="495.0" y="480.92" width="9.0" height="8.57" fill="#C6C6C6"/>
<rect x="495.0" y="472.45" width="9.0" height="8.57" fill="#BEBEBE"/>
<rect x="495.0" y="463.98" width="9.0" height="8.57" fill="#B6B6B6"/>
<rect x="495.0" y="455.52" width="9.0" height="8.57" fill="#AEAEAE"/>
<rect x="495.0" y="447.05" width="9.0" height="8.57" fill="#A6A6A6"/>
<rect x="495.0" y="438.58" width="9.0" height="8.57" fill="#9E9E9E"/>
<rect x="495.0" y="430.12" width="9.0" height="8.57" fill="#969696"/>
<rect x="495.0" y="421.65" width="9.0" height="8.57" fill="#8E8E8E"/>
<rect x="495.0" y="413.18" width="9.0" height="8.57" fill="#7EE07E"/>
<rect x="495.0" y="404.72" width="9.0" height="8.57" fill="#78D678"/>
<rect x="495.0" y="396.25" width="9.0" height="8.57" fill="#71CB71"/>
<rect x="495.0" y="387.78" width="9.0" height="8.57" fill="#6AC06A"/>
<rect x="495.0" y="379.32" width="9.0" height="8.57" fill="#64B664"/>
<rect x="495.0" y="370.85" width="9.0" height="8.57" fill="#C8D0FF"/>
<rect x="495.0" y="362.38" width="9.0" height="8.57" fill="#B5CAFF"/>
<rect x="495.0" y="353.92" width="9.0" height="8.57" fill="#A2C3FF"/>
<rect x="495.0" y="345.45" width="9.0" height="8.57" fill="#8FBDFF"/>
<rect x="495.0" y="336.98" width="9.0" height="8.57" fill="#7BB6FF"/>
<rect x="495.0" y="328.52" width="9.0" height="8.57" fill="#64AFFF"/>
<rect x="495.0" y="320.05" width="9.0" height="8.57" fill="#4FA4FF"/>
<rect x="495.0" y="311.58" width="9.0" height="8.57" fill="#4686FF"/>
<rect x="495.0" y="303.12" width="9.0" height="8.57" fill="#3D65FF"/>
<rect x="495.0" y="294.65" width="9.0" height="8.57" fill="#3542FF"/>
<rect x="495.0" y="286.18" width="9.0" height="8.57" fill="#1818FF"/>
<rect x="495.0" y="277.72" width="9.0" height="8.57" fill="#0000F6"/>
<rect x="495.0" y="269.25" width="9.0" height="8.57" fill="#0000E3"/>
<rect x="495.0" y="260.78" width="9.0" height="8.57" fill="#0000D1"/>
<rect x="495.0" y="252.32" width="9.0" height="8.57" fill="#0000BE"/>
<rect x="495.0" y="243.85" width="9.0" height="8.57" fill="#FFFF00"/>
<rect x="495.0" y="235.38" width="9.0" height="8.57" fill="#FFF200"/>
<rect x="495.0" y="226.92" width="9.0" height="8.57" fill="#FFE600"/>
<rect x="495.0" y="218.45" width="9.0" height="8.57" fill="#FFD900"/>
<rect x="495.0" y="209.98" width="9.0" height="8.57" fill="#FFCC00"/>
<rect x="495.0" y="201.52" width="9.0" height="8.57" fill="#FF9200"/>
<rect x="495.0" y="193.05" width="9.0" height="8.57" fill="#FF8A00"/>
<rect x="495.0" y="184.58" width="9.0" height="8.57" fill="#FF8100"/>
<rect x="495.0" y="176.12" width="9.0" height="8.57" fill="#FF7800"/>
<rect x="495.0" y="167.65" width="9.0" height="8.57" fill="#FF7000"/>
<rect x="495.0" y="159.18" width="9.0" height="8.57" fill="#FF4500"/>
<rect x="495.0" y="150.72" width="9.0" height="8.57" fill="#FF3A00"/>
<rect x="495.0" y="142.25" width="9.0" height="8.57" fill="#FF3000"/>
<rect x="495.0" y="133.78" width="9.0" height="8.57" fill="#FF2500"/>
<rect x="495.0" y="125.32" width="9.0" height="8.57" fill="#FF1A00"/>
<rect x="495.0" y="116.85" width="9.0" height="8.57" fill="#CC0000"/>
<rect x="495.0" y="108.38" width="9.0" height="8.57" fill="#C10400"/>
<rect x="495.0" y="99.92" width="9.0" height="8.57" fill="#B60700"/>
<rect x="495.0" y="91.45" width="9.0" height="8.57" fill="#AB0A00"/>
<rect x="495.0" y="82.98" width="9.0" height="8.57" fill="#A00E00"/>
<rect x="495.0" y="74.52" width="9.0" height="8.57" fill="#680E06"/>
<rect x="495.0" y="66.05" width="9.0" height="8.57" fill="#65110A"/>
<rect x="495.0" y="57.58" width="9.0" height="8.57" fill="#62140F"/>
<rect x="495.0" y="49.12" width="9.0" height="8.57" fill="#5F1714"/>
<rect x="495.0" y="40.65" width="9.0" height="8.57" fill="#5C1A18"/>
<path d="M504.0 548.7h2.2" stroke="#000" stroke-width="0.7"/>
<text class="tk" x="524.1" y="557.8" text-anchor="middle">315</text>
<path d="M504.0 497.9h2.2" stroke="#000" stroke-width="0.7"/>
<text class="tk" x="524.1" y="507.0" text-anchor="middle">306</text>
<path d="M504.0 447.1h2.2" stroke="#000" stroke-width="0.7"/>
<text class="tk" x="524.1" y="456.2" text-anchor="middle">297</text>
<path d="M504.0 396.3h2.2" stroke="#000" stroke-width="0.7"/>
<text class="tk" x="524.1" y="405.4" text-anchor="middle">288</text>
<path d="M504.0 345.5h2.2" stroke="#000" stroke-width="0.7"/>
<text class="tk" x="524.1" y="354.6" text-anchor="middle">279</text>
<path d="M504.0 294.7h2.2" stroke="#000" stroke-width="0.7"/>
<text class="tk" x="524.1" y="303.8" text-anchor="middle">270</text>
<path d="M504.0 243.9h2.2" stroke="#000" stroke-width="0.7"/>
<text class="tk" x="524.1" y="253.0" text-anchor="middle">261</text>
<path d="M504.0 193.1h2.2" stroke="#000" stroke-width="0.7"/>
<text class="tk" x="524.1" y="202.2" text-anchor="middle">252</text>
<path d="M504.0 142.3h2.2" stroke="#000" stroke-width="0.7"/>
<text class="tk" x="524.1" y="151.4" text-anchor="middle">243</text>
<path d="M504.0 91.5h2.2" stroke="#000" stroke-width="0.7"/>
<text class="tk" x="524.1" y="100.6" text-anchor="middle">234</text>
</g>
<g transform="translate(1181.05 590.30)">
<g clip-path="url(#cp)">

</g>
<path d="M15.4 41.3V548.7 M94.2 41.3V548.7 M173.0 41.3V548.7 M251.8 41.3V548.7 M330.6 41.3V548.7 M409.4 41.3V548.7" class="gr" stroke-dashoffset="0"/>
<path d="M13.0 54.3H486.0 M13.0 138.9H486.0 M13.0 223.6H486.0 M13.0 308.2H486.0 M13.0 392.9H486.0 M13.0 477.5H486.0" class="gr"/>
<g clip-path="url(#cp)">
<path d="M13.2 121.1 L14.3 119.3 L16.9 119.3 L19.8 120.7 L22.0 124.4 L23.1 128.1 L25.0 129.9 L26.4 131.0 L27.9 128.1 L28.3 122.9 L29.0 119.6 L32.3 118.9 L35.2 117.4 L35.6 115.6 L34.5 113.4 L36.7 114.5 L40.4 115.2 L44.0 114.1 L46.6 111.9 L47.3 108.3 L47.7 103.9 L48.8 100.2 L50.6 96.5 L52.5 92.5 L52.9 89.9 L51.8 86.2 L50.6 81.8 L49.9 78.9 L47.7 76.0 L45.9 74.1 L44.4 73.4 L47.0 71.9 L49.2 73.4 L51.4 74.1 L53.2 73.0 L53.6 70.1 L55.8 67.9 L58.7 66.1 L60.9 63.5 L61.3 59.8 L63.1 54.7 L65.3 53.2 L66.4 54.7 L64.6 58.4 L64.6 64.2 L66.4 66.8 L68.3 65.0 L70.5 65.3 L72.3 69.4 L76.0 69.7 L77.1 73.0 L77.4 77.4 L77.1 81.8 L80.0 83.7 L80.7 87.0 L83.3 86.6 L85.9 88.8 L88.5 91.4 L88.8 94.3 L91.4 98.0 L91.8 102.4 L92.5 106.8 L94.0 110.5 L95.4 112.7 L95.8 116.3 L97.6 122.2 L99.1 128.1 L99.8 134.0 L100.2 139.1 L100.6 144.2 L100.9 148.6 L102.4 150.8 L101.7 155.2 L102.0 160.4 L102.8 165.9 L105.0 173.2 L107.9 180.6 L111.6 185.7 L113.6 190.1 L114.1 194.5 L113.0 201.1 L110.8 207.0 L108.6 211.4 L107.2 216.5 L104.2 220.9 L101.7 222.8 L98.4 220.9 L94.7 216.5 L92.9 211.4 L91.0 207.0 L89.9 203.3 L90.7 199.6 L86.6 199.6 L82.2 200.7 L80.0 203.3 L80.4 207.7 L81.5 212.1 L82.6 216.5 L83.3 220.2 L82.2 223.9 L82.9 227.5 L85.2 229.4 L87.7 230.8 L88.5 233.4 L87.4 237.1 L89.2 241.5 L88.5 245.9 L86.3 249.6 L84.4 252.5 L84.8 256.2 L87.4 258.4 L85.9 259.8 L82.2 260.6 L78.2 262.0 L76.3 266.4 L74.1 272.3 L72.3 276.7 L71.6 280.4 L71.2 280.0 L72.7 283.7 L74.5 288.8 L75.2 294.7 L74.1 299.1 L72.7 304.2 L71.6 309.4 L71.6 314.5 L70.1 320.4 L69.0 325.5 L66.1 332.9 L63.5 340.2 L60.9 347.5 L57.3 354.1 L55.4 360.7 L52.9 368.1 L49.9 375.4 L48.1 382.8 L47.0 389.4 L45.5 390.8 L45.9 394.5 L44.0 399.7 L43.7 400.0 L40.4 406.6 L38.2 414.7 L36.0 423.5 L34.1 430.1 L32.3 434.5 L31.9 438.9 L30.1 447.0 L27.2 457.3 L24.2 466.1 L22.0 471.2 L19.5 476.3 L17.6 481.5 L15.4 488.8 L12.8 496.9 M13.6 135.4 L16.5 137.6 L13.2 139.8 L16.9 142.0 L13.6 144.2 L17.3 146.1 L13.2 147.9 L16.5 149.4 L14.7 151.6 M12.8 163.3 L15.0 165.1 L13.9 167.3 L15.8 169.2" class="co" stroke-width="1.00"/>
<path d="M13.0 144.8 L32.3 158.2 L51.4 171.7 L110.3 211.6 L149.9 238.0 L227.9 289.1 L287.7 326.4 L308.1 339.1 L449.2 423.2 L469.6 434.9 L486.0 444.4" class="da" stroke-dasharray="12.00 11.53"/>
<path d="M13.2 258.0 L32.3 271.2 L52.1 284.0 L110.3 323.9 L149.9 349.6 L189.6 375.0 L229.2 400.2 L268.8 425.5 L309.5 449.6 L369.7 485.9 L409.9 509.5 L430.7 521.9 L471.8 544.2 L480.0 548.7" class="da" stroke-dasharray="11.99 11.52"/>
<path d="M223.2 276.1 L225.1 278.5 L226.1 279.3 L227.6 281.8 L228.8 283.3 L230.9 284.1 L232.1 286.1 L231.3 288.9 L230.3 289.6 L231.0 292.1 L229.4 294.0 L231.1 296.4 L232.3 296.8 L234.3 298.7 L236.3 300.6 L236.9 301.2 L239.1 303.8 L240.2 303.4 L243.5 303.3 L244.8 303.5 L247.7 302.6 L249.6 301.2 L250.7 299.9 L253.1 298.5 L255.7 299.5 L258.3 300.1 L260.6 300.2 L261.8 299.7 L263.4 298.4 L264.5 295.9 L265.0 295.2 L266.6 293.1 L266.3 290.6 L267.7 288.8 L268.1 286.1 L267.7 284.8 L268.0 282.7 L268.5 279.7 L268.1 278.8 L267.3 275.5 L266.6 274.0 L266.4 271.5 L265.0 269.7 L263.3 267.3 L262.3 265.8 L260.0 263.3 L258.7 262.3 L261.9 262.4 L264.4 261.1 L266.9 261.9 L267.8 262.3 L269.3 264.4 L270.5 265.7 L271.8 268.8 L273.2 270.4 L274.9 271.8 L277.2 273.4 L277.8 275.1 L280.0 276.7 L280.4 278.9 L280.0 281.7 L280.1 284.0 L280.3 285.5 L279.9 288.8 L281.4 291.1 L281.9 292.6 L281.7 295.1 L282.3 296.5 L282.9 298.5 L284.0 300.5 L285.4 302.6 L285.6 304.9 L287.1 307.0 L287.0 308.6 L289.1 310.1 L289.2 312.6 L290.5 313.7 L292.3 315.4 L292.5 316.9 L293.8 319.3 L294.9 321.1 L293.8 322.3 L293.8 324.6 L292.9 327.2 L290.2 325.1 L287.4 324.6 L285.3 323.6 L283.4 321.0 L282.5 320.1 L280.9 318.3 L278.4 316.2 L277.7 318.4 L276.4 321.7 L275.4 323.4 L272.3 324.0 L270.0 323.9 L268.0 325.0 L265.3 324.8 L262.6 324.8 L259.7 324.6 L257.8 323.2 L255.4 323.3 L252.9 322.4 L250.5 321.7 L249.1 319.7 L247.4 319.3 L243.9 317.4 L242.3 317.4 L239.6 314.9 L237.6 313.8 L235.5 313.4 L233.4 311.7 L230.6 311.6 L229.0 310.0 L226.8 309.2 L226.7 307.2 L225.7 304.3 L224.2 301.8 L224.4 299.5 L223.3 298.5 L222.2 295.6 L221.6 294.2 L221.2 291.8 L220.8 289.6 L221.8 287.0 L222.7 285.4 L223.2 283.3 L223.7 280.7 L223.6 279.1Z" fill="#80DC84" stroke="#86E68A" stroke-width="3.6" stroke-linejoin="round"/>
<path d="M223.2 276.1 L225.1 278.5 L226.1 279.3 L227.6 281.8 L228.8 283.3 L230.9 284.1 L232.1 286.1 L231.3 288.9 L230.3 289.6 L231.0 292.1 L229.4 294.0 L231.1 296.4 L232.3 296.8 L234.3 298.7 L236.3 300.6 L236.9 301.2 L239.1 303.8 L240.2 303.4 L243.5 303.3 L244.8 303.5 L247.7 302.6 L249.6 301.2 L250.7 299.9 L253.1 298.5 L255.7 299.5 L258.3 300.1 L260.6 300.2 L261.8 299.7 L263.4 298.4 L264.5 295.9 L265.0 295.2 L266.6 293.1 L266.3 290.6 L267.7 288.8 L268.1 286.1 L267.7 284.8 L268.0 282.7 L268.5 279.7 L268.1 278.8 L267.3 275.5 L266.6 274.0 L266.4 271.5 L265.0 269.7 L263.3 267.3 L262.3 265.8 L260.0 263.3 L258.7 262.3 L261.9 262.4 L264.4 261.1 L266.9 261.9 L267.8 262.3 L269.3 264.4 L270.5 265.7 L271.8 268.8 L273.2 270.4 L274.9 271.8 L277.2 273.4 L277.8 275.1 L280.0 276.7 L280.4 278.9 L280.0 281.7 L280.1 284.0 L280.3 285.5 L279.9 288.8 L281.4 291.1 L281.9 292.6 L281.7 295.1 L282.3 296.5 L282.9 298.5 L284.0 300.5 L285.4 302.6 L285.6 304.9 L287.1 307.0 L287.0 308.6 L289.1 310.1 L289.2 312.6 L290.5 313.7 L292.3 315.4 L292.5 316.9 L293.8 319.3 L294.9 321.1 L293.8 322.3 L293.8 324.6 L292.9 327.2 L290.2 325.1 L287.4 324.6 L285.3 323.6 L283.4 321.0 L282.5 320.1 L280.9 318.3 L278.4 316.2 L277.7 318.4 L276.4 321.7 L275.4 323.4 L272.3 324.0 L270.0 323.9 L268.0 325.0 L265.3 324.8 L262.6 324.8 L259.7 324.6 L257.8 323.2 L255.4 323.3 L252.9 322.4 L250.5 321.7 L249.1 319.7 L247.4 319.3 L243.9 317.4 L242.3 317.4 L239.6 314.9 L237.6 313.8 L235.5 313.4 L233.4 311.7 L230.6 311.6 L229.0 310.0 L226.8 309.2 L226.7 307.2 L225.7 304.3 L224.2 301.8 L224.4 299.5 L223.3 298.5 L222.2 295.6 L221.6 294.2 L221.2 291.8 L220.8 289.6 L221.8 287.0 L222.7 285.4 L223.2 283.3 L223.7 280.7 L223.6 279.1Z" fill="#80DC84" stroke="#000" stroke-width="1.60" stroke-linejoin="round"/>
<path d="M271.6 281.1 L279.0 281.1 L279.7 289.9 L272.4 289.1Z" fill="#C8D4FF"/>
<path d="M268.0 304.5 L275.3 304.5 L276.0 311.9 L268.7 311.9Z" fill="#C8D4FF"/>
<path d="M255.5 311.1 L264.3 311.9 L265.0 321.4 L256.2 322.2Z" fill="#70B4FF"/>
<path d="M253.3 316.3 L257.0 316.3 L257.7 322.9 L254.0 322.2Z" fill="#C8D4FF"/>
<path d="M265.0 319.2 L269.4 320.0 L268.7 323.6 L265.3 323.6Z" fill="#C8D4FF"/>
<path d="M273.8 298.7 L279.0 299.4 L278.2 306.0 L274.6 305.3Z" fill="#6ECC74"/>
<path d="M279.7 311.9 L285.6 313.4 L284.1 317.8 L280.4 316.3Z" fill="#6ECC74"/>
<path d="M258.4 294.3 L262.1 295.0 L265.3 302.8 L262.1 303.1Z" fill="#fff" stroke="#000" stroke-width="1.20" stroke-linejoin="round"/>
<path d="M262.3 313.4L272.7 313.4" stroke="#000" stroke-width="3.2"/>
<path d="M263.9 309.7L271.2 317.0" stroke="#000" stroke-width="3.2"/>
<path d="M267.5 308.2L267.5 318.6" stroke="#000" stroke-width="3.2"/>
<path d="M271.2 309.7L263.9 317.0" stroke="#000" stroke-width="3.2"/>
<text x="279.7" y="331.0" text-anchor="middle" style="font-size:17px">0</text>
<path d="M190.4 298.3 L191.5 301.2 L192.7 303.0 L193.1 304.8 L194.8 306.9 L195.8 309.4 L197.3 308.6 L200.0 309.0 L201.3 310.0 L203.6 311.7 L205.0 312.6 L205.3 314.2 L207.6 315.8 L206.1 317.7 L205.5 319.6 L205.4 321.8 L207.0 324.5 L208.5 326.2 L210.8 327.7 L212.3 329.8 L214.2 330.6 L215.9 332.1 L217.9 334.5 L217.0 335.8 L216.1 339.2 L215.1 341.5 L215.0 343.3 L216.0 345.8 L213.9 345.0 L212.1 343.4 L210.1 343.3 L210.2 341.1 L209.2 338.9 L208.9 336.2 L207.8 333.9 L206.2 332.0 L205.6 330.1 L204.5 328.8 L203.0 327.4 L201.8 324.9 L200.1 323.0 L197.4 323.2 L195.7 322.2 L193.4 320.5 L192.9 318.8 L191.6 315.3 L190.7 313.0 L189.8 310.4 L189.2 309.0 L187.6 306.3 L189.0 303.5 L190.4 301.0Z" fill="#80DC84" stroke="#86E68A" stroke-width="3.6" stroke-linejoin="round"/>
<path d="M190.4 298.3 L191.5 301.2 L192.7 303.0 L193.1 304.8 L194.8 306.9 L195.8 309.4 L197.3 308.6 L200.0 309.0 L201.3 310.0 L203.6 311.7 L205.0 312.6 L205.3 314.2 L207.6 315.8 L206.1 317.7 L205.5 319.6 L205.4 321.8 L207.0 324.5 L208.5 326.2 L210.8 327.7 L212.3 329.8 L214.2 330.6 L215.9 332.1 L217.9 334.5 L217.0 335.8 L216.1 339.2 L215.1 341.5 L215.0 343.3 L216.0 345.8 L213.9 345.0 L212.1 343.4 L210.1 343.3 L210.2 341.1 L209.2 338.9 L208.9 336.2 L207.8 333.9 L206.2 332.0 L205.6 330.1 L204.5 328.8 L203.0 327.4 L201.8 324.9 L200.1 323.0 L197.4 323.2 L195.7 322.2 L193.4 320.5 L192.9 318.8 L191.6 315.3 L190.7 313.0 L189.8 310.4 L189.2 309.0 L187.6 306.3 L189.0 303.5 L190.4 301.0Z" fill="#80DC84" stroke="#000" stroke-width="1.60" stroke-linejoin="round"/>
<path d="M221.0 326.7 L223.7 327.4 L226.0 328.8 L228.7 329.3 L229.9 331.1 L231.3 332.8 L232.8 333.9 L235.3 332.5 L237.0 330.8 L239.3 329.1 L241.6 330.7 L243.7 331.7 L246.3 332.5 L247.4 334.1 L248.2 336.9 L249.6 338.3 L251.4 340.7 L248.2 341.1 L245.7 341.8 L243.4 341.3 L241.4 340.4 L239.1 339.5 L236.8 339.3 L235.9 337.6 L233.9 335.8 L232.4 334.5 L230.4 333.2 L228.6 331.9 L227.0 330.9 L224.9 329.4 L223.0 328.3Z" fill="#80DC84" stroke="#86E68A" stroke-width="3.6" stroke-linejoin="round"/>
<path d="M221.0 326.7 L223.7 327.4 L226.0 328.8 L228.7 329.3 L229.9 331.1 L231.3 332.8 L232.8 333.9 L235.3 332.5 L237.0 330.8 L239.3 329.1 L241.6 330.7 L243.7 331.7 L246.3 332.5 L247.4 334.1 L248.2 336.9 L249.6 338.3 L251.4 340.7 L248.2 341.1 L245.7 341.8 L243.4 341.3 L241.4 340.4 L239.1 339.5 L236.8 339.3 L235.9 337.6 L233.9 335.8 L232.4 334.5 L230.4 333.2 L228.6 331.9 L227.0 330.9 L224.9 329.4 L223.0 328.3Z" fill="#80DC84" stroke="#000" stroke-width="1.50" stroke-linejoin="round"/>
<path d="M288.5 341.3 L291.6 341.8 L294.5 341.9 L293.1 344.5 L291.4 347.0 L288.9 346.6 L286.2 346.4 L287.5 343.9Z" fill="#80DC84" stroke="#86E68A" stroke-width="3.6" stroke-linejoin="round"/>
<path d="M288.5 341.3 L291.6 341.8 L294.5 341.9 L293.1 344.5 L291.4 347.0 L288.9 346.6 L286.2 346.4 L287.5 343.9Z" fill="#80DC84" stroke="#000" stroke-width="1.50" stroke-linejoin="round"/>
<path d="M200.5 363.4 L202.7 364.4 L204.8 365.4 L207.1 366.3 L205.7 367.8 L204.0 369.1 L203.0 367.2 L201.8 365.2Z" fill="#80DC84" stroke="#86E68A" stroke-width="3.6" stroke-linejoin="round"/>
<path d="M200.5 363.4 L202.7 364.4 L204.8 365.4 L207.1 366.3 L205.7 367.8 L204.0 369.1 L203.0 367.2 L201.8 365.2Z" fill="#80DC84" stroke="#000" stroke-width="1.50" stroke-linejoin="round"/>
<path d="M262.1 371.3 L275.3 378.7 L279.0 374.3" fill="none" stroke="#86E68A" stroke-width="3.2" stroke-linecap="round"/>
<path d="M262.1 371.3 L275.3 378.7 L279.0 374.3" fill="none" stroke="#000" stroke-width="1.5"/>
<path d="M323.6 369.7 L326.1 368.0 L327.8 366.3 L328.7 364.3 L330.8 362.8 L333.2 362.2 L335.6 361.7 L338.1 361.8 L339.7 361.1 L342.6 360.2 L341.3 363.3 L341.7 366.2 L338.8 367.2 L336.8 368.1 L337.3 369.7 L338.3 372.2 L338.7 374.0 L336.9 374.4 L334.4 375.5 L333.1 377.1 L331.1 375.6 L328.3 374.5 L326.9 373.3 L325.8 370.8Z" fill="#6ECC74" stroke="#86E68A" stroke-width="3.6" stroke-linejoin="round"/>
<path d="M323.6 369.7 L326.1 368.0 L327.8 366.3 L328.7 364.3 L330.8 362.8 L333.2 362.2 L335.6 361.7 L338.1 361.8 L339.7 361.1 L342.6 360.2 L341.3 363.3 L341.7 366.2 L338.8 367.2 L336.8 368.1 L337.3 369.7 L338.3 372.2 L338.7 374.0 L336.9 374.4 L334.4 375.5 L333.1 377.1 L331.1 375.6 L328.3 374.5 L326.9 373.3 L325.8 370.8Z" fill="#6ECC74" stroke="#000" stroke-width="1.50" stroke-linejoin="round"/>
<path d="M354.0 368.1 L356.5 369.8 L359.3 370.6 L359.6 372.5 L360.0 374.2 L360.6 376.6 L361.8 377.9 L363.6 379.4 L365.2 381.3 L366.6 382.0 L367.5 383.7 L369.2 385.5 L367.3 385.2 L365.0 385.0 L362.3 384.8 L360.2 384.5 L358.6 383.0 L357.9 380.9 L356.1 379.2 L354.5 377.7 L353.8 375.6 L352.7 372.6 L353.3 370.8Z" fill="#80DC84" stroke="#86E68A" stroke-width="3.6" stroke-linejoin="round"/>
<path d="M354.0 368.1 L356.5 369.8 L359.3 370.6 L359.6 372.5 L360.0 374.2 L360.6 376.6 L361.8 377.9 L363.6 379.4 L365.2 381.3 L366.6 382.0 L367.5 383.7 L369.2 385.5 L367.3 385.2 L365.0 385.0 L362.3 384.8 L360.2 384.5 L358.6 383.0 L357.9 380.9 L356.1 379.2 L354.5 377.7 L353.8 375.6 L352.7 372.6 L353.3 370.8Z" fill="#80DC84" stroke="#000" stroke-width="1.50" stroke-linejoin="round"/>
<path d="M282.8 397.0 L284.8 395.7 L286.7 395.0 L288.6 393.8 L289.9 391.7 L291.3 389.9 L293.6 391.5 L295.9 392.4 L295.0 394.6 L293.6 396.6 L292.5 398.4 L291.0 399.1 L289.4 399.6 L286.7 400.0 L283.9 401.6 L283.7 398.9Z" fill="#80DC84" stroke="#86E68A" stroke-width="3.6" stroke-linejoin="round"/>
<path d="M282.8 397.0 L284.8 395.7 L286.7 395.0 L288.6 393.8 L289.9 391.7 L291.3 389.9 L293.6 391.5 L295.9 392.4 L295.0 394.6 L293.6 396.6 L292.5 398.4 L291.0 399.1 L289.4 399.6 L286.7 400.0 L283.9 401.6 L283.7 398.9Z" fill="#80DC84" stroke="#000" stroke-width="1.50" stroke-linejoin="round"/>
<path d="M308.1 408.0 L309.9 406.1 L312.1 404.5 L314.8 403.9 L317.6 403.9 L319.9 404.1 L321.9 403.6 L324.4 404.1 L326.9 404.7 L329.2 404.7 L331.8 405.3 L333.8 405.7 L336.2 407.5 L338.8 408.5 L337.1 408.6 L334.9 408.4 L332.8 408.4 L330.7 408.7 L328.0 409.2 L325.7 410.0 L323.6 411.2 L320.6 411.9 L318.5 411.6 L316.2 412.4 L313.5 412.8 L311.4 410.6 L310.2 409.6Z" fill="#80DC84" stroke="#86E68A" stroke-width="3.6" stroke-linejoin="round"/>
<path d="M308.1 408.0 L309.9 406.1 L312.1 404.5 L314.8 403.9 L317.6 403.9 L319.9 404.1 L321.9 403.6 L324.4 404.1 L326.9 404.7 L329.2 404.7 L331.8 405.3 L333.8 405.7 L336.2 407.5 L338.8 408.5 L337.1 408.6 L334.9 408.4 L332.8 408.4 L330.7 408.7 L328.0 409.2 L325.7 410.0 L323.6 411.2 L320.6 411.9 L318.5 411.6 L316.2 412.4 L313.5 412.8 L311.4 410.6 L310.2 409.6Z" fill="#80DC84" stroke="#000" stroke-width="1.50" stroke-linejoin="round"/>
<path d="M229.8 420.7 L231.4 421.5 L233.7 422.8 L235.2 423.8 L237.3 424.9 L235.5 428.8 L234.1 427.2 L232.8 425.6 L231.5 424.1Z" fill="#80DC84" stroke="#86E68A" stroke-width="3.6" stroke-linejoin="round"/>
<path d="M229.8 420.7 L231.4 421.5 L233.7 422.8 L235.2 423.8 L237.3 424.9 L235.5 428.8 L234.1 427.2 L232.8 425.6 L231.5 424.1Z" fill="#80DC84" stroke="#000" stroke-width="1.40" stroke-linejoin="round"/>
<path d="M367.7 294.8 L370.0 294.3 L372.7 293.2 L375.2 292.0 L377.5 292.5 L379.7 292.9 L380.1 295.0 L380.1 297.0 L378.2 297.2 L376.0 297.6 L373.4 297.8 L371.2 298.0 L369.5 297.8Z" fill="#80DC84" stroke="#86E68A" stroke-width="3.6" stroke-linejoin="round"/>
<path d="M367.7 294.8 L370.0 294.3 L372.7 293.2 L375.2 292.0 L377.5 292.5 L379.7 292.9 L380.1 295.0 L380.1 297.0 L378.2 297.2 L376.0 297.6 L373.4 297.8 L371.2 298.0 L369.5 297.8Z" fill="#80DC84" stroke="#000" stroke-width="1.40" stroke-linejoin="round"/>
<path d="M379.6 281.5 L381.4 280.6 L383.6 279.9 L385.7 278.6 L387.6 279.3 L389.7 280.3 L387.7 281.6 L386.2 283.3 L383.4 283.7 L381.2 283.7Z" fill="#80DC84" stroke="#86E68A" stroke-width="3.6" stroke-linejoin="round"/>
<path d="M379.6 281.5 L381.4 280.6 L383.6 279.9 L385.7 278.6 L387.6 279.3 L389.7 280.3 L387.7 281.6 L386.2 283.3 L383.4 283.7 L381.2 283.7Z" fill="#80DC84" stroke="#000" stroke-width="1.40" stroke-linejoin="round"/>
<path d="M372.9 245.8 L375.9 244.4" fill="none" stroke="#86E68A" stroke-width="3.2" stroke-linecap="round"/>
<path d="M372.9 245.8 L375.9 244.4" fill="none" stroke="#000" stroke-width="1.5"/>
<path d="M375.9 271.5 L377.8 275.5" fill="none" stroke="#86E68A" stroke-width="3.2" stroke-linecap="round"/>
<path d="M375.9 271.5 L377.8 275.5" fill="none" stroke="#000" stroke-width="1.5"/>
<path d="M364.1 267.5 L366.3 269.0" fill="none" stroke="#86E68A" stroke-width="3.2" stroke-linecap="round"/>
<rect x="241.5" y="355.9" width="3" height="3" fill="#000" stroke="#86E68A" stroke-width="1.2" transform="rotate(30 243.0 357.4)"/>
<rect x="298.8" y="373.5" width="3" height="3" fill="#000" stroke="#86E68A" stroke-width="1.2" transform="rotate(30 300.3 375.0)"/>
<rect x="311.2" y="369.1" width="3" height="3" fill="#000" stroke="#86E68A" stroke-width="1.2" transform="rotate(30 312.7 370.6)"/>
<path d="M190.2 425.2 L193.4 426.7" fill="none" stroke="#86E68A" stroke-width="3.2" stroke-linecap="round"/>
<path d="M262.8 422.7 L266.2 424.6" fill="none" stroke="#86E68A" stroke-width="3.2" stroke-linecap="round"/>
<path d="M408.0 483.0 L410.2 483.1 L412.6 483.5 L414.8 483.7 L413.0 486.0 L411.5 488.5 L410.4 486.6 L409.3 484.6Z" fill="#80DC84" stroke="#86E68A" stroke-width="3.6" stroke-linejoin="round"/>
<path d="M408.0 483.0 L410.2 483.1 L412.6 483.5 L414.8 483.7 L413.0 486.0 L411.5 488.5 L410.4 486.6 L409.3 484.6Z" fill="#80DC84" stroke="#000" stroke-width="1.40" stroke-linejoin="round"/>
<path d="M453.8 338.2 L455.3 336.0 L455.8 334.0 L456.8 332.2 L457.9 330.8 L461.0 331.3 L462.6 331.2 L465.1 331.4 L464.9 334.3 L465.9 335.9 L465.8 338.2 L467.1 340.6 L467.3 343.8 L468.3 344.6 L470.3 346.4 L471.7 347.1 L473.4 348.2 L475.4 350.3 L471.5 350.3 L470.0 349.8 L468.2 348.2 L466.6 347.3 L464.6 346.1 L462.4 344.8 L460.4 343.9 L457.4 342.9 L456.0 340.0Z" fill="#80DC84" stroke="#86E68A" stroke-width="3.6" stroke-linejoin="round"/>
<path d="M453.8 338.2 L455.3 336.0 L455.8 334.0 L456.8 332.2 L457.9 330.8 L461.0 331.3 L462.6 331.2 L465.1 331.4 L464.9 334.3 L465.9 335.9 L465.8 338.2 L467.1 340.6 L467.3 343.8 L468.3 344.6 L470.3 346.4 L471.7 347.1 L473.4 348.2 L475.4 350.3 L471.5 350.3 L470.0 349.8 L468.2 348.2 L466.6 347.3 L464.6 346.1 L462.4 344.8 L460.4 343.9 L457.4 342.9 L456.0 340.0Z" fill="#80DC84" stroke="#000" stroke-width="1.50" stroke-linejoin="round"/>
<path d="M433.0 350.7 L434.4 349.1 L436.2 347.2 L438.1 345.8 L440.7 346.2 L443.0 345.7 L443.8 348.1 L445.3 349.6 L446.2 352.5 L447.5 352.8 L450.4 354.2 L452.0 354.1 L454.9 355.7 L456.3 356.1 L459.3 357.9 L458.4 361.0 L458.3 363.2 L458.0 365.7 L456.0 367.1 L453.7 367.9 L452.1 370.4 L450.0 368.1 L448.1 366.0 L447.4 363.7 L445.7 362.9 L443.9 361.0 L442.3 359.4 L441.8 358.2 L438.6 357.1 L437.1 355.2 L434.8 352.7Z" fill="#80DC84" stroke="#86E68A" stroke-width="3.6" stroke-linejoin="round"/>
<path d="M433.0 350.7 L434.4 349.1 L436.2 347.2 L438.1 345.8 L440.7 346.2 L443.0 345.7 L443.8 348.1 L445.3 349.6 L446.2 352.5 L447.5 352.8 L450.4 354.2 L452.0 354.1 L454.9 355.7 L456.3 356.1 L459.3 357.9 L458.4 361.0 L458.3 363.2 L458.0 365.7 L456.0 367.1 L453.7 367.9 L452.1 370.4 L450.0 368.1 L448.1 366.0 L447.4 363.7 L445.7 362.9 L443.9 361.0 L442.3 359.4 L441.8 358.2 L438.6 357.1 L437.1 355.2 L434.8 352.7Z" fill="#80DC84" stroke="#000" stroke-width="1.50" stroke-linejoin="round"/>
<path d="M459.3 363.9 L461.1 363.0 L462.7 361.5 L465.0 360.7 L466.8 360.5 L469.2 361.7 L471.8 361.7 L474.1 362.5 L472.7 365.1 L470.5 367.3 L469.3 368.1 L467.8 369.5 L465.5 369.2 L462.4 368.2 L460.9 366.4Z" fill="#80DC84" stroke="#86E68A" stroke-width="3.6" stroke-linejoin="round"/>
<path d="M459.3 363.9 L461.1 363.0 L462.7 361.5 L465.0 360.7 L466.8 360.5 L469.2 361.7 L471.8 361.7 L474.1 362.5 L472.7 365.1 L470.5 367.3 L469.3 368.1 L467.8 369.5 L465.5 369.2 L462.4 368.2 L460.9 366.4Z" fill="#80DC84" stroke="#000" stroke-width="1.50" stroke-linejoin="round"/>
<path d="M461.8 374.2 L464.4 373.1 L466.9 372.2 L468.8 371.3 L471.2 370.4 L474.0 370.9 L476.7 369.9 L479.6 370.7 L481.6 370.3 L484.0 370.8 L487.0 370.8 L486.3 373.6 L486.6 375.6 L486.7 377.2 L486.8 380.1 L485.9 381.5 L484.0 382.3 L482.0 382.9 L479.8 384.3 L478.4 383.3 L475.8 382.1 L474.7 380.9 L472.8 379.5 L471.1 378.4 L468.7 377.3 L466.4 376.0 L464.0 375.7Z" fill="#80DC84" stroke="#86E68A" stroke-width="3.6" stroke-linejoin="round"/>
<path d="M461.8 374.2 L464.4 373.1 L466.9 372.2 L468.8 371.3 L471.2 370.4 L474.0 370.9 L476.7 369.9 L479.6 370.7 L481.6 370.3 L484.0 370.8 L487.0 370.8 L486.3 373.6 L486.6 375.6 L486.7 377.2 L486.8 380.1 L485.9 381.5 L484.0 382.3 L482.0 382.9 L479.8 384.3 L478.4 383.3 L475.8 382.1 L474.7 380.9 L472.8 379.5 L471.1 378.4 L468.7 377.3 L466.4 376.0 L464.0 375.7Z" fill="#80DC84" stroke="#000" stroke-width="1.50" stroke-linejoin="round"/>
<text x="452.8" y="368.1" text-anchor="middle" style="font-size:15px" transform="rotate(25 452.8 363.1)">0</text>
<path d="M437.7 334.5 L439.6 336.3" fill="none" stroke="#86E68A" stroke-width="3.2" stroke-linecap="round"/>
<path d="M427.4 476.6 L429.3 475.5 L431.2 474.4 L433.1 474.9 L435.1 475.7 L436.8 476.1 L435.7 478.6 L434.8 481.0 L432.4 480.2 L430.1 479.7 L428.7 478.1Z" fill="#80DC84" stroke="#86E68A" stroke-width="3.6" stroke-linejoin="round"/>
<path d="M427.4 476.6 L429.3 475.5 L431.2 474.4 L433.1 474.9 L435.1 475.7 L436.8 476.1 L435.7 478.6 L434.8 481.0 L432.4 480.2 L430.1 479.7 L428.7 478.1Z" fill="#80DC84" stroke="#000" stroke-width="1.50" stroke-linejoin="round"/>
<path d="M475.5 475.3 L473.5 481.2" fill="none" stroke="#86E68A" stroke-width="3.2" stroke-linecap="round"/>
<path d="M475.5 475.3 L473.5 481.2" fill="none" stroke="#000" stroke-width="1.5"/>
<path d="M407.3 483.3 L409.5 483.5 L411.9 483.2 L413.9 483.5 L412.8 485.3 L411.9 487.1 L409.8 485.2Z" fill="#80DC84" stroke="#86E68A" stroke-width="3.6" stroke-linejoin="round"/>
<path d="M407.3 483.3 L409.5 483.5 L411.9 483.2 L413.9 483.5 L412.8 485.3 L411.9 487.1 L409.8 485.2Z" fill="#80DC84" stroke="#000" stroke-width="1.40" stroke-linejoin="round"/>
<path d="M409.6 495.1 L411.9 493.2 L414.1 491.7 L416.1 492.5 L418.6 493.5 L420.6 494.9 L423.1 495.8 L421.6 497.8 L420.4 499.4 L419.3 501.1 L416.9 500.7 L414.4 500.2 L412.0 499.6 L410.7 497.3Z" fill="#80DC84" stroke="#86E68A" stroke-width="3.6" stroke-linejoin="round"/>
<path d="M409.6 495.1 L411.9 493.2 L414.1 491.7 L416.1 492.5 L418.6 493.5 L420.6 494.9 L423.1 495.8 L421.6 497.8 L420.4 499.4 L419.3 501.1 L416.9 500.7 L414.4 500.2 L412.0 499.6 L410.7 497.3Z" fill="#80DC84" stroke="#000" stroke-width="1.60" stroke-linejoin="round"/>
<path d="M476.6 520.2 L478.4 519.2 L480.3 518.0 L482.3 520.2 L484.0 522.5 L482.4 523.9 L481.1 525.3 L479.9 526.8 L478.9 524.8 L477.5 522.3Z" fill="#80DC84" stroke="#86E68A" stroke-width="3.6" stroke-linejoin="round"/>
<path d="M476.6 520.2 L478.4 519.2 L480.3 518.0 L482.3 520.2 L484.0 522.5 L482.4 523.9 L481.1 525.3 L479.9 526.8 L478.9 524.8 L477.5 522.3Z" fill="#80DC84" stroke="#000" stroke-width="1.50" stroke-linejoin="round"/>
<path d="M471.5 509.9 L478.2 512.8" fill="none" stroke="#86E68A" stroke-width="3.2" stroke-linecap="round"/>
<path d="M471.5 509.9 L478.2 512.8" fill="none" stroke="#000" stroke-width="1.5"/>
<path d="M392.9 523.0 L395.0 522.8 L397.3 522.4 L398.2 524.5 L399.1 526.8 L399.6 529.0 L400.7 531.1 L401.5 533.3 L399.2 533.3 L397.0 533.4 L396.3 531.4 L395.5 529.5 L394.6 527.5 L393.6 525.3Z" fill="#80DC84" stroke="#86E68A" stroke-width="3.6" stroke-linejoin="round"/>
<path d="M392.9 523.0 L395.0 522.8 L397.3 522.4 L398.2 524.5 L399.1 526.8 L399.6 529.0 L400.7 531.1 L401.5 533.3 L399.2 533.3 L397.0 533.4 L396.3 531.4 L395.5 529.5 L394.6 527.5 L393.6 525.3Z" fill="#80DC84" stroke="#000" stroke-width="1.40" stroke-linejoin="round"/>
<path d="M401.5 501.8 L404.5 503.3" fill="none" stroke="#86E68A" stroke-width="3.2" stroke-linecap="round"/>
<path d="M429.5 508.4 L431.8 510.2" fill="none" stroke="#86E68A" stroke-width="3.2" stroke-linecap="round"/>
<path d="M413.3 517.3 L416.3 519.0" fill="none" stroke="#86E68A" stroke-width="3.2" stroke-linecap="round"/>
<path d="M445.8 520.2 L443.5 523.2" fill="none" stroke="#86E68A" stroke-width="3.2" stroke-linecap="round"/>
<path d="M452.4 526.8 L450.2 529.1" fill="none" stroke="#86E68A" stroke-width="3.2" stroke-linecap="round"/>
<path d="M452.4 526.8 L450.2 529.1" fill="none" stroke="#000" stroke-width="1.5"/>
<path d="M330.8 407.5 L338.2 408.9" fill="none" stroke="#86E68A" stroke-width="3.2" stroke-linecap="round"/>
<path d="M330.8 407.5 L338.2 408.9" fill="none" stroke="#000" stroke-width="1.5"/>
<path d="M13.5 72.6 L16.7 74.0 L16.8 76.0 L16.8 78.1 L16.8 79.9 L16.5 82.3 L16.8 84.1 L13.5 84.8 L13.4 82.8 L13.3 80.6 L13.4 78.7 L13.4 76.6 L13.6 74.3Z" fill="#80DC84" stroke="#86E68A" stroke-width="3.6" stroke-linejoin="round"/>
<path d="M13.5 72.6 L16.7 74.0 L16.8 76.0 L16.8 78.1 L16.8 79.9 L16.5 82.3 L16.8 84.1 L13.5 84.8 L13.4 82.8 L13.3 80.6 L13.4 78.7 L13.4 76.6 L13.6 74.3Z" fill="#80DC84" stroke="#000" stroke-width="1.30" stroke-linejoin="round"/>
<path d="M125.6 100.8 L127.2 103.3" fill="none" stroke="#86E68A" stroke-width="3.2" stroke-linecap="round"/>
<path d="M125.6 100.8 L127.2 103.3" fill="none" stroke="#000" stroke-width="1.5"/>
<path d="M132.9 112.5 L134.6 115.0" fill="none" stroke="#86E68A" stroke-width="3.2" stroke-linecap="round"/>
<path d="M132.9 112.5 L134.6 115.0" fill="none" stroke="#000" stroke-width="1.5"/>
<path d="M131.5 119.0 L135.9 121.6" fill="none" stroke="#86E68A" stroke-width="3.2" stroke-linecap="round"/>
<path d="M131.5 119.0 L135.9 121.6" fill="none" stroke="#000" stroke-width="1.5"/>
<path d="M129.4 137.8 L132.4 139.2" fill="none" stroke="#86E68A" stroke-width="3.2" stroke-linecap="round"/>
<path d="M129.4 137.8 L132.4 139.2" fill="none" stroke="#000" stroke-width="1.5"/>
<path d="M121.1 150.8 L123.5 150.6 L126.2 150.2 L126.9 152.3 L127.7 154.6 L128.8 156.6 L129.3 158.8 L130.3 160.7 L131.2 162.7 L129.2 163.4 L127.9 161.6 L127.0 159.3 L126.2 157.6 L125.3 155.2 L123.0 154.5 L121.8 153.0Z" fill="#80DC84" stroke="#86E68A" stroke-width="3.6" stroke-linejoin="round"/>
<path d="M121.1 150.8 L123.5 150.6 L126.2 150.2 L126.9 152.3 L127.7 154.6 L128.8 156.6 L129.3 158.8 L130.3 160.7 L131.2 162.7 L129.2 163.4 L127.9 161.6 L127.0 159.3 L126.2 157.6 L125.3 155.2 L123.0 154.5 L121.8 153.0Z" fill="#80DC84" stroke="#000" stroke-width="1.60" stroke-linejoin="round"/>
<path d="M120.7 164.4 L122.7 164.8 L125.0 165.3 L126.7 165.6 L126.6 168.0 L126.4 170.1 L126.0 172.2 L123.9 171.9 L121.7 171.6 L121.4 168.9 L121.0 166.7Z" fill="#80DC84" stroke="#86E68A" stroke-width="3.6" stroke-linejoin="round"/>
<path d="M120.7 164.4 L122.7 164.8 L125.0 165.3 L126.7 165.6 L126.6 168.0 L126.4 170.1 L126.0 172.2 L123.9 171.9 L121.7 171.6 L121.4 168.9 L121.0 166.7Z" fill="#80DC84" stroke="#000" stroke-width="1.60" stroke-linejoin="round"/>
<path d="M89.8 194.3 L88.3 202.4" fill="none" stroke="#86E68A" stroke-width="3.2" stroke-linecap="round"/>
<path d="M89.8 194.3 L88.3 202.4" fill="none" stroke="#000" stroke-width="1.5"/>
<path d="M84.9 282.4 L88.6 279.0" fill="none" stroke="#86E68A" stroke-width="3.2" stroke-linecap="round"/>
<path d="M85.7 288.2 L87.9 290.4" fill="none" stroke="#86E68A" stroke-width="3.2" stroke-linecap="round"/>
<path d="M84.5 302.5 L87.9 304.4" fill="none" stroke="#86E68A" stroke-width="3.2" stroke-linecap="round"/>
<path d="M84.5 302.5 L87.9 304.4" fill="none" stroke="#000" stroke-width="1.5"/>
<path d="M80.0 327.9 L82.0 327.1 L84.3 326.6 L85.9 328.2 L87.6 330.1 L89.4 332.4 L87.5 333.8 L85.8 335.4 L84.2 336.6 L82.5 335.0 L81.4 333.6 L80.8 331.8 L80.3 329.9Z" fill="#80DC84" stroke="#86E68A" stroke-width="3.6" stroke-linejoin="round"/>
<path d="M80.0 327.9 L82.0 327.1 L84.3 326.6 L85.9 328.2 L87.6 330.1 L89.4 332.4 L87.5 333.8 L85.8 335.4 L84.2 336.6 L82.5 335.0 L81.4 333.6 L80.8 331.8 L80.3 329.9Z" fill="#80DC84" stroke="#000" stroke-width="1.50" stroke-linejoin="round"/>
<path d="M65.1 340.3 L73.9 335.2 L72.2 338.4 L68.1 342.2Z" fill="#000" stroke="#86E68A" stroke-width="1.00" stroke-linejoin="round"/>
<path d="M109.6 349.9 L110.8 347.9 L112.6 345.8 L113.9 344.1 L116.0 345.5 L118.1 347.7 L119.3 349.8 L120.7 352.2 L121.8 354.4 L120.0 355.7 L118.3 356.8 L116.3 358.0 L113.7 356.9 L111.3 355.9 L110.9 353.7 L110.4 351.7Z" fill="#80DC84" stroke="#86E68A" stroke-width="3.6" stroke-linejoin="round"/>
<path d="M109.6 349.9 L110.8 347.9 L112.6 345.8 L113.9 344.1 L116.0 345.5 L118.1 347.7 L119.3 349.8 L120.7 352.2 L121.8 354.4 L120.0 355.7 L118.3 356.8 L116.3 358.0 L113.7 356.9 L111.3 355.9 L110.9 353.7 L110.4 351.7Z" fill="#80DC84" stroke="#000" stroke-width="1.60" stroke-linejoin="round"/>
<path d="M34.0 317.0 L38.7 317.3 L36.6 319.3Z" fill="#000" stroke="#86E68A" stroke-width="1.00" stroke-linejoin="round"/>
<path d="M19.3 385.1 L24.0 387.2 L22.5 389.8Z" fill="#000" stroke="#86E68A" stroke-width="1.00" stroke-linejoin="round"/>
<path d="M53.8 341.3 L56.6 342.8" fill="none" stroke="#86E68A" stroke-width="3.2" stroke-linecap="round"/>
<path d="M53.8 341.3 L56.6 342.8" fill="none" stroke="#000" stroke-width="1.5"/>
<path d="M22.8 353.2 L25.8 354.7" fill="none" stroke="#86E68A" stroke-width="3.2" stroke-linecap="round"/>
<path d="M81.0 361.6 L83.9 363.1" fill="none" stroke="#86E68A" stroke-width="3.2" stroke-linecap="round"/>
<path d="M81.0 361.6 L83.9 363.1" fill="none" stroke="#000" stroke-width="1.5"/>
<path d="M81.3 366.0 L88.6 370.4" fill="none" stroke="#86E68A" stroke-width="3.2" stroke-linecap="round"/>
<path d="M81.3 366.0 L88.6 370.4" fill="none" stroke="#000" stroke-width="1.5"/>
<path d="M132.4 361.3 L134.4 362.6" fill="none" stroke="#86E68A" stroke-width="3.2" stroke-linecap="round"/>
<path d="M84.9 303.6 L87.9 305.1" fill="none" stroke="#86E68A" stroke-width="3.2" stroke-linecap="round"/>
<path d="M82.7 311.0 L85.7 312.4" fill="none" stroke="#86E68A" stroke-width="3.2" stroke-linecap="round"/>
<path d="M76.1 322.0 L79.8 324.2" fill="none" stroke="#86E68A" stroke-width="3.2" stroke-linecap="round"/>
<path d="M200.2 363.7 L202.4 364.7 L204.4 365.3 L206.7 365.9 L205.5 368.0 L204.0 369.6 L202.8 367.6 L201.4 365.8Z" fill="#80DC84" stroke="#86E68A" stroke-width="3.6" stroke-linejoin="round"/>
<path d="M200.2 363.7 L202.4 364.7 L204.4 365.3 L206.7 365.9 L205.5 368.0 L204.0 369.6 L202.8 367.6 L201.4 365.8Z" fill="#80DC84" stroke="#000" stroke-width="1.40" stroke-linejoin="round"/>
<path d="M241.7 356.5 L243.9 356.9 L243.1 359.0Z" fill="#000" stroke="#86E68A" stroke-width="1.00" stroke-linejoin="round"/>
<path d="M261.8 371.1 L269.3 375.6" fill="none" stroke="#86E68A" stroke-width="3.2" stroke-linecap="round"/>
<path d="M261.8 371.1 L269.3 375.6" fill="none" stroke="#000" stroke-width="1.5"/>
<path d="M229.4 421.2 L231.7 421.9 L233.6 423.1 L235.5 423.8 L236.7 426.5 L237.7 429.2 L236.0 428.0 L234.1 426.8 L232.7 425.6 L231.2 423.1Z" fill="#80DC84" stroke="#86E68A" stroke-width="3.6" stroke-linejoin="round"/>
<path d="M229.4 421.2 L231.7 421.9 L233.6 423.1 L235.5 423.8 L236.7 426.5 L237.7 429.2 L236.0 428.0 L234.1 426.8 L232.7 425.6 L231.2 423.1Z" fill="#80DC84" stroke="#000" stroke-width="1.50" stroke-linejoin="round"/>
<path d="M190.6 425.5 L193.1 426.9" fill="none" stroke="#86E68A" stroke-width="3.2" stroke-linecap="round"/>
<path d="M263.0 422.5 L266.0 424.4" fill="none" stroke="#86E68A" stroke-width="3.2" stroke-linecap="round"/>
<path d="M228.8 519.9 L233.2 523.1" fill="none" stroke="#86E68A" stroke-width="3.2" stroke-linecap="round"/>
<path d="M228.8 519.9 L233.2 523.1" fill="none" stroke="#000" stroke-width="1.5"/>
<path d="M23.3 405.7 L32.1 410.3" fill="none" stroke="#62B2FF" stroke-width="2.4" stroke-linecap="round"/>
</g>
<g transform="translate(0 0.9)">
<text class="ax" x="15.4" y="286.6" text-anchor="middle">48</text>
<text class="ax" x="94.2" y="286.6" text-anchor="middle">50</text>
<text class="ax" x="173.0" y="286.6" text-anchor="middle">52</text>
<text class="ax" x="251.8" y="286.6" text-anchor="middle">54</text>
<text class="ax" x="330.6" y="286.6" text-anchor="middle">56</text>
<text class="ax" x="409.4" y="286.6" text-anchor="middle">58</text>
<text class="ax" x="240.6" y="54.0" text-anchor="end">-12</text>
<text class="ax" x="240.6" y="138.6" text-anchor="end">-14</text>
<text class="ax" x="240.6" y="223.3" text-anchor="end">-16</text>
<text class="ax" x="240.6" y="307.9" text-anchor="end">-18</text>
<text class="ax" x="240.6" y="392.6" text-anchor="end">-20</text>
<text class="ax" x="240.6" y="477.2" text-anchor="end">-22</text>
<text class="ti" x="37.2" y="65.9">2A12 rainrate (mm/hr)</text>
<text class="pl" x="456.4" y="522.6" text-anchor="middle">(f)</text>
</g>
<path d="M243.1 294.9h12.6M249.4 288.6v12.6" stroke="#000" stroke-width="4.4"/>
<rect x="495.0" y="531.72" width="9.0" height="8.57" fill="#7EE07E"/>
<rect x="495.0" y="523.25" width="9.0" height="8.57" fill="#7AD97A"/>
<rect x="495.0" y="514.78" width="9.0" height="8.57" fill="#75D275"/>
<rect x="495.0" y="506.32" width="9.0" height="8.57" fill="#71CB71"/>
<rect x="495.0" y="497.85" width="9.0" height="8.57" fill="#6DC46D"/>
<rect x="495.0" y="489.38" width="9.0" height="8.57" fill="#68BD68"/>
<rect x="495.0" y="480.92" width="9.0" height="8.57" fill="#64B664"/>
<rect x="495.0" y="472.45" width="9.0" height="8.57" fill="#C8D0FF"/>
<rect x="495.0" y="463.98" width="9.0" height="8.57" fill="#BACBFF"/>
<rect x="495.0" y="455.52" width="9.0" height="8.57" fill="#ACC7FF"/>
<rect x="495.0" y="447.05" width="9.0" height="8.57" fill="#9EC2FF"/>
<rect x="495.0" y="438.58" width="9.0" height="8.57" fill="#90BDFF"/>
<rect x="495.0" y="430.12" width="9.0" height="8.57" fill="#82B9FF"/>
<rect x="495.0" y="421.65" width="9.0" height="8.57" fill="#71B3FF"/>
<rect x="495.0" y="413.18" width="9.0" height="8.57" fill="#61AEFF"/>
<rect x="495.0" y="404.72" width="9.0" height="8.57" fill="#50A8FF"/>
<rect x="495.0" y="396.25" width="9.0" height="8.57" fill="#4991FF"/>
<rect x="495.0" y="387.78" width="9.0" height="8.57" fill="#437AFF"/>
<rect x="495.0" y="379.32" width="9.0" height="8.57" fill="#3C62FF"/>
<rect x="495.0" y="370.85" width="9.0" height="8.57" fill="#3648FF"/>
<rect x="495.0" y="362.38" width="9.0" height="8.57" fill="#2D2DFF"/>
<rect x="495.0" y="353.92" width="9.0" height="8.57" fill="#0909FF"/>
<rect x="495.0" y="345.45" width="9.0" height="8.57" fill="#0000F5"/>
<rect x="495.0" y="336.98" width="9.0" height="8.57" fill="#0000E7"/>
<rect x="495.0" y="328.52" width="9.0" height="8.57" fill="#0000D9"/>
<rect x="495.0" y="320.05" width="9.0" height="8.57" fill="#0000CC"/>
<rect x="495.0" y="311.58" width="9.0" height="8.57" fill="#0000BE"/>
<rect x="495.0" y="303.12" width="9.0" height="8.57" fill="#FFFF00"/>
<rect x="495.0" y="294.65" width="9.0" height="8.57" fill="#FFF600"/>
<rect x="495.0" y="286.18" width="9.0" height="8.57" fill="#FFEE00"/>
<rect x="495.0" y="277.72" width="9.0" height="8.57" fill="#FFE600"/>
<rect x="495.0" y="269.25" width="9.0" height="8.57" fill="#FFDD00"/>
<rect x="495.0" y="260.78" width="9.0" height="8.57" fill="#FFD400"/>
<rect x="495.0" y="252.32" width="9.0" height="8.57" fill="#FFCC00"/>
<rect x="495.0" y="243.85" width="9.0" height="8.57" fill="#FF9200"/>
<rect x="495.0" y="235.38" width="9.0" height="8.57" fill="#FF8B00"/>
<rect x="495.0" y="226.92" width="9.0" height="8.57" fill="#FF8400"/>
<rect x="495.0" y="218.45" width="9.0" height="8.57" fill="#FF7E00"/>
<rect x="495.0" y="209.98" width="9.0" height="8.57" fill="#FF7700"/>
<rect x="495.0" y="201.52" width="9.0" height="8.57" fill="#FF7000"/>
<rect x="495.0" y="193.05" width="9.0" height="8.57" fill="#FF4500"/>
<rect x="495.0" y="184.58" width="9.0" height="8.57" fill="#FF3E00"/>
<rect x="495.0" y="176.12" width="9.0" height="8.57" fill="#FF3700"/>
<rect x="495.0" y="167.65" width="9.0" height="8.57" fill="#FF3000"/>
<rect x="495.0" y="159.18" width="9.0" height="8.57" fill="#FF2800"/>
<rect x="495.0" y="150.72" width="9.0" height="8.57" fill="#FF2100"/>
<rect x="495.0" y="142.25" width="9.0" height="8.57" fill="#FF1A00"/>
<rect x="495.0" y="133.78" width="9.0" height="8.57" fill="#CC0000"/>
<rect x="495.0" y="125.32" width="9.0" height="8.57" fill="#C50200"/>
<rect x="495.0" y="116.85" width="9.0" height="8.57" fill="#BD0500"/>
<rect x="495.0" y="108.38" width="9.0" height="8.57" fill="#B60700"/>
<rect x="495.0" y="99.92" width="9.0" height="8.57" fill="#AF0900"/>
<rect x="495.0" y="91.45" width="9.0" height="8.57" fill="#A70C00"/>
<rect x="495.0" y="82.98" width="9.0" height="8.57" fill="#A00E00"/>
<rect x="495.0" y="74.52" width="9.0" height="8.57" fill="#680E06"/>
<rect x="495.0" y="66.05" width="9.0" height="8.57" fill="#65110A"/>
<rect x="495.0" y="57.58" width="9.0" height="8.57" fill="#62140F"/>
<rect x="495.0" y="49.12" width="9.0" height="8.57" fill="#5F1714"/>
<rect x="495.0" y="40.65" width="9.0" height="8.57" fill="#5C1A18"/>
<path d="M504.0 548.7h2.2" stroke="#000" stroke-width="0.7"/>
<text class="tk" x="524.5" y="557.8" text-anchor="middle">0</text>
<path d="M504.0 497.9h2.2" stroke="#000" stroke-width="0.7"/>
<text class="tk" x="524.5" y="507.0" text-anchor="middle">6</text>
<path d="M504.0 447.1h2.2" stroke="#000" stroke-width="0.7"/>
<text class="tk" x="524.5" y="456.2" text-anchor="middle">12</text>
<path d="M504.0 396.3h2.2" stroke="#000" stroke-width="0.7"/>
<text class="tk" x="524.5" y="405.4" text-anchor="middle">18</text>
<path d="M504.0 345.5h2.2" stroke="#000" stroke-width="0.7"/>
<text class="tk" x="524.5" y="354.6" text-anchor="middle">24</text>
<path d="M504.0 294.7h2.2" stroke="#000" stroke-width="0.7"/>
<text class="tk" x="524.5" y="303.8" text-anchor="middle">30</text>
<path d="M504.0 243.9h2.2" stroke="#000" stroke-width="0.7"/>
<text class="tk" x="524.5" y="253.0" text-anchor="middle">36</text>
<path d="M504.0 193.1h2.2" stroke="#000" stroke-width="0.7"/>
<text class="tk" x="524.5" y="202.2" text-anchor="middle">42</text>
<path d="M504.0 142.3h2.2" stroke="#000" stroke-width="0.7"/>
<text class="tk" x="524.5" y="151.4" text-anchor="middle">48</text>
<path d="M504.0 91.5h2.2" stroke="#000" stroke-width="0.7"/>
<text class="tk" x="524.5" y="100.6" text-anchor="middle">54</text>
</g>
<g transform="translate(0.00 1181.05)">
<g clip-path="url(#cp)">
<defs><filter id="blg" x="-50%" y="-50%" width="200%" height="200%"><feGaussianBlur stdDeviation="3"/></filter><filter id="bsg" x="-50%" y="-50%" width="200%" height="200%"><feGaussianBlur stdDeviation="1.4"/></filter><filter id="bbg" x="-50%" y="-50%" width="200%" height="200%"><feGaussianBlur stdDeviation="12"/></filter><filter id="nzg" x="0" y="0" width="100%" height="100%" color-interpolation-filters="sRGB"><feTurbulence type="fractalNoise" baseFrequency="0.04" numOctaves="3" seed="7" result="n"/><feColorMatrix in="n" type="matrix" values="1 0 0 0 0 1 0 0 0 0 1 0 0 0 0 0 0 0 0 1" result="g"/><feComposite in="SourceGraphic" in2="g" operator="arithmetic" k1="0" k2="1" k3="0.130" k4="-0.061" result="c"/><feComposite in="c" in2="SourceGraphic" operator="in"/></filter><clipPath id="swg"><path d="M13.0 40.7 L54.3 40.7 L94.0 67.4 L173.2 121.0 L251.8 171.6 L486.0 316.9 L486.0 548.7 L252.5 548.7 L13.0 393.7Z"/></clipPath></defs>
<g filter="url(#nzg)">
<path d="M13.0 40.7 L54.3 40.7 L94.0 67.4 L173.2 121.0 L251.8 171.6 L486.0 316.9 L486.0 548.7 L252.5 548.7 L13.0 393.7Z" fill="#E6E6E6"/>
<g clip-path="url(#swg)">
<ellipse cx="60.0" cy="150.0" rx="60.0" ry="100.0" fill="#D4D4D4" filter="url(#bbg)"/>
<ellipse cx="35.0" cy="300.0" rx="45.0" ry="80.0" fill="#CACACA" filter="url(#bbg)"/>
<ellipse cx="110.0" cy="420.0" rx="60.0" ry="35.0" fill="#D2D2D2" transform="rotate(30 110.0 420.0)" filter="url(#bbg)"/>
<ellipse cx="95.0" cy="235.0" rx="35.0" ry="35.0" fill="#CECECE" filter="url(#bbg)"/>
<ellipse cx="330.0" cy="330.0" rx="110.0" ry="28.0" fill="#D2D2D2" transform="rotate(12 330.0 330.0)" filter="url(#bbg)"/>
<ellipse cx="290.0" cy="420.0" rx="60.0" ry="25.0" fill="#D8D8D8" transform="rotate(20 290.0 420.0)" filter="url(#bbg)"/>
<ellipse cx="420.0" cy="300.0" rx="50.0" ry="20.0" fill="#DADADA" transform="rotate(25 420.0 300.0)" filter="url(#bbg)"/>
<ellipse cx="180.0" cy="120.0" rx="50.0" ry="30.0" fill="#DADADA" transform="rotate(30 180.0 120.0)" filter="url(#bbg)"/>
<ellipse cx="460.0" cy="500.0" rx="40.0" ry="30.0" fill="#DCDCDC" filter="url(#bbg)"/>
<ellipse cx="150.0" cy="330.0" rx="40.0" ry="40.0" fill="#D6D6D6" filter="url(#bbg)"/>
<ellipse cx="330.0" cy="470.0" rx="50.0" ry="20.0" fill="#DCDCDC" transform="rotate(20 330.0 470.0)" filter="url(#bbg)"/>
<ellipse cx="250.0" cy="280.0" rx="40.0" ry="25.0" fill="#DADADA" filter="url(#bbg)"/>
<ellipse cx="227.0" cy="324.8" rx="8.5" ry="7.3" fill="#EEEEEE" transform="rotate(34 227.0 324.8)" filter="url(#blg)" opacity="0.80"/>
<ellipse cx="393.2" cy="282.2" rx="11.9" ry="3.5" fill="#F2F2F2" transform="rotate(55 393.2 282.2)" filter="url(#blg)" opacity="0.80"/>
<ellipse cx="477.6" cy="530.1" rx="10.5" ry="6.1" fill="#F2F2F2" transform="rotate(150 477.6 530.1)" filter="url(#blg)" opacity="0.80"/>
<ellipse cx="42.9" cy="59.1" rx="10.0" ry="6.9" fill="#CECECE" transform="rotate(59 42.9 59.1)" filter="url(#blg)" opacity="0.80"/>
<ellipse cx="123.5" cy="190.1" rx="10.6" ry="5.3" fill="#C8C8C8" transform="rotate(50 123.5 190.1)" filter="url(#blg)" opacity="0.80"/>
<ellipse cx="484.9" cy="545.8" rx="11.1" ry="4.6" fill="#D0D0D0" transform="rotate(41 484.9 545.8)" filter="url(#blg)" opacity="0.80"/>
<ellipse cx="466.2" cy="470.6" rx="6.1" ry="7.6" fill="#D0D0D0" transform="rotate(9 466.2 470.6)" filter="url(#blg)" opacity="0.80"/>
<ellipse cx="190.6" cy="400.4" rx="4.7" ry="6.1" fill="#DADADA" transform="rotate(140 190.6 400.4)" filter="url(#blg)" opacity="0.80"/>
<ellipse cx="129.5" cy="92.2" rx="8.6" ry="5.4" fill="#C8C8C8" transform="rotate(123 129.5 92.2)" filter="url(#blg)" opacity="0.80"/>
<ellipse cx="102.1" cy="299.0" rx="11.7" ry="5.1" fill="#F0F0F0" transform="rotate(69 102.1 299.0)" filter="url(#blg)" opacity="0.80"/>
<ellipse cx="474.1" cy="341.5" rx="6.1" ry="5.0" fill="#D0D0D0" transform="rotate(154 474.1 341.5)" filter="url(#blg)" opacity="0.80"/>
<ellipse cx="135.2" cy="432.8" rx="12.3" ry="4.9" fill="#D4D4D4" transform="rotate(13 135.2 432.8)" filter="url(#blg)" opacity="0.80"/>
<ellipse cx="111.7" cy="363.7" rx="10.0" ry="4.9" fill="#C8C8C8" transform="rotate(82 111.7 363.7)" filter="url(#blg)" opacity="0.80"/>
<ellipse cx="284.8" cy="480.3" rx="10.3" ry="4.6" fill="#D6D6D6" transform="rotate(41 284.8 480.3)" filter="url(#blg)" opacity="0.80"/>
<ellipse cx="301.7" cy="408.8" rx="11.4" ry="7.7" fill="#D6D6D6" transform="rotate(35 301.7 408.8)" filter="url(#blg)" opacity="0.80"/>
<ellipse cx="462.4" cy="488.3" rx="4.8" ry="3.2" fill="#F2F2F2" transform="rotate(20 462.4 488.3)" filter="url(#blg)" opacity="0.80"/>
<ellipse cx="212.0" cy="499.7" rx="6.9" ry="3.9" fill="#EEEEEE" transform="rotate(130 212.0 499.7)" filter="url(#blg)" opacity="0.80"/>
<ellipse cx="45.5" cy="156.8" rx="10.5" ry="6.1" fill="#ECECEC" transform="rotate(13 45.5 156.8)" filter="url(#blg)" opacity="0.80"/>
<ellipse cx="207.6" cy="167.3" rx="5.8" ry="4.8" fill="#D0D0D0" transform="rotate(103 207.6 167.3)" filter="url(#blg)" opacity="0.80"/>
<ellipse cx="75.2" cy="224.6" rx="13.8" ry="6.3" fill="#DADADA" transform="rotate(124 75.2 224.6)" filter="url(#blg)" opacity="0.80"/>
<ellipse cx="29.6" cy="50.1" rx="11.0" ry="7.8" fill="#D4D4D4" transform="rotate(4 29.6 50.1)" filter="url(#blg)" opacity="0.80"/>
<ellipse cx="313.9" cy="285.5" rx="7.2" ry="8.0" fill="#DCDCDC" transform="rotate(14 313.9 285.5)" filter="url(#blg)" opacity="0.80"/>
<ellipse cx="271.3" cy="414.7" rx="11.9" ry="7.6" fill="#D6D6D6" transform="rotate(63 271.3 414.7)" filter="url(#blg)" opacity="0.80"/>
<ellipse cx="337.1" cy="497.7" rx="13.4" ry="3.2" fill="#EEEEEE" transform="rotate(90 337.1 497.7)" filter="url(#blg)" opacity="0.80"/>
<ellipse cx="19.9" cy="376.8" rx="9.8" ry="6.0" fill="#DADADA" transform="rotate(14 19.9 376.8)" filter="url(#blg)" opacity="0.80"/>
<ellipse cx="315.4" cy="544.6" rx="11.3" ry="4.9" fill="#EEEEEE" transform="rotate(132 315.4 544.6)" filter="url(#blg)" opacity="0.80"/>
<ellipse cx="287.8" cy="264.3" rx="4.8" ry="6.8" fill="#F2F2F2" transform="rotate(5 287.8 264.3)" filter="url(#blg)" opacity="0.80"/>
<ellipse cx="297.4" cy="284.8" rx="13.6" ry="3.6" fill="#D6D6D6" transform="rotate(140 297.4 284.8)" filter="url(#blg)" opacity="0.80"/>
<ellipse cx="325.2" cy="287.6" rx="7.7" ry="3.7" fill="#D0D0D0" transform="rotate(110 325.2 287.6)" filter="url(#blg)" opacity="0.80"/>
<ellipse cx="258.2" cy="423.2" rx="10.6" ry="5.2" fill="#DCDCDC" transform="rotate(161 258.2 423.2)" filter="url(#blg)" opacity="0.80"/>
<ellipse cx="167.7" cy="378.6" rx="10.3" ry="7.0" fill="#CECECE" transform="rotate(136 167.7 378.6)" filter="url(#blg)" opacity="0.80"/>
<ellipse cx="107.7" cy="149.6" rx="9.8" ry="4.6" fill="#CECECE" transform="rotate(25 107.7 149.6)" filter="url(#blg)" opacity="0.80"/>
<ellipse cx="247.8" cy="465.4" rx="11.1" ry="7.8" fill="#D0D0D0" transform="rotate(50 247.8 465.4)" filter="url(#blg)" opacity="0.80"/>
<ellipse cx="93.0" cy="269.5" rx="13.3" ry="7.2" fill="#D4D4D4" transform="rotate(69 93.0 269.5)" filter="url(#blg)" opacity="0.80"/>
<ellipse cx="258.9" cy="381.8" rx="8.5" ry="3.4" fill="#F2F2F2" transform="rotate(6 258.9 381.8)" filter="url(#blg)" opacity="0.80"/>
<ellipse cx="348.2" cy="330.3" rx="10.5" ry="5.8" fill="#DCDCDC" transform="rotate(115 348.2 330.3)" filter="url(#blg)" opacity="0.80"/>
<ellipse cx="381.6" cy="445.0" rx="8.5" ry="6.1" fill="#D0D0D0" transform="rotate(118 381.6 445.0)" filter="url(#blg)" opacity="0.80"/>
<ellipse cx="394.9" cy="526.9" rx="6.0" ry="5.4" fill="#D6D6D6" transform="rotate(32 394.9 526.9)" filter="url(#blg)" opacity="0.80"/>
<ellipse cx="18.1" cy="280.4" rx="4.4" ry="4.1" fill="#F0F0F0" transform="rotate(140 18.1 280.4)" filter="url(#blg)" opacity="0.80"/>
<ellipse cx="268.3" cy="521.0" rx="10.1" ry="6.8" fill="#F2F2F2" transform="rotate(71 268.3 521.0)" filter="url(#blg)" opacity="0.80"/>
<ellipse cx="387.6" cy="500.5" rx="8.1" ry="7.5" fill="#D0D0D0" transform="rotate(70 387.6 500.5)" filter="url(#blg)" opacity="0.80"/>
<ellipse cx="273.2" cy="371.9" rx="12.0" ry="7.7" fill="#F2F2F2" transform="rotate(83 273.2 371.9)" filter="url(#blg)" opacity="0.80"/>
<ellipse cx="354.5" cy="455.9" rx="6.1" ry="7.5" fill="#D0D0D0" transform="rotate(176 354.5 455.9)" filter="url(#blg)" opacity="0.80"/>
<ellipse cx="475.3" cy="313.2" rx="6.6" ry="6.6" fill="#DCDCDC" transform="rotate(3 475.3 313.2)" filter="url(#blg)" opacity="0.80"/>
</g></g>
</g>
<path d="M15.4 41.3V548.7 M94.2 41.3V548.7 M173.0 41.3V548.7 M251.8 41.3V548.7 M330.6 41.3V548.7 M409.4 41.3V548.7" class="gr" stroke-dashoffset="0"/>
<path d="M13.0 54.3H486.0 M13.0 138.9H486.0 M13.0 223.6H486.0 M13.0 308.2H486.0 M13.0 392.9H486.0 M13.0 477.5H486.0" class="gr"/>
<g clip-path="url(#cp)">
<path d="M13.2 121.1 L14.3 119.3 L16.9 119.3 L19.8 120.7 L22.0 124.4 L23.1 128.1 L25.0 129.9 L26.4 131.0 L27.9 128.1 L28.3 122.9 L29.0 119.6 L32.3 118.9 L35.2 117.4 L35.6 115.6 L34.5 113.4 L36.7 114.5 L40.4 115.2 L44.0 114.1 L46.6 111.9 L47.3 108.3 L47.7 103.9 L48.8 100.2 L50.6 96.5 L52.5 92.5 L52.9 89.9 L51.8 86.2 L50.6 81.8 L49.9 78.9 L47.7 76.0 L45.9 74.1 L44.4 73.4 L47.0 71.9 L49.2 73.4 L51.4 74.1 L53.2 73.0 L53.6 70.1 L55.8 67.9 L58.7 66.1 L60.9 63.5 L61.3 59.8 L63.1 54.7 L65.3 53.2 L66.4 54.7 L64.6 58.4 L64.6 64.2 L66.4 66.8 L68.3 65.0 L70.5 65.3 L72.3 69.4 L76.0 69.7 L77.1 73.0 L77.4 77.4 L77.1 81.8 L80.0 83.7 L80.7 87.0 L83.3 86.6 L85.9 88.8 L88.5 91.4 L88.8 94.3 L91.4 98.0 L91.8 102.4 L92.5 106.8 L94.0 110.5 L95.4 112.7 L95.8 116.3 L97.6 122.2 L99.1 128.1 L99.8 134.0 L100.2 139.1 L100.6 144.2 L100.9 148.6 L102.4 150.8 L101.7 155.2 L102.0 160.4 L102.8 165.9 L105.0 173.2 L107.9 180.6 L111.6 185.7 L113.6 190.1 L114.1 194.5 L113.0 201.1 L110.8 207.0 L108.6 211.4 L107.2 216.5 L104.2 220.9 L101.7 222.8 L98.4 220.9 L94.7 216.5 L92.9 211.4 L91.0 207.0 L89.9 203.3 L90.7 199.6 L86.6 199.6 L82.2 200.7 L80.0 203.3 L80.4 207.7 L81.5 212.1 L82.6 216.5 L83.3 220.2 L82.2 223.9 L82.9 227.5 L85.2 229.4 L87.7 230.8 L88.5 233.4 L87.4 237.1 L89.2 241.5 L88.5 245.9 L86.3 249.6 L84.4 252.5 L84.8 256.2 L87.4 258.4 L85.9 259.8 L82.2 260.6 L78.2 262.0 L76.3 266.4 L74.1 272.3 L72.3 276.7 L71.6 280.4 L71.2 280.0 L72.7 283.7 L74.5 288.8 L75.2 294.7 L74.1 299.1 L72.7 304.2 L71.6 309.4 L71.6 314.5 L70.1 320.4 L69.0 325.5 L66.1 332.9 L63.5 340.2 L60.9 347.5 L57.3 354.1 L55.4 360.7 L52.9 368.1 L49.9 375.4 L48.1 382.8 L47.0 389.4 L45.5 390.8 L45.9 394.5 L44.0 399.7 L43.7 400.0 L40.4 406.6 L38.2 414.7 L36.0 423.5 L34.1 430.1 L32.3 434.5 L31.9 438.9 L30.1 447.0 L27.2 457.3 L24.2 466.1 L22.0 471.2 L19.5 476.3 L17.6 481.5 L15.4 488.8 L12.8 496.9 M13.6 135.4 L16.5 137.6 L13.2 139.8 L16.9 142.0 L13.6 144.2 L17.3 146.1 L13.2 147.9 L16.5 149.4 L14.7 151.6 M12.8 163.3 L15.0 165.1 L13.9 167.3 L15.8 169.2" class="co" stroke-width="1.00"/>
<path d="M13.0 144.8 L32.3 158.2 L51.4 171.7 L110.3 211.6 L149.9 238.0 L227.9 289.1 L287.7 326.4 L308.1 339.1 L449.2 423.2 L469.6 434.9 L486.0 444.4" class="da" stroke-dasharray="12.00 11.53"/>
<path d="M13.2 258.0 L32.3 271.2 L52.1 284.0 L110.3 323.9 L149.9 349.6 L189.6 375.0 L229.2 400.2 L268.8 425.5 L309.5 449.6 L369.7 485.9 L409.9 509.5 L430.7 521.9 L471.8 544.2 L480.0 548.7" class="da" stroke-dasharray="11.99 11.52"/>
<g clip-path="url(#swg)">
<path d="M258.2 324.1 L261.1 320.2 L261.1 318.7 L262.5 317.8 L261.6 313.3 L264.8 312.5 L266.7 310.1 L267.7 311.4 L269.1 311.1 L273.3 307.1 L272.5 307.7 L277.5 307.3 L277.3 307.6 L278.8 307.0 L282.2 308.0 L283.7 307.3 L285.7 308.1 L288.1 306.8 L291.9 307.8 L293.3 305.9 L296.5 307.3 L295.7 304.9 L299.7 305.3 L302.8 303.7 L305.0 303.7 L305.7 302.7 L309.4 302.5 L310.0 300.5 L310.4 298.3 L314.6 297.8 L314.8 297.5 L318.7 297.1 L320.1 297.4 L323.0 299.4 L325.5 299.2 L327.4 299.0 L328.1 302.2 L333.1 302.9 L333.3 302.6 L335.7 306.2 L338.9 304.6 L341.6 303.5 L342.8 305.7 L345.3 303.9 L346.7 304.1 L350.7 300.9 L352.0 302.0 L354.2 300.3 L355.8 298.1 L357.2 296.3 L357.8 296.3 L361.6 294.3 L363.6 295.4 L365.3 295.2 L368.1 296.2 L370.6 295.4 L370.9 294.3 L373.6 295.0 L378.0 295.3 L380.0 295.0 L380.4 294.7 L384.0 291.9 L384.1 291.4 L385.0 294.7 L381.4 298.5 L380.3 297.8 L377.9 300.3 L376.1 300.6 L376.0 302.3 L373.7 304.2 L371.6 305.8 L371.8 307.0 L369.7 311.1 L372.9 309.8 L375.2 312.8 L375.3 311.2 L377.1 315.4 L378.7 317.3 L381.8 318.8 L382.2 321.2 L385.8 320.9 L385.8 322.4 L388.2 323.3 L389.5 324.9 L390.1 325.3 L394.5 328.6 L393.8 330.0 L395.3 331.8 L398.1 331.6 L398.0 331.7 L401.5 333.3 L401.8 338.7 L401.5 338.6 L402.9 343.6 L399.5 340.7 L396.5 339.7 L394.0 340.2 L392.7 338.2 L390.2 341.6 L389.4 343.1 L388.0 346.2 L387.4 344.5 L382.7 346.4 L382.8 348.9 L378.3 347.5 L376.9 350.0 L375.3 348.9 L372.7 351.0 L368.9 352.9 L365.7 353.1 L363.4 350.2 L364.2 349.3 L361.9 349.4 L360.3 347.5 L356.5 346.9 L356.0 347.6 L354.0 348.1 L349.2 346.7 L346.9 344.7 L344.6 346.9 L344.7 346.5 L341.1 345.4 L340.3 343.9 L337.4 342.7 L333.6 342.1 L334.0 342.3 L331.9 341.6 L327.7 342.3 L327.2 339.4 L324.5 339.3 L320.5 341.1 L318.1 338.3 L318.9 338.2 L313.9 336.6 L312.1 337.4 L309.5 336.8 L308.2 335.9 L307.7 332.6 L303.4 332.1 L300.7 331.6 L298.3 328.4 L299.1 328.2 L295.6 328.4 L292.5 326.8 L292.2 329.3 L290.2 326.2 L285.6 327.6 L285.9 327.2 L282.7 327.4 L279.1 326.8 L277.1 325.7 L274.2 325.6 L274.9 326.0 L271.6 326.4 L270.1 325.6 L265.6 325.4 L263.2 327.1 L262.8 323.8Z" fill="#86BCFF" stroke="#000" stroke-width="1.40" stroke-linejoin="round"/>
<path d="M356.3 301.0C357.0 298.9 358.9 298.2 362.1 297.3C365.3 296.5 373.9 295.0 375.3 295.9C376.8 296.7 372.4 300.4 370.9 302.5C369.5 304.5 368.0 306.1 366.5 308.3C365.1 310.5 363.6 315.4 362.1 315.7C360.7 315.9 358.7 312.2 357.7 309.8C356.7 307.4 355.5 303.1 356.3 301.0Z" fill="#84DC88"/>
<path d="M359.2 348.0C359.9 349.3 362.9 351.8 366.5 351.6C370.2 351.5 377.5 348.5 381.2 347.2C384.9 346.0 387.8 345.4 388.6 344.3C389.3 343.2 388.1 340.6 385.6 340.6C383.2 340.6 377.8 343.8 373.9 344.3C370.0 344.8 364.6 343.0 362.1 343.6C359.7 344.2 358.5 346.6 359.2 348.0Z" fill="#84DC88"/>
<path d="M354.8 306.9C356.3 306.9 359.4 311.3 362.1 312.7C364.8 314.2 368.2 314.2 370.9 315.7C373.6 317.1 375.3 319.6 378.3 321.5C381.2 323.5 385.6 325.2 388.6 327.4C391.5 329.6 395.4 333.0 395.9 334.8C396.4 336.5 393.7 336.7 391.5 337.7C389.3 338.7 386.1 339.9 382.7 340.6C379.3 341.4 374.9 341.9 370.9 342.1C367.0 342.3 362.1 342.6 359.2 342.1C356.3 341.6 353.3 340.6 353.3 339.2C353.3 337.7 357.2 335.2 359.2 333.3C361.2 331.3 365.1 329.9 365.1 327.4C365.1 325.0 361.2 321.1 359.2 318.6C357.2 316.2 354.1 314.7 353.3 312.7C352.6 310.8 353.3 306.9 354.8 306.9Z" fill="#4C7CFF"/>
<path d="M359.2 321.5C359.4 320.6 365.1 323.5 368.0 324.5C370.9 325.5 375.1 325.5 376.8 327.4C378.5 329.4 379.3 334.0 378.3 336.2C377.3 338.4 373.6 340.4 370.9 340.6C368.2 340.9 362.9 339.4 362.1 337.7C361.4 336.0 367.0 333.0 366.5 330.4C366.0 327.7 358.9 322.5 359.2 321.5Z" fill="#1C34F0"/>
<path d="M312.2 299.5C311.2 298.5 315.9 297.6 318.1 297.8C320.3 298.0 323.0 299.5 325.4 300.7C327.9 301.8 333.0 304.1 332.8 304.7C332.5 305.2 327.4 304.8 324.0 303.9C320.5 303.1 313.2 300.5 312.2 299.5Z" fill="#4C7CFF"/>
<path d="M306.3 333.3C306.3 333.8 313.7 335.0 318.1 336.2C322.5 337.4 328.4 339.7 332.8 340.6C337.2 341.6 343.0 342.3 344.5 342.1C346.0 341.9 344.0 340.0 341.6 339.2C339.1 338.3 333.7 337.9 329.8 337.0C325.9 336.0 322.0 333.9 318.1 333.3C314.2 332.7 306.3 332.8 306.3 333.3Z" fill="#4C7CFF"/>
<path d="M264.2 323.4 L262.6 319.3 L265.4 319.1 L265.7 316.1 L266.2 314.9 L266.9 311.8 L268.6 311.6 L271.4 312.3 L274.0 310.2 L274.8 308.6 L275.8 307.1 L279.0 308.0 L280.9 309.6 L283.3 308.8 L284.7 307.5 L287.0 307.9 L289.6 310.3 L292.1 308.2 L294.6 309.1 L296.2 308.7 L298.2 307.6 L299.1 307.4 L302.6 304.5 L304.1 305.2 L305.5 304.6 L307.8 305.4 L310.0 305.0 L311.8 304.9 L315.7 302.8 L317.3 303.1 L320.1 301.0 L320.7 301.6 L323.7 302.3 L326.1 303.7 L328.0 304.9 L330.3 306.3 L331.3 306.2 L333.9 306.7 L335.2 306.1 L337.8 308.0 L340.1 305.8 L342.7 307.5 L345.0 306.1 L346.6 305.7 L347.8 307.7 L348.2 310.8 L349.4 311.3 L352.8 312.1 L352.3 315.5 L354.0 316.8 L354.2 317.7 L355.7 320.2 L356.6 322.7 L358.0 324.1 L359.4 324.8 L362.9 326.5 L359.3 328.5 L357.7 327.4 L357.2 328.3 L352.7 329.4 L352.2 331.0 L352.3 331.9 L353.6 334.1 L356.9 336.8 L355.3 337.9 L353.3 338.7 L350.3 338.4 L348.6 337.6 L344.9 336.8 L344.8 334.9 L341.8 334.5 L339.4 334.6 L338.4 335.6 L335.2 336.8 L331.5 337.8 L329.6 335.8 L327.2 335.3 L325.1 335.8 L324.0 336.0 L322.9 335.7 L318.9 333.9 L316.7 333.9 L315.5 334.1 L313.5 331.9 L310.5 331.9 L307.3 329.9 L306.1 329.3 L304.7 328.9 L300.9 328.1 L299.0 327.4 L297.6 327.3 L294.7 327.3 L292.1 327.6 L291.7 326.7 L288.0 325.7 L286.0 324.0 L283.2 325.1 L280.3 323.9 L279.5 324.4 L276.4 325.7 L274.3 323.9 L273.1 323.7 L268.4 324.1 L266.4 322.7 L266.1 323.2Z" fill="#FF9410"/>
<path d="M343.0 308.3C344.0 307.5 346.0 306.9 347.4 307.6C348.9 308.3 350.1 310.4 351.9 312.7C353.6 315.1 356.0 319.1 357.7 321.5C359.4 324.0 363.1 325.9 362.1 327.4C361.2 328.9 352.8 328.9 351.9 330.4C350.9 331.8 356.5 334.8 356.3 336.2C356.0 337.7 352.8 339.4 350.4 339.2C347.9 338.9 342.6 336.5 341.6 334.8C340.6 333.0 345.0 330.4 344.5 328.9C344.0 327.4 338.6 327.7 338.6 325.9C338.6 324.2 344.0 320.8 344.5 318.6C345.0 316.4 341.8 314.4 341.6 312.7C341.3 311.0 342.1 309.2 343.0 308.3Z" fill="#FFE000"/>
<path d="M318.1 308.3C319.6 306.3 325.9 306.1 329.8 306.1C333.7 306.1 338.6 306.7 341.6 308.3C344.5 309.9 346.7 313.0 347.4 315.7C348.2 318.4 347.4 322.0 346.0 324.5C344.5 326.9 341.8 329.1 338.6 330.4C335.5 331.6 330.3 332.3 326.9 331.8C323.5 331.3 319.1 329.6 318.1 327.4C317.1 325.2 321.0 321.8 321.0 318.6C321.0 315.4 316.6 310.4 318.1 308.3Z" fill="#FFB000"/>
<path d="M279.9 317.1C281.5 315.8 285.3 314.6 288.7 313.5C292.1 312.4 296.8 311.1 300.5 310.5C304.1 309.9 307.8 309.2 310.7 309.8C313.7 310.4 315.4 313.0 318.1 314.2C320.8 315.4 325.2 315.7 326.9 317.1C328.6 318.6 329.8 321.5 328.4 323.0C326.9 324.5 321.8 325.7 318.1 325.9C314.4 326.2 310.3 324.7 306.3 324.5C302.4 324.2 298.3 324.5 294.6 324.5C290.9 324.5 286.9 325.0 284.3 324.5C281.8 324.0 279.9 322.8 279.2 321.5C278.4 320.3 278.3 318.5 279.9 317.1Z" fill="#FF5A08"/>
<path d="M284.1 320.1 L286.0 319.1 L288.1 317.4 L289.3 317.1 L291.4 315.4 L294.2 315.1 L296.1 314.5 L298.0 313.6 L300.0 313.7 L302.0 313.0 L304.1 311.6 L306.2 311.4 L307.8 310.1 L310.4 309.8 L310.7 312.1 L311.2 314.1 L311.4 316.0 L313.7 316.1 L316.5 315.3 L318.1 315.4 L321.2 315.6 L323.2 315.5 L325.4 315.6 L325.3 318.0 L325.5 320.5 L325.6 322.7 L325.8 325.0 L323.4 323.8 L321.4 324.2 L319.2 323.4 L316.8 322.7 L314.9 322.8 L312.3 322.0 L310.8 322.6 L308.0 322.1 L306.3 321.2 L303.8 322.1 L302.0 321.7 L299.4 322.0 L297.2 322.5 L295.0 323.5 L292.6 324.0 L290.5 323.6 L288.8 324.0 L286.2 324.0 L284.4 323.4Z" fill="#E81C08" stroke="#000" stroke-width="1.20" stroke-linejoin="round"/>
<path d="M266.7 314.2C267.0 312.9 268.8 311.0 270.4 310.5C272.0 310.0 275.0 310.5 276.2 311.3C277.5 312.0 278.1 313.7 277.7 314.9C277.3 316.2 275.6 318.0 274.0 318.6C272.5 319.2 269.7 319.0 268.5 318.3C267.2 317.6 266.4 315.5 266.7 314.2Z" fill="#A01414" stroke="#000" stroke-width="1.00" stroke-linejoin="round"/>
<path d="M312.2 327.4C312.9 327.2 315.5 325.6 316.6 325.9C317.7 326.3 318.9 328.5 318.8 329.6C318.7 330.7 316.4 332.1 315.9 332.6" fill="none" stroke="#000" stroke-width="1"/>
<path d="M324.0 331.1C324.8 331.0 327.9 330.0 329.1 330.4C330.3 330.7 331.4 332.2 331.3 333.3C331.2 334.4 328.9 336.3 328.4 337.0" fill="none" stroke="#000" stroke-width="1"/>
<path d="M331.3 340.6C331.8 339.3 335.8 338.5 337.2 339.2C338.5 339.8 339.9 343.0 339.4 344.3C338.9 345.6 335.6 347.8 334.2 347.2C332.9 346.6 330.8 342.0 331.3 340.6Z" fill="#C6D2FF" stroke="#000" stroke-width="1.10" stroke-linejoin="round"/>
<path d="M382.7 334.0C383.0 333.2 385.4 332.7 386.4 333.3C387.3 333.9 388.6 336.5 388.3 337.4C387.9 338.3 385.1 339.0 384.2 338.4C383.2 337.9 382.3 334.9 382.7 334.0Z" fill="#E0E0E0" stroke="#000" stroke-width="1.10" stroke-linejoin="round"/>
<path d="M365.8 325.9C365.7 324.8 367.8 324.5 368.7 325.2C369.6 325.9 371.1 329.3 371.2 330.4C371.4 331.5 370.4 332.6 369.5 331.8C368.6 331.1 365.9 327.0 365.8 325.9Z" fill="#FFE000"/>
<path d="M278.0 281.3 L279.7 279.4 L280.7 277.8 L283.5 276.5 L285.2 275.1 L286.8 274.7 L288.2 273.9 L289.7 273.3 L292.2 271.1 L293.6 268.2 L295.8 271.1 L296.6 273.8 L297.0 275.0 L296.8 278.3 L296.8 279.9 L295.7 282.3 L295.3 286.2 L291.7 285.6 L289.4 286.4 L287.1 288.3 L284.3 289.1 L283.0 291.3 L280.8 293.3 L280.4 291.5 L277.7 290.9 L278.1 288.6 L278.4 286.1 L279.2 283.6Z" fill="#86BCFF" stroke="#000" stroke-width="1.40" stroke-linejoin="round"/>
<path d="M283.6 283.4C283.1 282.2 283.8 279.5 285.1 278.2C286.3 277.0 289.5 277.0 290.9 276.0C292.4 275.1 293.1 271.6 293.9 272.4C294.7 273.1 295.8 278.5 295.8 280.4C295.8 282.4 295.2 283.3 293.9 284.1C292.6 284.9 289.7 285.3 288.0 285.1C286.3 285.0 284.1 284.5 283.6 283.4Z" fill="#FF9410" stroke="#000" stroke-width="1.00" stroke-linejoin="round"/>
<path d="M286.5 298.8C287.0 297.9 288.4 296.4 289.5 296.3C290.5 296.2 292.2 297.1 292.8 298.1C293.4 299.0 293.7 300.9 293.1 301.7C292.6 302.6 290.6 303.2 289.5 303.2C288.4 303.2 287.0 302.5 286.5 301.7C286.0 301.0 286.0 299.7 286.5 298.8Z" fill="#FF9410" stroke="#000" stroke-width="1.20" stroke-linejoin="round"/>
<path d="M278.4 298.8C279.2 298.3 282.6 297.7 283.6 298.1C284.6 298.4 285.1 300.5 284.3 301.0C283.6 301.5 280.2 301.4 279.2 301.0C278.2 300.6 277.7 299.3 278.4 298.8Z" fill="#86BCFF" stroke="#000" stroke-width="1.00" stroke-linejoin="round"/>
<path d="M280.6 273.8C281.1 273.5 282.6 272.3 283.6 271.9C284.6 271.5 286.0 271.4 286.5 271.3" fill="none" stroke="#000" stroke-width="1.6"/>
<path d="M230.7 333.3C231.0 332.1 233.7 328.9 235.9 327.4C238.1 325.9 242.5 324.2 243.9 324.5C245.4 324.7 244.3 327.7 244.7 328.9C245.0 330.1 246.9 331.0 246.1 331.8C245.4 332.7 242.2 333.5 240.3 334.0C238.3 334.5 236.0 334.9 234.4 334.8C232.8 334.6 230.5 334.5 230.7 333.3Z" fill="#4C7CFF" stroke="#000" stroke-width="1.20" stroke-linejoin="round"/>
<path d="M403.6 331.1 L406.1 330.8 L407.9 329.7 L407.6 327.3 L412.6 327.9 L414.5 326.2 L415.2 326.6 L417.5 327.7 L417.8 326.5 L420.1 330.2 L423.2 329.3 L424.7 330.7 L425.6 332.1 L426.1 335.5 L429.2 334.3 L434.1 337.4 L434.4 337.2 L437.6 335.8 L439.0 336.2 L442.4 337.7 L444.9 337.0 L445.0 338.1 L446.1 339.2 L449.1 340.5 L450.6 340.2 L454.1 338.6 L457.4 337.9 L457.6 336.8 L460.6 334.2 L463.2 332.9 L464.2 334.4 L464.1 334.0 L467.4 333.2 L468.5 331.3 L471.2 334.0 L473.2 335.1 L477.5 337.4 L477.6 337.2 L476.4 339.7 L473.2 340.7 L473.6 342.1 L469.3 343.5 L468.0 343.1 L468.2 346.4 L465.9 347.9 L465.0 347.4 L462.1 347.7 L459.1 348.3 L458.9 351.8 L455.0 349.5 L456.2 352.5 L452.9 353.0 L452.0 356.4 L450.1 356.5 L446.3 357.1 L443.8 354.8 L444.0 352.7 L441.8 353.8 L439.6 351.8 L436.1 349.2 L434.4 349.1 L433.1 346.6 L433.6 346.7 L431.8 344.3 L428.4 344.0 L426.7 341.4 L424.2 340.2 L421.9 342.2 L421.6 340.3 L417.9 338.6 L414.2 338.9 L413.9 341.3 L410.1 341.5 L409.5 340.3 L407.2 339.5 L404.3 338.3 L403.5 335.2 L404.6 333.4Z" fill="#84DC88" stroke="#000" stroke-width="1.40" stroke-linejoin="round"/>
<path d="M410.6 330.4C410.8 329.1 416.9 328.8 419.4 329.6C421.8 330.5 423.1 334.0 425.3 335.5C427.5 337.0 430.2 338.1 432.6 338.4C435.0 338.8 437.7 337.0 439.9 337.7C442.1 338.4 443.4 342.1 445.8 342.8C448.3 343.6 451.7 343.2 454.6 342.1C457.6 341.0 460.5 337.3 463.4 336.2C466.4 335.1 471.0 334.8 472.2 335.5C473.5 336.2 472.2 338.9 470.8 340.6C469.3 342.3 466.1 344.4 463.4 345.8C460.7 347.1 457.1 347.4 454.6 348.7C452.2 350.0 450.7 353.5 448.7 353.8C446.8 354.2 445.1 352.3 442.9 350.9C440.7 349.6 438.2 347.5 435.5 345.8C432.8 344.1 429.7 342.1 426.7 340.6C423.8 339.2 420.6 338.7 417.9 337.0C415.2 335.2 410.3 331.6 410.6 330.4Z" fill="#86BCFF"/>
<path d="M462.0 337.7C463.4 336.3 469.5 335.7 470.8 336.2C472.0 336.7 470.8 339.3 469.3 340.6C467.8 342.0 463.2 344.8 462.0 344.3C460.7 343.8 460.5 339.0 462.0 337.7Z" fill="#4C7CFF"/>
<path d="M444.3 348.0C445.2 347.1 449.4 346.4 450.2 347.2C451.1 348.1 450.3 352.3 449.5 353.1C448.6 354.0 445.9 353.2 445.1 352.4C444.2 351.5 443.5 348.8 444.3 348.0Z" fill="#4C7CFF"/>
<path d="M453.2 356.8C453.6 355.7 456.1 352.9 459.0 352.4C462.0 351.9 469.8 352.9 470.8 353.8C471.7 354.8 467.3 357.4 464.9 358.2C462.5 359.1 458.0 359.2 456.1 359.0C454.1 358.7 452.7 357.9 453.2 356.8Z" fill="#86BCFF" stroke="#000" stroke-width="1.20" stroke-linejoin="round"/>
<path d="M467.8 365.6C468.6 364.4 470.6 361.9 473.7 361.2C476.8 360.4 484.1 360.0 486.2 361.2C488.3 362.4 487.8 367.4 486.2 368.5C484.6 369.6 479.5 367.8 476.6 367.8C473.8 367.8 470.8 368.9 469.3 368.5C467.8 368.2 467.1 366.8 467.8 365.6Z" fill="#4C7CFF" stroke="#000" stroke-width="1.20" stroke-linejoin="round"/>
<path d="M479.6 362.7C480.6 361.9 485.1 361.6 486.2 362.4C487.3 363.1 487.2 366.6 486.2 367.3C485.2 368.1 481.4 367.5 480.3 366.8C479.2 366.0 478.6 363.4 479.6 362.7Z" fill="#1C34F0"/>
<path d="M481.0 377.3C481.2 376.5 483.2 375.0 484.0 375.1C484.8 375.3 485.9 377.3 485.7 378.1C485.5 378.9 483.6 380.1 482.8 380.0C482.0 379.9 480.9 378.1 481.0 377.3Z" fill="#84DC88" stroke="#000" stroke-width="1.20" stroke-linejoin="round"/>
<path d="M479.6 337.7C479.9 337.2 482.4 336.1 483.2 336.2C484.1 336.3 485.0 337.9 484.7 338.4C484.4 339.0 482.2 339.6 481.3 339.5C480.5 339.3 479.3 338.2 479.6 337.7Z" fill="#84DC88" stroke="#000" stroke-width="1.10" stroke-linejoin="round"/>
<path d="M391.2 283.4C391.7 282.6 393.2 279.9 394.4 279.0C395.7 278.0 397.7 277.5 398.8 277.5C400.0 277.5 402.0 278.8 401.5 279.3C401.0 279.8 396.8 280.2 395.9 280.4" fill="none" stroke="#000" stroke-width="1.1"/>
<path d="M400.3 289.2C400.5 288.8 403.0 288.3 404.0 288.5C404.9 288.8 406.4 290.2 406.2 290.7C405.9 291.2 403.5 291.7 402.5 291.4C401.5 291.2 400.1 289.7 400.3 289.2Z" fill="#000"/>
<path d="M387.1 309.1C387.2 307.8 390.0 306.5 391.5 306.1C393.0 305.8 395.3 305.8 395.9 306.9C396.5 308.0 396.0 311.6 395.2 312.7C394.3 313.8 392.1 314.1 390.8 313.5C389.4 312.9 387.0 310.3 387.1 309.1Z" fill="#84DC88" stroke="#000" stroke-width="1.10" stroke-linejoin="round"/>
<path d="M399.6 313.5C399.9 312.6 402.0 311.4 403.2 311.3C404.5 311.1 406.5 311.9 406.9 312.7C407.3 313.6 406.4 315.8 405.4 316.4C404.5 317.0 402.0 316.9 401.0 316.4C400.1 315.9 399.2 314.3 399.6 313.5Z" fill="#84DC88" stroke="#000" stroke-width="1.10" stroke-linejoin="round"/>
<path d="M386.4 316.4C387.0 315.9 389.9 315.3 390.8 315.7C391.6 316.0 392.1 318.1 391.5 318.6C390.9 319.1 387.9 319.0 387.1 318.6C386.2 318.2 385.7 316.9 386.4 316.4Z" fill="#D8D8D8" stroke="#000" stroke-width="1.10" stroke-linejoin="round"/>
<circle cx="341.3" cy="373.7" r="0.7" fill="#000"/>
<circle cx="331.0" cy="398.6" r="0.7" fill="#000"/>
<circle cx="370.6" cy="411.1" r="0.9" fill="#000"/>
<circle cx="335.7" cy="409.6" r="0.7" fill="#000"/>
<circle cx="340.8" cy="412.3" r="0.6" fill="#000"/>
<circle cx="478.1" cy="347.2" r="0.7" fill="#000"/>
<circle cx="481.3" cy="351.6" r="0.6" fill="#000"/>
<circle cx="267.4" cy="276.0" r="0.6" fill="#000"/>
<circle cx="353.3" cy="350.9" r="0.6" fill="#000"/>
<circle cx="384.2" cy="356.8" r="0.4" fill="#000"/>
<circle cx="367.3" cy="348.7" r="0.6" fill="#000"/>
<path d="M288.7 403.0C289.7 402.2 292.9 401.6 296.1 400.8C299.2 400.1 305.7 398.6 307.8 398.6C309.9 398.6 310.0 399.8 308.5 400.8C307.1 401.8 302.1 403.6 299.0 404.5C295.9 405.3 291.9 406.2 290.2 406.0C288.5 405.7 287.7 403.9 288.7 403.0Z" fill="#4C7CFF" stroke="#000" stroke-width="1.20" stroke-linejoin="round"/>
<path d="M315.9 411.8C316.7 411.0 319.1 410.1 321.0 409.6C323.0 409.1 326.9 408.4 327.6 408.9C328.4 409.4 326.8 411.5 325.4 412.6C324.1 413.7 321.1 415.1 319.6 415.5C318.0 415.9 316.5 415.4 315.9 414.8C315.3 414.2 315.0 412.7 315.9 411.8Z" fill="#4C7CFF" stroke="#000" stroke-width="1.20" stroke-linejoin="round"/>
<path d="M319.3 412.3C319.7 411.9 321.7 411.2 322.2 411.4C322.7 411.5 322.9 412.8 322.5 413.2C322.1 413.5 320.4 413.9 319.8 413.7C319.3 413.6 318.9 412.7 319.3 412.3Z" fill="#FFE000"/>
<path d="M85.9 203.1 L87.3 201.3 L88.3 202.0 L91.7 201.8 L93.6 201.5 L95.3 203.1 L98.5 203.5 L99.9 205.7 L100.0 207.8 L102.6 209.5 L103.6 213.0 L105.6 212.6 L105.6 214.3 L109.4 213.9 L109.4 214.3 L112.7 215.7 L115.3 217.5 L115.2 218.8 L117.1 221.0 L120.0 221.4 L120.8 223.3 L122.6 225.5 L122.1 226.1 L125.1 228.2 L126.5 229.8 L128.7 233.2 L125.3 235.7 L124.3 236.7 L122.5 236.9 L119.6 239.2 L118.7 235.9 L116.7 234.8 L113.3 238.6 L111.9 238.5 L108.3 239.0 L104.7 241.0 L102.6 238.8 L102.4 238.0 L101.1 236.8 L101.8 236.3 L101.7 234.1 L99.7 232.5 L99.1 230.2 L96.8 229.2 L95.7 225.2 L95.6 223.2 L93.9 222.1 L92.1 217.7 L91.0 216.7 L90.7 213.4 L89.4 213.2 L87.4 209.9 L87.6 208.4 L85.5 206.1 L85.6 203.3Z" fill="#86BCFF" stroke="#000" stroke-width="1.40" stroke-linejoin="round"/>
<path d="M88.1 203.7C88.8 202.6 92.4 202.3 94.0 203.0C95.5 203.7 97.6 206.5 97.6 208.1C97.6 209.7 95.3 212.3 94.0 212.5C92.7 212.8 90.8 211.1 89.8 209.6C88.9 208.1 87.4 204.8 88.1 203.7Z" fill="#84DC88"/>
<path d="M94.0 212.5C94.4 210.3 98.4 209.9 99.8 211.1C101.3 212.3 102.5 216.9 102.8 219.9C103.0 222.8 102.3 228.0 101.3 228.7C100.3 229.4 98.1 227.0 96.9 224.3C95.7 221.6 93.5 214.7 94.0 212.5Z" fill="#4C7CFF"/>
<path d="M120.4 228.7C121.0 227.7 123.9 229.7 124.8 230.9C125.6 232.1 126.1 235.1 125.5 236.0C124.9 237.0 122.0 238.0 121.1 236.8C120.3 235.5 119.8 229.7 120.4 228.7Z" fill="#1C34F0"/>
<path d="M103.5 219.9C103.7 217.7 105.5 215.8 107.2 215.5C108.9 215.1 111.7 216.5 113.8 217.7C115.9 218.9 118.3 221.2 119.7 222.8C121.0 224.4 122.2 225.8 121.9 227.2C121.5 228.7 119.2 230.8 117.4 231.6C115.7 232.5 113.5 232.9 111.6 232.4C109.6 231.9 107.0 230.8 105.7 228.7C104.4 226.6 103.3 222.1 103.5 219.9Z" fill="#FF9410" stroke="#000" stroke-width="1.10" stroke-linejoin="round"/>
<path d="M84.0 257.3 L85.8 254.5 L86.7 252.6 L88.1 253.7 L90.5 254.2 L93.0 254.2 L95.8 256.6 L97.0 256.0 L100.1 258.3 L102.6 257.8 L106.0 257.8 L106.1 260.5 L104.9 262.4 L103.1 265.0 L100.6 265.6 L100.1 266.6 L98.5 267.4 L95.9 269.2 L95.3 269.2 L92.6 269.0 L90.9 267.9 L90.2 267.3 L87.5 265.6 L86.7 264.8 L86.4 261.5 L86.2 259.2Z" fill="#86BCFF" stroke="#000" stroke-width="1.40" stroke-linejoin="round"/>
<path d="M97.6 260.3C98.0 259.4 100.2 258.7 101.3 258.8C102.4 258.9 104.0 260.1 104.2 261.0C104.5 261.8 103.6 263.4 102.8 263.9C101.9 264.5 100.0 264.8 99.1 264.2C98.2 263.6 97.3 261.2 97.6 260.3Z" fill="#FF9410" stroke="#000" stroke-width="1.00" stroke-linejoin="round"/>
<path d="M87.4 258.1C87.8 257.0 91.4 256.6 92.5 257.3C93.6 258.1 94.4 261.4 94.0 262.5C93.5 263.6 90.7 264.7 89.6 263.9C88.5 263.2 86.9 259.2 87.4 258.1Z" fill="#4C7CFF"/>
<path d="M93.4 276.7 L95.3 275.4 L97.5 273.6 L101.7 272.8 L103.1 272.6 L105.1 271.7 L107.0 271.5 L109.2 269.2 L111.6 270.8 L115.0 273.6 L113.1 274.1 L111.0 278.2 L108.4 277.8 L106.9 278.2 L104.6 278.7 L102.8 278.9 L101.2 279.3 L97.1 278.6 L96.4 280.1 L94.0 278.9Z" fill="#4C7CFF" stroke="#000" stroke-width="1.40" stroke-linejoin="round"/>
<path d="M108.6 272.7C109.0 272.1 110.7 271.7 111.3 272.0C111.8 272.3 112.2 273.9 111.9 274.5C111.6 275.1 109.9 276.0 109.4 275.7C108.8 275.4 108.3 273.3 108.6 272.7Z" fill="#FFE000"/>
<path d="M51.3 292.9 L52.1 293.0 L53.5 290.4 L58.2 287.5 L58.9 287.8 L59.1 285.6 L63.0 284.3 L64.9 281.9 L65.2 280.3 L66.8 280.7 L67.8 278.0 L67.9 275.7 L67.7 272.1 L71.4 272.4 L72.4 269.2 L73.8 268.5 L75.6 269.3 L77.3 270.5 L81.5 268.9 L81.8 271.2 L82.6 272.5 L87.4 273.0 L88.4 274.5 L89.1 279.1 L88.6 278.5 L89.0 282.4 L89.5 283.2 L90.0 287.8 L88.8 288.1 L88.5 289.1 L86.1 290.0 L84.0 293.3 L80.1 292.7 L79.6 292.2 L77.1 296.3 L77.9 295.0 L75.5 299.1 L72.6 299.5 L71.0 300.7 L72.0 303.4 L71.3 303.7 L68.0 307.4 L66.8 307.3 L64.3 310.3 L62.4 307.4 L60.7 308.6 L57.0 308.5 L56.6 306.9 L55.0 305.9 L54.5 304.5 L56.7 303.5 L61.7 301.6 L63.8 299.8 L64.4 298.4 L63.2 298.2 L64.3 294.4 L63.8 294.8 L61.2 294.7 L59.8 295.5 L54.8 298.0 L52.8 298.1 L52.9 297.3Z" fill="#84DC88" stroke="#000" stroke-width="1.40" stroke-linejoin="round"/>
<path d="M71.9 272.7C72.7 270.2 75.6 270.0 77.8 270.5C80.0 271.0 83.4 273.6 85.2 275.7C86.9 277.8 88.1 280.8 88.1 283.0C88.1 285.2 86.9 287.7 85.2 288.9C83.4 290.1 79.8 290.8 77.8 290.4C75.9 289.9 74.4 288.9 73.4 285.9C72.4 283.0 71.2 275.3 71.9 272.7Z" fill="#C6D2FF"/>
<path d="M77.8 269.8C77.6 268.1 80.7 264.7 82.2 263.9C83.7 263.2 85.6 263.9 86.6 265.4C87.6 266.9 88.6 271.3 88.1 272.7C87.6 274.2 85.4 274.7 83.7 274.2C82.0 273.7 78.1 271.5 77.8 269.8Z" fill="#86BCFF" stroke="#000" stroke-width="1.00" stroke-linejoin="round"/>
<path d="M12.7 269.6 L15.1 269.2 L18.3 271.6 L20.1 269.8 L22.1 270.7 L22.5 274.6 L26.2 273.5 L27.0 277.1 L26.8 277.9 L28.6 280.7 L29.6 283.5 L28.7 286.1 L32.4 288.9 L30.2 288.4 L27.3 291.1 L29.3 294.1 L27.0 298.5 L26.3 299.8 L26.2 300.7 L27.4 305.4 L26.8 305.6 L28.3 307.2 L29.4 311.9 L31.8 312.5 L34.4 312.7 L35.4 314.9 L37.0 316.0 L39.1 317.9 L38.6 322.2 L41.8 323.2 L40.8 324.8 L38.2 325.2 L35.7 322.9 L35.1 321.6 L34.2 322.2 L33.2 319.7 L29.6 321.0 L26.3 323.3 L25.9 324.0 L23.6 326.4 L23.8 328.2 L22.2 329.3 L17.8 329.1 L17.5 329.3 L12.8 327.1 L12.4 326.4 L12.2 324.2 L12.8 322.6 L12.4 319.4 L12.3 319.9 L12.2 314.9 L10.9 314.5 L11.0 311.0 L11.2 310.2 L14.1 308.2 L12.3 306.0 L12.5 304.1 L13.2 303.5 L13.1 299.9 L13.0 299.5 L11.4 295.3 L12.9 294.7 L12.9 292.4 L13.5 290.0 L13.5 289.5 L12.3 287.1 L13.2 285.2 L11.0 283.3 L13.3 281.4 L14.0 277.2 L13.0 274.7 L12.8 275.2 L11.5 271.3Z" fill="#84DC88" stroke="#000" stroke-width="1.40" stroke-linejoin="round"/>
<path d="M12.5 285.9C13.8 280.6 18.7 283.3 20.6 284.5C22.4 285.7 23.2 289.9 23.5 293.3C23.7 296.7 21.8 301.4 22.0 305.0C22.3 308.7 25.4 313.1 25.0 315.3C24.5 317.5 21.2 318.0 19.1 318.2C17.0 318.5 13.6 322.2 12.5 316.8C11.4 311.4 11.1 291.3 12.5 285.9Z" fill="#C6D2FF"/>
<path d="M12.5 293.3C13.1 291.3 15.7 292.8 16.1 294.8C16.6 296.7 16.0 303.1 15.4 305.0C14.8 307.0 13.0 308.5 12.5 306.5C12.0 304.5 11.9 295.2 12.5 293.3Z" fill="#86BCFF"/>
<path d="M11.9 350.8 L15.3 351.2 L17.2 352.5 L19.6 354.2 L20.6 356.0 L17.6 357.7 L16.3 358.7 L12.9 358.2 L12.1 355.9 L13.3 355.0 L13.1 352.7Z" fill="#84DC88" stroke="#000" stroke-width="1.20" stroke-linejoin="round"/>
<path d="M25.0 357.3 L26.0 357.9 L28.9 355.8 L31.4 357.6 L33.7 358.9 L33.0 361.3 L31.7 364.4 L29.7 363.7 L27.5 361.6 L26.3 360.2Z" fill="#84DC88" stroke="#000" stroke-width="1.20" stroke-linejoin="round"/>
<path d="M48.4 340.8 L50.4 337.7 L49.8 336.9 L52.1 336.9 L54.9 334.7 L56.0 333.4 L56.1 331.3 L57.6 331.3 L59.3 332.5 L61.3 333.5 L64.1 334.1 L67.6 331.9 L67.1 333.8 L70.5 330.2 L74.2 332.2 L73.6 329.7 L75.9 328.7 L79.7 327.4 L82.1 327.1 L82.6 329.5 L85.6 328.3 L88.4 328.4 L88.7 329.0 L90.8 333.9 L92.5 334.9 L92.8 334.7 L96.0 336.4 L96.4 335.7 L99.4 337.4 L101.6 339.5 L99.8 342.8 L98.6 342.8 L95.5 343.5 L93.6 345.5 L94.2 346.3 L95.9 348.2 L93.7 348.1 L92.9 350.4 L90.2 351.0 L88.9 351.6 L88.0 354.9 L85.8 354.9 L82.6 354.8 L81.0 352.5 L80.1 354.8 L76.2 354.9 L77.2 357.4 L77.0 357.8 L77.8 361.2 L82.3 363.9 L79.3 362.7 L77.2 367.1 L77.4 368.6 L73.0 369.2 L71.4 370.5 L68.2 372.5 L68.4 371.1 L64.7 374.5 L62.8 375.8 L61.7 376.1 L60.4 374.1 L57.1 373.7 L56.4 374.7 L52.4 374.5 L51.1 371.7 L50.8 371.9 L50.8 368.6 L51.6 367.4 L50.7 363.5 L50.6 362.8 L51.6 359.6 L50.5 356.7 L52.1 355.2 L48.9 353.2 L50.7 351.0 L49.7 348.9 L48.6 346.1 L48.1 341.4Z" fill="#84DC88" stroke="#000" stroke-width="1.40" stroke-linejoin="round"/>
<path d="M57.3 340.3C58.7 338.6 60.9 337.6 64.6 335.9C68.3 334.2 75.4 330.8 79.3 330.0C83.2 329.1 86.4 329.7 88.1 330.7C89.8 331.7 87.8 334.5 89.6 335.9C91.3 337.2 97.6 337.5 98.4 338.8C99.1 340.1 94.4 342.5 94.0 343.9C93.5 345.4 96.4 346.3 95.4 347.6C94.4 349.0 90.8 351.3 88.1 352.0C85.4 352.7 81.5 351.0 79.3 352.0C77.1 353.0 74.9 356.2 74.9 357.9C74.9 359.6 79.3 360.8 79.3 362.3C79.3 363.8 76.8 365.5 74.9 366.7C72.9 367.9 70.0 368.5 67.5 369.6C65.1 370.7 62.4 373.1 60.2 373.3C58.0 373.5 55.2 373.7 54.3 371.1C53.5 368.5 54.8 362.0 55.1 357.9C55.3 353.7 55.4 349.1 55.8 346.1C56.2 343.2 55.8 342.0 57.3 340.3Z" fill="#86BCFF"/>
<path d="M64.6 337.3C65.8 335.6 70.5 334.6 73.4 334.4C76.3 334.2 79.8 334.4 82.2 335.9C84.7 337.3 86.9 340.8 88.1 343.2C89.3 345.7 91.0 349.0 89.6 350.5C88.1 352.1 82.0 351.5 79.3 352.7C76.6 354.0 73.9 356.3 73.4 357.9C72.9 359.5 77.1 361.1 76.3 362.3C75.6 363.5 71.2 365.5 69.0 365.2C66.8 365.0 63.9 363.0 63.1 360.8C62.4 358.6 64.1 354.7 64.6 352.0C65.1 349.3 66.1 347.1 66.1 344.7C66.1 342.2 63.4 339.0 64.6 337.3Z" fill="#1C34F0"/>
<path d="M68.7 340.5 L71.2 339.7 L72.5 338.0 L74.4 337.0 L77.1 337.4 L78.8 338.0 L80.5 338.7 L82.4 340.9 L82.6 342.4 L84.0 345.1 L85.9 347.2 L87.0 349.4 L84.7 349.9 L81.4 350.5 L79.3 350.9 L77.2 351.6 L74.7 352.7 L73.2 350.6 L72.3 349.7 L71.1 347.8 L70.0 345.5 L69.1 342.9Z" fill="#FFE000" stroke="#000" stroke-width="1.20" stroke-linejoin="round"/>
<path d="M71.9 346.1C72.3 344.9 75.0 343.9 76.3 343.9C77.7 343.9 79.6 345.2 80.0 346.1C80.4 347.1 79.5 349.0 78.5 349.8C77.6 350.7 75.2 351.9 74.1 351.3C73.0 350.7 71.6 347.4 71.9 346.1Z" fill="#FF9410"/>
<path d="M65.8 359.6C66.2 359.2 68.3 358.8 69.0 359.1C69.7 359.4 70.2 360.9 69.7 361.4C69.3 361.9 67.0 362.3 66.4 362.0C65.7 361.7 65.3 360.1 65.8 359.6Z" fill="#FFE000" stroke="#000" stroke-width="0.90" stroke-linejoin="round"/>
<path d="M11.2 376.9 L14.9 378.4 L15.6 376.9 L19.0 378.9 L19.5 379.8 L21.7 380.8 L22.3 381.0 L26.2 383.4 L25.7 386.8 L29.0 385.4 L31.0 387.8 L32.0 388.5 L34.0 388.2 L35.4 386.3 L39.7 385.5 L41.2 384.1 L41.1 383.3 L42.4 378.7 L43.2 378.1 L43.0 374.2 L47.2 374.6 L47.0 373.4 L49.0 373.5 L52.1 371.8 L55.3 372.2 L55.8 372.5 L59.5 373.3 L61.0 373.7 L63.1 376.1 L63.6 377.6 L63.8 379.7 L64.5 380.8 L64.5 383.5 L67.2 387.7 L66.1 387.1 L69.7 390.4 L69.7 390.5 L74.8 389.2 L75.1 389.3 L79.2 388.0 L78.6 389.7 L81.2 392.5 L81.4 394.2 L80.1 396.0 L82.6 399.0 L79.8 402.1 L79.4 402.0 L77.8 403.7 L76.4 405.5 L76.6 407.0 L72.6 409.6 L75.7 410.6 L76.2 412.8 L76.5 415.4 L75.9 417.1 L72.7 418.4 L70.4 418.1 L70.5 419.7 L68.4 421.2 L67.4 424.3 L63.8 427.5 L66.2 426.8 L67.3 427.2 L68.8 430.3 L70.4 430.0 L73.1 432.1 L74.6 434.1 L75.9 433.9 L78.2 434.3 L79.3 435.5 L82.6 436.7 L84.1 438.1 L85.8 440.6 L86.6 442.7 L89.3 442.7 L89.1 443.3 L91.5 444.7 L95.3 447.1 L90.5 446.6 L91.3 446.2 L86.6 447.4 L85.6 447.8 L85.0 447.4 L83.2 445.0 L80.7 445.8 L76.6 446.1 L76.0 445.0 L73.5 447.6 L71.6 446.8 L69.0 448.3 L66.8 447.5 L66.0 445.4 L65.1 446.2 L63.1 448.5 L60.8 448.3 L57.1 447.1 L54.9 448.7 L51.9 446.2 L52.8 448.4 L50.0 449.0 L47.4 448.7 L45.1 448.9 L41.9 447.5 L41.5 448.7 L39.0 448.4 L38.7 447.7 L34.2 446.5 L34.3 448.0 L30.8 448.2 L27.9 447.3 L26.2 447.5 L26.2 447.5 L21.7 449.6 L21.2 447.0 L19.5 449.2 L17.4 449.5 L14.6 447.8 L13.6 449.2 L11.5 447.8 L8.4 449.5 L8.4 447.2 L8.7 445.7 L8.3 442.8 L9.9 440.2 L7.8 439.3 L7.6 437.9 L8.1 436.1 L8.9 431.7 L8.9 431.3 L8.8 429.2 L8.4 428.2 L7.8 425.6 L7.3 422.7 L7.4 419.5 L9.1 419.9 L8.2 416.3 L8.7 414.9 L8.3 412.1 L9.9 410.7 L8.3 409.6 L10.4 406.3 L7.3 403.9 L10.1 401.4 L7.8 401.4 L7.6 399.6 L7.9 396.1 L9.1 393.2 L9.7 392.2 L9.7 391.2 L7.5 389.4 L9.8 385.5 L9.1 383.4 L8.9 383.1 L8.4 380.4 L7.6 379.4 L9.2 377.3Z" fill="#84DC88" stroke="#000" stroke-width="1.40" stroke-linejoin="round"/>
<path d="M12.5 379.9C14.1 378.4 19.7 382.6 22.0 384.3C24.3 386.0 24.0 389.0 26.4 390.2C28.9 391.4 34.0 392.4 36.7 391.7C39.4 390.9 40.9 388.0 42.6 385.8C44.3 383.6 45.5 380.0 47.0 378.4C48.4 376.8 49.2 376.1 51.4 376.2C53.6 376.4 58.5 377.3 60.2 379.2C61.9 381.0 60.7 384.9 61.7 387.2C62.6 389.6 63.6 392.1 66.1 393.1C68.5 394.1 74.4 391.4 76.3 393.1C78.3 394.8 78.8 400.9 77.8 403.4C76.8 405.8 71.3 406.1 70.5 407.8C69.6 409.5 73.4 412.0 72.7 413.7C71.9 415.4 67.9 416.2 66.1 418.1C64.2 419.9 70.6 428.8 61.7 424.7C52.7 420.5 20.7 400.6 12.5 393.1C4.3 385.7 10.9 381.4 12.5 379.9Z" fill="#86BCFF"/>
<path d="M44.0 404.9C45.3 402.7 52.4 401.4 55.8 401.9C59.2 402.4 62.4 405.6 64.6 407.8C66.8 410.0 69.2 412.4 69.0 415.1C68.8 417.8 66.6 424.0 63.1 424.0C59.7 424.0 51.6 418.3 48.4 415.1C45.3 412.0 42.8 407.1 44.0 404.9Z" fill="#4C7CFF"/>
<path d="M52.9 413.7C54.1 412.6 59.6 411.5 61.7 412.2C63.7 412.9 65.2 416.2 65.3 418.1C65.5 420.0 64.2 423.5 62.4 423.7C60.6 423.8 55.9 420.5 54.3 418.8C52.7 417.1 51.6 414.8 52.9 413.7Z" fill="#1C34F0"/>
<path d="M22.0 394.6C22.8 392.9 31.1 392.4 33.8 393.1C36.5 393.9 38.9 397.3 38.2 399.0C37.4 400.7 32.1 404.1 29.4 403.4C26.7 402.7 21.3 396.3 22.0 394.6Z" fill="#C6D2FF"/>
<path d="M48.4 388.7C49.4 387.0 55.5 386.3 57.3 387.2C59.0 388.2 59.7 392.9 58.7 394.6C57.7 396.3 53.1 398.5 51.4 397.5C49.7 396.5 47.5 390.4 48.4 388.7Z" fill="#C6D2FF"/>
<path d="M80.0 419.5 L80.6 418.2 L82.7 415.9 L83.7 416.3 L85.0 415.6 L84.3 411.7 L88.0 411.1 L88.8 410.6 L92.9 412.3 L94.9 409.9 L97.5 411.9 L97.5 412.8 L100.3 412.7 L103.0 414.7 L102.3 418.7 L101.8 419.2 L104.5 421.1 L105.4 421.0 L105.9 418.4 L108.5 420.9 L112.2 420.2 L112.9 420.1 L116.9 419.4 L116.5 419.9 L119.7 423.0 L122.0 422.2 L120.4 424.4 L119.6 425.0 L115.1 424.8 L114.8 424.8 L112.9 424.9 L112.4 426.0 L114.8 430.3 L114.4 430.1 L112.5 431.4 L111.7 433.6 L109.4 432.1 L104.7 433.0 L105.2 429.7 L101.3 429.8 L100.4 427.4 L95.0 429.0 L94.2 426.8 L92.9 426.2 L90.7 424.1 L86.8 422.4 L85.6 425.2 L83.8 424.9 L82.6 426.8 L81.3 423.8 L80.8 423.7Z" fill="#86BCFF" stroke="#000" stroke-width="1.40" stroke-linejoin="round"/>
<path d="M88.1 415.1C89.3 414.0 93.2 413.2 95.4 413.7C97.6 414.2 101.5 416.6 101.3 418.1C101.1 419.5 96.2 422.1 94.0 422.5C91.8 422.8 89.1 421.5 88.1 420.3C87.1 419.1 86.9 416.2 88.1 415.1Z" fill="#4C7CFF"/>
<path d="M64.6 419.5C65.3 418.0 68.8 416.6 70.5 416.6C72.2 416.6 74.4 418.1 74.9 419.5C75.4 421.0 74.9 424.3 73.4 425.4C71.9 426.5 67.5 427.1 66.1 426.2C64.6 425.2 63.9 421.1 64.6 419.5Z" fill="#86BCFF" stroke="#000" stroke-width="1.20" stroke-linejoin="round"/>
<path d="M82.2 396.8C83.1 395.4 86.9 394.5 88.1 394.6C89.3 394.7 89.8 396.1 89.6 397.5C89.3 399.0 87.7 402.5 86.6 403.4C85.5 404.3 83.7 403.8 82.9 402.7C82.2 401.6 81.4 398.1 82.2 396.8Z" fill="#86BCFF" stroke="#000" stroke-width="1.20" stroke-linejoin="round"/>
<path d="M73.4 384.3C74.0 383.1 78.8 381.1 80.0 381.4C81.2 381.6 81.4 384.6 80.7 385.8C80.1 387.0 77.6 389.0 76.3 388.7C75.1 388.5 72.8 385.5 73.4 384.3Z" fill="#C6D2FF" stroke="#000" stroke-width="1.20" stroke-linejoin="round"/>
<path d="M132.1 410.7C133.4 409.1 138.5 405.8 140.9 404.9C143.4 403.9 146.8 403.9 146.8 404.9C146.8 405.8 143.1 409.1 140.9 410.7C138.7 412.3 135.1 414.4 133.6 414.4C132.1 414.4 130.9 412.3 132.1 410.7Z" fill="#86BCFF" stroke="#000" stroke-width="1.20" stroke-linejoin="round"/>
<path d="M152.7 412.2C152.9 411.0 157.2 408.0 158.6 407.8C159.9 407.6 161.0 409.5 160.8 410.7C160.5 412.0 158.4 414.9 157.1 415.1C155.7 415.4 152.4 413.4 152.7 412.2Z" fill="#C6D2FF" stroke="#000" stroke-width="1.20" stroke-linejoin="round"/>
<path d="M111.4 365.2 L112.9 363.2 L114.4 361.6 L115.6 359.6 L117.2 360.0 L119.6 360.7 L122.2 362.0 L124.8 362.5 L126.4 361.9 L129.7 361.1 L127.3 362.6 L127.2 364.2 L125.4 366.0 L124.4 368.6 L122.1 368.5 L120.1 369.9 L117.1 368.9 L116.2 368.7 L114.0 366.7Z" fill="#4C7CFF" stroke="#000" stroke-width="1.20" stroke-linejoin="round"/>
<path d="M107.9 386.5C107.7 385.7 111.6 382.0 113.0 381.4C114.5 380.8 116.5 382.0 116.7 382.8C117.0 383.7 116.0 385.9 114.5 386.5C113.0 387.1 108.2 387.4 107.9 386.5Z" fill="#C6D2FF" stroke="#000" stroke-width="1.20" stroke-linejoin="round"/>
<path d="M230.5 331.5C231.2 329.7 235.4 326.8 237.8 325.6C240.3 324.4 243.7 323.1 245.2 324.1C246.6 325.1 247.4 329.7 246.6 331.5C245.9 333.2 243.0 333.7 240.8 334.4C238.6 335.1 235.1 336.4 233.4 335.9C231.7 335.4 229.8 333.2 230.5 331.5Z" fill="#4C7CFF" stroke="#000" stroke-width="1.40" stroke-linejoin="round"/>
<path d="M238.6 327.8C239.0 327.2 241.5 326.2 242.2 326.3C243.0 326.4 243.4 328.0 243.0 328.5C242.5 329.1 240.3 329.8 239.6 329.7C238.9 329.6 238.1 328.4 238.6 327.8Z" fill="#FF9410"/>
<path d="M195.3 309.4C195.4 308.5 197.9 307.5 198.9 308.0C200.0 308.5 201.5 311.4 201.4 312.4C201.3 313.4 199.2 314.3 198.2 313.8C197.2 313.4 195.1 310.4 195.3 309.4Z" fill="#86BCFF" stroke="#000" stroke-width="1.10" stroke-linejoin="round"/>
<path d="M82.9 312.4C83.3 310.8 87.0 308.2 88.1 308.7C89.2 309.2 89.9 313.7 89.6 315.3C89.2 316.9 87.0 318.7 85.9 318.2C84.8 317.8 82.6 314.0 82.9 312.4Z" fill="#D0D0D0" stroke="#000" stroke-width="1.10" stroke-linejoin="round"/>
<ellipse cx="73.4" cy="260.3" rx="1.7" ry="1.1" fill="#000" transform="rotate(176 73.4 260.3)"/>
<ellipse cx="91.0" cy="294.8" rx="2.1" ry="1.1" fill="#000" transform="rotate(135 91.0 294.8)"/>
<ellipse cx="35.2" cy="327.1" rx="1.0" ry="1.0" fill="#000" transform="rotate(63 35.2 327.1)"/>
<ellipse cx="25.7" cy="326.3" rx="1.8" ry="1.2" fill="#000" transform="rotate(28 25.7 326.3)"/>
<ellipse cx="33.0" cy="339.5" rx="1.4" ry="1.2" fill="#000" transform="rotate(97 33.0 339.5)"/>
<ellipse cx="35.2" cy="344.7" rx="1.7" ry="1.0" fill="#000" transform="rotate(3 35.2 344.7)"/>
<ellipse cx="47.0" cy="344.7" rx="1.9" ry="0.9" fill="#000" transform="rotate(46 47.0 344.7)"/>
<ellipse cx="38.2" cy="356.4" rx="2.1" ry="1.2" fill="#000" transform="rotate(40 38.2 356.4)"/>
<ellipse cx="35.2" cy="368.2" rx="1.9" ry="0.7" fill="#000" transform="rotate(158 35.2 368.2)"/>
<ellipse cx="27.2" cy="374.8" rx="1.7" ry="0.8" fill="#000" transform="rotate(0 27.2 374.8)"/>
<ellipse cx="30.8" cy="401.9" rx="2.2" ry="0.7" fill="#000" transform="rotate(55 30.8 401.9)"/>
<ellipse cx="49.9" cy="407.8" rx="2.2" ry="0.8" fill="#000" transform="rotate(42 49.9 407.8)"/>
<ellipse cx="60.2" cy="418.1" rx="1.3" ry="1.3" fill="#000" transform="rotate(138 60.2 418.1)"/>
<ellipse cx="145.3" cy="377.0" rx="2.1" ry="1.1" fill="#000" transform="rotate(46 145.3 377.0)"/>
<ellipse cx="160.0" cy="387.2" rx="2.1" ry="1.1" fill="#000" transform="rotate(98 160.0 387.2)"/>
<ellipse cx="168.8" cy="396.1" rx="1.4" ry="0.9" fill="#000" transform="rotate(42 168.8 396.1)"/>
<ellipse cx="183.5" cy="400.5" rx="2.1" ry="0.9" fill="#000" transform="rotate(84 183.5 400.5)"/>
<ellipse cx="192.3" cy="402.7" rx="1.4" ry="1.1" fill="#000" transform="rotate(0 192.3 402.7)"/>
<ellipse cx="133.6" cy="366.0" rx="1.7" ry="1.1" fill="#000" transform="rotate(16 133.6 366.0)"/>
<ellipse cx="113.0" cy="376.2" rx="1.4" ry="1.2" fill="#000" transform="rotate(123 113.0 376.2)"/>
<ellipse cx="105.0" cy="407.8" rx="1.8" ry="0.8" fill="#000" transform="rotate(120 105.0 407.8)"/>
<ellipse cx="117.4" cy="404.9" rx="1.8" ry="0.7" fill="#000" transform="rotate(5 117.4 404.9)"/>
<ellipse cx="94.0" cy="430.6" rx="2.1" ry="0.9" fill="#000" transform="rotate(103 94.0 430.6)"/>
<ellipse cx="98.4" cy="435.7" rx="1.0" ry="1.2" fill="#000" transform="rotate(93 98.4 435.7)"/>
<ellipse cx="96.2" cy="443.0" rx="1.5" ry="1.2" fill="#000" transform="rotate(115 96.2 443.0)"/>
<ellipse cx="114.5" cy="446.7" rx="1.1" ry="0.8" fill="#000" transform="rotate(50 114.5 446.7)"/>
<ellipse cx="125.5" cy="444.5" rx="1.1" ry="0.8" fill="#000" transform="rotate(118 125.5 444.5)"/>
<ellipse cx="136.5" cy="451.8" rx="1.4" ry="0.9" fill="#000" transform="rotate(134 136.5 451.8)"/>
<ellipse cx="217.3" cy="337.3" rx="1.3" ry="1.0" fill="#000" transform="rotate(150 217.3 337.3)"/>
<ellipse cx="198.9" cy="321.2" rx="1.9" ry="1.2" fill="#000" transform="rotate(75 198.9 321.2)"/>
<ellipse cx="61.7" cy="341.7" rx="1.0" ry="1.3" fill="#000" transform="rotate(23 61.7 341.7)"/>
<ellipse cx="88.1" cy="388.7" rx="1.3" ry="1.0" fill="#000" transform="rotate(92 88.1 388.7)"/>
<path d="M12.5 70.7C13.6 67.5 17.3 72.2 19.1 73.6C20.9 75.1 23.2 77.6 23.5 79.5C23.7 81.5 21.3 82.7 20.6 85.4C19.8 88.1 19.9 93.7 19.1 95.7C18.2 97.6 16.5 97.6 15.4 97.1C14.3 96.7 13.0 97.1 12.5 92.7C12.0 88.3 11.4 73.9 12.5 70.7Z" fill="#86BCFF" stroke="#000" stroke-width="1.20" stroke-linejoin="round"/>
<path d="M12.5 73.6C13.5 72.1 16.9 74.8 18.4 75.9C19.8 77.0 21.4 78.8 21.3 80.3C21.2 81.7 19.1 83.8 17.6 84.7C16.1 85.5 13.3 87.2 12.5 85.4C11.6 83.6 11.5 75.2 12.5 73.6Z" fill="#FF9410"/>
<path d="M12.5 74.4C12.8 73.7 14.3 74.2 14.7 74.8C15.0 75.4 15.0 77.4 14.7 78.1C14.3 78.7 12.8 79.4 12.5 78.8C12.1 78.2 12.1 75.0 12.5 74.4Z" fill="#FFE000"/>
<path d="M16.1 78.8C16.7 78.1 19.2 77.6 19.8 78.1C20.4 78.5 20.4 81.0 19.8 81.7C19.3 82.5 17.1 82.9 16.4 82.5C15.8 82.0 15.6 79.5 16.1 78.8Z" fill="#E81C08"/>
</g>
</g>
<g transform="translate(0 0.0)">
<text class="ax" x="15.4" y="286.6" text-anchor="middle">48</text>
<text class="ax" x="94.2" y="286.6" text-anchor="middle">50</text>
<text class="ax" x="173.0" y="286.6" text-anchor="middle">52</text>
<text class="ax" x="251.8" y="286.6" text-anchor="middle">54</text>
<text class="ax" x="330.6" y="286.6" text-anchor="middle">56</text>
<text class="ax" x="409.4" y="286.6" text-anchor="middle">58</text>
<text class="ax" x="240.6" y="54.0" text-anchor="end">-12</text>
<text class="ax" x="240.6" y="138.6" text-anchor="end">-14</text>
<text class="ax" x="240.6" y="223.3" text-anchor="end">-16</text>
<text class="ax" x="240.6" y="307.9" text-anchor="end">-18</text>
<text class="ax" x="240.6" y="392.6" text-anchor="end">-20</text>
<text class="ax" x="240.6" y="477.2" text-anchor="end">-22</text>
<text class="ti" x="37.2" y="65.9">VIRS T<tspan class="sub" dy="6" dx="0.5">B11</tspan><tspan dy="-6" dx="1.5"> (K)</tspan></text>
<text class="pl" x="456.4" y="522.6" text-anchor="middle">(g)</text>
</g>
<path d="M243.1 294.9h12.6M249.4 288.6v12.6" stroke="#000" stroke-width="4.4"/>
<rect x="495.0" y="531.72" width="9.0" height="8.57" fill="#F7F7F7"/>
<rect x="495.0" y="523.25" width="9.0" height="8.57" fill="#EFEFEF"/>
<rect x="495.0" y="514.78" width="9.0" height="8.57" fill="#E7E7E7"/>
<rect x="495.0" y="506.32" width="9.0" height="8.57" fill="#DFDFDF"/>
<rect x="495.0" y="497.85" width="9.0" height="8.57" fill="#D7D7D7"/>
<rect x="495.0" y="489.38" width="9.0" height="8.57" fill="#CFCFCF"/>
<rect x="495.0" y="480.92" width="9.0" height="8.57" fill="#C6C6C6"/>
<rect x="495.0" y="472.45" width="9.0" height="8.57" fill="#BEBEBE"/>
<rect x="495.0" y="463.98" width="9.0" height="8.57" fill="#B6B6B6"/>
<rect x="495.0" y="455.52" width="9.0" height="8.57" fill="#AEAEAE"/>
<rect x="495.0" y="447.05" width="9.0" height="8.57" fill="#A6A6A6"/>
<rect x="495.0" y="438.58" width="9.0" height="8.57" fill="#9E9E9E"/>
<rect x="495.0" y="430.12" width="9.0" height="8.57" fill="#969696"/>
<rect x="495.0" y="421.65" width="9.0" height="8.57" fill="#8E8E8E"/>
<rect x="495.0" y="413.18" width="9.0" height="8.57" fill="#7EE07E"/>
<rect x="495.0" y="404.72" width="9.0" height="8.57" fill="#78D678"/>
<rect x="495.0" y="396.25" width="9.0" height="8.57" fill="#71CB71"/>
<rect x="495.0" y="387.78" width="9.0" height="8.57" fill="#6AC06A"/>
<rect x="495.0" y="379.32" width="9.0" height="8.57" fill="#64B664"/>
<rect x="495.0" y="370.85" width="9.0" height="8.57" fill="#C8D0FF"/>
<rect x="495.0" y="362.38" width="9.0" height="8.57" fill="#B5CAFF"/>
<rect x="495.0" y="353.92" width="9.0" height="8.57" fill="#A2C3FF"/>
<rect x="495.0" y="345.45" width="9.0" height="8.57" fill="#8FBDFF"/>
<rect x="495.0" y="336.98" width="9.0" height="8.57" fill="#7BB6FF"/>
<rect x="495.0" y="328.52" width="9.0" height="8.57" fill="#64AFFF"/>
<rect x="495.0" y="320.05" width="9.0" height="8.57" fill="#4FA4FF"/>
<rect x="495.0" y="311.58" width="9.0" height="8.57" fill="#4686FF"/>
<rect x="495.0" y="303.12" width="9.0" height="8.57" fill="#3D65FF"/>
<rect x="495.0" y="294.65" width="9.0" height="8.57" fill="#3542FF"/>
<rect x="495.0" y="286.18" width="9.0" height="8.57" fill="#1818FF"/>
<rect x="495.0" y="277.72" width="9.0" height="8.57" fill="#0000F6"/>
<rect x="495.0" y="269.25" width="9.0" height="8.57" fill="#0000E3"/>
<rect x="495.0" y="260.78" width="9.0" height="8.57" fill="#0000D1"/>
<rect x="495.0" y="252.32" width="9.0" height="8.57" fill="#0000BE"/>
<rect x="495.0" y="243.85" width="9.0" height="8.57" fill="#FFFF00"/>
<rect x="495.0" y="235.38" width="9.0" height="8.57" fill="#FFF200"/>
<rect x="495.0" y="226.92" width="9.0" height="8.57" fill="#FFE600"/>
<rect x="495.0" y="218.45" width="9.0" height="8.57" fill="#FFD900"/>
<rect x="495.0" y="209.98" width="9.0" height="8.57" fill="#FFCC00"/>
<rect x="495.0" y="201.52" width="9.0" height="8.57" fill="#FF9200"/>
<rect x="495.0" y="193.05" width="9.0" height="8.57" fill="#FF8A00"/>
<rect x="495.0" y="184.58" width="9.0" height="8.57" fill="#FF8100"/>
<rect x="495.0" y="176.12" width="9.0" height="8.57" fill="#FF7800"/>
<rect x="495.0" y="167.65" width="9.0" height="8.57" fill="#FF7000"/>
<rect x="495.0" y="159.18" width="9.0" height="8.57" fill="#FF4500"/>
<rect x="495.0" y="150.72" width="9.0" height="8.57" fill="#FF3A00"/>
<rect x="495.0" y="142.25" width="9.0" height="8.57" fill="#FF3000"/>
<rect x="495.0" y="133.78" width="9.0" height="8.57" fill="#FF2500"/>
<rect x="495.0" y="125.32" width="9.0" height="8.57" fill="#FF1A00"/>
<rect x="495.0" y="116.85" width="9.0" height="8.57" fill="#CC0000"/>
<rect x="495.0" y="108.38" width="9.0" height="8.57" fill="#C10400"/>
<rect x="495.0" y="99.92" width="9.0" height="8.57" fill="#B60700"/>
<rect x="495.0" y="91.45" width="9.0" height="8.57" fill="#AB0A00"/>
<rect x="495.0" y="82.98" width="9.0" height="8.57" fill="#A00E00"/>
<rect x="495.0" y="74.52" width="9.0" height="8.57" fill="#680E06"/>
<rect x="495.0" y="66.05" width="9.0" height="8.57" fill="#65110A"/>
<rect x="495.0" y="57.58" width="9.0" height="8.57" fill="#62140F"/>
<rect x="495.0" y="49.12" width="9.0" height="8.57" fill="#5F1714"/>
<rect x="495.0" y="40.65" width="9.0" height="8.57" fill="#5C1A18"/>
<path d="M504.0 548.7h2.2" stroke="#000" stroke-width="0.7"/>
<text class="tk" x="524.1" y="557.2" text-anchor="middle">304</text>
<path d="M504.0 497.9h2.2" stroke="#000" stroke-width="0.7"/>
<text class="tk" x="524.1" y="506.4" text-anchor="middle">292</text>
<path d="M504.0 447.1h2.2" stroke="#000" stroke-width="0.7"/>
<text class="tk" x="524.1" y="455.6" text-anchor="middle">280</text>
<path d="M504.0 396.3h2.2" stroke="#000" stroke-width="0.7"/>
<text class="tk" x="524.1" y="404.8" text-anchor="middle">268</text>
<path d="M504.0 345.5h2.2" stroke="#000" stroke-width="0.7"/>
<text class="tk" x="524.1" y="354.0" text-anchor="middle">256</text>
<path d="M504.0 294.7h2.2" stroke="#000" stroke-width="0.7"/>
<text class="tk" x="524.1" y="303.2" text-anchor="middle">244</text>
<path d="M504.0 243.9h2.2" stroke="#000" stroke-width="0.7"/>
<text class="tk" x="524.1" y="252.4" text-anchor="middle">232</text>
<path d="M504.0 193.1h2.2" stroke="#000" stroke-width="0.7"/>
<text class="tk" x="524.1" y="201.6" text-anchor="middle">220</text>
<path d="M504.0 142.3h2.2" stroke="#000" stroke-width="0.7"/>
<text class="tk" x="524.1" y="150.8" text-anchor="middle">208</text>
<path d="M504.0 91.5h2.2" stroke="#000" stroke-width="0.7"/>
<text class="tk" x="524.1" y="100.0" text-anchor="middle">196</text>
</g>
<g transform="translate(590.33 1181.05)">
<g clip-path="url(#cp)">

</g>
<path d="M15.4 41.3V548.7 M94.2 41.3V548.7 M173.0 41.3V548.7 M251.8 41.3V548.7 M330.6 41.3V548.7 M409.4 41.3V548.7" class="gr" stroke-dashoffset="0"/>
<path d="M13.0 54.3H486.0 M13.0 138.9H486.0 M13.0 223.6H486.0 M13.0 308.2H486.0 M13.0 392.9H486.0 M13.0 477.5H486.0" class="gr"/>
<g clip-path="url(#cp)">
<path d="M13.2 121.1 L14.3 119.3 L16.9 119.3 L19.8 120.7 L22.0 124.4 L23.1 128.1 L25.0 129.9 L26.4 131.0 L27.9 128.1 L28.3 122.9 L29.0 119.6 L32.3 118.9 L35.2 117.4 L35.6 115.6 L34.5 113.4 L36.7 114.5 L40.4 115.2 L44.0 114.1 L46.6 111.9 L47.3 108.3 L47.7 103.9 L48.8 100.2 L50.6 96.5 L52.5 92.5 L52.9 89.9 L51.8 86.2 L50.6 81.8 L49.9 78.9 L47.7 76.0 L45.9 74.1 L44.4 73.4 L47.0 71.9 L49.2 73.4 L51.4 74.1 L53.2 73.0 L53.6 70.1 L55.8 67.9 L58.7 66.1 L60.9 63.5 L61.3 59.8 L63.1 54.7 L65.3 53.2 L66.4 54.7 L64.6 58.4 L64.6 64.2 L66.4 66.8 L68.3 65.0 L70.5 65.3 L72.3 69.4 L76.0 69.7 L77.1 73.0 L77.4 77.4 L77.1 81.8 L80.0 83.7 L80.7 87.0 L83.3 86.6 L85.9 88.8 L88.5 91.4 L88.8 94.3 L91.4 98.0 L91.8 102.4 L92.5 106.8 L94.0 110.5 L95.4 112.7 L95.8 116.3 L97.6 122.2 L99.1 128.1 L99.8 134.0 L100.2 139.1 L100.6 144.2 L100.9 148.6 L102.4 150.8 L101.7 155.2 L102.0 160.4 L102.8 165.9 L105.0 173.2 L107.9 180.6 L111.6 185.7 L113.6 190.1 L114.1 194.5 L113.0 201.1 L110.8 207.0 L108.6 211.4 L107.2 216.5 L104.2 220.9 L101.7 222.8 L98.4 220.9 L94.7 216.5 L92.9 211.4 L91.0 207.0 L89.9 203.3 L90.7 199.6 L86.6 199.6 L82.2 200.7 L80.0 203.3 L80.4 207.7 L81.5 212.1 L82.6 216.5 L83.3 220.2 L82.2 223.9 L82.9 227.5 L85.2 229.4 L87.7 230.8 L88.5 233.4 L87.4 237.1 L89.2 241.5 L88.5 245.9 L86.3 249.6 L84.4 252.5 L84.8 256.2 L87.4 258.4 L85.9 259.8 L82.2 260.6 L78.2 262.0 L76.3 266.4 L74.1 272.3 L72.3 276.7 L71.6 280.4 L71.2 280.0 L72.7 283.7 L74.5 288.8 L75.2 294.7 L74.1 299.1 L72.7 304.2 L71.6 309.4 L71.6 314.5 L70.1 320.4 L69.0 325.5 L66.1 332.9 L63.5 340.2 L60.9 347.5 L57.3 354.1 L55.4 360.7 L52.9 368.1 L49.9 375.4 L48.1 382.8 L47.0 389.4 L45.5 390.8 L45.9 394.5 L44.0 399.7 L43.7 400.0 L40.4 406.6 L38.2 414.7 L36.0 423.5 L34.1 430.1 L32.3 434.5 L31.9 438.9 L30.1 447.0 L27.2 457.3 L24.2 466.1 L22.0 471.2 L19.5 476.3 L17.6 481.5 L15.4 488.8 L12.8 496.9 M13.6 135.4 L16.5 137.6 L13.2 139.8 L16.9 142.0 L13.6 144.2 L17.3 146.1 L13.2 147.9 L16.5 149.4 L14.7 151.6 M12.8 163.3 L15.0 165.1 L13.9 167.3 L15.8 169.2" class="co" stroke-width="1.25"/>
<path d="M13.0 144.8 L32.3 158.2 L51.4 171.7 L110.3 211.6 L149.9 238.0 L227.9 289.1 L287.7 326.4 L308.1 339.1 L449.2 423.2 L469.6 434.9 L486.0 444.4" class="da" stroke-dasharray="12.00 11.53"/>
<path d="M13.2 258.0 L32.3 271.2 L52.1 284.0 L110.3 323.9 L149.9 349.6 L189.6 375.0 L229.2 400.2 L268.8 425.5 L309.5 449.6 L369.7 485.9 L409.9 509.5 L430.7 521.9 L471.8 544.2 L480.0 548.7" class="da" stroke-dasharray="11.99 11.52"/>
<g fill="none">
<path stroke="#0000FF" stroke-width="1.6" d="M92.1 207.8h1.6M93.2 208h1.6M92.4 205.9h1.6M92.7 208.5h1.6M94 207.8h1.6M90.7 205.8h1.6M92.7 201.3h1.6M103.2 211.2h1.6M102.1 213.6h1.6M102 214.9h1.6M96.6 209.2h1.6M96.8 213.6h1.6M102.4 210.7h1.6M96.7 215.4h1.6M100.8 216.5h1.6M97.8 214.4h1.6M102.7 212.2h1.6M101.8 217.2h1.6M103.3 214.9h1.6M97.3 216.1h1.6M97 208.8h1.6M100 209.5h1.6M109.5 220h1.6M111.3 224.3h1.6M106.8 219.5h1.6M108.3 220.4h1.6M105.7 226.3h1.6M108.5 224.3h1.6M107.9 218.1h1.6M102.4 222.4h1.6M107.2 224.1h1.6M111.8 222.5h1.6M107.9 218.9h1.6M105.8 220.1h1.6M102.8 218.6h1.6M110.3 219.7h1.6M108.8 225.1h1.6M103.1 221h1.6M111.1 224.6h1.6M113 230.4h1.6M113.5 230.9h1.6M109.3 225h1.6M109 226.8h1.6M111 226.1h1.6M113.4 230h1.6M113.6 229.3h1.6M117.5 229.1h1.6M108.8 224.9h1.6M85.9 251.6h1.6M92 248.7h1.6M92.8 254.7h1.6M89.7 249.3h1.6M85.4 251h1.6M91.3 249.6h1.6M86.4 257.5h1.6M93.5 253.1h1.6M92.7 253.8h1.6M91.3 256.7h1.6M86.2 251.5h1.6M86.3 251.1h1.6M76.6 262.1h1.6M80.2 260.6h1.6M82.1 261h1.6M82.9 264.9h1.6M82.8 265h1.6M80.4 266.2h1.6M76.9 262h1.6M87.2 267.1h1.6M86.4 265h1.6M93.6 265.9h1.6M95.9 257.7h1.6M96.8 259h1.6M87.4 282h1.6M93.2 298.6h1.6M91.1 296.2h1.6M94.7 294.5h1.6M93.7 296.9h1.6M91.8 298.4h1.6M91.3 294.3h1.6M91.3 297.9h1.6M95.4 297h1.6M91.7 307h1.6M92.4 310h1.6M93.1 307.1h1.6M90.3 309.1h1.6M88.3 307.5h1.6M90.3 306.5h1.6M89.5 308.6h1.6M90.2 309.8h1.6M130.2 249.2h1.6M148 249.3h1.6M148.5 249.8h1.6M154.2 243.2h1.6M151.7 285.7h1.6M153.9 281h1.6M151.6 283h1.6M151.5 282.5h1.6M153.2 280h1.6M150.1 268.5h1.6M197.5 310.6h1.6M196.7 305.3h1.6M195.5 301.4h1.6M199.2 302.1h1.6M194.9 307.4h1.6M198.6 311.7h1.6M195.9 304.6h1.6M193.9 303.2h1.6M198.8 309.2h1.6M197.6 312.4h1.6M195.8 307.6h1.6M196.2 297.4h1.6M197.6 309.9h1.6M196.1 299h1.6M197.3 304h1.6M198.3 301.2h1.6M197.5 311.3h1.6M196.4 311.4h1.6M199.2 319.3h1.6M198.4 317h1.6M195.5 315.1h1.6M199.8 318.8h1.6M196 316.9h1.6M199.2 328.9h1.6M197.5 327.5h1.6M199.3 324.1h1.6M198.3 328.2h1.6M199.5 321.8h1.6M199.7 318.6h1.6M206.3 327.9h1.6M207.4 329.2h1.6M208.9 326.4h1.6M218.7 334.8h1.6M216.7 336.7h1.6M216.8 337.1h1.6M216.7 334.7h1.6M213.6 333.7h1.6M220.1 346.7h1.6M220.4 349.9h1.6M215 347.9h1.6M220.9 346.5h1.6M219.9 350.2h1.6M216.3 344.4h1.6M215.7 346.1h1.6M217 348.5h1.6M219.5 350.5h1.6M216.4 347.1h1.6M218.8 344.4h1.6M215.4 346.8h1.6M219 350.7h1.6M185.5 337.8h1.6M184.4 339.6h1.6M187.3 337h1.6M188 337.7h1.6M188.4 339.9h1.6M187.7 337.7h1.6M190.8 347.7h1.6M196.1 355.8h1.6M194.7 353.5h1.6M197.2 355h1.6M193.6 356.2h1.6M197.6 355h1.6M206.6 367.3h1.6M206.8 369.6h1.6M206.5 373h1.6M223.9 338.7h1.6M232.7 333h1.6M232.2 335.2h1.6M233 336.1h1.6M233.9 338.7h1.6M233.9 334.3h1.6M235 336.1h1.6M234.4 337.1h1.6M233.2 333.8h1.6M242.7 339.2h1.6M241.2 340.8h1.6M239.7 337.8h1.6M243.9 338.9h1.6M251.2 344.2h1.6M253.4 342.2h1.6M249 344.4h1.6M252.9 340.9h1.6M249.7 342.4h1.6M249.5 345.4h1.6M249.8 344.5h1.6M249.4 334.6h1.6M245 358.5h1.6M247.5 361.1h1.6M248.4 362h1.6M249.7 358.9h1.6M247.1 361.2h1.6M249.5 360.2h1.6M248.3 360h1.6M261.1 366.7h1.6M267.5 375.8h1.6M239 312.3h1.6M170.9 349.1h1.6M284.4 326.5h1.6M283.2 327.4h1.6M285.7 327.4h1.6M285.6 325.8h1.6M283.5 325.6h1.6M304.1 338h1.6M293.4 350h1.6M294.6 348.5h1.6M293.4 346h1.6M293.4 347.5h1.6M296.2 345.3h1.6M292.9 347.4h1.6M297.5 347.8h1.6M295.9 347.9h1.6M292 348.8h1.6M293.8 349.6h1.6M294.2 349.2h1.6M299.2 353.1h1.6M233.5 334.9h1.6M235.3 334.8h1.6M234.7 335.4h1.6M232.9 334.8h1.6M235.5 335.5h1.6M240.4 339.2h1.6M245 340.5h1.6M240.3 340.7h1.6M252.1 340.8h1.6M250.7 339.3h1.6M248.6 344.1h1.6M251.9 338.6h1.6M248.1 341.9h1.6M250.9 339.4h1.6M248.9 341.1h1.6M250.9 339.5h1.6M252.4 342.6h1.6M245.2 360.9h1.6M245.7 359h1.6M245.8 362.2h1.6M245.7 361.3h1.6M246.3 360.6h1.6M243.5 357.4h1.6M244.3 356.8h1.6M243 356.8h1.6M244.3 357.5h1.6M244.4 357.4h1.6M243.3 360.4h1.6M243.5 357.5h1.6M249.5 359.1h1.6M246.8 356.6h1.6M248.7 360.4h1.6M261 366.9h1.6M261.7 365.6h1.6M262.4 367.7h1.6M262.7 363h1.6M259.9 364.2h1.6M259.7 365.2h1.6M286.4 367.7h1.6M270.4 376.8h1.6M271.2 380.9h1.6M281.7 379.8h1.6M284.9 382.8h1.6M286.3 382.5h1.6M284.2 377.8h1.6M281.9 383.2h1.6M284.5 380h1.6M285.9 379.3h1.6M286.7 381.2h1.6M282.9 382.3h1.6M285.1 383.1h1.6M267 388.1h1.6M306.6 377.9h1.6M304.9 379.5h1.6M307.8 377.4h1.6M301.9 379.8h1.6M306.2 377.5h1.6M304.5 377.9h1.6M329.4 374.7h1.6M342 374.7h1.6M330.2 375.7h1.6M338.7 375.6h1.6M336.7 374.2h1.6M332.7 378.7h1.6M332.7 375.1h1.6M337.4 376.2h1.6M338.5 375.1h1.6M340.3 373.3h1.6M337.4 368.6h1.6M339.2 376.7h1.6M335.8 375.6h1.6M336.7 371.4h1.6M335.9 369.4h1.6M332.2 378.8h1.6M339.7 373.2h1.6M332 378.7h1.6M334.2 379.2h1.6M340.5 372.1h1.6M334.4 372h1.6M341.7 370.3h1.6M342.1 365.1h1.6M343.1 368.1h1.6M344.3 364.3h1.6M347.1 366.4h1.6M342.4 367.1h1.6M340.7 368.3h1.6M345.8 364.9h1.6M345.2 366.8h1.6M362 371.5h1.6M361.1 372.3h1.6M360 373.2h1.6M362.9 372.1h1.6M360.9 372h1.6M360.5 371.8h1.6M359.2 374.5h1.6M365.8 382.5h1.6M372.2 388.9h1.6M368.3 386.4h1.6M363.2 382.8h1.6M366.8 385.4h1.6M371.5 388.4h1.6M365 383.6h1.6M302.2 390.1h1.6M297.1 397.8h1.6M298.9 394.3h1.6M299.8 399.5h1.6M294.3 395.7h1.6M298.1 391.8h1.6M296.3 394.4h1.6M297 396.9h1.6M296.7 392h1.6M296.8 394.1h1.6M294.7 396.2h1.6M293.3 404.9h1.6M287.7 403.9h1.6M289.4 401.4h1.6M287.1 403.4h1.6M287.9 402.1h1.6M292.9 402.7h1.6M326.5 399.3h1.6M326 400.6h1.6M324 412.5h1.6M318.4 410.2h1.6M327.3 408.5h1.6M326.9 411.5h1.6M321 409.3h1.6M321.3 409.7h1.6M326.9 408.9h1.6M315.2 414.1h1.6M321.5 414.3h1.6M324.3 408.3h1.6M325.6 412.2h1.6M327 411.5h1.6M323.2 413.7h1.6M334.3 409.8h1.6M338.9 414h1.6M341.6 411.4h1.6M338.8 412.6h1.6M358.6 415.3h1.6M384.7 412.1h1.6M409.7 439.3h1.6M426.7 459.2h1.6M434.5 459.1h1.6M439.4 483.9h1.6M439.6 483h1.6M437.5 484.9h1.6M440.2 480.8h1.6M435.2 483.6h1.6M480.2 484.3h1.6M477.6 484.1h1.6M481.3 485.3h1.6M482.3 483.7h1.6M478.5 482.9h1.6M482.5 482.5h1.6M481.3 481h1.6M481.8 480.5h1.6M415.5 488.6h1.6M415.2 487.3h1.6M417.2 498.5h1.6M416.7 496h1.6M421.1 502.8h1.6M440.8 499.4h1.6M432.9 511.3h1.6M435.4 514.1h1.6M471.4 514.8h1.6M485.5 520.4h1.6M483 520.7h1.6M481.4 527.3h1.6M485.9 526.3h1.6M482.7 527.1h1.6M483.9 535.5h1.6M458.5 538h1.6M462.2 539.1h1.6M457.4 537.2h1.6M266.2 322.1h1.6M268.8 322.5h1.6M268.3 326.6h1.6M266.4 320.8h1.6M269.7 324.1h1.6M263.9 321.4h1.6M272.2 325.1h1.6M268 321.4h1.6M267.2 325.5h1.6M267.8 325h1.6M271 325.7h1.6M268.1 326.4h1.6M270.5 327h1.6M263.3 321h1.6M264.6 321.2h1.6M261.9 322.2h1.6M268.3 323.8h1.6M261.2 316.7h1.6M266.1 325.3h1.6M266.6 324.5h1.6M274.9 320.8h1.6M271 323.6h1.6M265 314.5h1.6M265.8 326.7h1.6"/>
<path stroke="#0000FF" stroke-width="1.4" d="M90.6 202.1h1.4M92.1 199.5h1.4M92.6 206.3h1.4M89.3 202.7h1.4M91.2 204.6h1.4M93.4 204.1h1.4M93.6 206.2h1.4M90.7 202.6h1.4M93 207.9h1.4M91.6 199.7h1.4M94.1 202.9h1.4M94.3 203.9h1.4M102.8 211.6h1.4M100.3 211.3h1.4M97.4 216.3h1.4M100.6 217.8h1.4M98.2 208.9h1.4M99.6 208.2h1.4M95.5 211.2h1.4M98 209.7h1.4M99.8 211.5h1.4M97.8 207.6h1.4M96.2 216.6h1.4M99.8 216.1h1.4M98.4 216h1.4M99.6 219.4h1.4M97.4 209.4h1.4M96.9 208.7h1.4M100.7 210h1.4M97.6 216.6h1.4M99 210.6h1.4M96.5 207.9h1.4M95.8 215.5h1.4M98.9 209.1h1.4M98.8 214.4h1.4M101.8 217.6h1.4M100.3 210h1.4M101.4 218.4h1.4M105.8 226.2h1.4M106.1 219.7h1.4M104 220.5h1.4M104.8 224.2h1.4M110.3 219.7h1.4M104.5 219.3h1.4M110.2 218.3h1.4M104.1 223.4h1.4M108.3 220.6h1.4M108.1 219.1h1.4M103.1 223h1.4M105.8 216.9h1.4M104.1 217.9h1.4M107.1 220.5h1.4M108.6 227h1.4M108.9 222.5h1.4M103.7 225.3h1.4M109.3 223.7h1.4M106.3 224h1.4M103.4 221.9h1.4M105 218.9h1.4M108.8 222h1.4M108.3 224.5h1.4M104 224.9h1.4M109.7 220.8h1.4M114 230.5h1.4M115.1 228.8h1.4M112.2 227.9h1.4M115.4 230.8h1.4M111.6 227.7h1.4M112.1 228.8h1.4M108 225.4h1.4M116.4 230.5h1.4M115.8 227.7h1.4M110.3 226.1h1.4M110.7 224.9h1.4M109.8 226.6h1.4M110.7 224.9h1.4M116.2 227.4h1.4M90.5 248.3h1.4M88 257h1.4M93.1 255.1h1.4M92.5 257.6h1.4M90.6 249.2h1.4M88.7 248.7h1.4M85.7 250.7h1.4M91.3 249.6h1.4M89 247.7h1.4M93.1 251.5h1.4M92.7 254.3h1.4M89.8 258.7h1.4M88.3 248.7h1.4M81.4 265.3h1.4M79 266.7h1.4M82.5 264.1h1.4M80.2 260.3h1.4M83.2 262.5h1.4M76.6 265.6h1.4M78 266.8h1.4M88.7 265.1h1.4M86.6 265.8h1.4M87.8 267.9h1.4M88.2 264.8h1.4M88.8 265.1h1.4M87.6 265.5h1.4M86.7 265h1.4M87.1 265.3h1.4M90.3 268h1.4M98.5 255.9h1.4M84.4 284.2h1.4M85.2 283.1h1.4M89.1 288.4h1.4M90.6 295.2h1.4M95.2 293.4h1.4M90.9 295.2h1.4M91.2 296.2h1.4M91.3 295.3h1.4M92.4 297.6h1.4M92.5 298.2h1.4M92.2 307.6h1.4M91.7 308.5h1.4M92.9 309.8h1.4M90.9 309.7h1.4M91.5 309.3h1.4M94 308.6h1.4M129.1 248.1h1.4M149.5 241.9h1.4M154.5 280.8h1.4M154 285.4h1.4M153.6 284.8h1.4M153.5 283.8h1.4M152.6 282.4h1.4M152 285.7h1.4M153 285.2h1.4M138.8 275.1h1.4M199.1 305.1h1.4M198.7 305.2h1.4M196.3 312.5h1.4M199 307.2h1.4M196.9 298h1.4M196.8 309.2h1.4M198.5 302.7h1.4M196.4 311.3h1.4M198.6 302.3h1.4M194.2 301.7h1.4M194.6 301.6h1.4M196.1 304.8h1.4M198.8 310.3h1.4M196 299.6h1.4M195 309.1h1.4M194.7 307h1.4M194.4 305.5h1.4M198.1 306.3h1.4M196.8 311.9h1.4M199.1 320h1.4M199 325.2h1.4M196.3 325h1.4M197.5 313.9h1.4M196.8 314.6h1.4M197.8 328.5h1.4M199.1 317.2h1.4M197.6 314h1.4M195.6 321.7h1.4M198.8 321.8h1.4M196.8 324.3h1.4M197.6 327.5h1.4M198.8 327.2h1.4M197.9 315.1h1.4M208.7 315.5h1.4M210.8 327.4h1.4M209.3 325.6h1.4M208.8 330.5h1.4M208.2 330.1h1.4M208.5 327.4h1.4M210.1 325.7h1.4M209.6 327.5h1.4M207 330.2h1.4M208.2 329.9h1.4M210.3 326.9h1.4M206.3 328.5h1.4M213.1 332.6h1.4M214 333.1h1.4M217.8 335.5h1.4M216.9 337.8h1.4M213.4 334h1.4M213.4 332h1.4M216.7 337.8h1.4M214 331.7h1.4M213.5 336.1h1.4M213.9 335h1.4M213.7 334.5h1.4M216 334.7h1.4M213.5 333.4h1.4M213.8 333.7h1.4M220.5 345.7h1.4M216.6 351.2h1.4M218.8 344h1.4M217.2 350.4h1.4M219.9 347.2h1.4M216.1 348.8h1.4M216.5 348h1.4M218.9 346.3h1.4M215.5 347.6h1.4M217.9 345h1.4M185 340.6h1.4M186.5 338.7h1.4M184.8 338.9h1.4M184.7 337.6h1.4M185.9 340.6h1.4M196.7 357.5h1.4M198 356.4h1.4M198.2 355.6h1.4M193.3 356.5h1.4M194.3 357.7h1.4M196.9 367.6h1.4M204 366.9h1.4M225.5 320.8h1.4M235.4 335.6h1.4M234.6 335.2h1.4M244.1 337.2h1.4M250.3 344.5h1.4M250 340.5h1.4M247.9 343h1.4M248 342.6h1.4M251 338.8h1.4M249.6 342.3h1.4M252.8 343.2h1.4M250.3 342.5h1.4M250 343.9h1.4M247.9 340.2h1.4M249.7 358.2h1.4M249.3 357.4h1.4M245.1 359.2h1.4M244.5 363h1.4M244.1 361.1h1.4M247.1 362.3h1.4M244.2 362.9h1.4M248.6 361.3h1.4M244 360.6h1.4M248.7 358.3h1.4M248.5 361.3h1.4M246 356.3h1.4M248.5 358.5h1.4M284 326.7h1.4M294.8 350.4h1.4M294.7 345.2h1.4M294.1 347.6h1.4M293.7 345.6h1.4M294.3 349.4h1.4M234 334.6h1.4M233.7 338.1h1.4M232.7 333.6h1.4M234.7 337.4h1.4M242.8 340.3h1.4M244.3 338.9h1.4M245 339.8h1.4M245.5 339.4h1.4M243.9 340.1h1.4M244 338.2h1.4M250.2 341.7h1.4M249 339.9h1.4M253.9 342.1h1.4M252.9 342.7h1.4M252 343h1.4M249.1 341.5h1.4M249.9 338.6h1.4M265.9 352.8h1.4M243.2 356.3h1.4M249.5 359.3h1.4M247.1 359.1h1.4M246.3 356.3h1.4M243.4 359.2h1.4M246 361.6h1.4M248.3 357.6h1.4M261 366.6h1.4M262.1 362.4h1.4M262.5 367.9h1.4M300 369h1.4M284.7 379.2h1.4M284 380h1.4M286.2 379.4h1.4M285.2 382.4h1.4M285.9 378.3h1.4M287.3 379.9h1.4M286.1 380.2h1.4M281.1 380.5h1.4M284.4 377.6h1.4M282.6 378.7h1.4M285.2 377.4h1.4M301.3 379.4h1.4M305.8 378.1h1.4M306.9 379.1h1.4M306.8 378.7h1.4M303.6 374.3h1.4M302.9 375.7h1.4M306.8 378.1h1.4M304.9 378.5h1.4M302.4 375.8h1.4M320.8 376.8h1.4M336.7 377h1.4M334.2 369.6h1.4M342.1 375h1.4M337.2 372.1h1.4M336.8 369.7h1.4M331.9 372.6h1.4M333.7 374.2h1.4M333.3 375.2h1.4M330.8 376h1.4M335.6 371.8h1.4M330.2 375.5h1.4M337.1 375.2h1.4M339.3 374.6h1.4M332.9 372.5h1.4M333.9 377.5h1.4M339.3 368.7h1.4M335.7 377.4h1.4M331.3 373.9h1.4M338.9 371.7h1.4M338.9 377.5h1.4M337.7 377.1h1.4M333.8 371.6h1.4M334.2 376.2h1.4M342.9 365.2h1.4M343.5 367.9h1.4M341.8 366.4h1.4M340.4 367.8h1.4M342.4 368.7h1.4M340.6 367.9h1.4M343.3 364.4h1.4M340.9 367.9h1.4M362.5 372.2h1.4M363.2 372.1h1.4M365.8 385.5h1.4M372 386.1h1.4M366.6 385.6h1.4M369.3 387.5h1.4M370.8 387.4h1.4M367.8 387.5h1.4M364.1 384.9h1.4M367.4 383.2h1.4M366.9 385.8h1.4M364.4 383.8h1.4M369.8 385.4h1.4M363.3 383.5h1.4M365.7 385.4h1.4M317.7 390.4h1.4M317.5 390.1h1.4M317.1 389.1h1.4M295.8 397.8h1.4M299.5 398.8h1.4M297 395.3h1.4M298.6 392.7h1.4M296.7 395.2h1.4M296.2 396.3h1.4M294.8 396.7h1.4M296.4 395.5h1.4M296.8 394.6h1.4M299.3 399.4h1.4M293.6 403h1.4M287.9 405.1h1.4M301.5 401.9h1.4M326.3 397.4h1.4M316.5 411.4h1.4M316.6 412.6h1.4M324 412.9h1.4M327.8 408.7h1.4M326.9 410.7h1.4M314.9 413h1.4M321 409.7h1.4M326.7 410.6h1.4M325.3 412.5h1.4M336.6 410.9h1.4M342 413.3h1.4M339.1 414.2h1.4M338 412.5h1.4M340.9 413.4h1.4M395.8 407h1.4M327.1 452.6h1.4M324 452.8h1.4M389.9 420.1h1.4M436.9 459.6h1.4M434.2 459.7h1.4M435.6 461.2h1.4M412.3 478h1.4M442.5 481.9h1.4M438.5 480.1h1.4M439.7 480.2h1.4M436.2 484.9h1.4M440.2 483.3h1.4M439.5 481.8h1.4M437.8 483.3h1.4M441.3 481.7h1.4M436.9 484.6h1.4M441.9 482.1h1.4M437.5 482h1.4M441.4 479.4h1.4M479.6 481.2h1.4M478.6 480.2h1.4M478.7 484.6h1.4M477.9 484.3h1.4M477.3 482.8h1.4M479.2 480h1.4M478.3 484.9h1.4M396.3 488h1.4M414.2 486.1h1.4M427 491.6h1.4M417.2 497.7h1.4M434.8 515h1.4M433 511.9h1.4M435.2 511.6h1.4M435.4 512.1h1.4M432.9 511.2h1.4M431.3 513h1.4M432 511.4h1.4M434.8 512.7h1.4M471.9 513.4h1.4M482.4 518.9h1.4M482.9 525.4h1.4M485.3 526.7h1.4M458.3 530.1h1.4M456.4 530.4h1.4M271.2 326h1.4M267.5 325.6h1.4M269.5 323.5h1.4M270.8 325.7h1.4M269.4 323.2h1.4M262.4 315.9h1.4M261.4 320.7h1.4M264.6 321.1h1.4M262.6 324.3h1.4M265.5 326.5h1.4M271 326.2h1.4M269.6 322.8h1.4M261.9 316.1h1.4M260.3 318.6h1.4M262.9 317.9h1.4M261.3 323h1.4M266.4 325.3h1.4M263.3 318.6h1.4M267 323.7h1.4M262 319.4h1.4M268.5 323.7h1.4M261.2 319.7h1.4M264.4 321.1h1.4M262.4 317.8h1.4M271.9 324.7h1.4M261.8 318h1.4M262.3 316.8h1.4M267.7 325.1h1.4M264.1 319.6h1.4M267.4 322.3h1.4M270.7 323.8h1.4M267.6 324.7h1.4"/>
<path stroke="#0000FF" stroke-width="1.9" d="M91.2 207.1h1.9M89.8 199.6h1.9M93.2 202.6h1.9M89.5 201.6h1.9M91.6 204.5h1.9M99.5 219.1h1.9M99.7 207.6h1.9M102.8 210.4h1.9M96.8 216.9h1.9M99.6 219.6h1.9M102.4 213.8h1.9M98.5 214.7h1.9M98.2 216.8h1.9M95.7 212.7h1.9M95.3 212.9h1.9M100.9 214.3h1.9M98.5 214.9h1.9M102.5 217.4h1.9M97.7 212.9h1.9M99.3 208.3h1.9M103.2 216.4h1.9M96.5 209.6h1.9M106.6 219.7h1.9M108.1 221.9h1.9M106.5 226h1.9M103.9 219.6h1.9M103.4 217.6h1.9M102.7 220.2h1.9M110.9 225.1h1.9M104.7 222.8h1.9M103.9 222.5h1.9M110.5 222.4h1.9M104.6 218.4h1.9M109.5 224.2h1.9M105.6 219.2h1.9M106.9 225.3h1.9M109.9 223.4h1.9M113.6 230.2h1.9M114.5 229.7h1.9M114.7 230.3h1.9M111.1 227.8h1.9M116.2 231h1.9M113.2 228.5h1.9M113.4 228.1h1.9M113.8 229.9h1.9M85.8 250.5h1.9M84.7 254.3h1.9M84.7 252h1.9M91.9 257.8h1.9M86.3 257.4h1.9M86.4 249.7h1.9M91 248.5h1.9M93.1 249.9h1.9M92.5 256.5h1.9M85.7 250.6h1.9M79.5 265.8h1.9M78.9 267h1.9M81.6 266h1.9M82.7 262.6h1.9M77.3 266.1h1.9M87.5 266h1.9M86.3 267h1.9M91.4 265.3h1.9M90.9 266h1.9M95.7 266.1h1.9M95.7 264.7h1.9M94.5 264.4h1.9M93.9 265.9h1.9M83.9 274.5h1.9M86.4 281.7h1.9M85.9 281.2h1.9M86.7 283.8h1.9M88.5 282.2h1.9M89.3 285.4h1.9M90.1 286.6h1.9M89.3 287.5h1.9M94.8 294h1.9M93.3 293.7h1.9M92.3 292.2h1.9M94 298.4h1.9M93.8 297h1.9M91.6 308h1.9M89.7 307.4h1.9M88.3 309.1h1.9M92.5 309.4h1.9M93.6 308.3h1.9M130.3 248.5h1.9M129.9 248.7h1.9M129.6 252h1.9M150.4 247.6h1.9M148.6 247.3h1.9M152.5 284.7h1.9M153.2 287.2h1.9M151.5 283.9h1.9M152.6 280.7h1.9M153.5 287.5h1.9M197.6 308.2h1.9M194.4 306.3h1.9M195.6 307.6h1.9M197.1 307.2h1.9M199 302.5h1.9M199.1 304.1h1.9M194.8 302.4h1.9M197.3 300.9h1.9M196.7 299.7h1.9M198.5 308.2h1.9M195 306.7h1.9M199.9 324.9h1.9M200.1 322.2h1.9M198.4 324.5h1.9M198.5 326h1.9M195.5 319.7h1.9M198.3 325.8h1.9M199.5 327.3h1.9M197.1 313.5h1.9M199 320.6h1.9M197.9 320.1h1.9M198.5 323.8h1.9M198.2 326.1h1.9M200.2 329h1.9M197.5 320.7h1.9M198.4 327h1.9M198.7 319.3h1.9M196.9 316.2h1.9M200.8 326.6h1.9M197 320.5h1.9M197.5 327.5h1.9M198.7 325.6h1.9M206.9 325.3h1.9M209.2 325.7h1.9M206.8 325.2h1.9M207.4 328.3h1.9M208.9 327.7h1.9M207.3 330.1h1.9M213.1 333.1h1.9M215.7 336.4h1.9M213.1 333.7h1.9M215.7 331.3h1.9M218.5 334.7h1.9M220.2 347.6h1.9M218.4 350.7h1.9M215.3 348.1h1.9M220.1 344.6h1.9M217.9 347.1h1.9M221.1 346.2h1.9M185.7 339.5h1.9M184.2 339.2h1.9M185.8 338.2h1.9M190.8 346.6h1.9M196.8 357.6h1.9M198.2 356h1.9M196.8 355.6h1.9M196.2 353.2h1.9M206.6 368.6h1.9M223.5 327.6h1.9M221.4 314h1.9M232.9 332.5h1.9M234.7 338.2h1.9M232.1 333.7h1.9M234.2 337.1h1.9M232.6 335.3h1.9M234.7 334.4h1.9M232.5 336.8h1.9M239.9 338.7h1.9M240.5 339.7h1.9M241.3 339.6h1.9M243.6 338.1h1.9M239.5 339.1h1.9M242.9 340.8h1.9M241 340.6h1.9M242.1 336.6h1.9M241.7 339.2h1.9M243.1 338.6h1.9M249 344.9h1.9M250.3 338.6h1.9M253.5 339.8h1.9M249.8 339.7h1.9M252.1 343.5h1.9M253.5 341.1h1.9M249.2 343.3h1.9M249.4 342.7h1.9M248.8 345h1.9M252.4 340h1.9M249.2 340.8h1.9M248.8 357h1.9M248.2 361.4h1.9M243.8 361.5h1.9M243 360.7h1.9M248.2 357.7h1.9M246.8 362.6h1.9M247.2 361.8h1.9M246.1 357.7h1.9M248.2 363.6h1.9M248.4 362.1h1.9M269 376.1h1.9M246.9 315.3h1.9M295.1 351.5h1.9M297 350.7h1.9M296.7 346.4h1.9M292.8 349.7h1.9M295.4 345h1.9M296.9 348.1h1.9M297.7 348.8h1.9M232.9 337.6h1.9M234.7 338.5h1.9M232.2 333.7h1.9M243.2 341h1.9M242.8 340.3h1.9M243 341.2h1.9M241.3 338.7h1.9M242.9 340.3h1.9M240.3 339.9h1.9M250 344.9h1.9M248 340.3h1.9M254.2 341.6h1.9M250.6 342.9h1.9M249.8 341.2h1.9M252 343.2h1.9M248.8 339.3h1.9M253.3 340.1h1.9M251 343.4h1.9M252.8 342.5h1.9M249.4 345.4h1.9M248.9 343.7h1.9M243.4 362.2h1.9M246.1 356.2h1.9M248.4 360.9h1.9M245.9 361.5h1.9M245.8 360.7h1.9M243 360.1h1.9M244.8 356.2h1.9M247.3 358.8h1.9M243.3 357.3h1.9M263 365.6h1.9M259.6 365h1.9M259.7 364.8h1.9M261.7 362.6h1.9M261.2 365.3h1.9M306.6 367.2h1.9M306.8 366.4h1.9M269 375.9h1.9M283 383h1.9M281.1 382.2h1.9M284.6 377.6h1.9M285.8 380.7h1.9M282.1 377.9h1.9M286 378.6h1.9M283.1 379.6h1.9M281.7 384.2h1.9M282.3 378.6h1.9M284.9 383.1h1.9M280.8 380h1.9M285 381.1h1.9M285.9 384.5h1.9M303.3 377h1.9M306.5 379h1.9M305.6 380.1h1.9M303 379.8h1.9M306.5 378.5h1.9M305.2 379.3h1.9M307.5 378.5h1.9M302.6 377.8h1.9M306.3 374.9h1.9M300.7 377.9h1.9M318.8 373.7h1.9M317.3 374.6h1.9M335.4 377.7h1.9M331.7 371.2h1.9M336.5 372.7h1.9M338.2 372.3h1.9M336.2 376.2h1.9M338.9 370.8h1.9M337.8 376.9h1.9M339.4 372.2h1.9M337.3 369.1h1.9M337.6 377.9h1.9M333.3 371.3h1.9M334.2 379.1h1.9M329.7 374.5h1.9M335.3 379.2h1.9M341.6 373.1h1.9M338.7 370.2h1.9M336.2 379.1h1.9M338.2 374.5h1.9M340.6 371h1.9M336.8 377.5h1.9M340.9 373.9h1.9M330.7 377.5h1.9M330.4 371.8h1.9M331.2 371h1.9M331.4 376.2h1.9M337.8 370.8h1.9M332.9 374.5h1.9M340.9 368.5h1.9M341.9 367h1.9M343.2 368.5h1.9M343.6 364.3h1.9M360.3 375.4h1.9M360.9 371.3h1.9M363.6 373.5h1.9M362.3 374.6h1.9M359.6 372.3h1.9M361.4 371.6h1.9M365.7 384.1h1.9M366.9 384.2h1.9M364.8 383.1h1.9M364 383.7h1.9M303.9 389.2h1.9M320.2 390.1h1.9M299.4 397.9h1.9M297.1 399.2h1.9M299.5 398h1.9M295.2 396.4h1.9M298 400.4h1.9M300.1 396.5h1.9M295.3 399.8h1.9M298.8 395.5h1.9M299.5 394.9h1.9M298.2 398.3h1.9M298.5 397.5h1.9M297.8 401.1h1.9M299.1 398.1h1.9M299.4 393.8h1.9M292.2 401.2h1.9M293.8 402.3h1.9M289 405.2h1.9M324.7 408.2h1.9M314.8 413.5h1.9M321.4 409.5h1.9M316.3 413.3h1.9M324.1 413.1h1.9M316.2 413.8h1.9M327.8 410.2h1.9M334.3 409.7h1.9M336.3 409h1.9M334.8 409.4h1.9M334.8 412h1.9M337.1 410.2h1.9M350.8 414.3h1.9M385.5 410.7h1.9M327.2 452.9h1.9M358.8 415.2h1.9M411 439.8h1.9M457.8 450.1h1.9M435.1 459.2h1.9M436.8 459.6h1.9M423.4 463.9h1.9M451.1 457.8h1.9M438.1 479.5h1.9M441.9 480.7h1.9M436.3 482.3h1.9M438.1 479.8h1.9M441.1 480.6h1.9M439.5 484.5h1.9M440.3 481h1.9M440.1 481h1.9M437.9 481.1h1.9M481.1 480.8h1.9M478.5 480.8h1.9M480.5 483.7h1.9M477.8 481.9h1.9M479.8 484.3h1.9M415.3 486.6h1.9M415.4 488.8h1.9M428.7 492.3h1.9M416.9 498.6h1.9M424.2 501.4h1.9M432.3 511h1.9M434.1 510.6h1.9M435.2 513.8h1.9M435.5 511.7h1.9M433.5 511.8h1.9M483.3 520.5h1.9M483 519.6h1.9M481.5 527.6h1.9M459.3 532.2h1.9M457.8 536.7h1.9M263.8 325.3h1.9M265.2 322.2h1.9M269.7 326.2h1.9M270.6 315.4h1.9M264.1 319.1h1.9M265.1 320.1h1.9M261.4 318h1.9M268.8 326.3h1.9M266.5 321h1.9M269.4 323.2h1.9M261.7 323.7h1.9M263.5 321.9h1.9M263.4 322.9h1.9M264.3 319.5h1.9M267.1 325.6h1.9M261.1 318.2h1.9M268 323h1.9M260.9 320h1.9M266 325.1h1.9M266.9 325.1h1.9M267.6 324.3h1.9M267.5 321.7h1.9M264.6 322.2h1.9M265.2 326.4h1.9M270.1 326.6h1.9M262.6 317.5h1.9M261.7 318.6h1.9M261.2 321.2h1.9M271.3 325.3h1.9M261.2 321.6h1.9M261 320.7h1.9M265.7 324.8h1.9M266.2 320.4h1.9"/>
<path stroke="#FF4500" stroke-width="1.9" d="M92.3 203.3h1.9M99.1 214.3h1.9M106.6 221.6h1.9M106.6 222.2h1.9M91.7 251.6h1.9M91.4 256.2h1.9M89.5 255.2h1.9M87.3 254.6h1.9M79.2 264.5h1.9M94.9 265.1h1.9M94.8 264h1.9M81.9 276.4h1.9M82.6 276.1h1.9M84.5 275h1.9M90.4 287.4h1.9M88 287.9h1.9M88.8 284.9h1.9M90.9 288.6h1.9M129.9 248.5h1.9M128.7 249.6h1.9M149.5 269.6h1.9M196.3 303.9h1.9M197.4 319.7h1.9M197.5 320.9h1.9M207 317.4h1.9M208.5 312.7h1.9M206.6 316.2h1.9M209.3 313h1.9M206.5 318.7h1.9M218.3 348.1h1.9M198.1 366.8h1.9M197.2 366.8h1.9M196.3 363.9h1.9M205.3 370.1h1.9M210.7 370.6h1.9M224.4 338.4h1.9M222.4 340.4h1.9M223.1 338h1.9M260.2 364.8h1.9M269.6 376.5h1.9M268.2 377.1h1.9M246 314.5h1.9M53 181.7h1.9M286.1 325.7h1.9M303.5 338.2h1.9M234.1 335.9h1.9M248.3 336.1h1.9M266.4 350.4h1.9M266.1 352.8h1.9M300.7 368.3h1.9M301.8 370.2h1.9M299.8 368.2h1.9M300.9 369.8h1.9M270.8 375.5h1.9M267.3 375h1.9M267.2 376.9h1.9M280 375.8h1.9M279.6 375.2h1.9M280.7 372.8h1.9M280.9 388.8h1.9M294.3 377.8h1.9M319.8 376.4h1.9M335.1 374.1h1.9M336.4 373.2h1.9M334.5 373.8h1.9M302 390.8h1.9M310.2 389.7h1.9M315.1 388.7h1.9M317.6 388.2h1.9M289.3 404.6h1.9M327.5 397.6h1.9M326.6 401.5h1.9M318.7 412h1.9M321.8 411.5h1.9M321 411.3h1.9M324.3 410.7h1.9M321.2 412.4h1.9M321.7 413h1.9M336.1 412.4h1.9M341.3 412.6h1.9M385.3 409.3h1.9M385.5 409.9h1.9M397.7 406.9h1.9M396.3 402.5h1.9M389.9 419.4h1.9M325.1 453.9h1.9M329.7 450h1.9M358.7 416.4h1.9M411 438.6h1.9M435.9 460h1.9M448.7 458h1.9M449.6 460.1h1.9M474.2 469.6h1.9M476 470.4h1.9M474.1 471h1.9M409.1 474.6h1.9M396.3 486.7h1.9M396.8 489h1.9M415 488.8h1.9M415 487.2h1.9M412.9 489.2h1.9M429.7 491.2h1.9M436.1 492.1h1.9M453.4 491.9h1.9M407.8 493.7h1.9M418.5 498.5h1.9M426.4 500.4h1.9M422.6 502.3h1.9M439.9 500.4h1.9M439.9 499.6h1.9M404.3 501.6h1.9M478.3 513.6h1.9M466.8 520.3h1.9M481.4 527.2h1.9M483 526.9h1.9M484.7 526.1h1.9M482.4 525.4h1.9M458 536.4h1.9M462.9 539h1.9M461.4 538.5h1.9M464.6 539.6h1.9M465.3 537.9h1.9M464.2 539.7h1.9M267.8 314.7h1.9M268.3 317h1.9M267.8 315.8h1.9M265.9 319h1.9M269.3 317.9h1.9M271 317.9h1.9M270.2 321.9h1.9M273.5 319.9h1.9M266.9 315.3h1.9M272.6 323.1h1.9M267.7 318.9h1.9M274.8 320.8h1.9M270.9 322.6h1.9M264.4 316.4h1.9M267.1 317.9h1.9M266.8 319.2h1.9M271.1 318.7h1.9M270.9 318.1h1.9M269.9 317.3h1.9"/>
<path stroke="#FF4500" stroke-width="1.4" d="M92.5 203.6h1.4M105.8 221.3h1.4M86.3 252.1h1.4M91.1 250h1.4M90.5 256.4h1.4M86.7 255.3h1.4M90.8 252.3h1.4M88.4 254.5h1.4M90.6 254.7h1.4M88 251.9h1.4M90.9 250.4h1.4M86.8 253.6h1.4M91.3 251.6h1.4M90 254.4h1.4M87.2 252.6h1.4M88.5 255.8h1.4M81.7 262.6h1.4M80.2 262h1.4M79.6 263.7h1.4M94.5 265.1h1.4M99 254.3h1.4M85.6 276.8h1.4M82.2 277.6h1.4M86.2 275.4h1.4M81.6 270.1h1.4M81.7 270.7h1.4M87.2 282.8h1.4M87.1 283.2h1.4M88.7 288.1h1.4M128.1 250.5h1.4M208.7 313h1.4M207.4 318h1.4M206.3 318.2h1.4M186.9 338.7h1.4M189 331.9h1.4M184.7 334.1h1.4M196.3 355.3h1.4M196.5 364.8h1.4M196.5 362h1.4M204.3 368.3h1.4M206 367.2h1.4M203.5 367.3h1.4M206.7 367.7h1.4M221.9 328.7h1.4M234.4 335.8h1.4M233.7 335.3h1.4M249.3 336.3h1.4M260.1 363.9h1.4M265.4 352.8h1.4M266.6 351.7h1.4M266.4 353.1h1.4M268.5 376.5h1.4M268.6 377.4h1.4M236 310.6h1.4M242.4 314.3h1.4M282.7 326.6h1.4M303 338.7h1.4M234.7 335.9h1.4M274.5 363.1h1.4M288 368h1.4M285.1 366h1.4M299.5 368.5h1.4M267.6 375.8h1.4M271 381.3h1.4M275.8 384.8h1.4M276.4 384.8h1.4M276.7 383.5h1.4M282.4 390.7h1.4M263 388.9h1.4M295.7 377.9h1.4M318.8 373.6h1.4M320 376.8h1.4M336.5 373.9h1.4M352.3 372.7h1.4M302.3 388.9h1.4M303.5 391.4h1.4M314.6 389.5h1.4M319.7 389.8h1.4M317.5 390.2h1.4M296.6 396.9h1.4M289.9 403.4h1.4M291.5 402.4h1.4M289.7 401.9h1.4M292 404.8h1.4M289.4 404.1h1.4M290 404.6h1.4M300.2 402.7h1.4M300.3 402.3h1.4M326.6 400.1h1.4M317.8 412.7h1.4M310.6 411.8h1.4M333.9 410.6h1.4M334.4 411.4h1.4M336.4 409.2h1.4M334.6 409.7h1.4M339.8 410.8h1.4M339.8 412.1h1.4M339.6 411.7h1.4M342.2 413.3h1.4M341 412.5h1.4M386 408.5h1.4M395.3 400.3h1.4M396 401.8h1.4M328.4 450.7h1.4M324 452.6h1.4M324.5 452.8h1.4M325.5 452.1h1.4M410.6 437.9h1.4M410.9 438.3h1.4M352.9 415.1h1.4M351.5 414h1.4M423.9 463.2h1.4M484 475.2h1.4M484.4 474.2h1.4M413.1 472.5h1.4M412.4 478.8h1.4M432.9 480h1.4M467.9 482.5h1.4M396.4 490.2h1.4M418.4 490.6h1.4M431.1 491.9h1.4M454.3 492.3h1.4M417.8 496.8h1.4M422.7 503.7h1.4M425 503.4h1.4M417.1 504.6h1.4M421.2 503.4h1.4M406.3 504.3h1.4M445 509.6h1.4M472.1 513.9h1.4M468.1 519.9h1.4M485.1 518.9h1.4M485.6 519.6h1.4M485.1 527.4h1.4M485.8 526.8h1.4M484.6 535.2h1.4M457.1 531.9h1.4M459.9 538.7h1.4M461.9 539.9h1.4M461.3 538.4h1.4M465.4 540.2h1.4M270.9 315.8h1.4M266.3 317.8h1.4M270.1 316.2h1.4M273.9 319.3h1.4M271.7 323.3h1.4M265.2 317.8h1.4M266.5 315.4h1.4M271.8 321h1.4M269.7 317.5h1.4M267.6 320h1.4M265.7 317.1h1.4M271.3 322.5h1.4M272.6 318.7h1.4M269 317.3h1.4M265.2 316.7h1.4M272.4 322.9h1.4M267.4 318.6h1.4M271.5 321.9h1.4M269.2 317.9h1.4M264.1 317.9h1.4M269.1 319.7h1.4M268.9 320.8h1.4M270.8 319.1h1.4M273 324h1.4M266.3 317.8h1.4M270.8 320.8h1.4M270 316.2h1.4M270.7 319.7h1.4"/>
<path stroke="#FF4500" stroke-width="1.6" d="M107.1 222.7h1.6M89 254.9h1.6M92 252.8h1.6M91.1 255.9h1.6M89.2 255.5h1.6M87.7 251h1.6M90.6 250.2h1.6M87.2 254.2h1.6M80.2 264.5h1.6M80.9 262.1h1.6M80.6 262.2h1.6M78.1 263.9h1.6M81.3 264.8h1.6M79.6 264.8h1.6M77.8 262h1.6M78.7 261.7h1.6M79.7 264.8h1.6M99.8 255.6h1.6M84.3 280.7h1.6M84.1 282.7h1.6M84.6 283.7h1.6M84.5 282.7h1.6M90.7 285.3h1.6M90.1 289h1.6M89.7 287.4h1.6M131.2 247.6h1.6M129.3 248.1h1.6M128.5 251.1h1.6M130.1 251.7h1.6M148.8 250h1.6M147 250.3h1.6M148.3 241.5h1.6M148.7 239.4h1.6M134.9 237.8h1.6M135.3 238.4h1.6M135.4 274.9h1.6M198.2 320.3h1.6M208 314.9h1.6M215.5 334.5h1.6M186.9 331.5h1.6M189.4 348.1h1.6M196.1 362.6h1.6M207.5 367.1h1.6M205 368.2h1.6M206.6 367.4h1.6M206.5 368.3h1.6M209.4 370.6h1.6M206.3 373.2h1.6M223 329.3h1.6M222.6 328.4h1.6M225.7 320.7h1.6M222.3 341.2h1.6M222.4 341.5h1.6M260.5 362.6h1.6M260.7 366.7h1.6M261.4 365.2h1.6M261.1 367.1h1.6M242.8 313.6h1.6M171.6 348.5h1.6M283 327.6h1.6M283 327.2h1.6M284.9 324.5h1.6M279.7 323.6h1.6M301.7 348h1.6M249.5 334.3h1.6M269.4 353.2h1.6M260.9 349.3h1.6M274.9 362.5h1.6M286.9 368.3h1.6M300.2 369.7h1.6M300.8 369h1.6M307.9 366.2h1.6M273 382.4h1.6M273.3 382.3h1.6M271.8 380.9h1.6M282.2 389.1h1.6M317.3 375.2h1.6M319.2 374.7h1.6M337.2 373.3h1.6M358 376.6h1.6M358.3 377.6h1.6M369.5 386.2h1.6M303.4 389.1h1.6M311.3 389.6h1.6M318.8 387.4h1.6M321.1 388.9h1.6M290.9 404.3h1.6M292.2 402.6h1.6M325.4 399.4h1.6M326 398.8h1.6M325.1 410.7h1.6M317.8 412.6h1.6M323.1 411.5h1.6M322.3 410.7h1.6M322.1 413.2h1.6M322.9 412.6h1.6M335.7 409.3h1.6M352.2 415.5h1.6M387.7 410.2h1.6M391.4 409.4h1.6M395.8 400.9h1.6M396.8 402.9h1.6M327.9 450.3h1.6M324.4 449.1h1.6M432.2 453.4h1.6M437.2 455.8h1.6M436.5 459.1h1.6M437.7 460.7h1.6M423.9 463.3h1.6M448.4 459.6h1.6M450.5 458.2h1.6M466.9 464.8h1.6M408.9 474h1.6M415.8 487.3h1.6M415.2 488.4h1.6M415.7 488.4h1.6M428.9 493h1.6M453.8 491.8h1.6M416.6 501.6h1.6M417.5 498.1h1.6M415 500.6h1.6M421.9 500.4h1.6M421.8 502.8h1.6M424.7 501.1h1.6M426.6 500.2h1.6M422.6 502.2h1.6M421.6 502.2h1.6M425.9 498.2h1.6M417.8 504.5h1.6M421 505.3h1.6M440.8 500.6h1.6M405.6 505.6h1.6M448.1 513.1h1.6M448.8 513.2h1.6M449 507.5h1.6M458 512h1.6M457.7 512h1.6M478.6 514.6h1.6M482.9 518.4h1.6M483.8 520.8h1.6M484.4 527.1h1.6M484.5 535h1.6M458.1 530.4h1.6M457.1 531.6h1.6M458.5 531.7h1.6M460.7 539.1h1.6M461.6 539.8h1.6M446.1 530.3h1.6M269.7 318.4h1.6M272.1 318.8h1.6M273.2 320.9h1.6M268.2 315.7h1.6M264.3 316.1h1.6M270.4 322.3h1.6M269.9 321.5h1.6M266.7 316.9h1.6M273.9 321.1h1.6M273.3 317.7h1.6M269.5 319.9h1.6M274.1 322.8h1.6M269.7 317.3h1.6M272.2 318.1h1.6M273.3 320.3h1.6M270.3 316.9h1.6M266 314.9h1.6M266.1 318.8h1.6M271.7 320.2h1.6M268.3 319.2h1.6M272 320.5h1.6M273.1 323.2h1.6M271.2 319.1h1.6"/>
<path stroke="#FF4500" stroke-width="1.3" d="M419.1 492.9h1.3M320.3 412.1h1.3M461.3 522.3h1.3M340.5 382.6h1.3M206.5 287.2h1.3M455.4 522.4h1.3M192.4 325.4h1.3M340.2 374.2h1.3M193.2 313.4h1.3M252.5 320.1h1.3M454.5 448.6h1.3M454 524.7h1.3M482.8 469.6h1.3M330 404.1h1.3M199.6 320.5h1.3M447.2 447.1h1.3M464.2 461.4h1.3M295.3 331.2h1.3M293.4 381.7h1.3"/>
</g>
</g>
<g transform="translate(0 0.0)">
<text class="ax" x="15.4" y="286.6" text-anchor="middle">48</text>
<text class="ax" x="94.2" y="286.6" text-anchor="middle">50</text>
<text class="ax" x="173.0" y="286.6" text-anchor="middle">52</text>
<text class="ax" x="251.8" y="286.6" text-anchor="middle">54</text>
<text class="ax" x="330.6" y="286.6" text-anchor="middle">56</text>
<text class="ax" x="409.4" y="286.6" text-anchor="middle">58</text>
<text class="ax" x="240.6" y="54.0" text-anchor="end">-12</text>
<text class="ax" x="240.6" y="138.6" text-anchor="end">-14</text>
<text class="ax" x="240.6" y="223.3" text-anchor="end">-16</text>
<text class="ax" x="240.6" y="307.9" text-anchor="end">-18</text>
<text class="ax" x="240.6" y="392.6" text-anchor="end">-20</text>
<text class="ax" x="240.6" y="477.2" text-anchor="end">-22</text>
<text class="ti" x="37.2" y="65.9">2A23 rain types</text>
<text class="pl" x="456.4" y="522.6" text-anchor="middle">(h)</text>
</g>
<path d="M243.1 294.9h12.6M249.4 288.6v12.6" stroke="#000" stroke-width="4.4"/>
<rect x="495" y="40.7" width="9" height="169.3" fill="#FF4500"/>
<rect x="495" y="210.0" width="9" height="169.3" fill="#0000FF"/>
<rect x="495" y="40.7" width="9" height="508.0" fill="none" stroke="#000" stroke-width="0.8"/>
<text class="tk" x="508.3" y="49.3">Conv</text>
<path d="M504 41.0h2.2" stroke="#000" stroke-width="0.7"/>
<text class="tk" x="508.3" y="218.6">Strat</text>
<path d="M504 210.3h2.2" stroke="#000" stroke-width="0.7"/>
<text class="tk" x="508.3" y="388.0">N/A</text>
<path d="M504 379.7h2.2" stroke="#000" stroke-width="0.7"/>
</g>
<g transform="translate(1181.05 1181.05)">
<g clip-path="url(#cp)">

</g>
<path d="M15.4 41.3V548.7 M94.2 41.3V548.7 M173.0 41.3V548.7 M251.8 41.3V548.7 M330.6 41.3V548.7 M409.4 41.3V548.7" class="gr" stroke-dashoffset="0"/>
<path d="M13.0 54.3H486.0 M13.0 138.9H486.0 M13.0 223.6H486.0 M13.0 308.2H486.0 M13.0 392.9H486.0 M13.0 477.5H486.0" class="gr"/>
<g clip-path="url(#cp)">
<path d="M13.2 121.1 L14.3 119.3 L16.9 119.3 L19.8 120.7 L22.0 124.4 L23.1 128.1 L25.0 129.9 L26.4 131.0 L27.9 128.1 L28.3 122.9 L29.0 119.6 L32.3 118.9 L35.2 117.4 L35.6 115.6 L34.5 113.4 L36.7 114.5 L40.4 115.2 L44.0 114.1 L46.6 111.9 L47.3 108.3 L47.7 103.9 L48.8 100.2 L50.6 96.5 L52.5 92.5 L52.9 89.9 L51.8 86.2 L50.6 81.8 L49.9 78.9 L47.7 76.0 L45.9 74.1 L44.4 73.4 L47.0 71.9 L49.2 73.4 L51.4 74.1 L53.2 73.0 L53.6 70.1 L55.8 67.9 L58.7 66.1 L60.9 63.5 L61.3 59.8 L63.1 54.7 L65.3 53.2 L66.4 54.7 L64.6 58.4 L64.6 64.2 L66.4 66.8 L68.3 65.0 L70.5 65.3 L72.3 69.4 L76.0 69.7 L77.1 73.0 L77.4 77.4 L77.1 81.8 L80.0 83.7 L80.7 87.0 L83.3 86.6 L85.9 88.8 L88.5 91.4 L88.8 94.3 L91.4 98.0 L91.8 102.4 L92.5 106.8 L94.0 110.5 L95.4 112.7 L95.8 116.3 L97.6 122.2 L99.1 128.1 L99.8 134.0 L100.2 139.1 L100.6 144.2 L100.9 148.6 L102.4 150.8 L101.7 155.2 L102.0 160.4 L102.8 165.9 L105.0 173.2 L107.9 180.6 L111.6 185.7 L113.6 190.1 L114.1 194.5 L113.0 201.1 L110.8 207.0 L108.6 211.4 L107.2 216.5 L104.2 220.9 L101.7 222.8 L98.4 220.9 L94.7 216.5 L92.9 211.4 L91.0 207.0 L89.9 203.3 L90.7 199.6 L86.6 199.6 L82.2 200.7 L80.0 203.3 L80.4 207.7 L81.5 212.1 L82.6 216.5 L83.3 220.2 L82.2 223.9 L82.9 227.5 L85.2 229.4 L87.7 230.8 L88.5 233.4 L87.4 237.1 L89.2 241.5 L88.5 245.9 L86.3 249.6 L84.4 252.5 L84.8 256.2 L87.4 258.4 L85.9 259.8 L82.2 260.6 L78.2 262.0 L76.3 266.4 L74.1 272.3 L72.3 276.7 L71.6 280.4 L71.2 280.0 L72.7 283.7 L74.5 288.8 L75.2 294.7 L74.1 299.1 L72.7 304.2 L71.6 309.4 L71.6 314.5 L70.1 320.4 L69.0 325.5 L66.1 332.9 L63.5 340.2 L60.9 347.5 L57.3 354.1 L55.4 360.7 L52.9 368.1 L49.9 375.4 L48.1 382.8 L47.0 389.4 L45.5 390.8 L45.9 394.5 L44.0 399.7 L43.7 400.0 L40.4 406.6 L38.2 414.7 L36.0 423.5 L34.1 430.1 L32.3 434.5 L31.9 438.9 L30.1 447.0 L27.2 457.3 L24.2 466.1 L22.0 471.2 L19.5 476.3 L17.6 481.5 L15.4 488.8 L12.8 496.9 M13.6 135.4 L16.5 137.6 L13.2 139.8 L16.9 142.0 L13.6 144.2 L17.3 146.1 L13.2 147.9 L16.5 149.4 L14.7 151.6 M12.8 163.3 L15.0 165.1 L13.9 167.3 L15.8 169.2" class="co" stroke-width="1.25"/>
<path d="M13.0 144.8 L32.3 158.2 L51.4 171.7 L110.3 211.6 L149.9 238.0 L227.9 289.1 L287.7 326.4 L308.1 339.1 L449.2 423.2 L469.6 434.9 L486.0 444.4" class="da" stroke-dasharray="12.00 11.53"/>
<path d="M13.2 258.0 L32.3 271.2 L52.1 284.0 L110.3 323.9 L149.9 349.6 L189.6 375.0 L229.2 400.2 L268.8 425.5 L309.5 449.6 L369.7 485.9 L409.9 509.5 L430.7 521.9 L471.8 544.2 L480.0 548.7" class="da" stroke-dasharray="11.99 11.52"/>
<g fill="none">
<path stroke="#A8A8A8" stroke-width="1.7" d="M92.6 204.8h1.7M91.5 201.6h1.7M108 222.3h1.7M107.8 224.1h1.7M106.3 220.3h1.7M106.4 223.6h1.7M89.6 253.9h1.7M196.6 304.1h1.7M196.1 302.8h1.7M216.2 333.9h1.7M218.2 346.5h1.7M187.2 339.4h1.7M233.6 334.9h1.7M335 373.3h1.7M334.8 375.9h1.7M336.3 372.2h1.7M369.4 385.5h1.7M297.7 397.7h1.7M483.7 520.2h1.7"/>
<path stroke="#A8A8A8" stroke-width="2" d="M98.4 212.2h2M99.9 213.9h2M100.3 213.6h2M89.7 251.4h2M90.2 254.6h2M89.3 253.5h2M89.5 254h2M152.9 284.4h2M186.9 338.8h2M244.9 360.4h2M246.2 359.1h2M335 373.3h2M337.5 373.4h2M343.8 366.2h2M344.4 366.3h2"/>
<path stroke="#A8A8A8" stroke-width="1.4" d="M99.3 213.6h1.4M108.5 222.8h1.4M88.8 252.8h1.4M198 305h1.4M198 323.8h1.4M246.7 358.6h1.4M245.5 359.5h1.4M296.3 395.1h1.4M297.2 395.6h1.4"/>
<path stroke="#E2E2E2" stroke-width="1.4" d="M93.7 207.3h1.4M92.3 208.3h1.4M100.5 217.1h1.4M100.2 217h1.4M99 218.6h1.4M95.9 209.5h1.4M105.9 217.1h1.4M118.1 230.1h1.4M112.8 226.6h1.4M117.8 230.4h1.4M91.2 257h1.4M91.9 249.5h1.4M77.5 262h1.4M87.8 265.5h1.4M87.3 267.7h1.4M81.9 275h1.4M85 283h1.4M88.3 281.9h1.4M93.9 296.7h1.4M92.8 308.3h1.4M89.4 306.2h1.4M127.9 248.8h1.4M130.6 250.5h1.4M148.3 241.9h1.4M196 307.8h1.4M197.2 325.5h1.4M207.6 315.6h1.4M210.4 329h1.4M206.2 326.3h1.4M217 336h1.4M218 333.6h1.4M217.4 336h1.4M216 350.6h1.4M219.5 345.6h1.4M220.8 349.4h1.4M187.6 339.9h1.4M188.9 348.2h1.4M193.4 354.3h1.4M197.2 354.3h1.4M194.6 356.2h1.4M197.1 354.6h1.4M193.6 356.9h1.4M205.4 367.9h1.4M205.6 367h1.4M224.7 337.7h1.4M250.9 340.4h1.4M254.2 341.4h1.4M252.8 344.4h1.4M249.1 361.6h1.4M248.9 357.9h1.4M285.4 324.5h1.4M293.2 349.9h1.4M292.3 349.2h1.4M296.4 349.5h1.4M242 340.1h1.4M244.5 338h1.4M250.8 342.8h1.4M250.5 338.7h1.4M246.5 357.4h1.4M243.3 358.8h1.4M259.7 366.9h1.4M267.1 376h1.4M267.8 374.6h1.4M280 373.4h1.4M280.2 381.7h1.4M295.2 377.1h1.4M337.1 378.5h1.4M333.4 376.6h1.4M329.8 376.5h1.4M338.7 369.1h1.4M333.4 371.5h1.4M335.5 378.6h1.4M346.6 365.2h1.4M367.5 384h1.4M370.4 388.4h1.4M364.2 382.4h1.4M314.9 388.5h1.4M296 392.8h1.4M290.2 401.9h1.4M322.7 408.6h1.4M317.7 414.4h1.4M336.4 408.9h1.4M386.6 409.8h1.4M325.4 451h1.4M325.1 452.7h1.4M442.1 480.4h1.4M479.7 482.9h1.4M480.7 485.6h1.4M415.1 488.6h1.4M418.2 500.1h1.4M444.2 509h1.4M485.3 519.6h1.4M482.1 526.2h1.4"/>
<path stroke="#E2E2E2" stroke-width="1.7" d="M93.5 201.2h1.7M104.7 221.8h1.7M109.9 225.5h1.7M86.5 249.5h1.7M86.4 248.9h1.7M90.2 255.6h1.7M92.6 252.8h1.7M87.7 250.3h1.7M89.8 249.7h1.7M90.2 258.6h1.7M90.7 247.8h1.7M77.3 262.6h1.7M88.5 267.7h1.7M90.4 264.2h1.7M84.7 276.2h1.7M85.6 281.2h1.7M89.4 285.7h1.7M95.3 295.4h1.7M93.1 298.1h1.7M91.9 309.9h1.7M154 282.6h1.7M198.6 302.2h1.7M194.9 301.5h1.7M194.7 305.8h1.7M198.7 302.5h1.7M196 310.2h1.7M206.3 315.3h1.7M208.5 329.9h1.7M207 329.1h1.7M217.6 334.7h1.7M212.8 332.5h1.7M215.1 345.3h1.7M220.4 348.6h1.7M224.4 339.1h1.7M223.6 340.9h1.7M233.8 338.6h1.7M244.4 362h1.7M260.9 368.3h1.7M269.3 375.5h1.7M236 311.5h1.7M303.3 336.9h1.7M295.6 349.4h1.7M295.5 345.6h1.7M292.6 350.2h1.7M233.6 337.1h1.7M232.3 334.4h1.7M234.1 337.4h1.7M240.7 340.8h1.7M242.6 338.1h1.7M241.7 339.8h1.7M249.2 343.4h1.7M252.1 339h1.7M253.3 343.9h1.7M247.8 343.9h1.7M266.4 352.2h1.7M247 356.5h1.7M247.5 360.9h1.7M299.3 369.2h1.7M269.6 374.8h1.7M270.3 381.8h1.7M272.7 381.7h1.7M272.7 379.7h1.7M276.7 383.2h1.7M281.4 374.3h1.7M283.6 383.6h1.7M283.3 382.1h1.7M281.9 389.9h1.7M306 376.9h1.7M301.8 379.4h1.7M303.6 380.2h1.7M307 379.2h1.7M319.1 375h1.7M335.3 369.1h1.7M338.4 369.7h1.7M370.2 384.4h1.7M363.9 383.4h1.7M319 387.8h1.7M317.8 388.7h1.7M295.3 397h1.7M298.9 398h1.7M299.6 392.3h1.7M300.4 403.8h1.7M317.9 414.2h1.7M339.6 413.4h1.7M439.3 481.7h1.7M439.4 479h1.7M423.7 500.2h1.7M423.3 503.8h1.7M484.6 526.8h1.7M462.9 538.7h1.7"/>
<path stroke="#E2E2E2" stroke-width="2" d="M93.1 206.3h2M103.6 215.3h2M97.1 209.5h2M98.2 217h2M102.5 211.4h2M103.5 219.2h2M102.5 223.3h2M104.6 225.3h2M104.9 225.6h2M90.2 249.7h2M77 263.3h2M81.6 261.1h2M96.1 264.9h2M88.6 307.4h2M148.3 240.5h2M194.6 300.5h2M198.4 309.8h2M199.1 316.1h2M206.7 315.7h2M215.8 337.8h2M217.2 334.8h2M218.3 334h2M219 345.6h2M219.8 349.3h2M220.7 349h2M186.1 337.6h2M187.7 331h2M188.8 347h2M189.8 348.3h2M210 371.1h2M223.2 338.7h2M234.4 333.2h2M240.5 337h2M239.8 339.3h2M240.1 339.1h2M251.1 342.8h2M244.9 358.6h2M246.9 361.7h2M248.9 358.8h2M260.3 366.4h2M265 352.8h2M242.2 315.2h2M294.5 348.4h2M240.7 339h2M252.2 339.6h2M250.1 345.6h2M244 359.5h2M245.1 361.3h2M270.8 375.4h2M283.7 384.2h2M282.8 383.3h2M306.1 377.8h2M359.8 374.2h2M358.6 377.2h2M318.5 390.7h2M298 398.4h2M300.2 396.3h2M300 396.4h2M297.3 393.2h2M287.6 402.7h2M327.1 401.5h2M315.7 412.2h2M319 414.8h2M337.1 411.9h2M339.6 411.8h2M351.7 414.5h2M386.5 410.6h2M396.1 407.5h2M329.8 450.3h2M409 474.7h2M414.3 473.5h2M438.9 484.1h2M438.7 484.3h2M435.6 483.4h2M480.1 482.9h2M413 488.3h2M417.6 490h2M440.7 501h2M431.7 512.4h2M432.3 514.5h2M434.9 512.2h2M485.8 519.2h2"/>
<path stroke="#D0D0D0" stroke-width="1.7" d="M92.8 208h1.7M94 202.8h1.7M100.7 209.3h1.7M99.2 218.1h1.7M105.9 224.9h1.7M102.9 225.1h1.7M109.5 223.5h1.7M106.7 225.5h1.7M116.7 228h1.7M116.6 227.3h1.7M113.5 229.9h1.7M94.1 254.8h1.7M86.7 257.5h1.7M93.8 255h1.7M85.8 253.8h1.7M89.5 248.8h1.7M90.8 266.3h1.7M86.6 265.1h1.7M95 267.5h1.7M84.8 280.9h1.7M88.2 288.6h1.7M94 292.2h1.7M93 309.6h1.7M91.7 309.3h1.7M150.5 248.6h1.7M152.4 281.3h1.7M139.6 275.8h1.7M196.5 309.5h1.7M197.3 309h1.7M197.7 314.7h1.7M196.6 317.3h1.7M210.6 325.6h1.7M213.2 332.6h1.7M220.6 349.8h1.7M215.3 350.1h1.7M186.2 337.1h1.7M198 355h1.7M198.3 366.2h1.7M204.1 366.2h1.7M235 337.8h1.7M235.7 335.8h1.7M243.1 339.8h1.7M240 339.3h1.7M244 337.8h1.7M249.3 340.9h1.7M247.8 340.6h1.7M248.8 357.2h1.7M241.9 314.3h1.7M294.6 348.6h1.7M234.9 335.1h1.7M243.1 338.1h1.7M249 343.1h1.7M268.5 352.9h1.7M243.8 359.9h1.7M244.2 356.6h1.7M288 368h1.7M284.2 377.9h1.7M280.2 379.5h1.7M283.7 384.2h1.7M303.8 379.7h1.7M319.4 375.9h1.7M334.9 370.3h1.7M330.8 377h1.7M329.8 374.6h1.7M337.3 377.2h1.7M369.2 384.3h1.7M297.2 393.6h1.7M298.9 398.8h1.7M295.3 392.2h1.7M300.8 401.1h1.7M323.7 409.5h1.7M327.1 408.7h1.7M339.6 410.9h1.7M411.2 438.5h1.7M441.4 483.7h1.7M478.2 483.5h1.7M480.2 479.8h1.7M480.6 484.8h1.7M416.5 488.4h1.7M414.3 485.9h1.7M414.5 489.3h1.7M484.9 518.3h1.7M464.6 540.9h1.7M459.4 537.6h1.7"/>
<path stroke="#D0D0D0" stroke-width="1.4" d="M93.2 203.8h1.4M101 217.7h1.4M102.7 211.1h1.4M96.4 208.1h1.4M110.1 220h1.4M104.3 225h1.4M110.8 229h1.4M92.8 250.8h1.4M87.1 250h1.4M87.5 251h1.4M81.3 264.6h1.4M77.6 265.2h1.4M80.6 261.1h1.4M85.6 281.2h1.4M93.3 291.9h1.4M90.2 307.3h1.4M89.3 309.7h1.4M195 302.6h1.4M195.3 303h1.4M198.8 317.6h1.4M207.7 325.5h1.4M216.2 349.3h1.4M197.8 356.4h1.4M221.5 327.4h1.4M225 320.8h1.4M236.6 336.6h1.4M248.5 343.3h1.4M251.4 342.9h1.4M248.6 336h1.4M244 361.3h1.4M284.9 327.5h1.4M284.9 326.1h1.4M293.3 349.3h1.4M231.7 335.4h1.4M253.7 339.9h1.4M247.9 335.3h1.4M249.3 334.2h1.4M286.4 366.6h1.4M301.4 369.7h1.4M281 383.5h1.4M303.1 376.1h1.4M301.5 376.3h1.4M340.4 371.8h1.4M335.7 370.9h1.4M331.6 378h1.4M334.6 378.6h1.4M345.9 368h1.4M359.8 374.7h1.4M361.1 371.4h1.4M367.8 386.9h1.4M370.1 385.4h1.4M319 388.1h1.4M294.9 393.1h1.4M299.1 395.1h1.4M292.8 403.8h1.4M288 402.7h1.4M325.6 399.4h1.4M327.1 398h1.4M327 410.4h1.4M324.1 412.2h1.4M324.7 410h1.4M324.5 408.8h1.4M336.6 408.6h1.4M334.2 409.5h1.4M333.7 411.5h1.4M359.4 416h1.4M436.8 461.5h1.4M450.8 460.1h1.4M434.5 491.9h1.4M407.9 493.9h1.4M416.6 496.6h1.4M425 502.2h1.4M421.8 504.6h1.4M439.6 498.5h1.4M439.9 500.4h1.4M483.9 525.3h1.4M484.3 533.2h1.4M456.9 530.7h1.4"/>
<path stroke="#D0D0D0" stroke-width="2" d="M92.9 203.1h2M104.8 219.3h2M107 216.8h2M108.7 217.4h2M103.4 219.7h2M110.8 220.5h2M111.3 223.5h2M104.7 226.7h2M113.3 227.3h2M88.4 256.6h2M76.1 261.3h2M76.4 262.2h2M91 266.2h2M87 267.3h2M97.4 255.5h2M87.7 287.3h2M91.1 294.6h2M128.3 249.9h2M198.2 313h2M195 309h2M198.9 326.6h2M200.1 320.6h2M199 316.5h2M196.8 313.8h2M218.2 333.3h2M215.4 331.2h2M213.4 336.5h2M213.7 337.4h2M216.2 350.6h2M205.8 368.1h2M205.3 368.1h2M236.1 334.5h2M243.7 338.6h2M240.2 338.3h2M248.9 341.6h2M248 357.6h2M248.6 359.7h2M247.9 359.4h2M259.8 363h2M284.8 325.7h2M280.7 324.1h2M235 336.6h2M240.5 339.7h2M261.7 349.1h2M272.7 381.5h2M282.3 382.5h2M281.6 389.1h2M262.5 389.3h2M302.2 374.7h2M303.2 378.9h2M317 374.8h2M331.5 375.8h2M335.9 370.3h2M331.5 377.8h2M337.7 377h2M357.7 376h2M303 390.4h2M287.6 403.5h2M287.1 404.3h2M322.8 413.3h2M340.7 412h2M351.8 415.6h2M395.9 399.6h2M358.8 415.8h2M436.2 461h2M412.7 478.3h2M439.9 480.9h2M440.4 480.7h2M479 513.5h2M483 529.1h2M445.4 530.4h2"/>
<path stroke="#D0D0D0" stroke-width="1.5" d="M243.7 387.2h1.5M299.4 396.8h1.5M439.5 488.7h1.5M419.5 418.8h1.5M436.2 514.1h1.5M303.4 360.5h1.5M254.2 319.7h1.5M259.1 408.6h1.5M276.5 349h1.5M245.9 353h1.5M285.7 408.3h1.5M378.9 393.4h1.5M270 372.4h1.5M271.6 411.6h1.5"/>
<path stroke="#70CC74" stroke-width="2" d="M91.5 203.8h2M107.7 220.5h2M108.5 221.7h2M106.6 221.3h2M88.2 252.3h2M88.3 253.9h2M79.6 262.7h2M153.6 283.7h2M197.1 304.6h2M197.2 307.1h2M219.2 347.9h2M246.6 358.7h2M343.2 366.6h2M367.5 385.3h2M298.2 396.5h2M319.8 412.6h2M320.2 412.1h2M457.3 530.8h2M266.1 326.3h2M274.1 320h2M271.6 322.6h2M263.2 319.1h2M274 323.2h2M268.6 323.5h2M271.5 326.2h2M274.9 321.3h2M271.9 321.9h2"/>
<path stroke="#70CC74" stroke-width="1.7" d="M98.4 212.4h1.7M196.9 303h1.7M216.1 334.8h1.7M218.1 346.4h1.7M296.7 397.2h1.7M334.6 410.3h1.7M264.9 326.2h1.7M271.4 323.3h1.7M271.5 318.2h1.7M265.8 314.5h1.7M266.5 321.8h1.7M265.5 317.6h1.7M266.8 319.1h1.7M270.2 315.2h1.7M261.2 322.8h1.7M270 319.1h1.7M260.5 319h1.7M265 317.2h1.7M270.9 318.9h1.7"/>
<path stroke="#70CC74" stroke-width="1.4" d="M105.8 223h1.4M91.2 253.1h1.4M196.5 303.7h1.4M197.3 305h1.4M196.9 304.3h1.4M197.4 318.4h1.4M216.2 333.4h1.4M214.9 334.3h1.4M217.8 347.7h1.4M219.2 348h1.4M234.5 335.2h1.4M245.1 360.6h1.4M245.3 358.1h1.4M337 374h1.4M333.8 374.8h1.4M334.9 372.5h1.4M290.2 403h1.4M335.2 409.8h1.4M457.6 532.1h1.4M263.2 321h1.4M266.2 321.7h1.4M262.4 320.9h1.4M265.9 314.9h1.4M266.7 314.8h1.4M268.9 321h1.4M264 318.6h1.4M266.4 317h1.4M267.1 326.6h1.4M269.1 326.2h1.4M263.9 322.1h1.4M268.1 326h1.4M264.9 323.3h1.4M269.3 324.2h1.4M273.4 319.6h1.4M265.7 323.2h1.4M269.8 321.5h1.4M267.7 316.7h1.4M266.8 323.3h1.4M275 320.5h1.4M271.6 315.6h1.4M269.3 318.6h1.4M270.5 318.5h1.4"/>
<path stroke="#B8B8B8" stroke-width="1.7" d="M93 205.8h1.7M89.7 200.8h1.7M99.5 217.5h1.7M97.2 212.1h1.7M100.7 208.7h1.7M101 215.7h1.7M96.4 211.9h1.7M99.7 209.2h1.7M101.7 221.5h1.7M105.2 218.7h1.7M111.9 227.7h1.7M109.1 227.1h1.7M90 250.6h1.7M92.9 249.4h1.7M87.3 253.4h1.7M89.2 257.7h1.7M94.3 254.2h1.7M87.5 268.2h1.7M94.7 263.9h1.7M96.6 257.2h1.7M83.9 275.2h1.7M86.2 282.4h1.7M88 286.3h1.7M91.3 286.6h1.7M95 296.6h1.7M93.4 293h1.7M129.1 249.4h1.7M130.1 248.3h1.7M199.4 306.8h1.7M199.7 318.3h1.7M200.9 322.7h1.7M199.7 320.3h1.7M199 317.5h1.7M209.3 311.2h1.7M206.6 315.9h1.7M207.4 315.9h1.7M209.1 328h1.7M208.9 327h1.7M206.6 329.8h1.7M216.9 350.8h1.7M220.2 348.2h1.7M220.7 345.6h1.7M193.6 355.4h1.7M204 366h1.7M223.9 328.4h1.7M232.8 334.1h1.7M233.7 333h1.7M241.6 339.9h1.7M241.4 341h1.7M248.7 341h1.7M248.5 340.8h1.7M172.3 349.3h1.7M285.4 325.4h1.7M284 327.7h1.7M296 346.3h1.7M233.5 334.3h1.7M242.9 338.6h1.7M250.6 339.5h1.7M250 341h1.7M251.6 344.8h1.7M243.4 356.6h1.7M259.6 363.9h1.7M259.5 364.9h1.7M261.4 366h1.7M275.4 383.4h1.7M280.6 376.2h1.7M281.9 384.1h1.7M280.9 380.6h1.7M306.8 375.7h1.7M304.9 378.3h1.7M337.8 368.5h1.7M337.5 368.8h1.7M333.4 369.5h1.7M342.2 365.8h1.7M344.3 365.3h1.7M361.7 374.6h1.7M360.3 371.3h1.7M362.8 373.6h1.7M304.3 389.7h1.7M297.5 391.7h1.7M339.4 415.1h1.7M350.6 414.9h1.7M435.7 461.9h1.7M485.3 475.3h1.7M479.4 483.7h1.7M427.6 491.5h1.7M406 504.7h1.7M432.6 510.6h1.7M484.6 526.7h1.7M464.3 539.7h1.7"/>
<path stroke="#B8B8B8" stroke-width="1.4" d="M92.7 207.2h1.4M97.5 211.6h1.4M99.7 219h1.4M101.3 215.8h1.4M111.3 221.9h1.4M110.5 229.2h1.4M111.8 225.9h1.4M113.9 226h1.4M77.8 265.8h1.4M75.8 262h1.4M91.5 265.4h1.4M82.1 270.4h1.4M84.8 282.7h1.4M91.2 309h1.4M148.6 248.1h1.4M134.2 237.9h1.4M150.1 270.3h1.4M196.2 313.3h1.4M197 327.3h1.4M196.6 316.4h1.4M197.1 318.8h1.4M207.6 329h1.4M206.8 328.9h1.4M218 336.8h1.4M221.2 348.4h1.4M187.1 337.7h1.4M236 336.4h1.4M242 337h1.4M253 344.3h1.4M248.5 339.9h1.4M250.4 345.1h1.4M249 341h1.4M249.5 360h1.4M262.4 366.4h1.4M268 377.3h1.4M287 326.2h1.4M294.3 345.5h1.4M296.8 347.3h1.4M296.9 348.2h1.4M298.4 353.4h1.4M251.4 341.3h1.4M253.5 341.5h1.4M265.7 351.7h1.4M247 356h1.4M247.7 361.5h1.4M244.3 362.7h1.4M246.5 362h1.4M248.5 359.6h1.4M260 363.5h1.4M260.8 365.3h1.4M309.4 365.4h1.4M285.7 381.4h1.4M282.7 383h1.4M286.4 379.8h1.4M284.7 378.8h1.4M335.7 369.1h1.4M340.9 374.4h1.4M335.8 376.1h1.4M342.5 367.5h1.4M342.6 366.5h1.4M342.2 368h1.4M361.8 371.6h1.4M358.2 372.5h1.4M353.3 372.4h1.4M372.3 387.8h1.4M302.3 388.9h1.4M318.8 387.4h1.4M327.4 408.6h1.4M320.1 410h1.4M310.9 411.4h1.4M336.5 412.4h1.4M340.7 414.9h1.4M341.4 412.6h1.4M391.6 408.5h1.4M397.9 407.6h1.4M410.1 437.4h1.4M435.4 462h1.4M466.8 466h1.4M440.8 480.7h1.4M481.8 484.4h1.4M478.5 481.7h1.4M482.5 483.4h1.4M414.9 501.1h1.4M421 502.7h1.4M426.7 502h1.4M424.2 500.1h1.4M403.1 500.3h1.4M468 518.7h1.4M485.6 519h1.4M484 526.4h1.4M466.2 538.8h1.4"/>
<path stroke="#B8B8B8" stroke-width="2" d="M93.8 202h2M98 209h2M101.9 212.8h2M110.6 221.2h2M111.6 222h2M107.5 225.5h2M111.9 228.9h2M113.1 229.9h2M112.4 224.8h2M86.2 252.8h2M93.8 255.8h2M80.5 261.7h2M83 264.4h2M93.8 265.2h2M83.2 277.4h2M82.9 278.1h2M81.9 275.9h2M83.1 281.5h2M91.2 294.2h2M93.8 294.8h2M195 302h2M196.4 311.2h2M198.1 313.7h2M196.5 319.9h2M208.5 311.2h2M209.8 329.8h2M187.7 339.7h2M194.4 354.6h2M196.6 367.9h2M197.4 367.7h2M235.5 338.6h2M251.4 338.6h2M252 344.8h2M246.5 357.8h2M249.5 361.2h2M261 363.1h2M266.3 351.3h2M239.5 312.5h2M286.4 325.4h2M285.6 326.5h2M242 337.7h2M248.5 344.1h2M252.1 341.9h2M250.1 342.4h2M274.1 363.4h2M282.4 384.2h2M283.8 378.6h2M282.2 388.7h2M304 375.8h2M304.7 375.1h2M303.4 380.1h2M295.8 378.8h2M333.9 375.7h2M335.3 378.2h2M341.5 371.3h2M332.8 371.1h2M340.3 370.4h2M339.8 371.6h2M345.4 366.7h2M358 373.5h2M366.2 385h2M311 389.4h2M297.6 392.9h2M295.2 393.1h2M289.8 405.9h2M291.5 405.8h2M325.8 398.4h2M327.8 409.7h2M319.2 410.4h2M315.6 414.1h2M337.4 410.1h2M338.7 411h2M338.3 413.1h2M390.7 419.8h2M410.1 438.5h2M410.1 437.2h2M436.2 461h2M447.6 459.2h2M440.6 481.7h2M438.3 481.3h2M481 484.7h2M482.4 482.2h2M395.3 488.9h2M415.9 486.5h2M413.5 489.4h2M454.6 493h2M424 499.5h2M425.3 498.3h2M435.5 512.3h2M477.7 514.5h2M461.5 537.9h2M464.4 540.1h2"/>
<path stroke="#C4C4C4" stroke-width="1.4" d="M94.1 203.6h1.4M92.7 201.8h1.4M92.3 208.3h1.4M98.7 209.6h1.4M100.2 208.5h1.4M97.1 211h1.4M105.7 226.2h1.4M109 227.5h1.4M109.8 221.6h1.4M91.1 255.4h1.4M91 257.8h1.4M87.8 250.7h1.4M76.8 261.3h1.4M90.2 267.6h1.4M98.6 256.2h1.4M88.8 286.5h1.4M92.2 294.6h1.4M89 309.1h1.4M92.8 306.5h1.4M88.8 306.6h1.4M129.7 249.8h1.4M148.8 249.8h1.4M152.5 282.9h1.4M197.4 299.7h1.4M195.7 321.8h1.4M196.2 314.4h1.4M198 326.5h1.4M198 329.4h1.4M207.5 324.7h1.4M210.5 330.2h1.4M217.6 335.5h1.4M217.5 336.6h1.4M216.4 345.9h1.4M188 338h1.4M205.3 365h1.4M204.7 366.3h1.4M206.7 369.5h1.4M245 359.1h1.4M246.1 316.1h1.4M295.5 351h1.4M294 350.1h1.4M295.3 349.5h1.4M300.6 346.8h1.4M232.2 336.1h1.4M252.2 339.9h1.4M252.2 345.1h1.4M245.9 361.1h1.4M247.8 362.6h1.4M301.7 368.2h1.4M270.4 375.3h1.4M268.6 375.9h1.4M286 381.1h1.4M281 380.7h1.4M320.3 375.2h1.4M338.1 368.6h1.4M334.3 370.9h1.4M335.9 368.6h1.4M333.4 375.5h1.4M338.4 374.6h1.4M339.1 377.2h1.4M332.9 372.1h1.4M333 377.5h1.4M370.4 385.6h1.4M366.7 383.2h1.4M371.1 387.5h1.4M288.9 405.3h1.4M288.8 402.7h1.4M327.6 400.2h1.4M327.8 410.7h1.4M325.9 409.4h1.4M334 410.1h1.4M338.7 413.8h1.4M394.7 400h1.4M325.6 453.1h1.4M357.9 417h1.4M436 462h1.4M441.5 481.1h1.4M439.2 479.6h1.4M479.7 484h1.4M478.5 484.1h1.4M478.8 484.3h1.4M432.5 491.8h1.4M414.6 500h1.4M416.2 496.9h1.4M427.9 500.9h1.4M420 504.6h1.4M447.4 512.6h1.4M484.7 528.9h1.4M483.1 528.2h1.4M456.3 530.6h1.4M271.4 323.9h1.4M260.4 319.1h1.4M261.6 321.6h1.4M273 325.1h1.4M264.8 326.4h1.4M267 326h1.4M261.1 318.4h1.4M264 324.1h1.4"/>
<path stroke="#C4C4C4" stroke-width="2" d="M91.7 205.2h2M99.6 211h2M96.6 212.8h2M99.8 207.8h2M111.4 225.1h2M103.1 218.3h2M106.1 217h2M112 230.1h2M110.7 228.9h2M84.9 253.9h2M92.5 248.7h2M92.5 253.6h2M90.8 249.6h2M90.6 258.3h2M77.4 262h2M77.6 266.5h2M88.3 285.8h2M88.4 288.8h2M93.1 293h2M87.8 307.3h2M91.4 310h2M127.8 249.8h2M129.8 249.7h2M149 247.7h2M146.3 249.6h2M152.5 283.7h2M195.6 303.6h2M197.5 301.6h2M196.8 321.9h2M200 324.7h2M196.4 317.6h2M207.8 314.1h2M235.6 334.2h2M251.1 344.7h2M249.6 342.1h2M244.3 361.7h2M269.2 377.4h2M269.4 375.4h2M301.8 338.4h2M292.8 348.4h2M297.5 348.9h2M243.9 359.8h2M248.2 361.5h2M275.9 383.2h2M284.9 379.2h2M281 378.6h2M307.4 377.6h2M330.8 372.5h2M337.5 370.5h2M340.6 374.1h2M336 370.3h2M347.2 366.7h2M362.9 374.7h2M368.9 385h2M363.7 383.9h2M294 403.4h2M294 404.3h2M342.2 411.8h2M448.9 458.4h2M441.5 480.5h2M481.3 481.3h2M482 480.8h2M428.1 490.8h2M428.2 499h2M427.8 500h2M435.7 512.6h2M433.4 513.7h2M447.3 512.6h2M482.9 528.6h2M460.7 537.8h2M462.3 540.2h2M465.8 539.8h2M263.2 317.3h2M272.7 316.8h2M261.4 321.9h2M263.6 315.3h2M261 322.6h2M262.5 321.9h2M272.1 317.6h2M268 316.6h2M266.7 314.3h2M270.6 315.8h2M263.3 324.3h2M266.5 325h2M273.3 324.4h2M262.5 324.3h2M269.6 324.9h2M264.2 323.7h2"/>
<path stroke="#C4C4C4" stroke-width="1.7" d="M101.2 209.5h1.7M99 209.3h1.7M100.8 218.6h1.7M96.9 211.7h1.7M100.4 217.5h1.7M99.6 208.4h1.7M111.1 220.7h1.7M105.1 224h1.7M112.4 227.9h1.7M88.2 247.9h1.7M77.3 263.2h1.7M80.5 264.7h1.7M77.2 260.9h1.7M80 265.7h1.7M90 266.1h1.7M86.8 267.6h1.7M94.6 265.2h1.7M87.3 283.2h1.7M89.7 286h1.7M92.8 295.7h1.7M95.2 293.8h1.7M128.8 248.1h1.7M153.1 286.4h1.7M152.9 285.9h1.7M197.3 301.9h1.7M199.2 319.8h1.7M200.5 324.4h1.7M199.5 328.1h1.7M198 318.1h1.7M207.2 328h1.7M210.8 329.4h1.7M196 365.7h1.7M234.7 339.3h1.7M232.2 334.2h1.7M251 344.1h1.7M250.9 344.2h1.7M245.2 359h1.7M303.4 339.3h1.7M235.3 338.6h1.7M241.5 339.9h1.7M251.2 344.4h1.7M248.2 344.1h1.7M275.3 362.4h1.7M286.9 382.1h1.7M286.2 379.6h1.7M267.4 387.1h1.7M307.6 376.7h1.7M318.2 374.2h1.7M338 371.9h1.7M338 370.9h1.7M361 373.9h1.7M363.3 382.9h1.7M319.9 390.8h1.7M299.5 393.2h1.7M299.6 399.6h1.7M294.9 393.9h1.7M288.6 405.3h1.7M299.8 402h1.7M325.4 400h1.7M322.1 413.7h1.7M317.9 411.6h1.7M322.4 410.3h1.7M386.1 409.3h1.7M385.7 410.6h1.7M325.1 453.8h1.7M351.4 415h1.7M457.8 450.1h1.7M423.4 462.4h1.7M484 475h1.7M434.5 479.8h1.7M441.6 482.2h1.7M439.9 482h1.7M439.4 480.6h1.7M414.1 498.8h1.7M422.3 502.9h1.7M417.3 505h1.7M438.5 498.9h1.7M434.9 514.5h1.7M435.8 512.1h1.7M433.1 510h1.7M483.1 520.8h1.7M485.2 534.1h1.7M266.3 315.1h1.7M273.3 320.7h1.7M270.2 315.6h1.7M262.8 321h1.7M267.7 326.1h1.7"/>
<path stroke="#DADADA" stroke-width="1.4" d="M93.1 201.3h1.4M95 210.8h1.4M98.5 217.4h1.4M98.6 215.8h1.4M107.4 224.9h1.4M106.6 225.7h1.4M103.3 222.2h1.4M102.3 222.2h1.4M108.9 220.2h1.4M108.9 226.1h1.4M114 227.5h1.4M115.9 226.6h1.4M116.3 231.2h1.4M85.8 257.3h1.4M79.4 266.3h1.4M80.9 262.1h1.4M82.5 270.6h1.4M85 280.6h1.4M95 296.9h1.4M90.1 308.1h1.4M93.3 308.8h1.4M129.9 250.4h1.4M146.7 249.6h1.4M152.2 282.5h1.4M155 281.8h1.4M154.3 285.8h1.4M198.2 309.4h1.4M195.8 309.9h1.4M196.6 311.4h1.4M199.3 310.8h1.4M196 314.5h1.4M209.3 328.7h1.4M214.8 332.9h1.4M214.6 348h1.4M184.3 333h1.4M194.9 353.8h1.4M224.1 328.9h1.4M225.9 320.9h1.4M220.8 315.3h1.4M236.4 336h1.4M241.4 337.9h1.4M250.9 340.1h1.4M247.8 342h1.4M245.6 362.6h1.4M245.9 357.4h1.4M259.8 366.6h1.4M246.8 315.7h1.4M294 348.8h1.4M233.9 337.6h1.4M241.5 339.8h1.4M244.3 339.3h1.4M260.7 364.5h1.4M259.8 365.6h1.4M261 363.9h1.4M301.5 370h1.4M300.4 369.6h1.4M308.5 366.5h1.4M284.6 381.4h1.4M302.6 378.7h1.4M302.8 378.3h1.4M340.9 373.9h1.4M340.9 376h1.4M346.2 366.6h1.4M363 372h1.4M367.8 383.9h1.4M294.8 395.4h1.4M288.3 404.8h1.4M326.6 398.9h1.4M321.7 409.5h1.4M325.1 408.7h1.4M327.1 410.3h1.4M314.5 414.4h1.4M326 451.4h1.4M436 462h1.4M448.3 458.1h1.4M436.6 484h1.4M414.3 498.6h1.4M448.9 507.7h1.4M484.9 518.2h1.4M485.9 526.6h1.4M458.2 530h1.4M458.7 536.7h1.4M460 537.6h1.4M464.3 539.4h1.4"/>
<path stroke="#DADADA" stroke-width="1.7" d="M89.9 199.4h1.7M93.3 200.8h1.7M101.9 217.6h1.7M95.3 213.8h1.7M98.1 211.3h1.7M101.4 211h1.7M108.2 226.2h1.7M116.1 229h1.7M111.4 225.5h1.7M85.2 251.1h1.7M88.5 250.1h1.7M87.8 248.1h1.7M77.3 261.9h1.7M80.6 261.5h1.7M77.1 262.6h1.7M94.1 267.1h1.7M85.2 281.5h1.7M89 285.2h1.7M95.3 297.4h1.7M153.8 286.6h1.7M195.1 301.1h1.7M196.7 298.8h1.7M199.5 310.2h1.7M195.8 302.6h1.7M199.6 324.1h1.7M207.2 316h1.7M187.2 336.7h1.7M185.8 336.6h1.7M184.4 340.3h1.7M194.2 356.5h1.7M196.3 365.5h1.7M196.4 368.1h1.7M235.7 336.9h1.7M240.3 337.7h1.7M251.6 342.9h1.7M249.8 338.7h1.7M246.1 362.7h1.7M249.4 360.9h1.7M268.6 375.3h1.7M267.7 377.2h1.7M51.9 182.5h1.7M293.6 349.2h1.7M234.7 337.6h1.7M235.4 335.5h1.7M247.4 341.5h1.7M244.6 361.1h1.7M243.6 359.9h1.7M243.7 356.7h1.7M260.3 365.9h1.7M261 365.8h1.7M263.1 364h1.7M287.8 368.7h1.7M300.8 368.7h1.7M283.9 384.1h1.7M284.5 384.7h1.7M301.1 375.9h1.7M321 375.9h1.7M333.3 377.4h1.7M339.4 377.6h1.7M336 370.6h1.7M338.9 376.9h1.7M344.7 365.6h1.7M367.9 387.4h1.7M365.3 383.3h1.7M303.5 389.9h1.7M317.1 389.3h1.7M318.6 387.9h1.7M296.6 398.9h1.7M299.2 396h1.7M322.5 413.5h1.7M319.7 409.8h1.7M324.5 408.8h1.7M395.2 401.3h1.7M395.6 401.4h1.7M326.3 452.3h1.7M390.8 420.1h1.7M437.8 456.1h1.7M450.9 458.6h1.7M475.4 469.6h1.7M474.7 470.7h1.7M412.6 478.6h1.7M438.8 484.6h1.7M440.9 481.6h1.7M438.2 480.6h1.7M396.5 489.6h1.7M396.5 489.8h1.7M415 488.5h1.7M415.4 489.4h1.7M453.6 491.7h1.7M416.7 498.2h1.7M405.6 504.9h1.7M434.5 514.9h1.7M472.9 513.9h1.7M459.1 532.3h1.7M461.6 537.9h1.7"/>
<path stroke="#DADADA" stroke-width="2" d="M94.3 204.3h2M101.9 211.7h2M103.3 214.9h2M103.1 222.1h2M105.7 224.7h2M105.7 218.8h2M111.9 222.6h2M110.6 222.1h2M110.7 223.3h2M111.5 228.4h2M118 229.7h2M91.9 257h2M86.4 257.6h2M93.7 252h2M76.7 262h2M94.5 264h2M90.6 294.8h2M95.1 297.4h2M88.9 305.6h2M154.5 244.2h2M155.1 285.9h2M151.1 269.7h2M135.7 275.1h2M195.5 308.2h2M198.2 306.9h2M197.5 311.2h2M198.6 315.3h2M199.7 328.1h2M198.8 319h2M198.8 327.8h2M196.2 318.2h2M196.2 320.1h2M208.6 330.5h2M219.2 350h2M216.8 344.4h2M186.7 341.6h2M187.8 332.6h2M203.7 367.1h2M207.3 368.2h2M206 374.4h2M225.3 339h2M233.4 337.3h2M249.4 335.4h2M249.5 362.3h2M249.9 339h2M251 340.4h2M246.3 357.7h2M262.4 366.1h2M301.4 368.7h2M284.7 379.7h2M280.4 381.4h2M284.5 384.9h2M303.5 378.4h2M305.8 376.6h2M319.7 375.2h2M339.4 377.7h2M338.2 377.4h2M331 372.5h2M334.3 368.7h2M333.6 376.9h2M334.4 371.7h2M341.8 367.2h2M345.8 366.4h2M362 372.4h2M365.3 385.4h2M301.6 390.7h2M302.7 388.2h2M298 393.7h2M296.8 398.4h2M314.5 413.6h2M382.9 411.9h2M327 453.1h2M327.7 450h2M322.9 449.6h2M432.1 452.9h2M428 459.1h2M436.1 461.6h2M423.4 462.3h2M440.9 480.3h2M477.3 481.5h2M467.8 482.8h2M414.1 486.8h2M427.5 490.3h2M454.5 491.9h2M435.4 512.7h2M432 514.1h2M457.7 512.2h2M471.3 513.8h2M468 520.1h2M483.5 518h2M485.7 528h2M462.7 538.3h2"/>
<path stroke="#B4B4B4" stroke-width="1.4" d="M98.3 211.5h1.4M99.1 212h1.4M80 262.8h1.4M196.1 302.7h1.4M197.8 304.4h1.4M217.3 348.6h1.4M185.7 339.5h1.4M336.3 373.9h1.4M344.6 367.5h1.4M321.4 412.8h1.4M275.1 321.8h1.4M272.2 317.2h1.4M268.4 326.3h1.4M270.5 317.5h1.4M272.3 325h1.4M274.4 322h1.4M261.6 319.4h1.4M271.7 324.4h1.4M267.3 325h1.4M264.1 324.5h1.4M273.9 321.2h1.4M272.6 317.3h1.4M270.8 326.9h1.4M261.3 316.7h1.4M261.6 317.1h1.4M264.2 326h1.4M265.4 314.3h1.4M261.1 320.1h1.4"/>
<path stroke="#B4B4B4" stroke-width="2" d="M91 253.2h2M88.6 254.1h2M197.8 320.5h2M197.5 319.9h2M215.4 335.7h2M194.9 355.6h2M245.1 359.9h2M245.8 360.3h2M246.4 359.9h2M335.4 374.5h2M297.8 394.7h2M297.7 395.3h2M290.3 404.5h2M289.6 404.3h2M321.9 410.9h2M319.2 412.4h2M335 411.1h2M273.2 325.1h2M262 317.9h2M262.2 321.4h2M262.9 320.5h2M270 317.1h2M266.1 326.2h2M266.9 325.6h2"/>
<path stroke="#B4B4B4" stroke-width="1.7" d="M153.7 284.8h1.7M152.9 283.2h1.7M197.2 302.8h1.7M198.2 324.8h1.7M195.8 355.8h1.7M343.4 366h1.7M291.1 404.4h1.7M321.9 410.4h1.7M321 412.6h1.7M265.7 315.2h1.7M273.4 325.5h1.7M263.3 323.1h1.7M273.7 319h1.7M272.2 316.5h1.7M271.7 317.5h1.7M272.5 322.9h1.7M265.3 315.3h1.7M269.2 314.8h1.7M263.3 318.6h1.7"/>
<path stroke="#B0B0B0" stroke-width="1.4" d="M265.9 321.8h1.4M269.1 324.5h1.4M268.9 323.7h1.4M265.8 318.9h1.4"/>
<path stroke="#B0B0B0" stroke-width="1.7" d="M270.7 320.8h1.7M266.1 319.6h1.7M267.4 322h1.7M270.7 322.6h1.7"/>
<path stroke="#B0B0B0" stroke-width="2" d="M265.8 319.5h2"/>
<path stroke="#A0A0A0" stroke-width="1.7" d="M269.3 323.3h1.7M265.4 321h1.7M267.4 321.3h1.7M265.5 323h1.7M266.4 321.6h1.7M267.8 317.5h1.7M269 317.3h1.7M263.7 320.4h1.7"/>
<path stroke="#A0A0A0" stroke-width="2" d="M265.6 323.7h2M265.2 322.4h2"/>
<path stroke="#A0A0A0" stroke-width="1.4" d="M266.8 319.9h1.4M269.5 324.3h1.4"/>
<path stroke="#1C34F0" stroke-width="1.7" d="M268.5 323.1h1.7M267.4 321.4h1.7M266.5 318.1h1.7M270.4 319.5h1.7M265.7 321.1h1.7"/>
<path stroke="#1C34F0" stroke-width="2" d="M271.2 321.5h2M268.1 321.3h2"/>
<path stroke="#1C34F0" stroke-width="1.4" d="M267.4 320h1.4M269.3 321h1.4M267.9 317.6h1.4M267.5 322.9h1.4M266.5 323.5h1.4"/>
<path stroke="#5C9CFF" stroke-width="1.4" d="M263.4 319.1h1.4M267.3 321.4h1.4M268.1 318.8h1.4"/>
<path stroke="#5C9CFF" stroke-width="2" d="M270.2 322.3h2M266.9 322.4h2M269.7 321.3h2M265.4 317.8h2"/>
<path stroke="#5C9CFF" stroke-width="1.7" d="M270.3 318.1h1.7M269.1 319.6h1.7"/>
<path stroke="#FF7000" stroke-width="1.7" d="M263.3 321.2h1.7M268.6 317.2h1.7M263.9 320.2h1.7M271.9 322h1.7M271.1 323.4h1.7"/>
<path stroke="#FF7000" stroke-width="2" d="M270.9 322.6h2M266.5 323.3h2"/>
<path stroke="#FF7000" stroke-width="1.4" d="M269.5 319.3h1.4"/>
<path stroke="#E4E4E4" stroke-width="1.5" d="M338 357.6h1.5M462.5 475.7h1.5M442.5 502.2h1.5M467.9 504.8h1.5M208.7 278.6h1.5M324.1 404.6h1.5M328.8 447.3h1.5M290.8 349.3h1.5M392.4 405.9h1.5"/>
<path stroke="#DCDCDC" stroke-width="1.5" d="M405.6 419.9h1.5M258.8 355.5h1.5M199.9 344.2h1.5M412.3 498.6h1.5M276.5 419.4h1.5M309.4 370.2h1.5M232.8 381.2h1.5M242.8 357.7h1.5"/>
</g>
<rect x="21.5" y="203" width="1.6" height="1.6" fill="#E02000"/>
<path d="M112 229l4 1l6 3l4 4l-5 1l-6 -3z" fill="#6CB0FF"/>
<rect x="287.5" y="338" width="1.6" height="1.6" fill="#E02000"/>
<rect x="483" y="536" width="1.5" height="1.5" fill="#FFC000"/>
<rect x="300.0" y="412.0" width="1.8" height="1.6" fill="#5C9CFF"/>
<rect x="296.0" y="413.0" width="1.8" height="1.6" fill="#70CC74"/>
<rect x="326.0" y="422.0" width="1.8" height="1.6" fill="#1C34F0"/>
<rect x="330.0" y="420.0" width="1.8" height="1.6" fill="#5C9CFF"/>
<rect x="323.0" y="424.0" width="1.8" height="1.6" fill="#70CC74"/>
<rect x="344.0" y="420.0" width="1.8" height="1.6" fill="#70CC74"/>
<rect x="305.0" y="405.0" width="1.8" height="1.6" fill="#70CC74"/>
</g>
<g transform="translate(0 0.0)">
<text class="ax" x="15.4" y="286.6" text-anchor="middle">48</text>
<text class="ax" x="94.2" y="286.6" text-anchor="middle">50</text>
<text class="ax" x="173.0" y="286.6" text-anchor="middle">52</text>
<text class="ax" x="251.8" y="286.6" text-anchor="middle">54</text>
<text class="ax" x="330.6" y="286.6" text-anchor="middle">56</text>
<text class="ax" x="409.4" y="286.6" text-anchor="middle">58</text>
<text class="ax" x="240.6" y="54.0" text-anchor="end">-12</text>
<text class="ax" x="240.6" y="138.6" text-anchor="end">-14</text>
<text class="ax" x="240.6" y="223.3" text-anchor="end">-16</text>
<text class="ax" x="240.6" y="307.9" text-anchor="end">-18</text>
<text class="ax" x="240.6" y="392.6" text-anchor="end">-20</text>
<text class="ax" x="240.6" y="477.2" text-anchor="end">-22</text>
<text class="ti" x="37.2" y="65.9">2A23 storm height (km)</text>
<text class="pl" x="456.4" y="522.6" text-anchor="middle">(i)</text>
</g>
<path d="M243.1 294.9h12.6M249.4 288.6v12.6" stroke="#000" stroke-width="4.4"/>
<rect x="495.0" y="531.72" width="9.0" height="8.57" fill="#F7F7F7"/>
<rect x="495.0" y="523.25" width="9.0" height="8.57" fill="#EFEFEF"/>
<rect x="495.0" y="514.78" width="9.0" height="8.57" fill="#E7E7E7"/>
<rect x="495.0" y="506.32" width="9.0" height="8.57" fill="#DFDFDF"/>
<rect x="495.0" y="497.85" width="9.0" height="8.57" fill="#D7D7D7"/>
<rect x="495.0" y="489.38" width="9.0" height="8.57" fill="#CFCFCF"/>
<rect x="495.0" y="480.92" width="9.0" height="8.57" fill="#C6C6C6"/>
<rect x="495.0" y="472.45" width="9.0" height="8.57" fill="#BEBEBE"/>
<rect x="495.0" y="463.98" width="9.0" height="8.57" fill="#B6B6B6"/>
<rect x="495.0" y="455.52" width="9.0" height="8.57" fill="#AEAEAE"/>
<rect x="495.0" y="447.05" width="9.0" height="8.57" fill="#A6A6A6"/>
<rect x="495.0" y="438.58" width="9.0" height="8.57" fill="#9E9E9E"/>
<rect x="495.0" y="430.12" width="9.0" height="8.57" fill="#969696"/>
<rect x="495.0" y="421.65" width="9.0" height="8.57" fill="#8E8E8E"/>
<rect x="495.0" y="413.18" width="9.0" height="8.57" fill="#7EE07E"/>
<rect x="495.0" y="404.72" width="9.0" height="8.57" fill="#78D678"/>
<rect x="495.0" y="396.25" width="9.0" height="8.57" fill="#71CB71"/>
<rect x="495.0" y="387.78" width="9.0" height="8.57" fill="#6AC06A"/>
<rect x="495.0" y="379.32" width="9.0" height="8.57" fill="#64B664"/>
<rect x="495.0" y="370.85" width="9.0" height="8.57" fill="#C8D0FF"/>
<rect x="495.0" y="362.38" width="9.0" height="8.57" fill="#B5CAFF"/>
<rect x="495.0" y="353.92" width="9.0" height="8.57" fill="#A2C3FF"/>
<rect x="495.0" y="345.45" width="9.0" height="8.57" fill="#8FBDFF"/>
<rect x="495.0" y="336.98" width="9.0" height="8.57" fill="#7BB6FF"/>
<rect x="495.0" y="328.52" width="9.0" height="8.57" fill="#64AFFF"/>
<rect x="495.0" y="320.05" width="9.0" height="8.57" fill="#4FA4FF"/>
<rect x="495.0" y="311.58" width="9.0" height="8.57" fill="#4686FF"/>
<rect x="495.0" y="303.12" width="9.0" height="8.57" fill="#3D65FF"/>
<rect x="495.0" y="294.65" width="9.0" height="8.57" fill="#3542FF"/>
<rect x="495.0" y="286.18" width="9.0" height="8.57" fill="#1818FF"/>
<rect x="495.0" y="277.72" width="9.0" height="8.57" fill="#0000F6"/>
<rect x="495.0" y="269.25" width="9.0" height="8.57" fill="#0000E3"/>
<rect x="495.0" y="260.78" width="9.0" height="8.57" fill="#0000D1"/>
<rect x="495.0" y="252.32" width="9.0" height="8.57" fill="#0000BE"/>
<rect x="495.0" y="243.85" width="9.0" height="8.57" fill="#FFFF00"/>
<rect x="495.0" y="235.38" width="9.0" height="8.57" fill="#FFF200"/>
<rect x="495.0" y="226.92" width="9.0" height="8.57" fill="#FFE600"/>
<rect x="495.0" y="218.45" width="9.0" height="8.57" fill="#FFD900"/>
<rect x="495.0" y="209.98" width="9.0" height="8.57" fill="#FFCC00"/>
<rect x="495.0" y="201.52" width="9.0" height="8.57" fill="#FF9200"/>
<rect x="495.0" y="193.05" width="9.0" height="8.57" fill="#FF8A00"/>
<rect x="495.0" y="184.58" width="9.0" height="8.57" fill="#FF8100"/>
<rect x="495.0" y="176.12" width="9.0" height="8.57" fill="#FF7800"/>
<rect x="495.0" y="167.65" width="9.0" height="8.57" fill="#FF7000"/>
<rect x="495.0" y="159.18" width="9.0" height="8.57" fill="#FF4500"/>
<rect x="495.0" y="150.72" width="9.0" height="8.57" fill="#FF3A00"/>
<rect x="495.0" y="142.25" width="9.0" height="8.57" fill="#FF3000"/>
<rect x="495.0" y="133.78" width="9.0" height="8.57" fill="#FF2500"/>
<rect x="495.0" y="125.32" width="9.0" height="8.57" fill="#FF1A00"/>
<rect x="495.0" y="116.85" width="9.0" height="8.57" fill="#CC0000"/>
<rect x="495.0" y="108.38" width="9.0" height="8.57" fill="#C10400"/>
<rect x="495.0" y="99.92" width="9.0" height="8.57" fill="#B60700"/>
<rect x="495.0" y="91.45" width="9.0" height="8.57" fill="#AB0A00"/>
<rect x="495.0" y="82.98" width="9.0" height="8.57" fill="#A00E00"/>
<rect x="495.0" y="74.52" width="9.0" height="8.57" fill="#680E06"/>
<rect x="495.0" y="66.05" width="9.0" height="8.57" fill="#65110A"/>
<rect x="495.0" y="57.58" width="9.0" height="8.57" fill="#62140F"/>
<rect x="495.0" y="49.12" width="9.0" height="8.57" fill="#5F1714"/>
<rect x="495.0" y="40.65" width="9.0" height="8.57" fill="#5C1A18"/>
<path d="M504.0 548.7h2.2" stroke="#000" stroke-width="0.7"/>
<text class="tk" x="533.4" y="557.2" text-anchor="middle">0.0</text>
<path d="M504.0 497.9h2.2" stroke="#000" stroke-width="0.7"/>
<text class="tk" x="533.4" y="506.4" text-anchor="middle">2.0</text>
<path d="M504.0 447.1h2.2" stroke="#000" stroke-width="0.7"/>
<text class="tk" x="533.4" y="455.6" text-anchor="middle">4.0</text>
<path d="M504.0 396.3h2.2" stroke="#000" stroke-width="0.7"/>
<text class="tk" x="533.4" y="404.8" text-anchor="middle">6.0</text>
<path d="M504.0 345.5h2.2" stroke="#000" stroke-width="0.7"/>
<text class="tk" x="533.4" y="354.0" text-anchor="middle">8.0</text>
<path d="M504.0 294.7h2.2" stroke="#000" stroke-width="0.7"/>
<text class="tk" x="533.4" y="303.2" text-anchor="middle">10.0</text>
<path d="M504.0 243.9h2.2" stroke="#000" stroke-width="0.7"/>
<text class="tk" x="533.4" y="252.4" text-anchor="middle">12.0</text>
<path d="M504.0 193.1h2.2" stroke="#000" stroke-width="0.7"/>
<text class="tk" x="533.4" y="201.6" text-anchor="middle">14.0</text>
<path d="M504.0 142.3h2.2" stroke="#000" stroke-width="0.7"/>
<text class="tk" x="533.4" y="150.8" text-anchor="middle">16.0</text>
<path d="M504.0 91.5h2.2" stroke="#000" stroke-width="0.7"/>
<text class="tk" x="533.4" y="100.0" text-anchor="middle">18.0</text>
</g>
</svg></body></html>
